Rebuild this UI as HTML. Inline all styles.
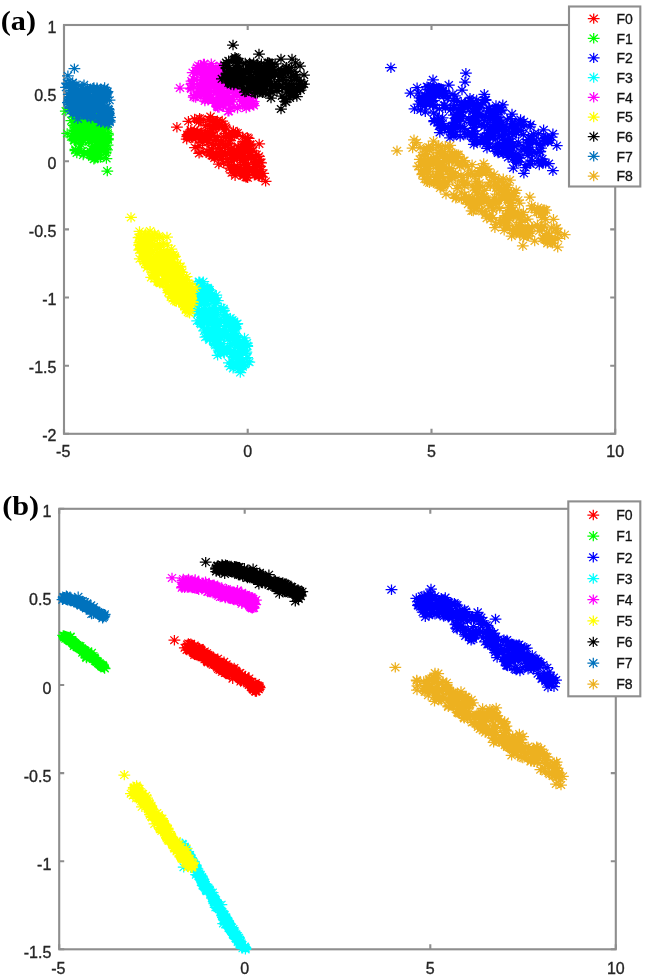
<!DOCTYPE html><html><head><meta charset="utf-8"><title>Scatter plots</title><style>html,body{margin:0;padding:0;background:#fff;width:645px;height:977px;overflow:hidden}svg{display:block;filter:blur(0.35px)}</style></head><body><svg width="645" height="977" viewBox="0 0 645 977"><rect width="645" height="977" fill="#fff"/><rect x="64.0" y="25.0" width="551.2" height="408.8" fill="none" stroke="#8e8e8e" stroke-width="2.1"/><path d="M64.0 433.8v-5M64.0 25.0v5M247.7 433.8v-5M247.7 25.0v5M431.5 433.8v-5M431.5 25.0v5M615.2 433.8v-5M615.2 25.0v5M64.0 25.0h5M615.2 25.0h-5M64.0 93.1h5M615.2 93.1h-5M64.0 161.3h5M615.2 161.3h-5M64.0 229.4h5M615.2 229.4h-5M64.0 297.5h5M615.2 297.5h-5M64.0 365.7h5M615.2 365.7h-5M64.0 433.8h5M615.2 433.8h-5" stroke="#8e8e8e" stroke-width="2.1" fill="none"/><path d="M197.3 134.4h11.8m-5.9-5.2v10.4m-4.1-9l8.2 7.6m-8.2 0l8.2-7.6M210.6 121.2h11.8m-5.9-5.2v10.4m-4.1-9l8.2 7.6m-8.2 0l8.2-7.6M214.1 154.3h11.8m-5.9-5.2v10.4m-4.1-9l8.2 7.6m-8.2 0l8.2-7.6M185.5 137.5h11.8m-5.9-5.2v10.4m-4.1-9l8.2 7.6m-8.2 0l8.2-7.6M226.9 134.9h11.8m-5.9-5.2v10.4m-4.1-9l8.2 7.6m-8.2 0l8.2-7.6M200.8 140.1h11.8m-5.9-5.2v10.4m-4.1-9l8.2 7.6m-8.2 0l8.2-7.6M215.1 159.6h11.8m-5.9-5.2v10.4m-4.1-9l8.2 7.6m-8.2 0l8.2-7.6M189.6 135.0h11.8m-5.9-5.2v10.4m-4.1-9l8.2 7.6m-8.2 0l8.2-7.6M212.7 126.5h11.8m-5.9-5.2v10.4m-4.1-9l8.2 7.6m-8.2 0l8.2-7.6M203.2 152.4h11.8m-5.9-5.2v10.4m-4.1-9l8.2 7.6m-8.2 0l8.2-7.6M243.5 169.3h11.8m-5.9-5.2v10.4m-4.1-9l8.2 7.6m-8.2 0l8.2-7.6M217.6 136.8h11.8m-5.9-5.2v10.4m-4.1-9l8.2 7.6m-8.2 0l8.2-7.6M253.8 162.3h11.8m-5.9-5.2v10.4m-4.1-9l8.2 7.6m-8.2 0l8.2-7.6M250.1 159.2h11.8m-5.9-5.2v10.4m-4.1-9l8.2 7.6m-8.2 0l8.2-7.6M205.9 155.5h11.8m-5.9-5.2v10.4m-4.1-9l8.2 7.6m-8.2 0l8.2-7.6M223.6 168.1h11.8m-5.9-5.2v10.4m-4.1-9l8.2 7.6m-8.2 0l8.2-7.6M244.5 145.0h11.8m-5.9-5.2v10.4m-4.1-9l8.2 7.6m-8.2 0l8.2-7.6M218.0 129.8h11.8m-5.9-5.2v10.4m-4.1-9l8.2 7.6m-8.2 0l8.2-7.6M256.0 177.2h11.8m-5.9-5.2v10.4m-4.1-9l8.2 7.6m-8.2 0l8.2-7.6M217.9 155.7h11.8m-5.9-5.2v10.4m-4.1-9l8.2 7.6m-8.2 0l8.2-7.6M195.7 138.0h11.8m-5.9-5.2v10.4m-4.1-9l8.2 7.6m-8.2 0l8.2-7.6M185.0 131.6h11.8m-5.9-5.2v10.4m-4.1-9l8.2 7.6m-8.2 0l8.2-7.6M236.1 168.9h11.8m-5.9-5.2v10.4m-4.1-9l8.2 7.6m-8.2 0l8.2-7.6M223.1 143.5h11.8m-5.9-5.2v10.4m-4.1-9l8.2 7.6m-8.2 0l8.2-7.6M242.5 164.5h11.8m-5.9-5.2v10.4m-4.1-9l8.2 7.6m-8.2 0l8.2-7.6M232.8 148.0h11.8m-5.9-5.2v10.4m-4.1-9l8.2 7.6m-8.2 0l8.2-7.6M240.0 177.2h11.8m-5.9-5.2v10.4m-4.1-9l8.2 7.6m-8.2 0l8.2-7.6M219.5 152.4h11.8m-5.9-5.2v10.4m-4.1-9l8.2 7.6m-8.2 0l8.2-7.6M229.7 132.4h11.8m-5.9-5.2v10.4m-4.1-9l8.2 7.6m-8.2 0l8.2-7.6M250.6 154.6h11.8m-5.9-5.2v10.4m-4.1-9l8.2 7.6m-8.2 0l8.2-7.6M189.1 147.6h11.8m-5.9-5.2v10.4m-4.1-9l8.2 7.6m-8.2 0l8.2-7.6M255.8 169.8h11.8m-5.9-5.2v10.4m-4.1-9l8.2 7.6m-8.2 0l8.2-7.6M243.3 149.7h11.8m-5.9-5.2v10.4m-4.1-9l8.2 7.6m-8.2 0l8.2-7.6M223.3 151.8h11.8m-5.9-5.2v10.4m-4.1-9l8.2 7.6m-8.2 0l8.2-7.6M192.7 122.3h11.8m-5.9-5.2v10.4m-4.1-9l8.2 7.6m-8.2 0l8.2-7.6M240.2 174.2h11.8m-5.9-5.2v10.4m-4.1-9l8.2 7.6m-8.2 0l8.2-7.6M233.3 171.1h11.8m-5.9-5.2v10.4m-4.1-9l8.2 7.6m-8.2 0l8.2-7.6M217.8 163.1h11.8m-5.9-5.2v10.4m-4.1-9l8.2 7.6m-8.2 0l8.2-7.6M218.5 147.5h11.8m-5.9-5.2v10.4m-4.1-9l8.2 7.6m-8.2 0l8.2-7.6M255.2 162.8h11.8m-5.9-5.2v10.4m-4.1-9l8.2 7.6m-8.2 0l8.2-7.6M201.1 151.0h11.8m-5.9-5.2v10.4m-4.1-9l8.2 7.6m-8.2 0l8.2-7.6M220.0 127.8h11.8m-5.9-5.2v10.4m-4.1-9l8.2 7.6m-8.2 0l8.2-7.6M209.9 124.0h11.8m-5.9-5.2v10.4m-4.1-9l8.2 7.6m-8.2 0l8.2-7.6M227.9 168.3h11.8m-5.9-5.2v10.4m-4.1-9l8.2 7.6m-8.2 0l8.2-7.6M181.4 136.5h11.8m-5.9-5.2v10.4m-4.1-9l8.2 7.6m-8.2 0l8.2-7.6M207.6 124.1h11.8m-5.9-5.2v10.4m-4.1-9l8.2 7.6m-8.2 0l8.2-7.6M182.4 135.9h11.8m-5.9-5.2v10.4m-4.1-9l8.2 7.6m-8.2 0l8.2-7.6M248.5 175.3h11.8m-5.9-5.2v10.4m-4.1-9l8.2 7.6m-8.2 0l8.2-7.6M186.9 137.9h11.8m-5.9-5.2v10.4m-4.1-9l8.2 7.6m-8.2 0l8.2-7.6M182.5 121.3h11.8m-5.9-5.2v10.4m-4.1-9l8.2 7.6m-8.2 0l8.2-7.6M185.2 134.0h11.8m-5.9-5.2v10.4m-4.1-9l8.2 7.6m-8.2 0l8.2-7.6M205.5 149.0h11.8m-5.9-5.2v10.4m-4.1-9l8.2 7.6m-8.2 0l8.2-7.6M226.8 152.2h11.8m-5.9-5.2v10.4m-4.1-9l8.2 7.6m-8.2 0l8.2-7.6M233.6 157.7h11.8m-5.9-5.2v10.4m-4.1-9l8.2 7.6m-8.2 0l8.2-7.6M201.5 133.8h11.8m-5.9-5.2v10.4m-4.1-9l8.2 7.6m-8.2 0l8.2-7.6M237.8 176.0h11.8m-5.9-5.2v10.4m-4.1-9l8.2 7.6m-8.2 0l8.2-7.6M225.9 170.2h11.8m-5.9-5.2v10.4m-4.1-9l8.2 7.6m-8.2 0l8.2-7.6M222.6 135.9h11.8m-5.9-5.2v10.4m-4.1-9l8.2 7.6m-8.2 0l8.2-7.6M242.0 158.6h11.8m-5.9-5.2v10.4m-4.1-9l8.2 7.6m-8.2 0l8.2-7.6M242.9 150.2h11.8m-5.9-5.2v10.4m-4.1-9l8.2 7.6m-8.2 0l8.2-7.6M232.0 146.2h11.8m-5.9-5.2v10.4m-4.1-9l8.2 7.6m-8.2 0l8.2-7.6M225.9 172.8h11.8m-5.9-5.2v10.4m-4.1-9l8.2 7.6m-8.2 0l8.2-7.6M257.3 173.4h11.8m-5.9-5.2v10.4m-4.1-9l8.2 7.6m-8.2 0l8.2-7.6M236.0 170.5h11.8m-5.9-5.2v10.4m-4.1-9l8.2 7.6m-8.2 0l8.2-7.6M223.8 152.5h11.8m-5.9-5.2v10.4m-4.1-9l8.2 7.6m-8.2 0l8.2-7.6M204.0 154.1h11.8m-5.9-5.2v10.4m-4.1-9l8.2 7.6m-8.2 0l8.2-7.6M199.6 125.8h11.8m-5.9-5.2v10.4m-4.1-9l8.2 7.6m-8.2 0l8.2-7.6M242.4 155.0h11.8m-5.9-5.2v10.4m-4.1-9l8.2 7.6m-8.2 0l8.2-7.6M207.9 135.0h11.8m-5.9-5.2v10.4m-4.1-9l8.2 7.6m-8.2 0l8.2-7.6M230.0 170.8h11.8m-5.9-5.2v10.4m-4.1-9l8.2 7.6m-8.2 0l8.2-7.6M216.4 156.3h11.8m-5.9-5.2v10.4m-4.1-9l8.2 7.6m-8.2 0l8.2-7.6M237.2 160.7h11.8m-5.9-5.2v10.4m-4.1-9l8.2 7.6m-8.2 0l8.2-7.6M193.7 118.3h11.8m-5.9-5.2v10.4m-4.1-9l8.2 7.6m-8.2 0l8.2-7.6M252.2 175.9h11.8m-5.9-5.2v10.4m-4.1-9l8.2 7.6m-8.2 0l8.2-7.6M253.4 176.2h11.8m-5.9-5.2v10.4m-4.1-9l8.2 7.6m-8.2 0l8.2-7.6M186.4 133.3h11.8m-5.9-5.2v10.4m-4.1-9l8.2 7.6m-8.2 0l8.2-7.6M188.7 118.9h11.8m-5.9-5.2v10.4m-4.1-9l8.2 7.6m-8.2 0l8.2-7.6M184.7 132.5h11.8m-5.9-5.2v10.4m-4.1-9l8.2 7.6m-8.2 0l8.2-7.6M238.0 150.6h11.8m-5.9-5.2v10.4m-4.1-9l8.2 7.6m-8.2 0l8.2-7.6M191.5 131.5h11.8m-5.9-5.2v10.4m-4.1-9l8.2 7.6m-8.2 0l8.2-7.6M224.3 140.6h11.8m-5.9-5.2v10.4m-4.1-9l8.2 7.6m-8.2 0l8.2-7.6M228.5 167.7h11.8m-5.9-5.2v10.4m-4.1-9l8.2 7.6m-8.2 0l8.2-7.6M219.5 144.3h11.8m-5.9-5.2v10.4m-4.1-9l8.2 7.6m-8.2 0l8.2-7.6M237.7 146.0h11.8m-5.9-5.2v10.4m-4.1-9l8.2 7.6m-8.2 0l8.2-7.6M239.4 147.0h11.8m-5.9-5.2v10.4m-4.1-9l8.2 7.6m-8.2 0l8.2-7.6M193.2 153.4h11.8m-5.9-5.2v10.4m-4.1-9l8.2 7.6m-8.2 0l8.2-7.6M249.1 159.2h11.8m-5.9-5.2v10.4m-4.1-9l8.2 7.6m-8.2 0l8.2-7.6M227.9 158.3h11.8m-5.9-5.2v10.4m-4.1-9l8.2 7.6m-8.2 0l8.2-7.6M212.4 140.9h11.8m-5.9-5.2v10.4m-4.1-9l8.2 7.6m-8.2 0l8.2-7.6M181.6 134.6h11.8m-5.9-5.2v10.4m-4.1-9l8.2 7.6m-8.2 0l8.2-7.6M219.3 126.2h11.8m-5.9-5.2v10.4m-4.1-9l8.2 7.6m-8.2 0l8.2-7.6M251.5 163.9h11.8m-5.9-5.2v10.4m-4.1-9l8.2 7.6m-8.2 0l8.2-7.6M225.5 149.0h11.8m-5.9-5.2v10.4m-4.1-9l8.2 7.6m-8.2 0l8.2-7.6M253.8 159.0h11.8m-5.9-5.2v10.4m-4.1-9l8.2 7.6m-8.2 0l8.2-7.6M226.0 132.8h11.8m-5.9-5.2v10.4m-4.1-9l8.2 7.6m-8.2 0l8.2-7.6M237.5 164.4h11.8m-5.9-5.2v10.4m-4.1-9l8.2 7.6m-8.2 0l8.2-7.6M235.8 156.3h11.8m-5.9-5.2v10.4m-4.1-9l8.2 7.6m-8.2 0l8.2-7.6M233.6 172.0h11.8m-5.9-5.2v10.4m-4.1-9l8.2 7.6m-8.2 0l8.2-7.6M211.4 122.7h11.8m-5.9-5.2v10.4m-4.1-9l8.2 7.6m-8.2 0l8.2-7.6M206.0 121.3h11.8m-5.9-5.2v10.4m-4.1-9l8.2 7.6m-8.2 0l8.2-7.6M250.0 167.9h11.8m-5.9-5.2v10.4m-4.1-9l8.2 7.6m-8.2 0l8.2-7.6M241.0 168.2h11.8m-5.9-5.2v10.4m-4.1-9l8.2 7.6m-8.2 0l8.2-7.6M206.1 143.5h11.8m-5.9-5.2v10.4m-4.1-9l8.2 7.6m-8.2 0l8.2-7.6M236.6 172.4h11.8m-5.9-5.2v10.4m-4.1-9l8.2 7.6m-8.2 0l8.2-7.6M247.2 150.8h11.8m-5.9-5.2v10.4m-4.1-9l8.2 7.6m-8.2 0l8.2-7.6M236.7 136.6h11.8m-5.9-5.2v10.4m-4.1-9l8.2 7.6m-8.2 0l8.2-7.6M204.7 128.4h11.8m-5.9-5.2v10.4m-4.1-9l8.2 7.6m-8.2 0l8.2-7.6M196.5 142.5h11.8m-5.9-5.2v10.4m-4.1-9l8.2 7.6m-8.2 0l8.2-7.6M239.9 177.3h11.8m-5.9-5.2v10.4m-4.1-9l8.2 7.6m-8.2 0l8.2-7.6M247.1 156.2h11.8m-5.9-5.2v10.4m-4.1-9l8.2 7.6m-8.2 0l8.2-7.6M208.6 157.9h11.8m-5.9-5.2v10.4m-4.1-9l8.2 7.6m-8.2 0l8.2-7.6M193.1 133.8h11.8m-5.9-5.2v10.4m-4.1-9l8.2 7.6m-8.2 0l8.2-7.6M223.2 158.4h11.8m-5.9-5.2v10.4m-4.1-9l8.2 7.6m-8.2 0l8.2-7.6M252.9 171.5h11.8m-5.9-5.2v10.4m-4.1-9l8.2 7.6m-8.2 0l8.2-7.6M222.6 140.8h11.8m-5.9-5.2v10.4m-4.1-9l8.2 7.6m-8.2 0l8.2-7.6M195.1 152.1h11.8m-5.9-5.2v10.4m-4.1-9l8.2 7.6m-8.2 0l8.2-7.6M221.2 161.5h11.8m-5.9-5.2v10.4m-4.1-9l8.2 7.6m-8.2 0l8.2-7.6M229.2 175.7h11.8m-5.9-5.2v10.4m-4.1-9l8.2 7.6m-8.2 0l8.2-7.6M203.7 153.8h11.8m-5.9-5.2v10.4m-4.1-9l8.2 7.6m-8.2 0l8.2-7.6M198.7 137.1h11.8m-5.9-5.2v10.4m-4.1-9l8.2 7.6m-8.2 0l8.2-7.6M204.3 139.4h11.8m-5.9-5.2v10.4m-4.1-9l8.2 7.6m-8.2 0l8.2-7.6M237.8 162.7h11.8m-5.9-5.2v10.4m-4.1-9l8.2 7.6m-8.2 0l8.2-7.6M203.0 119.0h11.8m-5.9-5.2v10.4m-4.1-9l8.2 7.6m-8.2 0l8.2-7.6M191.9 135.6h11.8m-5.9-5.2v10.4m-4.1-9l8.2 7.6m-8.2 0l8.2-7.6M215.6 124.2h11.8m-5.9-5.2v10.4m-4.1-9l8.2 7.6m-8.2 0l8.2-7.6M190.8 132.5h11.8m-5.9-5.2v10.4m-4.1-9l8.2 7.6m-8.2 0l8.2-7.6M234.0 173.5h11.8m-5.9-5.2v10.4m-4.1-9l8.2 7.6m-8.2 0l8.2-7.6M213.2 126.2h11.8m-5.9-5.2v10.4m-4.1-9l8.2 7.6m-8.2 0l8.2-7.6M227.8 152.9h11.8m-5.9-5.2v10.4m-4.1-9l8.2 7.6m-8.2 0l8.2-7.6M228.2 149.6h11.8m-5.9-5.2v10.4m-4.1-9l8.2 7.6m-8.2 0l8.2-7.6M231.7 132.9h11.8m-5.9-5.2v10.4m-4.1-9l8.2 7.6m-8.2 0l8.2-7.6M193.1 145.4h11.8m-5.9-5.2v10.4m-4.1-9l8.2 7.6m-8.2 0l8.2-7.6M250.8 173.9h11.8m-5.9-5.2v10.4m-4.1-9l8.2 7.6m-8.2 0l8.2-7.6M243.1 171.1h11.8m-5.9-5.2v10.4m-4.1-9l8.2 7.6m-8.2 0l8.2-7.6M228.5 166.4h11.8m-5.9-5.2v10.4m-4.1-9l8.2 7.6m-8.2 0l8.2-7.6M238.1 144.3h11.8m-5.9-5.2v10.4m-4.1-9l8.2 7.6m-8.2 0l8.2-7.6M225.8 160.9h11.8m-5.9-5.2v10.4m-4.1-9l8.2 7.6m-8.2 0l8.2-7.6M206.2 131.9h11.8m-5.9-5.2v10.4m-4.1-9l8.2 7.6m-8.2 0l8.2-7.6M247.8 164.4h11.8m-5.9-5.2v10.4m-4.1-9l8.2 7.6m-8.2 0l8.2-7.6M201.2 124.8h11.8m-5.9-5.2v10.4m-4.1-9l8.2 7.6m-8.2 0l8.2-7.6M220.6 133.7h11.8m-5.9-5.2v10.4m-4.1-9l8.2 7.6m-8.2 0l8.2-7.6M203.0 119.5h11.8m-5.9-5.2v10.4m-4.1-9l8.2 7.6m-8.2 0l8.2-7.6M198.1 141.0h11.8m-5.9-5.2v10.4m-4.1-9l8.2 7.6m-8.2 0l8.2-7.6M224.2 136.2h11.8m-5.9-5.2v10.4m-4.1-9l8.2 7.6m-8.2 0l8.2-7.6M218.9 145.5h11.8m-5.9-5.2v10.4m-4.1-9l8.2 7.6m-8.2 0l8.2-7.6M202.5 137.0h11.8m-5.9-5.2v10.4m-4.1-9l8.2 7.6m-8.2 0l8.2-7.6M242.8 138.4h11.8m-5.9-5.2v10.4m-4.1-9l8.2 7.6m-8.2 0l8.2-7.6M212.9 145.7h11.8m-5.9-5.2v10.4m-4.1-9l8.2 7.6m-8.2 0l8.2-7.6M241.5 137.4h11.8m-5.9-5.2v10.4m-4.1-9l8.2 7.6m-8.2 0l8.2-7.6M207.3 156.0h11.8m-5.9-5.2v10.4m-4.1-9l8.2 7.6m-8.2 0l8.2-7.6M207.7 145.0h11.8m-5.9-5.2v10.4m-4.1-9l8.2 7.6m-8.2 0l8.2-7.6M206.3 151.0h11.8m-5.9-5.2v10.4m-4.1-9l8.2 7.6m-8.2 0l8.2-7.6M228.4 150.5h11.8m-5.9-5.2v10.4m-4.1-9l8.2 7.6m-8.2 0l8.2-7.6M210.2 153.4h11.8m-5.9-5.2v10.4m-4.1-9l8.2 7.6m-8.2 0l8.2-7.6M190.3 134.4h11.8m-5.9-5.2v10.4m-4.1-9l8.2 7.6m-8.2 0l8.2-7.6M195.8 134.8h11.8m-5.9-5.2v10.4m-4.1-9l8.2 7.6m-8.2 0l8.2-7.6M253.0 156.3h11.8m-5.9-5.2v10.4m-4.1-9l8.2 7.6m-8.2 0l8.2-7.6M200.5 139.6h11.8m-5.9-5.2v10.4m-4.1-9l8.2 7.6m-8.2 0l8.2-7.6M210.3 139.9h11.8m-5.9-5.2v10.4m-4.1-9l8.2 7.6m-8.2 0l8.2-7.6M194.7 135.8h11.8m-5.9-5.2v10.4m-4.1-9l8.2 7.6m-8.2 0l8.2-7.6M206.8 155.4h11.8m-5.9-5.2v10.4m-4.1-9l8.2 7.6m-8.2 0l8.2-7.6M227.5 130.7h11.8m-5.9-5.2v10.4m-4.1-9l8.2 7.6m-8.2 0l8.2-7.6M190.2 138.3h11.8m-5.9-5.2v10.4m-4.1-9l8.2 7.6m-8.2 0l8.2-7.6M185.1 134.0h11.8m-5.9-5.2v10.4m-4.1-9l8.2 7.6m-8.2 0l8.2-7.6M229.7 168.9h11.8m-5.9-5.2v10.4m-4.1-9l8.2 7.6m-8.2 0l8.2-7.6M231.2 153.8h11.8m-5.9-5.2v10.4m-4.1-9l8.2 7.6m-8.2 0l8.2-7.6M237.3 175.5h11.8m-5.9-5.2v10.4m-4.1-9l8.2 7.6m-8.2 0l8.2-7.6M243.4 146.2h11.8m-5.9-5.2v10.4m-4.1-9l8.2 7.6m-8.2 0l8.2-7.6M211.5 120.8h11.8m-5.9-5.2v10.4m-4.1-9l8.2 7.6m-8.2 0l8.2-7.6M242.1 156.7h11.8m-5.9-5.2v10.4m-4.1-9l8.2 7.6m-8.2 0l8.2-7.6M208.1 129.1h11.8m-5.9-5.2v10.4m-4.1-9l8.2 7.6m-8.2 0l8.2-7.6M241.8 177.8h11.8m-5.9-5.2v10.4m-4.1-9l8.2 7.6m-8.2 0l8.2-7.6M194.0 120.5h11.8m-5.9-5.2v10.4m-4.1-9l8.2 7.6m-8.2 0l8.2-7.6M249.3 174.4h11.8m-5.9-5.2v10.4m-4.1-9l8.2 7.6m-8.2 0l8.2-7.6M243.2 170.2h11.8m-5.9-5.2v10.4m-4.1-9l8.2 7.6m-8.2 0l8.2-7.6M248.7 159.7h11.8m-5.9-5.2v10.4m-4.1-9l8.2 7.6m-8.2 0l8.2-7.6M236.6 152.8h11.8m-5.9-5.2v10.4m-4.1-9l8.2 7.6m-8.2 0l8.2-7.6M190.6 133.1h11.8m-5.9-5.2v10.4m-4.1-9l8.2 7.6m-8.2 0l8.2-7.6M184.7 135.1h11.8m-5.9-5.2v10.4m-4.1-9l8.2 7.6m-8.2 0l8.2-7.6M209.9 155.1h11.8m-5.9-5.2v10.4m-4.1-9l8.2 7.6m-8.2 0l8.2-7.6M211.4 137.6h11.8m-5.9-5.2v10.4m-4.1-9l8.2 7.6m-8.2 0l8.2-7.6M180.8 139.2h11.8m-5.9-5.2v10.4m-4.1-9l8.2 7.6m-8.2 0l8.2-7.6M183.3 137.2h11.8m-5.9-5.2v10.4m-4.1-9l8.2 7.6m-8.2 0l8.2-7.6M253.6 166.6h11.8m-5.9-5.2v10.4m-4.1-9l8.2 7.6m-8.2 0l8.2-7.6M202.2 142.2h11.8m-5.9-5.2v10.4m-4.1-9l8.2 7.6m-8.2 0l8.2-7.6M236.4 171.9h11.8m-5.9-5.2v10.4m-4.1-9l8.2 7.6m-8.2 0l8.2-7.6M230.4 171.9h11.8m-5.9-5.2v10.4m-4.1-9l8.2 7.6m-8.2 0l8.2-7.6M204.9 132.8h11.8m-5.9-5.2v10.4m-4.1-9l8.2 7.6m-8.2 0l8.2-7.6M228.4 167.1h11.8m-5.9-5.2v10.4m-4.1-9l8.2 7.6m-8.2 0l8.2-7.6M204.6 116.6h11.8m-5.9-5.2v10.4m-4.1-9l8.2 7.6m-8.2 0l8.2-7.6M238.3 141.7h11.8m-5.9-5.2v10.4m-4.1-9l8.2 7.6m-8.2 0l8.2-7.6M245.1 151.8h11.8m-5.9-5.2v10.4m-4.1-9l8.2 7.6m-8.2 0l8.2-7.6M186.1 132.0h11.8m-5.9-5.2v10.4m-4.1-9l8.2 7.6m-8.2 0l8.2-7.6M198.9 133.9h11.8m-5.9-5.2v10.4m-4.1-9l8.2 7.6m-8.2 0l8.2-7.6M238.7 148.7h11.8m-5.9-5.2v10.4m-4.1-9l8.2 7.6m-8.2 0l8.2-7.6M215.3 155.4h11.8m-5.9-5.2v10.4m-4.1-9l8.2 7.6m-8.2 0l8.2-7.6M239.7 143.6h11.8m-5.9-5.2v10.4m-4.1-9l8.2 7.6m-8.2 0l8.2-7.6M259.7 181.4h11.8m-5.9-5.2v10.4m-4.1-9l8.2 7.6m-8.2 0l8.2-7.6M245.6 157.2h11.8m-5.9-5.2v10.4m-4.1-9l8.2 7.6m-8.2 0l8.2-7.6M184.9 130.1h11.8m-5.9-5.2v10.4m-4.1-9l8.2 7.6m-8.2 0l8.2-7.6M228.8 135.5h11.8m-5.9-5.2v10.4m-4.1-9l8.2 7.6m-8.2 0l8.2-7.6M216.3 121.0h11.8m-5.9-5.2v10.4m-4.1-9l8.2 7.6m-8.2 0l8.2-7.6M239.4 169.9h11.8m-5.9-5.2v10.4m-4.1-9l8.2 7.6m-8.2 0l8.2-7.6M208.7 124.8h11.8m-5.9-5.2v10.4m-4.1-9l8.2 7.6m-8.2 0l8.2-7.6M241.0 177.2h11.8m-5.9-5.2v10.4m-4.1-9l8.2 7.6m-8.2 0l8.2-7.6M195.3 119.3h11.8m-5.9-5.2v10.4m-4.1-9l8.2 7.6m-8.2 0l8.2-7.6M213.6 147.9h11.8m-5.9-5.2v10.4m-4.1-9l8.2 7.6m-8.2 0l8.2-7.6M245.4 152.4h11.8m-5.9-5.2v10.4m-4.1-9l8.2 7.6m-8.2 0l8.2-7.6M250.7 172.3h11.8m-5.9-5.2v10.4m-4.1-9l8.2 7.6m-8.2 0l8.2-7.6M240.6 174.4h11.8m-5.9-5.2v10.4m-4.1-9l8.2 7.6m-8.2 0l8.2-7.6M212.9 164.1h11.8m-5.9-5.2v10.4m-4.1-9l8.2 7.6m-8.2 0l8.2-7.6M223.6 165.7h11.8m-5.9-5.2v10.4m-4.1-9l8.2 7.6m-8.2 0l8.2-7.6M227.4 159.0h11.8m-5.9-5.2v10.4m-4.1-9l8.2 7.6m-8.2 0l8.2-7.6M236.0 150.4h11.8m-5.9-5.2v10.4m-4.1-9l8.2 7.6m-8.2 0l8.2-7.6M195.4 132.5h11.8m-5.9-5.2v10.4m-4.1-9l8.2 7.6m-8.2 0l8.2-7.6M181.6 134.9h11.8m-5.9-5.2v10.4m-4.1-9l8.2 7.6m-8.2 0l8.2-7.6M253.3 143.9h11.8m-5.9-5.2v10.4m-4.1-9l8.2 7.6m-8.2 0l8.2-7.6M215.1 141.0h11.8m-5.9-5.2v10.4m-4.1-9l8.2 7.6m-8.2 0l8.2-7.6M244.0 144.2h11.8m-5.9-5.2v10.4m-4.1-9l8.2 7.6m-8.2 0l8.2-7.6M206.1 130.0h11.8m-5.9-5.2v10.4m-4.1-9l8.2 7.6m-8.2 0l8.2-7.6M171.0 127.2h11.8m-5.9-5.2v10.4m-4.1-9l8.2 7.6m-8.2 0l8.2-7.6M256.1 177.0h11.8m-5.9-5.2v10.4m-4.1-9l8.2 7.6m-8.2 0l8.2-7.6" stroke="#ff0000" stroke-width="1.25" fill="none"/><path d="M76.7 140.1h11.8m-5.9-5.2v10.4m-4.1-9l8.2 7.6m-8.2 0l8.2-7.6M94.6 134.7h11.8m-5.9-5.2v10.4m-4.1-9l8.2 7.6m-8.2 0l8.2-7.6M89.9 135.0h11.8m-5.9-5.2v10.4m-4.1-9l8.2 7.6m-8.2 0l8.2-7.6M102.2 134.9h11.8m-5.9-5.2v10.4m-4.1-9l8.2 7.6m-8.2 0l8.2-7.6M99.9 135.5h11.8m-5.9-5.2v10.4m-4.1-9l8.2 7.6m-8.2 0l8.2-7.6M76.8 139.1h11.8m-5.9-5.2v10.4m-4.1-9l8.2 7.6m-8.2 0l8.2-7.6M81.4 153.3h11.8m-5.9-5.2v10.4m-4.1-9l8.2 7.6m-8.2 0l8.2-7.6M89.4 127.7h11.8m-5.9-5.2v10.4m-4.1-9l8.2 7.6m-8.2 0l8.2-7.6M85.9 132.8h11.8m-5.9-5.2v10.4m-4.1-9l8.2 7.6m-8.2 0l8.2-7.6M69.5 122.3h11.8m-5.9-5.2v10.4m-4.1-9l8.2 7.6m-8.2 0l8.2-7.6M68.1 139.9h11.8m-5.9-5.2v10.4m-4.1-9l8.2 7.6m-8.2 0l8.2-7.6M97.5 143.0h11.8m-5.9-5.2v10.4m-4.1-9l8.2 7.6m-8.2 0l8.2-7.6M69.4 116.7h11.8m-5.9-5.2v10.4m-4.1-9l8.2 7.6m-8.2 0l8.2-7.6M89.3 120.3h11.8m-5.9-5.2v10.4m-4.1-9l8.2 7.6m-8.2 0l8.2-7.6M95.7 149.0h11.8m-5.9-5.2v10.4m-4.1-9l8.2 7.6m-8.2 0l8.2-7.6M92.1 154.5h11.8m-5.9-5.2v10.4m-4.1-9l8.2 7.6m-8.2 0l8.2-7.6M77.4 119.6h11.8m-5.9-5.2v10.4m-4.1-9l8.2 7.6m-8.2 0l8.2-7.6M91.7 125.8h11.8m-5.9-5.2v10.4m-4.1-9l8.2 7.6m-8.2 0l8.2-7.6M81.1 128.5h11.8m-5.9-5.2v10.4m-4.1-9l8.2 7.6m-8.2 0l8.2-7.6M77.9 125.8h11.8m-5.9-5.2v10.4m-4.1-9l8.2 7.6m-8.2 0l8.2-7.6M77.3 155.1h11.8m-5.9-5.2v10.4m-4.1-9l8.2 7.6m-8.2 0l8.2-7.6M78.1 134.9h11.8m-5.9-5.2v10.4m-4.1-9l8.2 7.6m-8.2 0l8.2-7.6M101.7 145.1h11.8m-5.9-5.2v10.4m-4.1-9l8.2 7.6m-8.2 0l8.2-7.6M99.6 123.9h11.8m-5.9-5.2v10.4m-4.1-9l8.2 7.6m-8.2 0l8.2-7.6M80.9 122.3h11.8m-5.9-5.2v10.4m-4.1-9l8.2 7.6m-8.2 0l8.2-7.6M72.8 141.2h11.8m-5.9-5.2v10.4m-4.1-9l8.2 7.6m-8.2 0l8.2-7.6M76.4 140.2h11.8m-5.9-5.2v10.4m-4.1-9l8.2 7.6m-8.2 0l8.2-7.6M89.5 134.8h11.8m-5.9-5.2v10.4m-4.1-9l8.2 7.6m-8.2 0l8.2-7.6M95.3 115.5h11.8m-5.9-5.2v10.4m-4.1-9l8.2 7.6m-8.2 0l8.2-7.6M97.3 141.7h11.8m-5.9-5.2v10.4m-4.1-9l8.2 7.6m-8.2 0l8.2-7.6M88.6 148.7h11.8m-5.9-5.2v10.4m-4.1-9l8.2 7.6m-8.2 0l8.2-7.6M77.5 117.0h11.8m-5.9-5.2v10.4m-4.1-9l8.2 7.6m-8.2 0l8.2-7.6M99.0 150.1h11.8m-5.9-5.2v10.4m-4.1-9l8.2 7.6m-8.2 0l8.2-7.6M88.8 152.5h11.8m-5.9-5.2v10.4m-4.1-9l8.2 7.6m-8.2 0l8.2-7.6M95.6 129.2h11.8m-5.9-5.2v10.4m-4.1-9l8.2 7.6m-8.2 0l8.2-7.6M95.8 149.8h11.8m-5.9-5.2v10.4m-4.1-9l8.2 7.6m-8.2 0l8.2-7.6M97.8 148.7h11.8m-5.9-5.2v10.4m-4.1-9l8.2 7.6m-8.2 0l8.2-7.6M88.3 135.2h11.8m-5.9-5.2v10.4m-4.1-9l8.2 7.6m-8.2 0l8.2-7.6M82.9 142.0h11.8m-5.9-5.2v10.4m-4.1-9l8.2 7.6m-8.2 0l8.2-7.6M70.9 153.0h11.8m-5.9-5.2v10.4m-4.1-9l8.2 7.6m-8.2 0l8.2-7.6M87.9 115.8h11.8m-5.9-5.2v10.4m-4.1-9l8.2 7.6m-8.2 0l8.2-7.6M96.8 126.9h11.8m-5.9-5.2v10.4m-4.1-9l8.2 7.6m-8.2 0l8.2-7.6M68.6 135.0h11.8m-5.9-5.2v10.4m-4.1-9l8.2 7.6m-8.2 0l8.2-7.6M75.9 128.5h11.8m-5.9-5.2v10.4m-4.1-9l8.2 7.6m-8.2 0l8.2-7.6M91.8 158.1h11.8m-5.9-5.2v10.4m-4.1-9l8.2 7.6m-8.2 0l8.2-7.6M99.3 152.9h11.8m-5.9-5.2v10.4m-4.1-9l8.2 7.6m-8.2 0l8.2-7.6M95.6 129.4h11.8m-5.9-5.2v10.4m-4.1-9l8.2 7.6m-8.2 0l8.2-7.6M91.3 144.7h11.8m-5.9-5.2v10.4m-4.1-9l8.2 7.6m-8.2 0l8.2-7.6M80.2 124.6h11.8m-5.9-5.2v10.4m-4.1-9l8.2 7.6m-8.2 0l8.2-7.6M100.0 126.4h11.8m-5.9-5.2v10.4m-4.1-9l8.2 7.6m-8.2 0l8.2-7.6M95.0 132.5h11.8m-5.9-5.2v10.4m-4.1-9l8.2 7.6m-8.2 0l8.2-7.6M99.4 128.2h11.8m-5.9-5.2v10.4m-4.1-9l8.2 7.6m-8.2 0l8.2-7.6M72.7 130.1h11.8m-5.9-5.2v10.4m-4.1-9l8.2 7.6m-8.2 0l8.2-7.6M69.3 124.9h11.8m-5.9-5.2v10.4m-4.1-9l8.2 7.6m-8.2 0l8.2-7.6M78.4 115.0h11.8m-5.9-5.2v10.4m-4.1-9l8.2 7.6m-8.2 0l8.2-7.6M88.8 137.0h11.8m-5.9-5.2v10.4m-4.1-9l8.2 7.6m-8.2 0l8.2-7.6M98.9 127.0h11.8m-5.9-5.2v10.4m-4.1-9l8.2 7.6m-8.2 0l8.2-7.6M79.6 116.3h11.8m-5.9-5.2v10.4m-4.1-9l8.2 7.6m-8.2 0l8.2-7.6M86.4 121.7h11.8m-5.9-5.2v10.4m-4.1-9l8.2 7.6m-8.2 0l8.2-7.6M71.0 121.6h11.8m-5.9-5.2v10.4m-4.1-9l8.2 7.6m-8.2 0l8.2-7.6M96.3 114.4h11.8m-5.9-5.2v10.4m-4.1-9l8.2 7.6m-8.2 0l8.2-7.6M100.2 140.0h11.8m-5.9-5.2v10.4m-4.1-9l8.2 7.6m-8.2 0l8.2-7.6M92.1 146.4h11.8m-5.9-5.2v10.4m-4.1-9l8.2 7.6m-8.2 0l8.2-7.6M86.9 133.0h11.8m-5.9-5.2v10.4m-4.1-9l8.2 7.6m-8.2 0l8.2-7.6M70.8 136.6h11.8m-5.9-5.2v10.4m-4.1-9l8.2 7.6m-8.2 0l8.2-7.6M81.2 118.5h11.8m-5.9-5.2v10.4m-4.1-9l8.2 7.6m-8.2 0l8.2-7.6M86.4 156.9h11.8m-5.9-5.2v10.4m-4.1-9l8.2 7.6m-8.2 0l8.2-7.6M75.9 151.6h11.8m-5.9-5.2v10.4m-4.1-9l8.2 7.6m-8.2 0l8.2-7.6M86.1 138.7h11.8m-5.9-5.2v10.4m-4.1-9l8.2 7.6m-8.2 0l8.2-7.6M68.6 140.8h11.8m-5.9-5.2v10.4m-4.1-9l8.2 7.6m-8.2 0l8.2-7.6M92.2 156.0h11.8m-5.9-5.2v10.4m-4.1-9l8.2 7.6m-8.2 0l8.2-7.6M85.2 136.6h11.8m-5.9-5.2v10.4m-4.1-9l8.2 7.6m-8.2 0l8.2-7.6M92.8 128.0h11.8m-5.9-5.2v10.4m-4.1-9l8.2 7.6m-8.2 0l8.2-7.6M101.8 139.9h11.8m-5.9-5.2v10.4m-4.1-9l8.2 7.6m-8.2 0l8.2-7.6M94.7 157.5h11.8m-5.9-5.2v10.4m-4.1-9l8.2 7.6m-8.2 0l8.2-7.6M88.0 156.5h11.8m-5.9-5.2v10.4m-4.1-9l8.2 7.6m-8.2 0l8.2-7.6M82.8 140.3h11.8m-5.9-5.2v10.4m-4.1-9l8.2 7.6m-8.2 0l8.2-7.6M86.2 153.6h11.8m-5.9-5.2v10.4m-4.1-9l8.2 7.6m-8.2 0l8.2-7.6M98.9 121.5h11.8m-5.9-5.2v10.4m-4.1-9l8.2 7.6m-8.2 0l8.2-7.6M69.7 139.5h11.8m-5.9-5.2v10.4m-4.1-9l8.2 7.6m-8.2 0l8.2-7.6M70.1 131.1h11.8m-5.9-5.2v10.4m-4.1-9l8.2 7.6m-8.2 0l8.2-7.6M75.1 119.8h11.8m-5.9-5.2v10.4m-4.1-9l8.2 7.6m-8.2 0l8.2-7.6M89.6 152.7h11.8m-5.9-5.2v10.4m-4.1-9l8.2 7.6m-8.2 0l8.2-7.6M87.4 129.5h11.8m-5.9-5.2v10.4m-4.1-9l8.2 7.6m-8.2 0l8.2-7.6M87.6 150.2h11.8m-5.9-5.2v10.4m-4.1-9l8.2 7.6m-8.2 0l8.2-7.6M93.8 130.5h11.8m-5.9-5.2v10.4m-4.1-9l8.2 7.6m-8.2 0l8.2-7.6M91.7 140.7h11.8m-5.9-5.2v10.4m-4.1-9l8.2 7.6m-8.2 0l8.2-7.6M87.7 153.2h11.8m-5.9-5.2v10.4m-4.1-9l8.2 7.6m-8.2 0l8.2-7.6M75.6 144.9h11.8m-5.9-5.2v10.4m-4.1-9l8.2 7.6m-8.2 0l8.2-7.6M75.9 136.0h11.8m-5.9-5.2v10.4m-4.1-9l8.2 7.6m-8.2 0l8.2-7.6M74.5 131.5h11.8m-5.9-5.2v10.4m-4.1-9l8.2 7.6m-8.2 0l8.2-7.6M71.4 123.1h11.8m-5.9-5.2v10.4m-4.1-9l8.2 7.6m-8.2 0l8.2-7.6M97.3 136.8h11.8m-5.9-5.2v10.4m-4.1-9l8.2 7.6m-8.2 0l8.2-7.6M89.9 139.3h11.8m-5.9-5.2v10.4m-4.1-9l8.2 7.6m-8.2 0l8.2-7.6M87.2 153.7h11.8m-5.9-5.2v10.4m-4.1-9l8.2 7.6m-8.2 0l8.2-7.6M94.6 132.4h11.8m-5.9-5.2v10.4m-4.1-9l8.2 7.6m-8.2 0l8.2-7.6M96.0 124.6h11.8m-5.9-5.2v10.4m-4.1-9l8.2 7.6m-8.2 0l8.2-7.6M91.6 122.1h11.8m-5.9-5.2v10.4m-4.1-9l8.2 7.6m-8.2 0l8.2-7.6M91.8 125.6h11.8m-5.9-5.2v10.4m-4.1-9l8.2 7.6m-8.2 0l8.2-7.6M97.0 125.3h11.8m-5.9-5.2v10.4m-4.1-9l8.2 7.6m-8.2 0l8.2-7.6M78.5 124.5h11.8m-5.9-5.2v10.4m-4.1-9l8.2 7.6m-8.2 0l8.2-7.6M93.1 122.9h11.8m-5.9-5.2v10.4m-4.1-9l8.2 7.6m-8.2 0l8.2-7.6M101.1 149.9h11.8m-5.9-5.2v10.4m-4.1-9l8.2 7.6m-8.2 0l8.2-7.6M77.9 129.1h11.8m-5.9-5.2v10.4m-4.1-9l8.2 7.6m-8.2 0l8.2-7.6M101.8 133.3h11.8m-5.9-5.2v10.4m-4.1-9l8.2 7.6m-8.2 0l8.2-7.6M71.4 117.7h11.8m-5.9-5.2v10.4m-4.1-9l8.2 7.6m-8.2 0l8.2-7.6M81.3 123.5h11.8m-5.9-5.2v10.4m-4.1-9l8.2 7.6m-8.2 0l8.2-7.6M97.8 142.4h11.8m-5.9-5.2v10.4m-4.1-9l8.2 7.6m-8.2 0l8.2-7.6M77.5 140.3h11.8m-5.9-5.2v10.4m-4.1-9l8.2 7.6m-8.2 0l8.2-7.6M99.8 152.1h11.8m-5.9-5.2v10.4m-4.1-9l8.2 7.6m-8.2 0l8.2-7.6M67.8 125.3h11.8m-5.9-5.2v10.4m-4.1-9l8.2 7.6m-8.2 0l8.2-7.6M97.4 135.3h11.8m-5.9-5.2v10.4m-4.1-9l8.2 7.6m-8.2 0l8.2-7.6M85.5 142.5h11.8m-5.9-5.2v10.4m-4.1-9l8.2 7.6m-8.2 0l8.2-7.6M74.0 120.0h11.8m-5.9-5.2v10.4m-4.1-9l8.2 7.6m-8.2 0l8.2-7.6M70.9 129.7h11.8m-5.9-5.2v10.4m-4.1-9l8.2 7.6m-8.2 0l8.2-7.6M91.8 118.6h11.8m-5.9-5.2v10.4m-4.1-9l8.2 7.6m-8.2 0l8.2-7.6M69.5 139.3h11.8m-5.9-5.2v10.4m-4.1-9l8.2 7.6m-8.2 0l8.2-7.6M78.3 132.2h11.8m-5.9-5.2v10.4m-4.1-9l8.2 7.6m-8.2 0l8.2-7.6M69.8 128.1h11.8m-5.9-5.2v10.4m-4.1-9l8.2 7.6m-8.2 0l8.2-7.6M84.0 127.1h11.8m-5.9-5.2v10.4m-4.1-9l8.2 7.6m-8.2 0l8.2-7.6M95.1 144.9h11.8m-5.9-5.2v10.4m-4.1-9l8.2 7.6m-8.2 0l8.2-7.6M99.7 116.8h11.8m-5.9-5.2v10.4m-4.1-9l8.2 7.6m-8.2 0l8.2-7.6M89.8 131.0h11.8m-5.9-5.2v10.4m-4.1-9l8.2 7.6m-8.2 0l8.2-7.6M71.9 114.9h11.8m-5.9-5.2v10.4m-4.1-9l8.2 7.6m-8.2 0l8.2-7.6M96.2 124.8h11.8m-5.9-5.2v10.4m-4.1-9l8.2 7.6m-8.2 0l8.2-7.6M80.9 116.5h11.8m-5.9-5.2v10.4m-4.1-9l8.2 7.6m-8.2 0l8.2-7.6M100.5 158.5h11.8m-5.9-5.2v10.4m-4.1-9l8.2 7.6m-8.2 0l8.2-7.6M67.2 136.2h11.8m-5.9-5.2v10.4m-4.1-9l8.2 7.6m-8.2 0l8.2-7.6M99.8 149.0h11.8m-5.9-5.2v10.4m-4.1-9l8.2 7.6m-8.2 0l8.2-7.6M88.4 149.9h11.8m-5.9-5.2v10.4m-4.1-9l8.2 7.6m-8.2 0l8.2-7.6M76.3 132.3h11.8m-5.9-5.2v10.4m-4.1-9l8.2 7.6m-8.2 0l8.2-7.6M90.7 147.9h11.8m-5.9-5.2v10.4m-4.1-9l8.2 7.6m-8.2 0l8.2-7.6M80.7 124.0h11.8m-5.9-5.2v10.4m-4.1-9l8.2 7.6m-8.2 0l8.2-7.6M85.0 118.5h11.8m-5.9-5.2v10.4m-4.1-9l8.2 7.6m-8.2 0l8.2-7.6M68.0 130.1h11.8m-5.9-5.2v10.4m-4.1-9l8.2 7.6m-8.2 0l8.2-7.6M94.8 136.4h11.8m-5.9-5.2v10.4m-4.1-9l8.2 7.6m-8.2 0l8.2-7.6M85.9 155.7h11.8m-5.9-5.2v10.4m-4.1-9l8.2 7.6m-8.2 0l8.2-7.6M93.6 136.0h11.8m-5.9-5.2v10.4m-4.1-9l8.2 7.6m-8.2 0l8.2-7.6M79.1 137.5h11.8m-5.9-5.2v10.4m-4.1-9l8.2 7.6m-8.2 0l8.2-7.6M102.1 138.8h11.8m-5.9-5.2v10.4m-4.1-9l8.2 7.6m-8.2 0l8.2-7.6M83.9 150.7h11.8m-5.9-5.2v10.4m-4.1-9l8.2 7.6m-8.2 0l8.2-7.6M87.8 114.0h11.8m-5.9-5.2v10.4m-4.1-9l8.2 7.6m-8.2 0l8.2-7.6M73.3 126.9h11.8m-5.9-5.2v10.4m-4.1-9l8.2 7.6m-8.2 0l8.2-7.6M89.3 158.4h11.8m-5.9-5.2v10.4m-4.1-9l8.2 7.6m-8.2 0l8.2-7.6M73.0 129.5h11.8m-5.9-5.2v10.4m-4.1-9l8.2 7.6m-8.2 0l8.2-7.6M94.4 149.7h11.8m-5.9-5.2v10.4m-4.1-9l8.2 7.6m-8.2 0l8.2-7.6M93.7 131.9h11.8m-5.9-5.2v10.4m-4.1-9l8.2 7.6m-8.2 0l8.2-7.6M90.3 135.9h11.8m-5.9-5.2v10.4m-4.1-9l8.2 7.6m-8.2 0l8.2-7.6M95.0 151.3h11.8m-5.9-5.2v10.4m-4.1-9l8.2 7.6m-8.2 0l8.2-7.6M73.2 148.8h11.8m-5.9-5.2v10.4m-4.1-9l8.2 7.6m-8.2 0l8.2-7.6M65.4 120.7h11.8m-5.9-5.2v10.4m-4.1-9l8.2 7.6m-8.2 0l8.2-7.6M65.2 136.8h11.8m-5.9-5.2v10.4m-4.1-9l8.2 7.6m-8.2 0l8.2-7.6M61.3 133.4h11.8m-5.9-5.2v10.4m-4.1-9l8.2 7.6m-8.2 0l8.2-7.6M69.7 134.7h11.8m-5.9-5.2v10.4m-4.1-9l8.2 7.6m-8.2 0l8.2-7.6M92.6 152.2h11.8m-5.9-5.2v10.4m-4.1-9l8.2 7.6m-8.2 0l8.2-7.6M90.3 142.0h11.8m-5.9-5.2v10.4m-4.1-9l8.2 7.6m-8.2 0l8.2-7.6M84.1 133.7h11.8m-5.9-5.2v10.4m-4.1-9l8.2 7.6m-8.2 0l8.2-7.6M78.1 153.4h11.8m-5.9-5.2v10.4m-4.1-9l8.2 7.6m-8.2 0l8.2-7.6M98.0 146.4h11.8m-5.9-5.2v10.4m-4.1-9l8.2 7.6m-8.2 0l8.2-7.6M88.0 159.2h11.8m-5.9-5.2v10.4m-4.1-9l8.2 7.6m-8.2 0l8.2-7.6M86.7 120.3h11.8m-5.9-5.2v10.4m-4.1-9l8.2 7.6m-8.2 0l8.2-7.6M96.8 133.4h11.8m-5.9-5.2v10.4m-4.1-9l8.2 7.6m-8.2 0l8.2-7.6M69.5 149.3h11.8m-5.9-5.2v10.4m-4.1-9l8.2 7.6m-8.2 0l8.2-7.6M87.0 124.0h11.8m-5.9-5.2v10.4m-4.1-9l8.2 7.6m-8.2 0l8.2-7.6M69.4 117.0h11.8m-5.9-5.2v10.4m-4.1-9l8.2 7.6m-8.2 0l8.2-7.6M78.5 116.2h11.8m-5.9-5.2v10.4m-4.1-9l8.2 7.6m-8.2 0l8.2-7.6M93.4 140.0h11.8m-5.9-5.2v10.4m-4.1-9l8.2 7.6m-8.2 0l8.2-7.6M83.1 134.2h11.8m-5.9-5.2v10.4m-4.1-9l8.2 7.6m-8.2 0l8.2-7.6M98.1 141.8h11.8m-5.9-5.2v10.4m-4.1-9l8.2 7.6m-8.2 0l8.2-7.6M94.6 129.6h11.8m-5.9-5.2v10.4m-4.1-9l8.2 7.6m-8.2 0l8.2-7.6M74.5 115.9h11.8m-5.9-5.2v10.4m-4.1-9l8.2 7.6m-8.2 0l8.2-7.6M86.4 110.1h11.8m-5.9-5.2v10.4m-4.1-9l8.2 7.6m-8.2 0l8.2-7.6M75.7 133.2h11.8m-5.9-5.2v10.4m-4.1-9l8.2 7.6m-8.2 0l8.2-7.6M71.6 117.4h11.8m-5.9-5.2v10.4m-4.1-9l8.2 7.6m-8.2 0l8.2-7.6M86.9 122.7h11.8m-5.9-5.2v10.4m-4.1-9l8.2 7.6m-8.2 0l8.2-7.6M80.1 114.8h11.8m-5.9-5.2v10.4m-4.1-9l8.2 7.6m-8.2 0l8.2-7.6M67.2 117.2h11.8m-5.9-5.2v10.4m-4.1-9l8.2 7.6m-8.2 0l8.2-7.6M77.9 127.1h11.8m-5.9-5.2v10.4m-4.1-9l8.2 7.6m-8.2 0l8.2-7.6M92.7 145.9h11.8m-5.9-5.2v10.4m-4.1-9l8.2 7.6m-8.2 0l8.2-7.6M97.7 125.9h11.8m-5.9-5.2v10.4m-4.1-9l8.2 7.6m-8.2 0l8.2-7.6M75.3 119.0h11.8m-5.9-5.2v10.4m-4.1-9l8.2 7.6m-8.2 0l8.2-7.6M86.4 135.0h11.8m-5.9-5.2v10.4m-4.1-9l8.2 7.6m-8.2 0l8.2-7.6M68.8 126.8h11.8m-5.9-5.2v10.4m-4.1-9l8.2 7.6m-8.2 0l8.2-7.6M86.4 154.7h11.8m-5.9-5.2v10.4m-4.1-9l8.2 7.6m-8.2 0l8.2-7.6M79.4 126.3h11.8m-5.9-5.2v10.4m-4.1-9l8.2 7.6m-8.2 0l8.2-7.6M95.2 119.4h11.8m-5.9-5.2v10.4m-4.1-9l8.2 7.6m-8.2 0l8.2-7.6M95.1 111.1h11.8m-5.9-5.2v10.4m-4.1-9l8.2 7.6m-8.2 0l8.2-7.6M95.1 129.5h11.8m-5.9-5.2v10.4m-4.1-9l8.2 7.6m-8.2 0l8.2-7.6M96.5 144.5h11.8m-5.9-5.2v10.4m-4.1-9l8.2 7.6m-8.2 0l8.2-7.6M79.7 132.8h11.8m-5.9-5.2v10.4m-4.1-9l8.2 7.6m-8.2 0l8.2-7.6M88.7 133.6h11.8m-5.9-5.2v10.4m-4.1-9l8.2 7.6m-8.2 0l8.2-7.6M96.8 131.8h11.8m-5.9-5.2v10.4m-4.1-9l8.2 7.6m-8.2 0l8.2-7.6M69.9 117.0h11.8m-5.9-5.2v10.4m-4.1-9l8.2 7.6m-8.2 0l8.2-7.6M95.1 133.4h11.8m-5.9-5.2v10.4m-4.1-9l8.2 7.6m-8.2 0l8.2-7.6M76.6 119.9h11.8m-5.9-5.2v10.4m-4.1-9l8.2 7.6m-8.2 0l8.2-7.6M98.0 148.4h11.8m-5.9-5.2v10.4m-4.1-9l8.2 7.6m-8.2 0l8.2-7.6M76.1 127.6h11.8m-5.9-5.2v10.4m-4.1-9l8.2 7.6m-8.2 0l8.2-7.6M92.9 141.6h11.8m-5.9-5.2v10.4m-4.1-9l8.2 7.6m-8.2 0l8.2-7.6M91.8 147.4h11.8m-5.9-5.2v10.4m-4.1-9l8.2 7.6m-8.2 0l8.2-7.6M69.5 150.5h11.8m-5.9-5.2v10.4m-4.1-9l8.2 7.6m-8.2 0l8.2-7.6M101.4 171.1h11.8m-5.9-5.2v10.4m-4.1-9l8.2 7.6m-8.2 0l8.2-7.6M59.9 111.0h11.8m-5.9-5.2v10.4m-4.1-9l8.2 7.6m-8.2 0l8.2-7.6" stroke="#00ff00" stroke-width="1.25" fill="none"/><path d="M459.6 103.4h11.8m-5.9-5.2v10.4m-4.1-9l8.2 7.6m-8.2 0l8.2-7.6M493.6 147.0h11.8m-5.9-5.2v10.4m-4.1-9l8.2 7.6m-8.2 0l8.2-7.6M503.6 144.1h11.8m-5.9-5.2v10.4m-4.1-9l8.2 7.6m-8.2 0l8.2-7.6M483.5 146.5h11.8m-5.9-5.2v10.4m-4.1-9l8.2 7.6m-8.2 0l8.2-7.6M495.0 110.6h11.8m-5.9-5.2v10.4m-4.1-9l8.2 7.6m-8.2 0l8.2-7.6M481.0 135.9h11.8m-5.9-5.2v10.4m-4.1-9l8.2 7.6m-8.2 0l8.2-7.6M454.1 112.1h11.8m-5.9-5.2v10.4m-4.1-9l8.2 7.6m-8.2 0l8.2-7.6M485.3 129.3h11.8m-5.9-5.2v10.4m-4.1-9l8.2 7.6m-8.2 0l8.2-7.6M488.9 147.6h11.8m-5.9-5.2v10.4m-4.1-9l8.2 7.6m-8.2 0l8.2-7.6M426.4 90.2h11.8m-5.9-5.2v10.4m-4.1-9l8.2 7.6m-8.2 0l8.2-7.6M431.4 119.0h11.8m-5.9-5.2v10.4m-4.1-9l8.2 7.6m-8.2 0l8.2-7.6M453.9 116.7h11.8m-5.9-5.2v10.4m-4.1-9l8.2 7.6m-8.2 0l8.2-7.6M434.8 88.8h11.8m-5.9-5.2v10.4m-4.1-9l8.2 7.6m-8.2 0l8.2-7.6M461.1 108.3h11.8m-5.9-5.2v10.4m-4.1-9l8.2 7.6m-8.2 0l8.2-7.6M541.0 137.3h11.8m-5.9-5.2v10.4m-4.1-9l8.2 7.6m-8.2 0l8.2-7.6M482.9 108.3h11.8m-5.9-5.2v10.4m-4.1-9l8.2 7.6m-8.2 0l8.2-7.6M484.2 118.7h11.8m-5.9-5.2v10.4m-4.1-9l8.2 7.6m-8.2 0l8.2-7.6M488.8 116.9h11.8m-5.9-5.2v10.4m-4.1-9l8.2 7.6m-8.2 0l8.2-7.6M524.7 163.8h11.8m-5.9-5.2v10.4m-4.1-9l8.2 7.6m-8.2 0l8.2-7.6M461.9 134.5h11.8m-5.9-5.2v10.4m-4.1-9l8.2 7.6m-8.2 0l8.2-7.6M484.3 138.0h11.8m-5.9-5.2v10.4m-4.1-9l8.2 7.6m-8.2 0l8.2-7.6M432.6 118.2h11.8m-5.9-5.2v10.4m-4.1-9l8.2 7.6m-8.2 0l8.2-7.6M476.1 102.4h11.8m-5.9-5.2v10.4m-4.1-9l8.2 7.6m-8.2 0l8.2-7.6M468.5 136.4h11.8m-5.9-5.2v10.4m-4.1-9l8.2 7.6m-8.2 0l8.2-7.6M512.9 161.5h11.8m-5.9-5.2v10.4m-4.1-9l8.2 7.6m-8.2 0l8.2-7.6M501.4 119.8h11.8m-5.9-5.2v10.4m-4.1-9l8.2 7.6m-8.2 0l8.2-7.6M437.7 95.7h11.8m-5.9-5.2v10.4m-4.1-9l8.2 7.6m-8.2 0l8.2-7.6M508.2 123.6h11.8m-5.9-5.2v10.4m-4.1-9l8.2 7.6m-8.2 0l8.2-7.6M442.7 127.0h11.8m-5.9-5.2v10.4m-4.1-9l8.2 7.6m-8.2 0l8.2-7.6M507.8 153.4h11.8m-5.9-5.2v10.4m-4.1-9l8.2 7.6m-8.2 0l8.2-7.6M512.7 123.6h11.8m-5.9-5.2v10.4m-4.1-9l8.2 7.6m-8.2 0l8.2-7.6M503.8 149.8h11.8m-5.9-5.2v10.4m-4.1-9l8.2 7.6m-8.2 0l8.2-7.6M468.6 112.9h11.8m-5.9-5.2v10.4m-4.1-9l8.2 7.6m-8.2 0l8.2-7.6M436.1 90.6h11.8m-5.9-5.2v10.4m-4.1-9l8.2 7.6m-8.2 0l8.2-7.6M431.2 93.4h11.8m-5.9-5.2v10.4m-4.1-9l8.2 7.6m-8.2 0l8.2-7.6M526.5 160.6h11.8m-5.9-5.2v10.4m-4.1-9l8.2 7.6m-8.2 0l8.2-7.6M468.2 130.8h11.8m-5.9-5.2v10.4m-4.1-9l8.2 7.6m-8.2 0l8.2-7.6M480.0 138.6h11.8m-5.9-5.2v10.4m-4.1-9l8.2 7.6m-8.2 0l8.2-7.6M522.0 155.3h11.8m-5.9-5.2v10.4m-4.1-9l8.2 7.6m-8.2 0l8.2-7.6M433.2 90.4h11.8m-5.9-5.2v10.4m-4.1-9l8.2 7.6m-8.2 0l8.2-7.6M489.8 108.6h11.8m-5.9-5.2v10.4m-4.1-9l8.2 7.6m-8.2 0l8.2-7.6M485.4 133.6h11.8m-5.9-5.2v10.4m-4.1-9l8.2 7.6m-8.2 0l8.2-7.6M473.9 117.0h11.8m-5.9-5.2v10.4m-4.1-9l8.2 7.6m-8.2 0l8.2-7.6M500.6 142.7h11.8m-5.9-5.2v10.4m-4.1-9l8.2 7.6m-8.2 0l8.2-7.6M469.9 108.7h11.8m-5.9-5.2v10.4m-4.1-9l8.2 7.6m-8.2 0l8.2-7.6M499.3 131.6h11.8m-5.9-5.2v10.4m-4.1-9l8.2 7.6m-8.2 0l8.2-7.6M473.6 107.4h11.8m-5.9-5.2v10.4m-4.1-9l8.2 7.6m-8.2 0l8.2-7.6M422.1 89.0h11.8m-5.9-5.2v10.4m-4.1-9l8.2 7.6m-8.2 0l8.2-7.6M428.3 87.4h11.8m-5.9-5.2v10.4m-4.1-9l8.2 7.6m-8.2 0l8.2-7.6M422.5 87.1h11.8m-5.9-5.2v10.4m-4.1-9l8.2 7.6m-8.2 0l8.2-7.6M459.2 107.2h11.8m-5.9-5.2v10.4m-4.1-9l8.2 7.6m-8.2 0l8.2-7.6M447.9 115.1h11.8m-5.9-5.2v10.4m-4.1-9l8.2 7.6m-8.2 0l8.2-7.6M479.6 139.0h11.8m-5.9-5.2v10.4m-4.1-9l8.2 7.6m-8.2 0l8.2-7.6M504.5 118.5h11.8m-5.9-5.2v10.4m-4.1-9l8.2 7.6m-8.2 0l8.2-7.6M491.5 151.4h11.8m-5.9-5.2v10.4m-4.1-9l8.2 7.6m-8.2 0l8.2-7.6M465.6 100.4h11.8m-5.9-5.2v10.4m-4.1-9l8.2 7.6m-8.2 0l8.2-7.6M490.1 105.4h11.8m-5.9-5.2v10.4m-4.1-9l8.2 7.6m-8.2 0l8.2-7.6M510.8 162.3h11.8m-5.9-5.2v10.4m-4.1-9l8.2 7.6m-8.2 0l8.2-7.6M420.6 104.2h11.8m-5.9-5.2v10.4m-4.1-9l8.2 7.6m-8.2 0l8.2-7.6M512.0 145.4h11.8m-5.9-5.2v10.4m-4.1-9l8.2 7.6m-8.2 0l8.2-7.6M419.8 99.8h11.8m-5.9-5.2v10.4m-4.1-9l8.2 7.6m-8.2 0l8.2-7.6M432.6 93.5h11.8m-5.9-5.2v10.4m-4.1-9l8.2 7.6m-8.2 0l8.2-7.6M447.0 94.2h11.8m-5.9-5.2v10.4m-4.1-9l8.2 7.6m-8.2 0l8.2-7.6M489.9 139.0h11.8m-5.9-5.2v10.4m-4.1-9l8.2 7.6m-8.2 0l8.2-7.6M426.3 101.3h11.8m-5.9-5.2v10.4m-4.1-9l8.2 7.6m-8.2 0l8.2-7.6M420.8 96.2h11.8m-5.9-5.2v10.4m-4.1-9l8.2 7.6m-8.2 0l8.2-7.6M492.5 107.5h11.8m-5.9-5.2v10.4m-4.1-9l8.2 7.6m-8.2 0l8.2-7.6M499.9 143.7h11.8m-5.9-5.2v10.4m-4.1-9l8.2 7.6m-8.2 0l8.2-7.6M444.9 132.8h11.8m-5.9-5.2v10.4m-4.1-9l8.2 7.6m-8.2 0l8.2-7.6M428.1 100.6h11.8m-5.9-5.2v10.4m-4.1-9l8.2 7.6m-8.2 0l8.2-7.6M478.3 127.0h11.8m-5.9-5.2v10.4m-4.1-9l8.2 7.6m-8.2 0l8.2-7.6M517.4 134.6h11.8m-5.9-5.2v10.4m-4.1-9l8.2 7.6m-8.2 0l8.2-7.6M505.4 126.6h11.8m-5.9-5.2v10.4m-4.1-9l8.2 7.6m-8.2 0l8.2-7.6M497.8 145.4h11.8m-5.9-5.2v10.4m-4.1-9l8.2 7.6m-8.2 0l8.2-7.6M525.4 153.3h11.8m-5.9-5.2v10.4m-4.1-9l8.2 7.6m-8.2 0l8.2-7.6M514.3 121.8h11.8m-5.9-5.2v10.4m-4.1-9l8.2 7.6m-8.2 0l8.2-7.6M515.5 130.5h11.8m-5.9-5.2v10.4m-4.1-9l8.2 7.6m-8.2 0l8.2-7.6M436.8 123.3h11.8m-5.9-5.2v10.4m-4.1-9l8.2 7.6m-8.2 0l8.2-7.6M416.9 103.5h11.8m-5.9-5.2v10.4m-4.1-9l8.2 7.6m-8.2 0l8.2-7.6M512.5 131.2h11.8m-5.9-5.2v10.4m-4.1-9l8.2 7.6m-8.2 0l8.2-7.6M419.0 100.8h11.8m-5.9-5.2v10.4m-4.1-9l8.2 7.6m-8.2 0l8.2-7.6M525.2 139.6h11.8m-5.9-5.2v10.4m-4.1-9l8.2 7.6m-8.2 0l8.2-7.6M428.3 121.5h11.8m-5.9-5.2v10.4m-4.1-9l8.2 7.6m-8.2 0l8.2-7.6M522.8 140.5h11.8m-5.9-5.2v10.4m-4.1-9l8.2 7.6m-8.2 0l8.2-7.6M513.5 158.1h11.8m-5.9-5.2v10.4m-4.1-9l8.2 7.6m-8.2 0l8.2-7.6M419.4 102.0h11.8m-5.9-5.2v10.4m-4.1-9l8.2 7.6m-8.2 0l8.2-7.6M507.8 126.1h11.8m-5.9-5.2v10.4m-4.1-9l8.2 7.6m-8.2 0l8.2-7.6M461.8 134.9h11.8m-5.9-5.2v10.4m-4.1-9l8.2 7.6m-8.2 0l8.2-7.6M539.7 163.4h11.8m-5.9-5.2v10.4m-4.1-9l8.2 7.6m-8.2 0l8.2-7.6M518.1 121.7h11.8m-5.9-5.2v10.4m-4.1-9l8.2 7.6m-8.2 0l8.2-7.6M487.2 122.7h11.8m-5.9-5.2v10.4m-4.1-9l8.2 7.6m-8.2 0l8.2-7.6M480.9 142.8h11.8m-5.9-5.2v10.4m-4.1-9l8.2 7.6m-8.2 0l8.2-7.6M498.9 140.7h11.8m-5.9-5.2v10.4m-4.1-9l8.2 7.6m-8.2 0l8.2-7.6M520.0 164.5h11.8m-5.9-5.2v10.4m-4.1-9l8.2 7.6m-8.2 0l8.2-7.6M543.1 139.8h11.8m-5.9-5.2v10.4m-4.1-9l8.2 7.6m-8.2 0l8.2-7.6M458.6 132.0h11.8m-5.9-5.2v10.4m-4.1-9l8.2 7.6m-8.2 0l8.2-7.6M427.0 97.1h11.8m-5.9-5.2v10.4m-4.1-9l8.2 7.6m-8.2 0l8.2-7.6M530.4 142.0h11.8m-5.9-5.2v10.4m-4.1-9l8.2 7.6m-8.2 0l8.2-7.6M507.2 154.6h11.8m-5.9-5.2v10.4m-4.1-9l8.2 7.6m-8.2 0l8.2-7.6M510.2 132.6h11.8m-5.9-5.2v10.4m-4.1-9l8.2 7.6m-8.2 0l8.2-7.6M484.9 134.8h11.8m-5.9-5.2v10.4m-4.1-9l8.2 7.6m-8.2 0l8.2-7.6M466.9 102.6h11.8m-5.9-5.2v10.4m-4.1-9l8.2 7.6m-8.2 0l8.2-7.6M535.5 161.6h11.8m-5.9-5.2v10.4m-4.1-9l8.2 7.6m-8.2 0l8.2-7.6M493.2 111.7h11.8m-5.9-5.2v10.4m-4.1-9l8.2 7.6m-8.2 0l8.2-7.6M456.7 116.5h11.8m-5.9-5.2v10.4m-4.1-9l8.2 7.6m-8.2 0l8.2-7.6M491.7 143.1h11.8m-5.9-5.2v10.4m-4.1-9l8.2 7.6m-8.2 0l8.2-7.6M450.7 100.9h11.8m-5.9-5.2v10.4m-4.1-9l8.2 7.6m-8.2 0l8.2-7.6M455.9 112.4h11.8m-5.9-5.2v10.4m-4.1-9l8.2 7.6m-8.2 0l8.2-7.6M474.0 114.0h11.8m-5.9-5.2v10.4m-4.1-9l8.2 7.6m-8.2 0l8.2-7.6M470.8 100.0h11.8m-5.9-5.2v10.4m-4.1-9l8.2 7.6m-8.2 0l8.2-7.6M490.3 131.9h11.8m-5.9-5.2v10.4m-4.1-9l8.2 7.6m-8.2 0l8.2-7.6M475.7 105.2h11.8m-5.9-5.2v10.4m-4.1-9l8.2 7.6m-8.2 0l8.2-7.6M511.2 160.5h11.8m-5.9-5.2v10.4m-4.1-9l8.2 7.6m-8.2 0l8.2-7.6M424.0 99.6h11.8m-5.9-5.2v10.4m-4.1-9l8.2 7.6m-8.2 0l8.2-7.6M470.7 106.2h11.8m-5.9-5.2v10.4m-4.1-9l8.2 7.6m-8.2 0l8.2-7.6M516.0 149.2h11.8m-5.9-5.2v10.4m-4.1-9l8.2 7.6m-8.2 0l8.2-7.6M498.1 127.5h11.8m-5.9-5.2v10.4m-4.1-9l8.2 7.6m-8.2 0l8.2-7.6M466.3 133.0h11.8m-5.9-5.2v10.4m-4.1-9l8.2 7.6m-8.2 0l8.2-7.6M427.8 88.8h11.8m-5.9-5.2v10.4m-4.1-9l8.2 7.6m-8.2 0l8.2-7.6M426.3 96.0h11.8m-5.9-5.2v10.4m-4.1-9l8.2 7.6m-8.2 0l8.2-7.6M523.9 163.7h11.8m-5.9-5.2v10.4m-4.1-9l8.2 7.6m-8.2 0l8.2-7.6M416.3 96.7h11.8m-5.9-5.2v10.4m-4.1-9l8.2 7.6m-8.2 0l8.2-7.6M460.0 134.3h11.8m-5.9-5.2v10.4m-4.1-9l8.2 7.6m-8.2 0l8.2-7.6M495.7 135.7h11.8m-5.9-5.2v10.4m-4.1-9l8.2 7.6m-8.2 0l8.2-7.6M475.6 139.7h11.8m-5.9-5.2v10.4m-4.1-9l8.2 7.6m-8.2 0l8.2-7.6M515.8 125.9h11.8m-5.9-5.2v10.4m-4.1-9l8.2 7.6m-8.2 0l8.2-7.6M481.7 124.0h11.8m-5.9-5.2v10.4m-4.1-9l8.2 7.6m-8.2 0l8.2-7.6M468.6 127.3h11.8m-5.9-5.2v10.4m-4.1-9l8.2 7.6m-8.2 0l8.2-7.6M447.0 128.6h11.8m-5.9-5.2v10.4m-4.1-9l8.2 7.6m-8.2 0l8.2-7.6M433.6 91.7h11.8m-5.9-5.2v10.4m-4.1-9l8.2 7.6m-8.2 0l8.2-7.6M424.3 93.5h11.8m-5.9-5.2v10.4m-4.1-9l8.2 7.6m-8.2 0l8.2-7.6M522.1 139.5h11.8m-5.9-5.2v10.4m-4.1-9l8.2 7.6m-8.2 0l8.2-7.6M448.0 100.6h11.8m-5.9-5.2v10.4m-4.1-9l8.2 7.6m-8.2 0l8.2-7.6M470.3 123.4h11.8m-5.9-5.2v10.4m-4.1-9l8.2 7.6m-8.2 0l8.2-7.6M486.2 115.5h11.8m-5.9-5.2v10.4m-4.1-9l8.2 7.6m-8.2 0l8.2-7.6M415.9 98.9h11.8m-5.9-5.2v10.4m-4.1-9l8.2 7.6m-8.2 0l8.2-7.6M523.2 150.2h11.8m-5.9-5.2v10.4m-4.1-9l8.2 7.6m-8.2 0l8.2-7.6M412.4 93.1h11.8m-5.9-5.2v10.4m-4.1-9l8.2 7.6m-8.2 0l8.2-7.6M532.4 133.7h11.8m-5.9-5.2v10.4m-4.1-9l8.2 7.6m-8.2 0l8.2-7.6M467.8 131.4h11.8m-5.9-5.2v10.4m-4.1-9l8.2 7.6m-8.2 0l8.2-7.6M436.2 128.8h11.8m-5.9-5.2v10.4m-4.1-9l8.2 7.6m-8.2 0l8.2-7.6M500.1 146.0h11.8m-5.9-5.2v10.4m-4.1-9l8.2 7.6m-8.2 0l8.2-7.6M492.2 153.0h11.8m-5.9-5.2v10.4m-4.1-9l8.2 7.6m-8.2 0l8.2-7.6M539.1 141.7h11.8m-5.9-5.2v10.4m-4.1-9l8.2 7.6m-8.2 0l8.2-7.6M492.8 152.1h11.8m-5.9-5.2v10.4m-4.1-9l8.2 7.6m-8.2 0l8.2-7.6M433.5 108.9h11.8m-5.9-5.2v10.4m-4.1-9l8.2 7.6m-8.2 0l8.2-7.6M534.6 144.9h11.8m-5.9-5.2v10.4m-4.1-9l8.2 7.6m-8.2 0l8.2-7.6M449.0 95.9h11.8m-5.9-5.2v10.4m-4.1-9l8.2 7.6m-8.2 0l8.2-7.6M487.2 128.3h11.8m-5.9-5.2v10.4m-4.1-9l8.2 7.6m-8.2 0l8.2-7.6M508.8 146.3h11.8m-5.9-5.2v10.4m-4.1-9l8.2 7.6m-8.2 0l8.2-7.6M525.7 135.6h11.8m-5.9-5.2v10.4m-4.1-9l8.2 7.6m-8.2 0l8.2-7.6M444.7 132.2h11.8m-5.9-5.2v10.4m-4.1-9l8.2 7.6m-8.2 0l8.2-7.6M436.0 91.1h11.8m-5.9-5.2v10.4m-4.1-9l8.2 7.6m-8.2 0l8.2-7.6M501.0 153.6h11.8m-5.9-5.2v10.4m-4.1-9l8.2 7.6m-8.2 0l8.2-7.6M418.8 106.6h11.8m-5.9-5.2v10.4m-4.1-9l8.2 7.6m-8.2 0l8.2-7.6M491.2 125.8h11.8m-5.9-5.2v10.4m-4.1-9l8.2 7.6m-8.2 0l8.2-7.6M440.1 93.7h11.8m-5.9-5.2v10.4m-4.1-9l8.2 7.6m-8.2 0l8.2-7.6M498.5 133.8h11.8m-5.9-5.2v10.4m-4.1-9l8.2 7.6m-8.2 0l8.2-7.6M449.0 122.7h11.8m-5.9-5.2v10.4m-4.1-9l8.2 7.6m-8.2 0l8.2-7.6M461.5 105.1h11.8m-5.9-5.2v10.4m-4.1-9l8.2 7.6m-8.2 0l8.2-7.6M413.7 97.8h11.8m-5.9-5.2v10.4m-4.1-9l8.2 7.6m-8.2 0l8.2-7.6M494.2 124.4h11.8m-5.9-5.2v10.4m-4.1-9l8.2 7.6m-8.2 0l8.2-7.6M426.6 105.3h11.8m-5.9-5.2v10.4m-4.1-9l8.2 7.6m-8.2 0l8.2-7.6M432.5 91.3h11.8m-5.9-5.2v10.4m-4.1-9l8.2 7.6m-8.2 0l8.2-7.6M543.0 163.6h11.8m-5.9-5.2v10.4m-4.1-9l8.2 7.6m-8.2 0l8.2-7.6M479.9 100.0h11.8m-5.9-5.2v10.4m-4.1-9l8.2 7.6m-8.2 0l8.2-7.6M451.2 128.0h11.8m-5.9-5.2v10.4m-4.1-9l8.2 7.6m-8.2 0l8.2-7.6M450.0 122.2h11.8m-5.9-5.2v10.4m-4.1-9l8.2 7.6m-8.2 0l8.2-7.6M436.7 117.8h11.8m-5.9-5.2v10.4m-4.1-9l8.2 7.6m-8.2 0l8.2-7.6M449.5 118.3h11.8m-5.9-5.2v10.4m-4.1-9l8.2 7.6m-8.2 0l8.2-7.6M483.0 118.1h11.8m-5.9-5.2v10.4m-4.1-9l8.2 7.6m-8.2 0l8.2-7.6M502.3 136.2h11.8m-5.9-5.2v10.4m-4.1-9l8.2 7.6m-8.2 0l8.2-7.6M441.9 127.6h11.8m-5.9-5.2v10.4m-4.1-9l8.2 7.6m-8.2 0l8.2-7.6M479.4 116.0h11.8m-5.9-5.2v10.4m-4.1-9l8.2 7.6m-8.2 0l8.2-7.6M519.6 167.6h11.8m-5.9-5.2v10.4m-4.1-9l8.2 7.6m-8.2 0l8.2-7.6M469.4 112.3h11.8m-5.9-5.2v10.4m-4.1-9l8.2 7.6m-8.2 0l8.2-7.6M441.4 98.6h11.8m-5.9-5.2v10.4m-4.1-9l8.2 7.6m-8.2 0l8.2-7.6M490.8 124.6h11.8m-5.9-5.2v10.4m-4.1-9l8.2 7.6m-8.2 0l8.2-7.6M512.5 142.2h11.8m-5.9-5.2v10.4m-4.1-9l8.2 7.6m-8.2 0l8.2-7.6M495.5 107.8h11.8m-5.9-5.2v10.4m-4.1-9l8.2 7.6m-8.2 0l8.2-7.6M447.7 127.0h11.8m-5.9-5.2v10.4m-4.1-9l8.2 7.6m-8.2 0l8.2-7.6M432.4 120.3h11.8m-5.9-5.2v10.4m-4.1-9l8.2 7.6m-8.2 0l8.2-7.6M498.0 125.8h11.8m-5.9-5.2v10.4m-4.1-9l8.2 7.6m-8.2 0l8.2-7.6M434.6 125.7h11.8m-5.9-5.2v10.4m-4.1-9l8.2 7.6m-8.2 0l8.2-7.6M468.7 141.6h11.8m-5.9-5.2v10.4m-4.1-9l8.2 7.6m-8.2 0l8.2-7.6M502.2 157.4h11.8m-5.9-5.2v10.4m-4.1-9l8.2 7.6m-8.2 0l8.2-7.6M505.3 141.6h11.8m-5.9-5.2v10.4m-4.1-9l8.2 7.6m-8.2 0l8.2-7.6M499.4 139.7h11.8m-5.9-5.2v10.4m-4.1-9l8.2 7.6m-8.2 0l8.2-7.6M455.3 102.1h11.8m-5.9-5.2v10.4m-4.1-9l8.2 7.6m-8.2 0l8.2-7.6M541.7 141.6h11.8m-5.9-5.2v10.4m-4.1-9l8.2 7.6m-8.2 0l8.2-7.6M469.7 110.1h11.8m-5.9-5.2v10.4m-4.1-9l8.2 7.6m-8.2 0l8.2-7.6M462.4 104.1h11.8m-5.9-5.2v10.4m-4.1-9l8.2 7.6m-8.2 0l8.2-7.6M487.4 109.6h11.8m-5.9-5.2v10.4m-4.1-9l8.2 7.6m-8.2 0l8.2-7.6M492.1 121.5h11.8m-5.9-5.2v10.4m-4.1-9l8.2 7.6m-8.2 0l8.2-7.6M444.7 109.8h11.8m-5.9-5.2v10.4m-4.1-9l8.2 7.6m-8.2 0l8.2-7.6M527.8 133.9h11.8m-5.9-5.2v10.4m-4.1-9l8.2 7.6m-8.2 0l8.2-7.6M540.8 140.1h11.8m-5.9-5.2v10.4m-4.1-9l8.2 7.6m-8.2 0l8.2-7.6M439.5 107.8h11.8m-5.9-5.2v10.4m-4.1-9l8.2 7.6m-8.2 0l8.2-7.6M534.4 151.3h11.8m-5.9-5.2v10.4m-4.1-9l8.2 7.6m-8.2 0l8.2-7.6M427.8 113.0h11.8m-5.9-5.2v10.4m-4.1-9l8.2 7.6m-8.2 0l8.2-7.6M513.1 154.0h11.8m-5.9-5.2v10.4m-4.1-9l8.2 7.6m-8.2 0l8.2-7.6M453.1 118.2h11.8m-5.9-5.2v10.4m-4.1-9l8.2 7.6m-8.2 0l8.2-7.6M414.7 110.0h11.8m-5.9-5.2v10.4m-4.1-9l8.2 7.6m-8.2 0l8.2-7.6M439.0 104.9h11.8m-5.9-5.2v10.4m-4.1-9l8.2 7.6m-8.2 0l8.2-7.6M462.8 118.5h11.8m-5.9-5.2v10.4m-4.1-9l8.2 7.6m-8.2 0l8.2-7.6M472.4 123.1h11.8m-5.9-5.2v10.4m-4.1-9l8.2 7.6m-8.2 0l8.2-7.6M438.3 129.3h11.8m-5.9-5.2v10.4m-4.1-9l8.2 7.6m-8.2 0l8.2-7.6M448.0 125.5h11.8m-5.9-5.2v10.4m-4.1-9l8.2 7.6m-8.2 0l8.2-7.6M480.7 111.9h11.8m-5.9-5.2v10.4m-4.1-9l8.2 7.6m-8.2 0l8.2-7.6M478.5 120.4h11.8m-5.9-5.2v10.4m-4.1-9l8.2 7.6m-8.2 0l8.2-7.6M468.5 121.2h11.8m-5.9-5.2v10.4m-4.1-9l8.2 7.6m-8.2 0l8.2-7.6M419.3 99.8h11.8m-5.9-5.2v10.4m-4.1-9l8.2 7.6m-8.2 0l8.2-7.6M452.1 125.2h11.8m-5.9-5.2v10.4m-4.1-9l8.2 7.6m-8.2 0l8.2-7.6M448.6 105.7h11.8m-5.9-5.2v10.4m-4.1-9l8.2 7.6m-8.2 0l8.2-7.6M524.1 126.8h11.8m-5.9-5.2v10.4m-4.1-9l8.2 7.6m-8.2 0l8.2-7.6M507.2 134.2h11.8m-5.9-5.2v10.4m-4.1-9l8.2 7.6m-8.2 0l8.2-7.6M469.7 116.8h11.8m-5.9-5.2v10.4m-4.1-9l8.2 7.6m-8.2 0l8.2-7.6M454.3 136.5h11.8m-5.9-5.2v10.4m-4.1-9l8.2 7.6m-8.2 0l8.2-7.6M468.1 123.6h11.8m-5.9-5.2v10.4m-4.1-9l8.2 7.6m-8.2 0l8.2-7.6M506.6 134.4h11.8m-5.9-5.2v10.4m-4.1-9l8.2 7.6m-8.2 0l8.2-7.6M483.5 108.2h11.8m-5.9-5.2v10.4m-4.1-9l8.2 7.6m-8.2 0l8.2-7.6M493.7 130.5h11.8m-5.9-5.2v10.4m-4.1-9l8.2 7.6m-8.2 0l8.2-7.6M488.7 108.7h11.8m-5.9-5.2v10.4m-4.1-9l8.2 7.6m-8.2 0l8.2-7.6M433.4 93.4h11.8m-5.9-5.2v10.4m-4.1-9l8.2 7.6m-8.2 0l8.2-7.6M496.4 146.4h11.8m-5.9-5.2v10.4m-4.1-9l8.2 7.6m-8.2 0l8.2-7.6M531.3 152.6h11.8m-5.9-5.2v10.4m-4.1-9l8.2 7.6m-8.2 0l8.2-7.6M447.8 107.0h11.8m-5.9-5.2v10.4m-4.1-9l8.2 7.6m-8.2 0l8.2-7.6M468.7 141.0h11.8m-5.9-5.2v10.4m-4.1-9l8.2 7.6m-8.2 0l8.2-7.6M471.0 105.5h11.8m-5.9-5.2v10.4m-4.1-9l8.2 7.6m-8.2 0l8.2-7.6M467.9 117.9h11.8m-5.9-5.2v10.4m-4.1-9l8.2 7.6m-8.2 0l8.2-7.6M450.0 108.8h11.8m-5.9-5.2v10.4m-4.1-9l8.2 7.6m-8.2 0l8.2-7.6M429.8 94.4h11.8m-5.9-5.2v10.4m-4.1-9l8.2 7.6m-8.2 0l8.2-7.6M503.1 143.8h11.8m-5.9-5.2v10.4m-4.1-9l8.2 7.6m-8.2 0l8.2-7.6M505.2 145.8h11.8m-5.9-5.2v10.4m-4.1-9l8.2 7.6m-8.2 0l8.2-7.6M532.8 161.3h11.8m-5.9-5.2v10.4m-4.1-9l8.2 7.6m-8.2 0l8.2-7.6M523.4 147.0h11.8m-5.9-5.2v10.4m-4.1-9l8.2 7.6m-8.2 0l8.2-7.6M464.8 122.6h11.8m-5.9-5.2v10.4m-4.1-9l8.2 7.6m-8.2 0l8.2-7.6M419.4 111.9h11.8m-5.9-5.2v10.4m-4.1-9l8.2 7.6m-8.2 0l8.2-7.6M455.9 105.2h11.8m-5.9-5.2v10.4m-4.1-9l8.2 7.6m-8.2 0l8.2-7.6M497.2 153.8h11.8m-5.9-5.2v10.4m-4.1-9l8.2 7.6m-8.2 0l8.2-7.6M450.7 114.0h11.8m-5.9-5.2v10.4m-4.1-9l8.2 7.6m-8.2 0l8.2-7.6M464.1 98.1h11.8m-5.9-5.2v10.4m-4.1-9l8.2 7.6m-8.2 0l8.2-7.6M438.1 105.4h11.8m-5.9-5.2v10.4m-4.1-9l8.2 7.6m-8.2 0l8.2-7.6M537.6 162.6h11.8m-5.9-5.2v10.4m-4.1-9l8.2 7.6m-8.2 0l8.2-7.6M491.3 116.9h11.8m-5.9-5.2v10.4m-4.1-9l8.2 7.6m-8.2 0l8.2-7.6M447.8 129.6h11.8m-5.9-5.2v10.4m-4.1-9l8.2 7.6m-8.2 0l8.2-7.6M433.1 125.9h11.8m-5.9-5.2v10.4m-4.1-9l8.2 7.6m-8.2 0l8.2-7.6M506.4 154.9h11.8m-5.9-5.2v10.4m-4.1-9l8.2 7.6m-8.2 0l8.2-7.6M433.6 88.1h11.8m-5.9-5.2v10.4m-4.1-9l8.2 7.6m-8.2 0l8.2-7.6M521.2 148.4h11.8m-5.9-5.2v10.4m-4.1-9l8.2 7.6m-8.2 0l8.2-7.6M427.6 105.0h11.8m-5.9-5.2v10.4m-4.1-9l8.2 7.6m-8.2 0l8.2-7.6M438.4 93.8h11.8m-5.9-5.2v10.4m-4.1-9l8.2 7.6m-8.2 0l8.2-7.6M430.3 87.8h11.8m-5.9-5.2v10.4m-4.1-9l8.2 7.6m-8.2 0l8.2-7.6M440.1 95.5h11.8m-5.9-5.2v10.4m-4.1-9l8.2 7.6m-8.2 0l8.2-7.6M480.0 143.8h11.8m-5.9-5.2v10.4m-4.1-9l8.2 7.6m-8.2 0l8.2-7.6M429.2 93.8h11.8m-5.9-5.2v10.4m-4.1-9l8.2 7.6m-8.2 0l8.2-7.6M422.4 92.8h11.8m-5.9-5.2v10.4m-4.1-9l8.2 7.6m-8.2 0l8.2-7.6M479.4 99.5h11.8m-5.9-5.2v10.4m-4.1-9l8.2 7.6m-8.2 0l8.2-7.6M449.0 122.1h11.8m-5.9-5.2v10.4m-4.1-9l8.2 7.6m-8.2 0l8.2-7.6M484.5 113.3h11.8m-5.9-5.2v10.4m-4.1-9l8.2 7.6m-8.2 0l8.2-7.6M417.5 99.9h11.8m-5.9-5.2v10.4m-4.1-9l8.2 7.6m-8.2 0l8.2-7.6M508.9 125.7h11.8m-5.9-5.2v10.4m-4.1-9l8.2 7.6m-8.2 0l8.2-7.6M466.4 136.9h11.8m-5.9-5.2v10.4m-4.1-9l8.2 7.6m-8.2 0l8.2-7.6M454.5 126.1h11.8m-5.9-5.2v10.4m-4.1-9l8.2 7.6m-8.2 0l8.2-7.6M525.2 153.6h11.8m-5.9-5.2v10.4m-4.1-9l8.2 7.6m-8.2 0l8.2-7.6M429.1 89.3h11.8m-5.9-5.2v10.4m-4.1-9l8.2 7.6m-8.2 0l8.2-7.6M533.4 165.0h11.8m-5.9-5.2v10.4m-4.1-9l8.2 7.6m-8.2 0l8.2-7.6M475.3 124.7h11.8m-5.9-5.2v10.4m-4.1-9l8.2 7.6m-8.2 0l8.2-7.6M534.0 151.9h11.8m-5.9-5.2v10.4m-4.1-9l8.2 7.6m-8.2 0l8.2-7.6M493.0 126.2h11.8m-5.9-5.2v10.4m-4.1-9l8.2 7.6m-8.2 0l8.2-7.6M491.8 120.7h11.8m-5.9-5.2v10.4m-4.1-9l8.2 7.6m-8.2 0l8.2-7.6M451.8 116.6h11.8m-5.9-5.2v10.4m-4.1-9l8.2 7.6m-8.2 0l8.2-7.6M538.5 138.5h11.8m-5.9-5.2v10.4m-4.1-9l8.2 7.6m-8.2 0l8.2-7.6M450.7 120.6h11.8m-5.9-5.2v10.4m-4.1-9l8.2 7.6m-8.2 0l8.2-7.6M431.2 119.3h11.8m-5.9-5.2v10.4m-4.1-9l8.2 7.6m-8.2 0l8.2-7.6M506.5 126.9h11.8m-5.9-5.2v10.4m-4.1-9l8.2 7.6m-8.2 0l8.2-7.6M510.5 132.0h11.8m-5.9-5.2v10.4m-4.1-9l8.2 7.6m-8.2 0l8.2-7.6M445.3 127.1h11.8m-5.9-5.2v10.4m-4.1-9l8.2 7.6m-8.2 0l8.2-7.6M480.5 136.5h11.8m-5.9-5.2v10.4m-4.1-9l8.2 7.6m-8.2 0l8.2-7.6M455.2 118.8h11.8m-5.9-5.2v10.4m-4.1-9l8.2 7.6m-8.2 0l8.2-7.6M434.1 124.5h11.8m-5.9-5.2v10.4m-4.1-9l8.2 7.6m-8.2 0l8.2-7.6M455.4 111.5h11.8m-5.9-5.2v10.4m-4.1-9l8.2 7.6m-8.2 0l8.2-7.6M479.0 100.3h11.8m-5.9-5.2v10.4m-4.1-9l8.2 7.6m-8.2 0l8.2-7.6M491.8 131.5h11.8m-5.9-5.2v10.4m-4.1-9l8.2 7.6m-8.2 0l8.2-7.6M495.8 122.9h11.8m-5.9-5.2v10.4m-4.1-9l8.2 7.6m-8.2 0l8.2-7.6M536.4 161.9h11.8m-5.9-5.2v10.4m-4.1-9l8.2 7.6m-8.2 0l8.2-7.6M462.5 103.2h11.8m-5.9-5.2v10.4m-4.1-9l8.2 7.6m-8.2 0l8.2-7.6M501.3 139.5h11.8m-5.9-5.2v10.4m-4.1-9l8.2 7.6m-8.2 0l8.2-7.6M491.9 122.3h11.8m-5.9-5.2v10.4m-4.1-9l8.2 7.6m-8.2 0l8.2-7.6M495.7 146.9h11.8m-5.9-5.2v10.4m-4.1-9l8.2 7.6m-8.2 0l8.2-7.6M436.9 91.5h11.8m-5.9-5.2v10.4m-4.1-9l8.2 7.6m-8.2 0l8.2-7.6M421.1 86.6h11.8m-5.9-5.2v10.4m-4.1-9l8.2 7.6m-8.2 0l8.2-7.6M423.1 92.9h11.8m-5.9-5.2v10.4m-4.1-9l8.2 7.6m-8.2 0l8.2-7.6M478.6 137.1h11.8m-5.9-5.2v10.4m-4.1-9l8.2 7.6m-8.2 0l8.2-7.6M448.1 135.1h11.8m-5.9-5.2v10.4m-4.1-9l8.2 7.6m-8.2 0l8.2-7.6M412.7 104.2h11.8m-5.9-5.2v10.4m-4.1-9l8.2 7.6m-8.2 0l8.2-7.6M490.4 147.2h11.8m-5.9-5.2v10.4m-4.1-9l8.2 7.6m-8.2 0l8.2-7.6M474.2 142.2h11.8m-5.9-5.2v10.4m-4.1-9l8.2 7.6m-8.2 0l8.2-7.6M451.2 117.2h11.8m-5.9-5.2v10.4m-4.1-9l8.2 7.6m-8.2 0l8.2-7.6M476.4 137.2h11.8m-5.9-5.2v10.4m-4.1-9l8.2 7.6m-8.2 0l8.2-7.6M421.3 97.8h11.8m-5.9-5.2v10.4m-4.1-9l8.2 7.6m-8.2 0l8.2-7.6M507.9 128.4h11.8m-5.9-5.2v10.4m-4.1-9l8.2 7.6m-8.2 0l8.2-7.6M484.2 129.2h11.8m-5.9-5.2v10.4m-4.1-9l8.2 7.6m-8.2 0l8.2-7.6M499.0 140.5h11.8m-5.9-5.2v10.4m-4.1-9l8.2 7.6m-8.2 0l8.2-7.6M497.1 127.3h11.8m-5.9-5.2v10.4m-4.1-9l8.2 7.6m-8.2 0l8.2-7.6M487.4 132.4h11.8m-5.9-5.2v10.4m-4.1-9l8.2 7.6m-8.2 0l8.2-7.6M511.8 130.0h11.8m-5.9-5.2v10.4m-4.1-9l8.2 7.6m-8.2 0l8.2-7.6M539.5 137.7h11.8m-5.9-5.2v10.4m-4.1-9l8.2 7.6m-8.2 0l8.2-7.6M432.4 87.9h11.8m-5.9-5.2v10.4m-4.1-9l8.2 7.6m-8.2 0l8.2-7.6M512.6 156.9h11.8m-5.9-5.2v10.4m-4.1-9l8.2 7.6m-8.2 0l8.2-7.6M484.3 130.6h11.8m-5.9-5.2v10.4m-4.1-9l8.2 7.6m-8.2 0l8.2-7.6M418.9 95.5h11.8m-5.9-5.2v10.4m-4.1-9l8.2 7.6m-8.2 0l8.2-7.6M492.6 117.9h11.8m-5.9-5.2v10.4m-4.1-9l8.2 7.6m-8.2 0l8.2-7.6M484.9 113.9h11.8m-5.9-5.2v10.4m-4.1-9l8.2 7.6m-8.2 0l8.2-7.6M496.3 129.6h11.8m-5.9-5.2v10.4m-4.1-9l8.2 7.6m-8.2 0l8.2-7.6M427.8 104.7h11.8m-5.9-5.2v10.4m-4.1-9l8.2 7.6m-8.2 0l8.2-7.6M466.7 111.6h11.8m-5.9-5.2v10.4m-4.1-9l8.2 7.6m-8.2 0l8.2-7.6M492.7 129.6h11.8m-5.9-5.2v10.4m-4.1-9l8.2 7.6m-8.2 0l8.2-7.6M514.7 119.5h11.8m-5.9-5.2v10.4m-4.1-9l8.2 7.6m-8.2 0l8.2-7.6M416.6 101.0h11.8m-5.9-5.2v10.4m-4.1-9l8.2 7.6m-8.2 0l8.2-7.6M431.9 90.4h11.8m-5.9-5.2v10.4m-4.1-9l8.2 7.6m-8.2 0l8.2-7.6M483.9 132.5h11.8m-5.9-5.2v10.4m-4.1-9l8.2 7.6m-8.2 0l8.2-7.6M527.1 152.4h11.8m-5.9-5.2v10.4m-4.1-9l8.2 7.6m-8.2 0l8.2-7.6M469.8 109.3h11.8m-5.9-5.2v10.4m-4.1-9l8.2 7.6m-8.2 0l8.2-7.6M458.5 128.3h11.8m-5.9-5.2v10.4m-4.1-9l8.2 7.6m-8.2 0l8.2-7.6M469.7 134.2h11.8m-5.9-5.2v10.4m-4.1-9l8.2 7.6m-8.2 0l8.2-7.6M501.5 140.9h11.8m-5.9-5.2v10.4m-4.1-9l8.2 7.6m-8.2 0l8.2-7.6M484.9 133.5h11.8m-5.9-5.2v10.4m-4.1-9l8.2 7.6m-8.2 0l8.2-7.6M542.4 140.6h11.8m-5.9-5.2v10.4m-4.1-9l8.2 7.6m-8.2 0l8.2-7.6M469.2 106.1h11.8m-5.9-5.2v10.4m-4.1-9l8.2 7.6m-8.2 0l8.2-7.6M433.1 94.0h11.8m-5.9-5.2v10.4m-4.1-9l8.2 7.6m-8.2 0l8.2-7.6M533.8 143.6h11.8m-5.9-5.2v10.4m-4.1-9l8.2 7.6m-8.2 0l8.2-7.6M491.5 123.5h11.8m-5.9-5.2v10.4m-4.1-9l8.2 7.6m-8.2 0l8.2-7.6M520.2 151.7h11.8m-5.9-5.2v10.4m-4.1-9l8.2 7.6m-8.2 0l8.2-7.6M506.7 159.0h11.8m-5.9-5.2v10.4m-4.1-9l8.2 7.6m-8.2 0l8.2-7.6M419.5 103.3h11.8m-5.9-5.2v10.4m-4.1-9l8.2 7.6m-8.2 0l8.2-7.6M423.0 98.2h11.8m-5.9-5.2v10.4m-4.1-9l8.2 7.6m-8.2 0l8.2-7.6M481.3 137.0h11.8m-5.9-5.2v10.4m-4.1-9l8.2 7.6m-8.2 0l8.2-7.6M449.8 134.3h11.8m-5.9-5.2v10.4m-4.1-9l8.2 7.6m-8.2 0l8.2-7.6M433.9 132.5h11.8m-5.9-5.2v10.4m-4.1-9l8.2 7.6m-8.2 0l8.2-7.6M535.2 148.1h11.8m-5.9-5.2v10.4m-4.1-9l8.2 7.6m-8.2 0l8.2-7.6M471.7 111.9h11.8m-5.9-5.2v10.4m-4.1-9l8.2 7.6m-8.2 0l8.2-7.6M421.7 98.9h11.8m-5.9-5.2v10.4m-4.1-9l8.2 7.6m-8.2 0l8.2-7.6M490.7 125.6h11.8m-5.9-5.2v10.4m-4.1-9l8.2 7.6m-8.2 0l8.2-7.6M435.4 88.8h11.8m-5.9-5.2v10.4m-4.1-9l8.2 7.6m-8.2 0l8.2-7.6M501.0 130.8h11.8m-5.9-5.2v10.4m-4.1-9l8.2 7.6m-8.2 0l8.2-7.6M471.6 141.3h11.8m-5.9-5.2v10.4m-4.1-9l8.2 7.6m-8.2 0l8.2-7.6M487.0 113.0h11.8m-5.9-5.2v10.4m-4.1-9l8.2 7.6m-8.2 0l8.2-7.6M463.8 100.6h11.8m-5.9-5.2v10.4m-4.1-9l8.2 7.6m-8.2 0l8.2-7.6M428.2 93.4h11.8m-5.9-5.2v10.4m-4.1-9l8.2 7.6m-8.2 0l8.2-7.6M461.9 106.0h11.8m-5.9-5.2v10.4m-4.1-9l8.2 7.6m-8.2 0l8.2-7.6M526.4 138.8h11.8m-5.9-5.2v10.4m-4.1-9l8.2 7.6m-8.2 0l8.2-7.6M505.2 146.8h11.8m-5.9-5.2v10.4m-4.1-9l8.2 7.6m-8.2 0l8.2-7.6M517.3 146.0h11.8m-5.9-5.2v10.4m-4.1-9l8.2 7.6m-8.2 0l8.2-7.6M545.8 137.0h11.8m-5.9-5.2v10.4m-4.1-9l8.2 7.6m-8.2 0l8.2-7.6M502.6 150.5h11.8m-5.9-5.2v10.4m-4.1-9l8.2 7.6m-8.2 0l8.2-7.6M463.7 120.9h11.8m-5.9-5.2v10.4m-4.1-9l8.2 7.6m-8.2 0l8.2-7.6M523.1 143.2h11.8m-5.9-5.2v10.4m-4.1-9l8.2 7.6m-8.2 0l8.2-7.6M496.1 109.8h11.8m-5.9-5.2v10.4m-4.1-9l8.2 7.6m-8.2 0l8.2-7.6M494.0 136.2h11.8m-5.9-5.2v10.4m-4.1-9l8.2 7.6m-8.2 0l8.2-7.6M385.0 67.7h11.8m-5.9-5.2v10.4m-4.1-9l8.2 7.6m-8.2 0l8.2-7.6M460.0 73.2h11.8m-5.9-5.2v10.4m-4.1-9l8.2 7.6m-8.2 0l8.2-7.6M427.1 79.8h11.8m-5.9-5.2v10.4m-4.1-9l8.2 7.6m-8.2 0l8.2-7.6M442.9 85.0h11.8m-5.9-5.2v10.4m-4.1-9l8.2 7.6m-8.2 0l8.2-7.6M411.2 87.7h11.8m-5.9-5.2v10.4m-4.1-9l8.2 7.6m-8.2 0l8.2-7.6M404.6 93.0h11.8m-5.9-5.2v10.4m-4.1-9l8.2 7.6m-8.2 0l8.2-7.6M408.6 108.8h11.8m-5.9-5.2v10.4m-4.1-9l8.2 7.6m-8.2 0l8.2-7.6M428.4 120.6h11.8m-5.9-5.2v10.4m-4.1-9l8.2 7.6m-8.2 0l8.2-7.6M444.1 137.8h11.8m-5.9-5.2v10.4m-4.1-9l8.2 7.6m-8.2 0l8.2-7.6M478.4 94.3h11.8m-5.9-5.2v10.4m-4.1-9l8.2 7.6m-8.2 0l8.2-7.6M496.9 104.8h11.8m-5.9-5.2v10.4m-4.1-9l8.2 7.6m-8.2 0l8.2-7.6M506.1 114.0h11.8m-5.9-5.2v10.4m-4.1-9l8.2 7.6m-8.2 0l8.2-7.6M467.9 144.3h11.8m-5.9-5.2v10.4m-4.1-9l8.2 7.6m-8.2 0l8.2-7.6M481.1 148.3h11.8m-5.9-5.2v10.4m-4.1-9l8.2 7.6m-8.2 0l8.2-7.6M507.4 168.0h11.8m-5.9-5.2v10.4m-4.1-9l8.2 7.6m-8.2 0l8.2-7.6M518.0 173.3h11.8m-5.9-5.2v10.4m-4.1-9l8.2 7.6m-8.2 0l8.2-7.6M524.6 124.6h11.8m-5.9-5.2v10.4m-4.1-9l8.2 7.6m-8.2 0l8.2-7.6M537.7 129.8h11.8m-5.9-5.2v10.4m-4.1-9l8.2 7.6m-8.2 0l8.2-7.6M547.0 133.8h11.8m-5.9-5.2v10.4m-4.1-9l8.2 7.6m-8.2 0l8.2-7.6M550.9 145.7h11.8m-5.9-5.2v10.4m-4.1-9l8.2 7.6m-8.2 0l8.2-7.6M547.0 170.7h11.8m-5.9-5.2v10.4m-4.1-9l8.2 7.6m-8.2 0l8.2-7.6M536.4 158.8h11.8m-5.9-5.2v10.4m-4.1-9l8.2 7.6m-8.2 0l8.2-7.6M459.1 82.0h11.8m-5.9-5.2v10.4m-4.1-9l8.2 7.6m-8.2 0l8.2-7.6M456.1 90.0h11.8m-5.9-5.2v10.4m-4.1-9l8.2 7.6m-8.2 0l8.2-7.6" stroke="#0000ff" stroke-width="1.25" fill="none"/><path d="M204.9 314.9h11.8m-5.9-5.2v10.4m-4.1-9l8.2 7.6m-8.2 0l8.2-7.6M208.3 300.7h11.8m-5.9-5.2v10.4m-4.1-9l8.2 7.6m-8.2 0l8.2-7.6M197.3 292.5h11.8m-5.9-5.2v10.4m-4.1-9l8.2 7.6m-8.2 0l8.2-7.6M213.5 340.0h11.8m-5.9-5.2v10.4m-4.1-9l8.2 7.6m-8.2 0l8.2-7.6M201.7 301.4h11.8m-5.9-5.2v10.4m-4.1-9l8.2 7.6m-8.2 0l8.2-7.6M227.0 330.7h11.8m-5.9-5.2v10.4m-4.1-9l8.2 7.6m-8.2 0l8.2-7.6M196.0 297.2h11.8m-5.9-5.2v10.4m-4.1-9l8.2 7.6m-8.2 0l8.2-7.6M215.4 307.7h11.8m-5.9-5.2v10.4m-4.1-9l8.2 7.6m-8.2 0l8.2-7.6M237.3 350.0h11.8m-5.9-5.2v10.4m-4.1-9l8.2 7.6m-8.2 0l8.2-7.6M206.8 333.0h11.8m-5.9-5.2v10.4m-4.1-9l8.2 7.6m-8.2 0l8.2-7.6M236.2 349.2h11.8m-5.9-5.2v10.4m-4.1-9l8.2 7.6m-8.2 0l8.2-7.6M201.5 287.7h11.8m-5.9-5.2v10.4m-4.1-9l8.2 7.6m-8.2 0l8.2-7.6M238.5 364.4h11.8m-5.9-5.2v10.4m-4.1-9l8.2 7.6m-8.2 0l8.2-7.6M196.3 313.1h11.8m-5.9-5.2v10.4m-4.1-9l8.2 7.6m-8.2 0l8.2-7.6M194.6 295.9h11.8m-5.9-5.2v10.4m-4.1-9l8.2 7.6m-8.2 0l8.2-7.6M213.8 351.7h11.8m-5.9-5.2v10.4m-4.1-9l8.2 7.6m-8.2 0l8.2-7.6M198.2 297.4h11.8m-5.9-5.2v10.4m-4.1-9l8.2 7.6m-8.2 0l8.2-7.6M202.4 297.5h11.8m-5.9-5.2v10.4m-4.1-9l8.2 7.6m-8.2 0l8.2-7.6M198.7 318.4h11.8m-5.9-5.2v10.4m-4.1-9l8.2 7.6m-8.2 0l8.2-7.6M233.3 354.5h11.8m-5.9-5.2v10.4m-4.1-9l8.2 7.6m-8.2 0l8.2-7.6M229.2 354.5h11.8m-5.9-5.2v10.4m-4.1-9l8.2 7.6m-8.2 0l8.2-7.6M211.9 322.4h11.8m-5.9-5.2v10.4m-4.1-9l8.2 7.6m-8.2 0l8.2-7.6M230.2 340.1h11.8m-5.9-5.2v10.4m-4.1-9l8.2 7.6m-8.2 0l8.2-7.6M232.2 340.4h11.8m-5.9-5.2v10.4m-4.1-9l8.2 7.6m-8.2 0l8.2-7.6M203.0 317.7h11.8m-5.9-5.2v10.4m-4.1-9l8.2 7.6m-8.2 0l8.2-7.6M224.5 318.1h11.8m-5.9-5.2v10.4m-4.1-9l8.2 7.6m-8.2 0l8.2-7.6M239.0 363.9h11.8m-5.9-5.2v10.4m-4.1-9l8.2 7.6m-8.2 0l8.2-7.6M202.5 290.1h11.8m-5.9-5.2v10.4m-4.1-9l8.2 7.6m-8.2 0l8.2-7.6M191.4 295.4h11.8m-5.9-5.2v10.4m-4.1-9l8.2 7.6m-8.2 0l8.2-7.6M204.9 331.4h11.8m-5.9-5.2v10.4m-4.1-9l8.2 7.6m-8.2 0l8.2-7.6M240.0 343.8h11.8m-5.9-5.2v10.4m-4.1-9l8.2 7.6m-8.2 0l8.2-7.6M234.3 363.0h11.8m-5.9-5.2v10.4m-4.1-9l8.2 7.6m-8.2 0l8.2-7.6M200.5 320.9h11.8m-5.9-5.2v10.4m-4.1-9l8.2 7.6m-8.2 0l8.2-7.6M218.1 328.2h11.8m-5.9-5.2v10.4m-4.1-9l8.2 7.6m-8.2 0l8.2-7.6M224.3 335.6h11.8m-5.9-5.2v10.4m-4.1-9l8.2 7.6m-8.2 0l8.2-7.6M193.5 295.0h11.8m-5.9-5.2v10.4m-4.1-9l8.2 7.6m-8.2 0l8.2-7.6M227.8 340.5h11.8m-5.9-5.2v10.4m-4.1-9l8.2 7.6m-8.2 0l8.2-7.6M225.3 324.1h11.8m-5.9-5.2v10.4m-4.1-9l8.2 7.6m-8.2 0l8.2-7.6M227.8 330.0h11.8m-5.9-5.2v10.4m-4.1-9l8.2 7.6m-8.2 0l8.2-7.6M216.2 351.1h11.8m-5.9-5.2v10.4m-4.1-9l8.2 7.6m-8.2 0l8.2-7.6M228.2 321.6h11.8m-5.9-5.2v10.4m-4.1-9l8.2 7.6m-8.2 0l8.2-7.6M206.7 319.4h11.8m-5.9-5.2v10.4m-4.1-9l8.2 7.6m-8.2 0l8.2-7.6M222.8 334.7h11.8m-5.9-5.2v10.4m-4.1-9l8.2 7.6m-8.2 0l8.2-7.6M228.1 356.7h11.8m-5.9-5.2v10.4m-4.1-9l8.2 7.6m-8.2 0l8.2-7.6M204.3 296.6h11.8m-5.9-5.2v10.4m-4.1-9l8.2 7.6m-8.2 0l8.2-7.6M201.6 336.1h11.8m-5.9-5.2v10.4m-4.1-9l8.2 7.6m-8.2 0l8.2-7.6M213.1 335.4h11.8m-5.9-5.2v10.4m-4.1-9l8.2 7.6m-8.2 0l8.2-7.6M228.8 355.2h11.8m-5.9-5.2v10.4m-4.1-9l8.2 7.6m-8.2 0l8.2-7.6M227.5 328.2h11.8m-5.9-5.2v10.4m-4.1-9l8.2 7.6m-8.2 0l8.2-7.6M200.1 288.0h11.8m-5.9-5.2v10.4m-4.1-9l8.2 7.6m-8.2 0l8.2-7.6M208.0 325.3h11.8m-5.9-5.2v10.4m-4.1-9l8.2 7.6m-8.2 0l8.2-7.6M203.6 339.9h11.8m-5.9-5.2v10.4m-4.1-9l8.2 7.6m-8.2 0l8.2-7.6M236.7 366.8h11.8m-5.9-5.2v10.4m-4.1-9l8.2 7.6m-8.2 0l8.2-7.6M229.8 324.2h11.8m-5.9-5.2v10.4m-4.1-9l8.2 7.6m-8.2 0l8.2-7.6M229.1 324.4h11.8m-5.9-5.2v10.4m-4.1-9l8.2 7.6m-8.2 0l8.2-7.6M228.2 325.4h11.8m-5.9-5.2v10.4m-4.1-9l8.2 7.6m-8.2 0l8.2-7.6M227.8 323.8h11.8m-5.9-5.2v10.4m-4.1-9l8.2 7.6m-8.2 0l8.2-7.6M208.8 343.7h11.8m-5.9-5.2v10.4m-4.1-9l8.2 7.6m-8.2 0l8.2-7.6M211.9 300.5h11.8m-5.9-5.2v10.4m-4.1-9l8.2 7.6m-8.2 0l8.2-7.6M204.4 318.3h11.8m-5.9-5.2v10.4m-4.1-9l8.2 7.6m-8.2 0l8.2-7.6M212.3 315.2h11.8m-5.9-5.2v10.4m-4.1-9l8.2 7.6m-8.2 0l8.2-7.6M224.1 323.9h11.8m-5.9-5.2v10.4m-4.1-9l8.2 7.6m-8.2 0l8.2-7.6M202.2 309.9h11.8m-5.9-5.2v10.4m-4.1-9l8.2 7.6m-8.2 0l8.2-7.6M238.6 337.9h11.8m-5.9-5.2v10.4m-4.1-9l8.2 7.6m-8.2 0l8.2-7.6M195.4 310.2h11.8m-5.9-5.2v10.4m-4.1-9l8.2 7.6m-8.2 0l8.2-7.6M234.1 365.0h11.8m-5.9-5.2v10.4m-4.1-9l8.2 7.6m-8.2 0l8.2-7.6M231.9 365.3h11.8m-5.9-5.2v10.4m-4.1-9l8.2 7.6m-8.2 0l8.2-7.6M201.1 292.8h11.8m-5.9-5.2v10.4m-4.1-9l8.2 7.6m-8.2 0l8.2-7.6M220.5 350.4h11.8m-5.9-5.2v10.4m-4.1-9l8.2 7.6m-8.2 0l8.2-7.6M210.2 336.7h11.8m-5.9-5.2v10.4m-4.1-9l8.2 7.6m-8.2 0l8.2-7.6M234.7 366.4h11.8m-5.9-5.2v10.4m-4.1-9l8.2 7.6m-8.2 0l8.2-7.6M240.5 352.1h11.8m-5.9-5.2v10.4m-4.1-9l8.2 7.6m-8.2 0l8.2-7.6M209.4 345.3h11.8m-5.9-5.2v10.4m-4.1-9l8.2 7.6m-8.2 0l8.2-7.6M220.5 316.9h11.8m-5.9-5.2v10.4m-4.1-9l8.2 7.6m-8.2 0l8.2-7.6M229.9 328.7h11.8m-5.9-5.2v10.4m-4.1-9l8.2 7.6m-8.2 0l8.2-7.6M197.8 299.0h11.8m-5.9-5.2v10.4m-4.1-9l8.2 7.6m-8.2 0l8.2-7.6M204.7 293.2h11.8m-5.9-5.2v10.4m-4.1-9l8.2 7.6m-8.2 0l8.2-7.6M203.3 330.3h11.8m-5.9-5.2v10.4m-4.1-9l8.2 7.6m-8.2 0l8.2-7.6M200.6 294.9h11.8m-5.9-5.2v10.4m-4.1-9l8.2 7.6m-8.2 0l8.2-7.6M214.7 353.8h11.8m-5.9-5.2v10.4m-4.1-9l8.2 7.6m-8.2 0l8.2-7.6M215.2 343.9h11.8m-5.9-5.2v10.4m-4.1-9l8.2 7.6m-8.2 0l8.2-7.6M218.4 347.6h11.8m-5.9-5.2v10.4m-4.1-9l8.2 7.6m-8.2 0l8.2-7.6M209.2 324.7h11.8m-5.9-5.2v10.4m-4.1-9l8.2 7.6m-8.2 0l8.2-7.6M199.5 305.1h11.8m-5.9-5.2v10.4m-4.1-9l8.2 7.6m-8.2 0l8.2-7.6M236.9 365.1h11.8m-5.9-5.2v10.4m-4.1-9l8.2 7.6m-8.2 0l8.2-7.6M225.2 350.6h11.8m-5.9-5.2v10.4m-4.1-9l8.2 7.6m-8.2 0l8.2-7.6M197.7 303.6h11.8m-5.9-5.2v10.4m-4.1-9l8.2 7.6m-8.2 0l8.2-7.6M213.1 342.3h11.8m-5.9-5.2v10.4m-4.1-9l8.2 7.6m-8.2 0l8.2-7.6M210.4 303.5h11.8m-5.9-5.2v10.4m-4.1-9l8.2 7.6m-8.2 0l8.2-7.6M230.1 342.5h11.8m-5.9-5.2v10.4m-4.1-9l8.2 7.6m-8.2 0l8.2-7.6M237.3 346.7h11.8m-5.9-5.2v10.4m-4.1-9l8.2 7.6m-8.2 0l8.2-7.6M206.2 296.5h11.8m-5.9-5.2v10.4m-4.1-9l8.2 7.6m-8.2 0l8.2-7.6M241.4 346.0h11.8m-5.9-5.2v10.4m-4.1-9l8.2 7.6m-8.2 0l8.2-7.6M231.5 360.0h11.8m-5.9-5.2v10.4m-4.1-9l8.2 7.6m-8.2 0l8.2-7.6M235.7 352.5h11.8m-5.9-5.2v10.4m-4.1-9l8.2 7.6m-8.2 0l8.2-7.6M196.4 321.5h11.8m-5.9-5.2v10.4m-4.1-9l8.2 7.6m-8.2 0l8.2-7.6M208.8 299.0h11.8m-5.9-5.2v10.4m-4.1-9l8.2 7.6m-8.2 0l8.2-7.6M221.9 339.1h11.8m-5.9-5.2v10.4m-4.1-9l8.2 7.6m-8.2 0l8.2-7.6M192.0 311.9h11.8m-5.9-5.2v10.4m-4.1-9l8.2 7.6m-8.2 0l8.2-7.6M241.7 361.4h11.8m-5.9-5.2v10.4m-4.1-9l8.2 7.6m-8.2 0l8.2-7.6M198.5 322.3h11.8m-5.9-5.2v10.4m-4.1-9l8.2 7.6m-8.2 0l8.2-7.6M197.6 301.7h11.8m-5.9-5.2v10.4m-4.1-9l8.2 7.6m-8.2 0l8.2-7.6M210.7 331.7h11.8m-5.9-5.2v10.4m-4.1-9l8.2 7.6m-8.2 0l8.2-7.6M211.6 328.7h11.8m-5.9-5.2v10.4m-4.1-9l8.2 7.6m-8.2 0l8.2-7.6M210.4 333.1h11.8m-5.9-5.2v10.4m-4.1-9l8.2 7.6m-8.2 0l8.2-7.6M218.0 335.0h11.8m-5.9-5.2v10.4m-4.1-9l8.2 7.6m-8.2 0l8.2-7.6M239.5 344.0h11.8m-5.9-5.2v10.4m-4.1-9l8.2 7.6m-8.2 0l8.2-7.6M218.9 314.4h11.8m-5.9-5.2v10.4m-4.1-9l8.2 7.6m-8.2 0l8.2-7.6M210.0 318.5h11.8m-5.9-5.2v10.4m-4.1-9l8.2 7.6m-8.2 0l8.2-7.6M219.9 326.0h11.8m-5.9-5.2v10.4m-4.1-9l8.2 7.6m-8.2 0l8.2-7.6M232.1 346.0h11.8m-5.9-5.2v10.4m-4.1-9l8.2 7.6m-8.2 0l8.2-7.6M199.7 315.4h11.8m-5.9-5.2v10.4m-4.1-9l8.2 7.6m-8.2 0l8.2-7.6M219.9 350.3h11.8m-5.9-5.2v10.4m-4.1-9l8.2 7.6m-8.2 0l8.2-7.6M202.2 288.5h11.8m-5.9-5.2v10.4m-4.1-9l8.2 7.6m-8.2 0l8.2-7.6M195.2 324.3h11.8m-5.9-5.2v10.4m-4.1-9l8.2 7.6m-8.2 0l8.2-7.6M225.6 326.5h11.8m-5.9-5.2v10.4m-4.1-9l8.2 7.6m-8.2 0l8.2-7.6M212.6 323.0h11.8m-5.9-5.2v10.4m-4.1-9l8.2 7.6m-8.2 0l8.2-7.6M229.0 333.7h11.8m-5.9-5.2v10.4m-4.1-9l8.2 7.6m-8.2 0l8.2-7.6M235.0 344.1h11.8m-5.9-5.2v10.4m-4.1-9l8.2 7.6m-8.2 0l8.2-7.6M229.7 335.5h11.8m-5.9-5.2v10.4m-4.1-9l8.2 7.6m-8.2 0l8.2-7.6M197.4 281.7h11.8m-5.9-5.2v10.4m-4.1-9l8.2 7.6m-8.2 0l8.2-7.6M221.0 325.3h11.8m-5.9-5.2v10.4m-4.1-9l8.2 7.6m-8.2 0l8.2-7.6M241.0 343.1h11.8m-5.9-5.2v10.4m-4.1-9l8.2 7.6m-8.2 0l8.2-7.6M219.4 320.3h11.8m-5.9-5.2v10.4m-4.1-9l8.2 7.6m-8.2 0l8.2-7.6M231.5 367.9h11.8m-5.9-5.2v10.4m-4.1-9l8.2 7.6m-8.2 0l8.2-7.6M209.8 340.8h11.8m-5.9-5.2v10.4m-4.1-9l8.2 7.6m-8.2 0l8.2-7.6M202.3 293.5h11.8m-5.9-5.2v10.4m-4.1-9l8.2 7.6m-8.2 0l8.2-7.6M222.2 336.4h11.8m-5.9-5.2v10.4m-4.1-9l8.2 7.6m-8.2 0l8.2-7.6M201.7 290.8h11.8m-5.9-5.2v10.4m-4.1-9l8.2 7.6m-8.2 0l8.2-7.6M197.2 326.8h11.8m-5.9-5.2v10.4m-4.1-9l8.2 7.6m-8.2 0l8.2-7.6M199.7 301.3h11.8m-5.9-5.2v10.4m-4.1-9l8.2 7.6m-8.2 0l8.2-7.6M223.0 362.9h11.8m-5.9-5.2v10.4m-4.1-9l8.2 7.6m-8.2 0l8.2-7.6M207.6 311.5h11.8m-5.9-5.2v10.4m-4.1-9l8.2 7.6m-8.2 0l8.2-7.6M212.4 339.1h11.8m-5.9-5.2v10.4m-4.1-9l8.2 7.6m-8.2 0l8.2-7.6M225.2 346.0h11.8m-5.9-5.2v10.4m-4.1-9l8.2 7.6m-8.2 0l8.2-7.6M193.0 301.9h11.8m-5.9-5.2v10.4m-4.1-9l8.2 7.6m-8.2 0l8.2-7.6M191.5 297.1h11.8m-5.9-5.2v10.4m-4.1-9l8.2 7.6m-8.2 0l8.2-7.6M207.1 335.4h11.8m-5.9-5.2v10.4m-4.1-9l8.2 7.6m-8.2 0l8.2-7.6M193.1 283.5h11.8m-5.9-5.2v10.4m-4.1-9l8.2 7.6m-8.2 0l8.2-7.6M197.7 292.4h11.8m-5.9-5.2v10.4m-4.1-9l8.2 7.6m-8.2 0l8.2-7.6M199.4 308.5h11.8m-5.9-5.2v10.4m-4.1-9l8.2 7.6m-8.2 0l8.2-7.6M235.2 358.1h11.8m-5.9-5.2v10.4m-4.1-9l8.2 7.6m-8.2 0l8.2-7.6M241.2 345.6h11.8m-5.9-5.2v10.4m-4.1-9l8.2 7.6m-8.2 0l8.2-7.6M201.1 336.6h11.8m-5.9-5.2v10.4m-4.1-9l8.2 7.6m-8.2 0l8.2-7.6M208.5 323.1h11.8m-5.9-5.2v10.4m-4.1-9l8.2 7.6m-8.2 0l8.2-7.6M202.5 312.3h11.8m-5.9-5.2v10.4m-4.1-9l8.2 7.6m-8.2 0l8.2-7.6M218.1 310.6h11.8m-5.9-5.2v10.4m-4.1-9l8.2 7.6m-8.2 0l8.2-7.6M217.6 308.8h11.8m-5.9-5.2v10.4m-4.1-9l8.2 7.6m-8.2 0l8.2-7.6M225.4 321.5h11.8m-5.9-5.2v10.4m-4.1-9l8.2 7.6m-8.2 0l8.2-7.6M208.2 298.8h11.8m-5.9-5.2v10.4m-4.1-9l8.2 7.6m-8.2 0l8.2-7.6M236.3 343.5h11.8m-5.9-5.2v10.4m-4.1-9l8.2 7.6m-8.2 0l8.2-7.6M212.8 348.0h11.8m-5.9-5.2v10.4m-4.1-9l8.2 7.6m-8.2 0l8.2-7.6M206.9 309.1h11.8m-5.9-5.2v10.4m-4.1-9l8.2 7.6m-8.2 0l8.2-7.6M206.7 314.1h11.8m-5.9-5.2v10.4m-4.1-9l8.2 7.6m-8.2 0l8.2-7.6M207.7 307.1h11.8m-5.9-5.2v10.4m-4.1-9l8.2 7.6m-8.2 0l8.2-7.6M193.4 296.6h11.8m-5.9-5.2v10.4m-4.1-9l8.2 7.6m-8.2 0l8.2-7.6M224.9 343.6h11.8m-5.9-5.2v10.4m-4.1-9l8.2 7.6m-8.2 0l8.2-7.6M234.6 345.7h11.8m-5.9-5.2v10.4m-4.1-9l8.2 7.6m-8.2 0l8.2-7.6M198.1 289.0h11.8m-5.9-5.2v10.4m-4.1-9l8.2 7.6m-8.2 0l8.2-7.6M194.1 289.2h11.8m-5.9-5.2v10.4m-4.1-9l8.2 7.6m-8.2 0l8.2-7.6M229.4 342.4h11.8m-5.9-5.2v10.4m-4.1-9l8.2 7.6m-8.2 0l8.2-7.6M196.1 290.1h11.8m-5.9-5.2v10.4m-4.1-9l8.2 7.6m-8.2 0l8.2-7.6M206.2 335.6h11.8m-5.9-5.2v10.4m-4.1-9l8.2 7.6m-8.2 0l8.2-7.6M193.5 311.0h11.8m-5.9-5.2v10.4m-4.1-9l8.2 7.6m-8.2 0l8.2-7.6M191.9 313.7h11.8m-5.9-5.2v10.4m-4.1-9l8.2 7.6m-8.2 0l8.2-7.6M205.2 328.7h11.8m-5.9-5.2v10.4m-4.1-9l8.2 7.6m-8.2 0l8.2-7.6M212.0 321.1h11.8m-5.9-5.2v10.4m-4.1-9l8.2 7.6m-8.2 0l8.2-7.6M203.8 338.0h11.8m-5.9-5.2v10.4m-4.1-9l8.2 7.6m-8.2 0l8.2-7.6M231.3 352.9h11.8m-5.9-5.2v10.4m-4.1-9l8.2 7.6m-8.2 0l8.2-7.6M200.9 332.4h11.8m-5.9-5.2v10.4m-4.1-9l8.2 7.6m-8.2 0l8.2-7.6M193.3 304.8h11.8m-5.9-5.2v10.4m-4.1-9l8.2 7.6m-8.2 0l8.2-7.6M228.5 333.9h11.8m-5.9-5.2v10.4m-4.1-9l8.2 7.6m-8.2 0l8.2-7.6M226.8 354.6h11.8m-5.9-5.2v10.4m-4.1-9l8.2 7.6m-8.2 0l8.2-7.6M228.5 329.8h11.8m-5.9-5.2v10.4m-4.1-9l8.2 7.6m-8.2 0l8.2-7.6M229.7 356.0h11.8m-5.9-5.2v10.4m-4.1-9l8.2 7.6m-8.2 0l8.2-7.6M192.0 287.0h11.8m-5.9-5.2v10.4m-4.1-9l8.2 7.6m-8.2 0l8.2-7.6M210.2 344.3h11.8m-5.9-5.2v10.4m-4.1-9l8.2 7.6m-8.2 0l8.2-7.6M193.9 281.9h11.8m-5.9-5.2v10.4m-4.1-9l8.2 7.6m-8.2 0l8.2-7.6M226.7 361.8h11.8m-5.9-5.2v10.4m-4.1-9l8.2 7.6m-8.2 0l8.2-7.6M241.2 357.5h11.8m-5.9-5.2v10.4m-4.1-9l8.2 7.6m-8.2 0l8.2-7.6M234.9 346.1h11.8m-5.9-5.2v10.4m-4.1-9l8.2 7.6m-8.2 0l8.2-7.6M219.4 318.2h11.8m-5.9-5.2v10.4m-4.1-9l8.2 7.6m-8.2 0l8.2-7.6M214.3 330.0h11.8m-5.9-5.2v10.4m-4.1-9l8.2 7.6m-8.2 0l8.2-7.6M201.5 321.9h11.8m-5.9-5.2v10.4m-4.1-9l8.2 7.6m-8.2 0l8.2-7.6M235.2 368.8h11.8m-5.9-5.2v10.4m-4.1-9l8.2 7.6m-8.2 0l8.2-7.6M200.6 329.2h11.8m-5.9-5.2v10.4m-4.1-9l8.2 7.6m-8.2 0l8.2-7.6M213.4 334.3h11.8m-5.9-5.2v10.4m-4.1-9l8.2 7.6m-8.2 0l8.2-7.6M225.6 326.7h11.8m-5.9-5.2v10.4m-4.1-9l8.2 7.6m-8.2 0l8.2-7.6M243.4 362.2h11.8m-5.9-5.2v10.4m-4.1-9l8.2 7.6m-8.2 0l8.2-7.6M212.8 350.0h11.8m-5.9-5.2v10.4m-4.1-9l8.2 7.6m-8.2 0l8.2-7.6M241.3 346.4h11.8m-5.9-5.2v10.4m-4.1-9l8.2 7.6m-8.2 0l8.2-7.6M238.2 344.5h11.8m-5.9-5.2v10.4m-4.1-9l8.2 7.6m-8.2 0l8.2-7.6M193.5 311.7h11.8m-5.9-5.2v10.4m-4.1-9l8.2 7.6m-8.2 0l8.2-7.6M222.3 350.1h11.8m-5.9-5.2v10.4m-4.1-9l8.2 7.6m-8.2 0l8.2-7.6M230.6 363.3h11.8m-5.9-5.2v10.4m-4.1-9l8.2 7.6m-8.2 0l8.2-7.6M210.4 329.0h11.8m-5.9-5.2v10.4m-4.1-9l8.2 7.6m-8.2 0l8.2-7.6M206.5 298.0h11.8m-5.9-5.2v10.4m-4.1-9l8.2 7.6m-8.2 0l8.2-7.6M211.4 312.3h11.8m-5.9-5.2v10.4m-4.1-9l8.2 7.6m-8.2 0l8.2-7.6M218.8 317.9h11.8m-5.9-5.2v10.4m-4.1-9l8.2 7.6m-8.2 0l8.2-7.6M194.1 298.7h11.8m-5.9-5.2v10.4m-4.1-9l8.2 7.6m-8.2 0l8.2-7.6M209.8 325.2h11.8m-5.9-5.2v10.4m-4.1-9l8.2 7.6m-8.2 0l8.2-7.6M212.1 335.7h11.8m-5.9-5.2v10.4m-4.1-9l8.2 7.6m-8.2 0l8.2-7.6M206.1 310.5h11.8m-5.9-5.2v10.4m-4.1-9l8.2 7.6m-8.2 0l8.2-7.6M198.6 288.4h11.8m-5.9-5.2v10.4m-4.1-9l8.2 7.6m-8.2 0l8.2-7.6M213.2 346.4h11.8m-5.9-5.2v10.4m-4.1-9l8.2 7.6m-8.2 0l8.2-7.6M193.4 311.8h11.8m-5.9-5.2v10.4m-4.1-9l8.2 7.6m-8.2 0l8.2-7.6M229.1 353.9h11.8m-5.9-5.2v10.4m-4.1-9l8.2 7.6m-8.2 0l8.2-7.6M192.9 298.5h11.8m-5.9-5.2v10.4m-4.1-9l8.2 7.6m-8.2 0l8.2-7.6M227.1 364.4h11.8m-5.9-5.2v10.4m-4.1-9l8.2 7.6m-8.2 0l8.2-7.6M208.9 299.1h11.8m-5.9-5.2v10.4m-4.1-9l8.2 7.6m-8.2 0l8.2-7.6M226.4 319.9h11.8m-5.9-5.2v10.4m-4.1-9l8.2 7.6m-8.2 0l8.2-7.6M224.3 366.5h11.8m-5.9-5.2v10.4m-4.1-9l8.2 7.6m-8.2 0l8.2-7.6M198.3 330.9h11.8m-5.9-5.2v10.4m-4.1-9l8.2 7.6m-8.2 0l8.2-7.6M201.1 290.8h11.8m-5.9-5.2v10.4m-4.1-9l8.2 7.6m-8.2 0l8.2-7.6M206.4 294.1h11.8m-5.9-5.2v10.4m-4.1-9l8.2 7.6m-8.2 0l8.2-7.6M203.7 289.9h11.8m-5.9-5.2v10.4m-4.1-9l8.2 7.6m-8.2 0l8.2-7.6M196.0 317.5h11.8m-5.9-5.2v10.4m-4.1-9l8.2 7.6m-8.2 0l8.2-7.6M210.2 326.3h11.8m-5.9-5.2v10.4m-4.1-9l8.2 7.6m-8.2 0l8.2-7.6M217.7 348.4h11.8m-5.9-5.2v10.4m-4.1-9l8.2 7.6m-8.2 0l8.2-7.6M210.4 295.2h11.8m-5.9-5.2v10.4m-4.1-9l8.2 7.6m-8.2 0l8.2-7.6M230.9 324.2h11.8m-5.9-5.2v10.4m-4.1-9l8.2 7.6m-8.2 0l8.2-7.6M223.9 320.4h11.8m-5.9-5.2v10.4m-4.1-9l8.2 7.6m-8.2 0l8.2-7.6M240.0 353.6h11.8m-5.9-5.2v10.4m-4.1-9l8.2 7.6m-8.2 0l8.2-7.6M192.8 298.1h11.8m-5.9-5.2v10.4m-4.1-9l8.2 7.6m-8.2 0l8.2-7.6M234.7 361.7h11.8m-5.9-5.2v10.4m-4.1-9l8.2 7.6m-8.2 0l8.2-7.6M220.9 333.9h11.8m-5.9-5.2v10.4m-4.1-9l8.2 7.6m-8.2 0l8.2-7.6M191.6 308.5h11.8m-5.9-5.2v10.4m-4.1-9l8.2 7.6m-8.2 0l8.2-7.6M194.3 323.1h11.8m-5.9-5.2v10.4m-4.1-9l8.2 7.6m-8.2 0l8.2-7.6M191.3 320.9h11.8m-5.9-5.2v10.4m-4.1-9l8.2 7.6m-8.2 0l8.2-7.6M193.0 281.6h11.8m-5.9-5.2v10.4m-4.1-9l8.2 7.6m-8.2 0l8.2-7.6M227.5 357.6h11.8m-5.9-5.2v10.4m-4.1-9l8.2 7.6m-8.2 0l8.2-7.6M223.5 338.2h11.8m-5.9-5.2v10.4m-4.1-9l8.2 7.6m-8.2 0l8.2-7.6M199.8 293.6h11.8m-5.9-5.2v10.4m-4.1-9l8.2 7.6m-8.2 0l8.2-7.6M215.5 347.3h11.8m-5.9-5.2v10.4m-4.1-9l8.2 7.6m-8.2 0l8.2-7.6M204.7 338.7h11.8m-5.9-5.2v10.4m-4.1-9l8.2 7.6m-8.2 0l8.2-7.6M227.3 353.8h11.8m-5.9-5.2v10.4m-4.1-9l8.2 7.6m-8.2 0l8.2-7.6M190.6 305.8h11.8m-5.9-5.2v10.4m-4.1-9l8.2 7.6m-8.2 0l8.2-7.6M235.4 357.8h11.8m-5.9-5.2v10.4m-4.1-9l8.2 7.6m-8.2 0l8.2-7.6M213.5 337.3h11.8m-5.9-5.2v10.4m-4.1-9l8.2 7.6m-8.2 0l8.2-7.6M199.5 337.2h11.8m-5.9-5.2v10.4m-4.1-9l8.2 7.6m-8.2 0l8.2-7.6M203.6 314.7h11.8m-5.9-5.2v10.4m-4.1-9l8.2 7.6m-8.2 0l8.2-7.6M211.7 355.3h11.8m-5.9-5.2v10.4m-4.1-9l8.2 7.6m-8.2 0l8.2-7.6M231.4 323.6h11.8m-5.9-5.2v10.4m-4.1-9l8.2 7.6m-8.2 0l8.2-7.6M202.7 321.9h11.8m-5.9-5.2v10.4m-4.1-9l8.2 7.6m-8.2 0l8.2-7.6M217.6 352.5h11.8m-5.9-5.2v10.4m-4.1-9l8.2 7.6m-8.2 0l8.2-7.6M218.4 353.6h11.8m-5.9-5.2v10.4m-4.1-9l8.2 7.6m-8.2 0l8.2-7.6M234.4 372.6h11.8m-5.9-5.2v10.4m-4.1-9l8.2 7.6m-8.2 0l8.2-7.6M198.2 320.5h11.8m-5.9-5.2v10.4m-4.1-9l8.2 7.6m-8.2 0l8.2-7.6M233.8 348.3h11.8m-5.9-5.2v10.4m-4.1-9l8.2 7.6m-8.2 0l8.2-7.6M231.7 357.0h11.8m-5.9-5.2v10.4m-4.1-9l8.2 7.6m-8.2 0l8.2-7.6M233.1 344.8h11.8m-5.9-5.2v10.4m-4.1-9l8.2 7.6m-8.2 0l8.2-7.6M215.3 337.7h11.8m-5.9-5.2v10.4m-4.1-9l8.2 7.6m-8.2 0l8.2-7.6M228.0 350.9h11.8m-5.9-5.2v10.4m-4.1-9l8.2 7.6m-8.2 0l8.2-7.6M227.2 368.4h11.8m-5.9-5.2v10.4m-4.1-9l8.2 7.6m-8.2 0l8.2-7.6M224.1 352.7h11.8m-5.9-5.2v10.4m-4.1-9l8.2 7.6m-8.2 0l8.2-7.6M230.1 336.8h11.8m-5.9-5.2v10.4m-4.1-9l8.2 7.6m-8.2 0l8.2-7.6M225.4 330.1h11.8m-5.9-5.2v10.4m-4.1-9l8.2 7.6m-8.2 0l8.2-7.6M195.5 298.5h11.8m-5.9-5.2v10.4m-4.1-9l8.2 7.6m-8.2 0l8.2-7.6M234.5 348.3h11.8m-5.9-5.2v10.4m-4.1-9l8.2 7.6m-8.2 0l8.2-7.6M191.0 303.1h11.8m-5.9-5.2v10.4m-4.1-9l8.2 7.6m-8.2 0l8.2-7.6" stroke="#00ffff" stroke-width="1.25" fill="none"/><path d="M244.1 93.0h11.8m-5.9-5.2v10.4m-4.1-9l8.2 7.6m-8.2 0l8.2-7.6M240.7 104.5h11.8m-5.9-5.2v10.4m-4.1-9l8.2 7.6m-8.2 0l8.2-7.6M240.0 100.1h11.8m-5.9-5.2v10.4m-4.1-9l8.2 7.6m-8.2 0l8.2-7.6M185.3 89.0h11.8m-5.9-5.2v10.4m-4.1-9l8.2 7.6m-8.2 0l8.2-7.6M215.9 67.3h11.8m-5.9-5.2v10.4m-4.1-9l8.2 7.6m-8.2 0l8.2-7.6M210.5 83.2h11.8m-5.9-5.2v10.4m-4.1-9l8.2 7.6m-8.2 0l8.2-7.6M222.1 111.4h11.8m-5.9-5.2v10.4m-4.1-9l8.2 7.6m-8.2 0l8.2-7.6M202.9 93.9h11.8m-5.9-5.2v10.4m-4.1-9l8.2 7.6m-8.2 0l8.2-7.6M219.1 75.0h11.8m-5.9-5.2v10.4m-4.1-9l8.2 7.6m-8.2 0l8.2-7.6M229.7 83.2h11.8m-5.9-5.2v10.4m-4.1-9l8.2 7.6m-8.2 0l8.2-7.6M240.1 102.0h11.8m-5.9-5.2v10.4m-4.1-9l8.2 7.6m-8.2 0l8.2-7.6M193.0 91.6h11.8m-5.9-5.2v10.4m-4.1-9l8.2 7.6m-8.2 0l8.2-7.6M197.6 68.5h11.8m-5.9-5.2v10.4m-4.1-9l8.2 7.6m-8.2 0l8.2-7.6M200.4 87.3h11.8m-5.9-5.2v10.4m-4.1-9l8.2 7.6m-8.2 0l8.2-7.6M205.2 98.3h11.8m-5.9-5.2v10.4m-4.1-9l8.2 7.6m-8.2 0l8.2-7.6M191.2 67.4h11.8m-5.9-5.2v10.4m-4.1-9l8.2 7.6m-8.2 0l8.2-7.6M220.3 102.8h11.8m-5.9-5.2v10.4m-4.1-9l8.2 7.6m-8.2 0l8.2-7.6M204.0 83.2h11.8m-5.9-5.2v10.4m-4.1-9l8.2 7.6m-8.2 0l8.2-7.6M221.0 82.2h11.8m-5.9-5.2v10.4m-4.1-9l8.2 7.6m-8.2 0l8.2-7.6M188.0 79.2h11.8m-5.9-5.2v10.4m-4.1-9l8.2 7.6m-8.2 0l8.2-7.6M238.5 105.7h11.8m-5.9-5.2v10.4m-4.1-9l8.2 7.6m-8.2 0l8.2-7.6M239.1 97.6h11.8m-5.9-5.2v10.4m-4.1-9l8.2 7.6m-8.2 0l8.2-7.6M215.2 69.2h11.8m-5.9-5.2v10.4m-4.1-9l8.2 7.6m-8.2 0l8.2-7.6M201.7 90.4h11.8m-5.9-5.2v10.4m-4.1-9l8.2 7.6m-8.2 0l8.2-7.6M186.8 72.5h11.8m-5.9-5.2v10.4m-4.1-9l8.2 7.6m-8.2 0l8.2-7.6M199.0 101.0h11.8m-5.9-5.2v10.4m-4.1-9l8.2 7.6m-8.2 0l8.2-7.6M210.0 67.1h11.8m-5.9-5.2v10.4m-4.1-9l8.2 7.6m-8.2 0l8.2-7.6M218.3 95.1h11.8m-5.9-5.2v10.4m-4.1-9l8.2 7.6m-8.2 0l8.2-7.6M243.3 91.9h11.8m-5.9-5.2v10.4m-4.1-9l8.2 7.6m-8.2 0l8.2-7.6M242.6 97.0h11.8m-5.9-5.2v10.4m-4.1-9l8.2 7.6m-8.2 0l8.2-7.6M203.9 70.0h11.8m-5.9-5.2v10.4m-4.1-9l8.2 7.6m-8.2 0l8.2-7.6M231.7 85.7h11.8m-5.9-5.2v10.4m-4.1-9l8.2 7.6m-8.2 0l8.2-7.6M226.7 83.5h11.8m-5.9-5.2v10.4m-4.1-9l8.2 7.6m-8.2 0l8.2-7.6M241.9 98.1h11.8m-5.9-5.2v10.4m-4.1-9l8.2 7.6m-8.2 0l8.2-7.6M214.6 103.3h11.8m-5.9-5.2v10.4m-4.1-9l8.2 7.6m-8.2 0l8.2-7.6M226.4 88.5h11.8m-5.9-5.2v10.4m-4.1-9l8.2 7.6m-8.2 0l8.2-7.6M198.5 63.9h11.8m-5.9-5.2v10.4m-4.1-9l8.2 7.6m-8.2 0l8.2-7.6M202.3 91.6h11.8m-5.9-5.2v10.4m-4.1-9l8.2 7.6m-8.2 0l8.2-7.6M208.9 78.7h11.8m-5.9-5.2v10.4m-4.1-9l8.2 7.6m-8.2 0l8.2-7.6M198.2 64.0h11.8m-5.9-5.2v10.4m-4.1-9l8.2 7.6m-8.2 0l8.2-7.6M194.9 66.9h11.8m-5.9-5.2v10.4m-4.1-9l8.2 7.6m-8.2 0l8.2-7.6M202.6 82.4h11.8m-5.9-5.2v10.4m-4.1-9l8.2 7.6m-8.2 0l8.2-7.6M228.1 96.0h11.8m-5.9-5.2v10.4m-4.1-9l8.2 7.6m-8.2 0l8.2-7.6M199.4 73.0h11.8m-5.9-5.2v10.4m-4.1-9l8.2 7.6m-8.2 0l8.2-7.6M191.4 73.2h11.8m-5.9-5.2v10.4m-4.1-9l8.2 7.6m-8.2 0l8.2-7.6M225.1 82.1h11.8m-5.9-5.2v10.4m-4.1-9l8.2 7.6m-8.2 0l8.2-7.6M225.2 108.6h11.8m-5.9-5.2v10.4m-4.1-9l8.2 7.6m-8.2 0l8.2-7.6M199.6 77.1h11.8m-5.9-5.2v10.4m-4.1-9l8.2 7.6m-8.2 0l8.2-7.6M211.2 90.3h11.8m-5.9-5.2v10.4m-4.1-9l8.2 7.6m-8.2 0l8.2-7.6M206.4 100.7h11.8m-5.9-5.2v10.4m-4.1-9l8.2 7.6m-8.2 0l8.2-7.6M228.2 106.4h11.8m-5.9-5.2v10.4m-4.1-9l8.2 7.6m-8.2 0l8.2-7.6M240.3 108.1h11.8m-5.9-5.2v10.4m-4.1-9l8.2 7.6m-8.2 0l8.2-7.6M208.8 78.9h11.8m-5.9-5.2v10.4m-4.1-9l8.2 7.6m-8.2 0l8.2-7.6M231.6 108.3h11.8m-5.9-5.2v10.4m-4.1-9l8.2 7.6m-8.2 0l8.2-7.6M200.3 91.6h11.8m-5.9-5.2v10.4m-4.1-9l8.2 7.6m-8.2 0l8.2-7.6M219.6 103.3h11.8m-5.9-5.2v10.4m-4.1-9l8.2 7.6m-8.2 0l8.2-7.6M192.5 65.4h11.8m-5.9-5.2v10.4m-4.1-9l8.2 7.6m-8.2 0l8.2-7.6M240.5 101.6h11.8m-5.9-5.2v10.4m-4.1-9l8.2 7.6m-8.2 0l8.2-7.6M197.9 82.8h11.8m-5.9-5.2v10.4m-4.1-9l8.2 7.6m-8.2 0l8.2-7.6M184.9 88.0h11.8m-5.9-5.2v10.4m-4.1-9l8.2 7.6m-8.2 0l8.2-7.6M223.1 101.7h11.8m-5.9-5.2v10.4m-4.1-9l8.2 7.6m-8.2 0l8.2-7.6M193.5 90.8h11.8m-5.9-5.2v10.4m-4.1-9l8.2 7.6m-8.2 0l8.2-7.6M227.1 87.3h11.8m-5.9-5.2v10.4m-4.1-9l8.2 7.6m-8.2 0l8.2-7.6M203.2 82.5h11.8m-5.9-5.2v10.4m-4.1-9l8.2 7.6m-8.2 0l8.2-7.6M198.2 83.2h11.8m-5.9-5.2v10.4m-4.1-9l8.2 7.6m-8.2 0l8.2-7.6M197.6 64.0h11.8m-5.9-5.2v10.4m-4.1-9l8.2 7.6m-8.2 0l8.2-7.6M202.8 95.4h11.8m-5.9-5.2v10.4m-4.1-9l8.2 7.6m-8.2 0l8.2-7.6M247.8 101.5h11.8m-5.9-5.2v10.4m-4.1-9l8.2 7.6m-8.2 0l8.2-7.6M216.6 85.4h11.8m-5.9-5.2v10.4m-4.1-9l8.2 7.6m-8.2 0l8.2-7.6M207.2 75.1h11.8m-5.9-5.2v10.4m-4.1-9l8.2 7.6m-8.2 0l8.2-7.6M201.4 95.9h11.8m-5.9-5.2v10.4m-4.1-9l8.2 7.6m-8.2 0l8.2-7.6M205.5 83.6h11.8m-5.9-5.2v10.4m-4.1-9l8.2 7.6m-8.2 0l8.2-7.6M198.8 69.9h11.8m-5.9-5.2v10.4m-4.1-9l8.2 7.6m-8.2 0l8.2-7.6M218.9 77.0h11.8m-5.9-5.2v10.4m-4.1-9l8.2 7.6m-8.2 0l8.2-7.6M199.5 92.0h11.8m-5.9-5.2v10.4m-4.1-9l8.2 7.6m-8.2 0l8.2-7.6M209.3 85.2h11.8m-5.9-5.2v10.4m-4.1-9l8.2 7.6m-8.2 0l8.2-7.6M237.4 96.9h11.8m-5.9-5.2v10.4m-4.1-9l8.2 7.6m-8.2 0l8.2-7.6M213.1 107.5h11.8m-5.9-5.2v10.4m-4.1-9l8.2 7.6m-8.2 0l8.2-7.6M185.6 81.1h11.8m-5.9-5.2v10.4m-4.1-9l8.2 7.6m-8.2 0l8.2-7.6M213.8 101.2h11.8m-5.9-5.2v10.4m-4.1-9l8.2 7.6m-8.2 0l8.2-7.6M236.5 101.3h11.8m-5.9-5.2v10.4m-4.1-9l8.2 7.6m-8.2 0l8.2-7.6M197.8 79.0h11.8m-5.9-5.2v10.4m-4.1-9l8.2 7.6m-8.2 0l8.2-7.6M199.6 98.9h11.8m-5.9-5.2v10.4m-4.1-9l8.2 7.6m-8.2 0l8.2-7.6M219.1 93.3h11.8m-5.9-5.2v10.4m-4.1-9l8.2 7.6m-8.2 0l8.2-7.6M224.3 81.4h11.8m-5.9-5.2v10.4m-4.1-9l8.2 7.6m-8.2 0l8.2-7.6M247.9 105.5h11.8m-5.9-5.2v10.4m-4.1-9l8.2 7.6m-8.2 0l8.2-7.6M236.8 105.0h11.8m-5.9-5.2v10.4m-4.1-9l8.2 7.6m-8.2 0l8.2-7.6M225.0 87.5h11.8m-5.9-5.2v10.4m-4.1-9l8.2 7.6m-8.2 0l8.2-7.6M219.4 101.8h11.8m-5.9-5.2v10.4m-4.1-9l8.2 7.6m-8.2 0l8.2-7.6M214.5 72.4h11.8m-5.9-5.2v10.4m-4.1-9l8.2 7.6m-8.2 0l8.2-7.6M227.3 99.7h11.8m-5.9-5.2v10.4m-4.1-9l8.2 7.6m-8.2 0l8.2-7.6M212.5 103.8h11.8m-5.9-5.2v10.4m-4.1-9l8.2 7.6m-8.2 0l8.2-7.6M234.7 93.7h11.8m-5.9-5.2v10.4m-4.1-9l8.2 7.6m-8.2 0l8.2-7.6M200.9 76.5h11.8m-5.9-5.2v10.4m-4.1-9l8.2 7.6m-8.2 0l8.2-7.6M213.2 97.1h11.8m-5.9-5.2v10.4m-4.1-9l8.2 7.6m-8.2 0l8.2-7.6M217.7 105.6h11.8m-5.9-5.2v10.4m-4.1-9l8.2 7.6m-8.2 0l8.2-7.6M209.5 102.9h11.8m-5.9-5.2v10.4m-4.1-9l8.2 7.6m-8.2 0l8.2-7.6M209.1 71.3h11.8m-5.9-5.2v10.4m-4.1-9l8.2 7.6m-8.2 0l8.2-7.6M240.7 98.9h11.8m-5.9-5.2v10.4m-4.1-9l8.2 7.6m-8.2 0l8.2-7.6M198.1 67.9h11.8m-5.9-5.2v10.4m-4.1-9l8.2 7.6m-8.2 0l8.2-7.6M240.5 96.1h11.8m-5.9-5.2v10.4m-4.1-9l8.2 7.6m-8.2 0l8.2-7.6M222.2 79.0h11.8m-5.9-5.2v10.4m-4.1-9l8.2 7.6m-8.2 0l8.2-7.6M218.2 75.5h11.8m-5.9-5.2v10.4m-4.1-9l8.2 7.6m-8.2 0l8.2-7.6M213.3 88.2h11.8m-5.9-5.2v10.4m-4.1-9l8.2 7.6m-8.2 0l8.2-7.6M205.4 63.7h11.8m-5.9-5.2v10.4m-4.1-9l8.2 7.6m-8.2 0l8.2-7.6M199.0 86.5h11.8m-5.9-5.2v10.4m-4.1-9l8.2 7.6m-8.2 0l8.2-7.6M205.6 91.2h11.8m-5.9-5.2v10.4m-4.1-9l8.2 7.6m-8.2 0l8.2-7.6M233.3 94.1h11.8m-5.9-5.2v10.4m-4.1-9l8.2 7.6m-8.2 0l8.2-7.6M241.3 91.9h11.8m-5.9-5.2v10.4m-4.1-9l8.2 7.6m-8.2 0l8.2-7.6M201.0 72.5h11.8m-5.9-5.2v10.4m-4.1-9l8.2 7.6m-8.2 0l8.2-7.6M204.8 87.2h11.8m-5.9-5.2v10.4m-4.1-9l8.2 7.6m-8.2 0l8.2-7.6M244.7 96.9h11.8m-5.9-5.2v10.4m-4.1-9l8.2 7.6m-8.2 0l8.2-7.6M223.0 111.3h11.8m-5.9-5.2v10.4m-4.1-9l8.2 7.6m-8.2 0l8.2-7.6M222.8 99.4h11.8m-5.9-5.2v10.4m-4.1-9l8.2 7.6m-8.2 0l8.2-7.6M189.8 97.6h11.8m-5.9-5.2v10.4m-4.1-9l8.2 7.6m-8.2 0l8.2-7.6M230.8 85.8h11.8m-5.9-5.2v10.4m-4.1-9l8.2 7.6m-8.2 0l8.2-7.6M213.9 76.0h11.8m-5.9-5.2v10.4m-4.1-9l8.2 7.6m-8.2 0l8.2-7.6M195.0 97.1h11.8m-5.9-5.2v10.4m-4.1-9l8.2 7.6m-8.2 0l8.2-7.6M236.7 92.9h11.8m-5.9-5.2v10.4m-4.1-9l8.2 7.6m-8.2 0l8.2-7.6M193.7 83.7h11.8m-5.9-5.2v10.4m-4.1-9l8.2 7.6m-8.2 0l8.2-7.6M225.8 80.4h11.8m-5.9-5.2v10.4m-4.1-9l8.2 7.6m-8.2 0l8.2-7.6M206.6 82.5h11.8m-5.9-5.2v10.4m-4.1-9l8.2 7.6m-8.2 0l8.2-7.6M191.7 86.0h11.8m-5.9-5.2v10.4m-4.1-9l8.2 7.6m-8.2 0l8.2-7.6M190.2 70.5h11.8m-5.9-5.2v10.4m-4.1-9l8.2 7.6m-8.2 0l8.2-7.6M228.0 81.2h11.8m-5.9-5.2v10.4m-4.1-9l8.2 7.6m-8.2 0l8.2-7.6M185.5 84.0h11.8m-5.9-5.2v10.4m-4.1-9l8.2 7.6m-8.2 0l8.2-7.6M198.3 66.4h11.8m-5.9-5.2v10.4m-4.1-9l8.2 7.6m-8.2 0l8.2-7.6M213.3 79.6h11.8m-5.9-5.2v10.4m-4.1-9l8.2 7.6m-8.2 0l8.2-7.6M216.2 91.7h11.8m-5.9-5.2v10.4m-4.1-9l8.2 7.6m-8.2 0l8.2-7.6M224.5 76.7h11.8m-5.9-5.2v10.4m-4.1-9l8.2 7.6m-8.2 0l8.2-7.6M243.1 106.0h11.8m-5.9-5.2v10.4m-4.1-9l8.2 7.6m-8.2 0l8.2-7.6M208.8 74.4h11.8m-5.9-5.2v10.4m-4.1-9l8.2 7.6m-8.2 0l8.2-7.6M195.2 71.3h11.8m-5.9-5.2v10.4m-4.1-9l8.2 7.6m-8.2 0l8.2-7.6M190.4 95.3h11.8m-5.9-5.2v10.4m-4.1-9l8.2 7.6m-8.2 0l8.2-7.6M215.3 71.4h11.8m-5.9-5.2v10.4m-4.1-9l8.2 7.6m-8.2 0l8.2-7.6M209.9 103.4h11.8m-5.9-5.2v10.4m-4.1-9l8.2 7.6m-8.2 0l8.2-7.6M215.2 70.0h11.8m-5.9-5.2v10.4m-4.1-9l8.2 7.6m-8.2 0l8.2-7.6M202.7 68.4h11.8m-5.9-5.2v10.4m-4.1-9l8.2 7.6m-8.2 0l8.2-7.6M221.7 96.4h11.8m-5.9-5.2v10.4m-4.1-9l8.2 7.6m-8.2 0l8.2-7.6M224.0 100.8h11.8m-5.9-5.2v10.4m-4.1-9l8.2 7.6m-8.2 0l8.2-7.6M247.2 103.5h11.8m-5.9-5.2v10.4m-4.1-9l8.2 7.6m-8.2 0l8.2-7.6M242.5 99.2h11.8m-5.9-5.2v10.4m-4.1-9l8.2 7.6m-8.2 0l8.2-7.6M216.6 102.6h11.8m-5.9-5.2v10.4m-4.1-9l8.2 7.6m-8.2 0l8.2-7.6M210.2 91.4h11.8m-5.9-5.2v10.4m-4.1-9l8.2 7.6m-8.2 0l8.2-7.6M244.3 98.4h11.8m-5.9-5.2v10.4m-4.1-9l8.2 7.6m-8.2 0l8.2-7.6M223.4 88.3h11.8m-5.9-5.2v10.4m-4.1-9l8.2 7.6m-8.2 0l8.2-7.6M217.9 84.9h11.8m-5.9-5.2v10.4m-4.1-9l8.2 7.6m-8.2 0l8.2-7.6M222.2 104.6h11.8m-5.9-5.2v10.4m-4.1-9l8.2 7.6m-8.2 0l8.2-7.6M199.4 79.5h11.8m-5.9-5.2v10.4m-4.1-9l8.2 7.6m-8.2 0l8.2-7.6M238.9 99.4h11.8m-5.9-5.2v10.4m-4.1-9l8.2 7.6m-8.2 0l8.2-7.6M214.5 94.3h11.8m-5.9-5.2v10.4m-4.1-9l8.2 7.6m-8.2 0l8.2-7.6M239.0 103.2h11.8m-5.9-5.2v10.4m-4.1-9l8.2 7.6m-8.2 0l8.2-7.6M213.0 72.6h11.8m-5.9-5.2v10.4m-4.1-9l8.2 7.6m-8.2 0l8.2-7.6M199.7 77.1h11.8m-5.9-5.2v10.4m-4.1-9l8.2 7.6m-8.2 0l8.2-7.6M219.1 70.1h11.8m-5.9-5.2v10.4m-4.1-9l8.2 7.6m-8.2 0l8.2-7.6M188.7 80.2h11.8m-5.9-5.2v10.4m-4.1-9l8.2 7.6m-8.2 0l8.2-7.6M209.9 98.6h11.8m-5.9-5.2v10.4m-4.1-9l8.2 7.6m-8.2 0l8.2-7.6M202.1 100.3h11.8m-5.9-5.2v10.4m-4.1-9l8.2 7.6m-8.2 0l8.2-7.6M223.8 101.6h11.8m-5.9-5.2v10.4m-4.1-9l8.2 7.6m-8.2 0l8.2-7.6M202.8 91.8h11.8m-5.9-5.2v10.4m-4.1-9l8.2 7.6m-8.2 0l8.2-7.6M186.0 83.4h11.8m-5.9-5.2v10.4m-4.1-9l8.2 7.6m-8.2 0l8.2-7.6M214.6 65.6h11.8m-5.9-5.2v10.4m-4.1-9l8.2 7.6m-8.2 0l8.2-7.6M188.1 95.7h11.8m-5.9-5.2v10.4m-4.1-9l8.2 7.6m-8.2 0l8.2-7.6M213.5 78.8h11.8m-5.9-5.2v10.4m-4.1-9l8.2 7.6m-8.2 0l8.2-7.6M199.5 94.3h11.8m-5.9-5.2v10.4m-4.1-9l8.2 7.6m-8.2 0l8.2-7.6M195.0 73.6h11.8m-5.9-5.2v10.4m-4.1-9l8.2 7.6m-8.2 0l8.2-7.6M227.9 84.1h11.8m-5.9-5.2v10.4m-4.1-9l8.2 7.6m-8.2 0l8.2-7.6M243.8 105.6h11.8m-5.9-5.2v10.4m-4.1-9l8.2 7.6m-8.2 0l8.2-7.6M187.8 97.1h11.8m-5.9-5.2v10.4m-4.1-9l8.2 7.6m-8.2 0l8.2-7.6M194.4 66.9h11.8m-5.9-5.2v10.4m-4.1-9l8.2 7.6m-8.2 0l8.2-7.6M238.1 95.1h11.8m-5.9-5.2v10.4m-4.1-9l8.2 7.6m-8.2 0l8.2-7.6M218.3 93.9h11.8m-5.9-5.2v10.4m-4.1-9l8.2 7.6m-8.2 0l8.2-7.6M200.0 85.7h11.8m-5.9-5.2v10.4m-4.1-9l8.2 7.6m-8.2 0l8.2-7.6M220.3 81.4h11.8m-5.9-5.2v10.4m-4.1-9l8.2 7.6m-8.2 0l8.2-7.6M217.0 93.8h11.8m-5.9-5.2v10.4m-4.1-9l8.2 7.6m-8.2 0l8.2-7.6M202.8 69.8h11.8m-5.9-5.2v10.4m-4.1-9l8.2 7.6m-8.2 0l8.2-7.6M225.0 108.4h11.8m-5.9-5.2v10.4m-4.1-9l8.2 7.6m-8.2 0l8.2-7.6M195.1 91.9h11.8m-5.9-5.2v10.4m-4.1-9l8.2 7.6m-8.2 0l8.2-7.6M220.2 81.3h11.8m-5.9-5.2v10.4m-4.1-9l8.2 7.6m-8.2 0l8.2-7.6M204.9 69.8h11.8m-5.9-5.2v10.4m-4.1-9l8.2 7.6m-8.2 0l8.2-7.6M218.6 92.1h11.8m-5.9-5.2v10.4m-4.1-9l8.2 7.6m-8.2 0l8.2-7.6M197.0 80.6h11.8m-5.9-5.2v10.4m-4.1-9l8.2 7.6m-8.2 0l8.2-7.6M219.2 84.7h11.8m-5.9-5.2v10.4m-4.1-9l8.2 7.6m-8.2 0l8.2-7.6M212.2 71.8h11.8m-5.9-5.2v10.4m-4.1-9l8.2 7.6m-8.2 0l8.2-7.6M230.8 80.9h11.8m-5.9-5.2v10.4m-4.1-9l8.2 7.6m-8.2 0l8.2-7.6M216.3 96.4h11.8m-5.9-5.2v10.4m-4.1-9l8.2 7.6m-8.2 0l8.2-7.6M211.2 105.8h11.8m-5.9-5.2v10.4m-4.1-9l8.2 7.6m-8.2 0l8.2-7.6M221.8 100.8h11.8m-5.9-5.2v10.4m-4.1-9l8.2 7.6m-8.2 0l8.2-7.6M201.6 88.3h11.8m-5.9-5.2v10.4m-4.1-9l8.2 7.6m-8.2 0l8.2-7.6M235.6 97.7h11.8m-5.9-5.2v10.4m-4.1-9l8.2 7.6m-8.2 0l8.2-7.6M222.5 103.4h11.8m-5.9-5.2v10.4m-4.1-9l8.2 7.6m-8.2 0l8.2-7.6M211.7 107.2h11.8m-5.9-5.2v10.4m-4.1-9l8.2 7.6m-8.2 0l8.2-7.6M222.2 99.8h11.8m-5.9-5.2v10.4m-4.1-9l8.2 7.6m-8.2 0l8.2-7.6M216.9 105.1h11.8m-5.9-5.2v10.4m-4.1-9l8.2 7.6m-8.2 0l8.2-7.6M198.3 77.6h11.8m-5.9-5.2v10.4m-4.1-9l8.2 7.6m-8.2 0l8.2-7.6M229.4 88.9h11.8m-5.9-5.2v10.4m-4.1-9l8.2 7.6m-8.2 0l8.2-7.6M211.0 100.8h11.8m-5.9-5.2v10.4m-4.1-9l8.2 7.6m-8.2 0l8.2-7.6M198.9 66.9h11.8m-5.9-5.2v10.4m-4.1-9l8.2 7.6m-8.2 0l8.2-7.6M210.0 71.0h11.8m-5.9-5.2v10.4m-4.1-9l8.2 7.6m-8.2 0l8.2-7.6M207.8 81.1h11.8m-5.9-5.2v10.4m-4.1-9l8.2 7.6m-8.2 0l8.2-7.6M238.8 95.6h11.8m-5.9-5.2v10.4m-4.1-9l8.2 7.6m-8.2 0l8.2-7.6M221.9 75.6h11.8m-5.9-5.2v10.4m-4.1-9l8.2 7.6m-8.2 0l8.2-7.6M224.3 80.3h11.8m-5.9-5.2v10.4m-4.1-9l8.2 7.6m-8.2 0l8.2-7.6M214.3 101.7h11.8m-5.9-5.2v10.4m-4.1-9l8.2 7.6m-8.2 0l8.2-7.6M198.0 80.9h11.8m-5.9-5.2v10.4m-4.1-9l8.2 7.6m-8.2 0l8.2-7.6M246.4 104.4h11.8m-5.9-5.2v10.4m-4.1-9l8.2 7.6m-8.2 0l8.2-7.6M219.9 74.7h11.8m-5.9-5.2v10.4m-4.1-9l8.2 7.6m-8.2 0l8.2-7.6M213.2 71.9h11.8m-5.9-5.2v10.4m-4.1-9l8.2 7.6m-8.2 0l8.2-7.6M203.1 94.7h11.8m-5.9-5.2v10.4m-4.1-9l8.2 7.6m-8.2 0l8.2-7.6M224.9 75.3h11.8m-5.9-5.2v10.4m-4.1-9l8.2 7.6m-8.2 0l8.2-7.6M227.5 95.4h11.8m-5.9-5.2v10.4m-4.1-9l8.2 7.6m-8.2 0l8.2-7.6M197.4 93.5h11.8m-5.9-5.2v10.4m-4.1-9l8.2 7.6m-8.2 0l8.2-7.6M211.6 105.6h11.8m-5.9-5.2v10.4m-4.1-9l8.2 7.6m-8.2 0l8.2-7.6M194.2 86.5h11.8m-5.9-5.2v10.4m-4.1-9l8.2 7.6m-8.2 0l8.2-7.6M214.7 86.5h11.8m-5.9-5.2v10.4m-4.1-9l8.2 7.6m-8.2 0l8.2-7.6M174.1 88.0h11.8m-5.9-5.2v10.4m-4.1-9l8.2 7.6m-8.2 0l8.2-7.6" stroke="#ff00ff" stroke-width="1.25" fill="none"/><path d="M170.4 280.1h11.8m-5.9-5.2v10.4m-4.1-9l8.2 7.6m-8.2 0l8.2-7.6M161.6 286.7h11.8m-5.9-5.2v10.4m-4.1-9l8.2 7.6m-8.2 0l8.2-7.6M133.5 242.6h11.8m-5.9-5.2v10.4m-4.1-9l8.2 7.6m-8.2 0l8.2-7.6M140.0 241.0h11.8m-5.9-5.2v10.4m-4.1-9l8.2 7.6m-8.2 0l8.2-7.6M155.6 258.1h11.8m-5.9-5.2v10.4m-4.1-9l8.2 7.6m-8.2 0l8.2-7.6M150.9 254.0h11.8m-5.9-5.2v10.4m-4.1-9l8.2 7.6m-8.2 0l8.2-7.6M183.9 310.3h11.8m-5.9-5.2v10.4m-4.1-9l8.2 7.6m-8.2 0l8.2-7.6M171.5 283.5h11.8m-5.9-5.2v10.4m-4.1-9l8.2 7.6m-8.2 0l8.2-7.6M185.6 286.7h11.8m-5.9-5.2v10.4m-4.1-9l8.2 7.6m-8.2 0l8.2-7.6M167.1 269.5h11.8m-5.9-5.2v10.4m-4.1-9l8.2 7.6m-8.2 0l8.2-7.6M171.5 285.3h11.8m-5.9-5.2v10.4m-4.1-9l8.2 7.6m-8.2 0l8.2-7.6M152.8 247.0h11.8m-5.9-5.2v10.4m-4.1-9l8.2 7.6m-8.2 0l8.2-7.6M146.3 266.1h11.8m-5.9-5.2v10.4m-4.1-9l8.2 7.6m-8.2 0l8.2-7.6M160.4 269.8h11.8m-5.9-5.2v10.4m-4.1-9l8.2 7.6m-8.2 0l8.2-7.6M172.3 270.5h11.8m-5.9-5.2v10.4m-4.1-9l8.2 7.6m-8.2 0l8.2-7.6M180.7 276.7h11.8m-5.9-5.2v10.4m-4.1-9l8.2 7.6m-8.2 0l8.2-7.6M153.3 281.8h11.8m-5.9-5.2v10.4m-4.1-9l8.2 7.6m-8.2 0l8.2-7.6M155.6 252.8h11.8m-5.9-5.2v10.4m-4.1-9l8.2 7.6m-8.2 0l8.2-7.6M184.8 295.6h11.8m-5.9-5.2v10.4m-4.1-9l8.2 7.6m-8.2 0l8.2-7.6M174.5 266.3h11.8m-5.9-5.2v10.4m-4.1-9l8.2 7.6m-8.2 0l8.2-7.6M157.5 242.9h11.8m-5.9-5.2v10.4m-4.1-9l8.2 7.6m-8.2 0l8.2-7.6M164.6 259.0h11.8m-5.9-5.2v10.4m-4.1-9l8.2 7.6m-8.2 0l8.2-7.6M180.0 309.9h11.8m-5.9-5.2v10.4m-4.1-9l8.2 7.6m-8.2 0l8.2-7.6M141.0 234.6h11.8m-5.9-5.2v10.4m-4.1-9l8.2 7.6m-8.2 0l8.2-7.6M162.6 265.3h11.8m-5.9-5.2v10.4m-4.1-9l8.2 7.6m-8.2 0l8.2-7.6M139.3 251.7h11.8m-5.9-5.2v10.4m-4.1-9l8.2 7.6m-8.2 0l8.2-7.6M180.7 306.2h11.8m-5.9-5.2v10.4m-4.1-9l8.2 7.6m-8.2 0l8.2-7.6M162.3 259.6h11.8m-5.9-5.2v10.4m-4.1-9l8.2 7.6m-8.2 0l8.2-7.6M164.8 258.3h11.8m-5.9-5.2v10.4m-4.1-9l8.2 7.6m-8.2 0l8.2-7.6M184.3 287.7h11.8m-5.9-5.2v10.4m-4.1-9l8.2 7.6m-8.2 0l8.2-7.6M186.1 301.7h11.8m-5.9-5.2v10.4m-4.1-9l8.2 7.6m-8.2 0l8.2-7.6M185.0 298.9h11.8m-5.9-5.2v10.4m-4.1-9l8.2 7.6m-8.2 0l8.2-7.6M180.2 292.3h11.8m-5.9-5.2v10.4m-4.1-9l8.2 7.6m-8.2 0l8.2-7.6M143.4 240.5h11.8m-5.9-5.2v10.4m-4.1-9l8.2 7.6m-8.2 0l8.2-7.6M138.4 255.2h11.8m-5.9-5.2v10.4m-4.1-9l8.2 7.6m-8.2 0l8.2-7.6M139.3 258.1h11.8m-5.9-5.2v10.4m-4.1-9l8.2 7.6m-8.2 0l8.2-7.6M172.7 300.3h11.8m-5.9-5.2v10.4m-4.1-9l8.2 7.6m-8.2 0l8.2-7.6M165.6 294.6h11.8m-5.9-5.2v10.4m-4.1-9l8.2 7.6m-8.2 0l8.2-7.6M142.1 238.3h11.8m-5.9-5.2v10.4m-4.1-9l8.2 7.6m-8.2 0l8.2-7.6M167.3 255.6h11.8m-5.9-5.2v10.4m-4.1-9l8.2 7.6m-8.2 0l8.2-7.6M150.9 265.2h11.8m-5.9-5.2v10.4m-4.1-9l8.2 7.6m-8.2 0l8.2-7.6M167.6 254.5h11.8m-5.9-5.2v10.4m-4.1-9l8.2 7.6m-8.2 0l8.2-7.6M170.5 301.5h11.8m-5.9-5.2v10.4m-4.1-9l8.2 7.6m-8.2 0l8.2-7.6M149.3 267.1h11.8m-5.9-5.2v10.4m-4.1-9l8.2 7.6m-8.2 0l8.2-7.6M160.9 287.0h11.8m-5.9-5.2v10.4m-4.1-9l8.2 7.6m-8.2 0l8.2-7.6M151.0 259.2h11.8m-5.9-5.2v10.4m-4.1-9l8.2 7.6m-8.2 0l8.2-7.6M136.5 253.1h11.8m-5.9-5.2v10.4m-4.1-9l8.2 7.6m-8.2 0l8.2-7.6M139.3 263.2h11.8m-5.9-5.2v10.4m-4.1-9l8.2 7.6m-8.2 0l8.2-7.6M166.0 274.3h11.8m-5.9-5.2v10.4m-4.1-9l8.2 7.6m-8.2 0l8.2-7.6M165.3 266.2h11.8m-5.9-5.2v10.4m-4.1-9l8.2 7.6m-8.2 0l8.2-7.6M142.1 265.3h11.8m-5.9-5.2v10.4m-4.1-9l8.2 7.6m-8.2 0l8.2-7.6M170.2 299.1h11.8m-5.9-5.2v10.4m-4.1-9l8.2 7.6m-8.2 0l8.2-7.6M165.4 282.7h11.8m-5.9-5.2v10.4m-4.1-9l8.2 7.6m-8.2 0l8.2-7.6M143.7 249.4h11.8m-5.9-5.2v10.4m-4.1-9l8.2 7.6m-8.2 0l8.2-7.6M149.2 274.7h11.8m-5.9-5.2v10.4m-4.1-9l8.2 7.6m-8.2 0l8.2-7.6M180.8 295.1h11.8m-5.9-5.2v10.4m-4.1-9l8.2 7.6m-8.2 0l8.2-7.6M154.5 258.0h11.8m-5.9-5.2v10.4m-4.1-9l8.2 7.6m-8.2 0l8.2-7.6M179.5 286.8h11.8m-5.9-5.2v10.4m-4.1-9l8.2 7.6m-8.2 0l8.2-7.6M176.7 279.6h11.8m-5.9-5.2v10.4m-4.1-9l8.2 7.6m-8.2 0l8.2-7.6M158.2 266.2h11.8m-5.9-5.2v10.4m-4.1-9l8.2 7.6m-8.2 0l8.2-7.6M172.6 270.6h11.8m-5.9-5.2v10.4m-4.1-9l8.2 7.6m-8.2 0l8.2-7.6M133.1 245.2h11.8m-5.9-5.2v10.4m-4.1-9l8.2 7.6m-8.2 0l8.2-7.6M139.5 233.7h11.8m-5.9-5.2v10.4m-4.1-9l8.2 7.6m-8.2 0l8.2-7.6M160.4 255.5h11.8m-5.9-5.2v10.4m-4.1-9l8.2 7.6m-8.2 0l8.2-7.6M153.8 237.4h11.8m-5.9-5.2v10.4m-4.1-9l8.2 7.6m-8.2 0l8.2-7.6M175.3 283.4h11.8m-5.9-5.2v10.4m-4.1-9l8.2 7.6m-8.2 0l8.2-7.6M160.4 279.3h11.8m-5.9-5.2v10.4m-4.1-9l8.2 7.6m-8.2 0l8.2-7.6M153.7 253.8h11.8m-5.9-5.2v10.4m-4.1-9l8.2 7.6m-8.2 0l8.2-7.6M180.9 306.6h11.8m-5.9-5.2v10.4m-4.1-9l8.2 7.6m-8.2 0l8.2-7.6M176.4 272.3h11.8m-5.9-5.2v10.4m-4.1-9l8.2 7.6m-8.2 0l8.2-7.6M152.7 262.6h11.8m-5.9-5.2v10.4m-4.1-9l8.2 7.6m-8.2 0l8.2-7.6M163.6 254.5h11.8m-5.9-5.2v10.4m-4.1-9l8.2 7.6m-8.2 0l8.2-7.6M151.5 247.3h11.8m-5.9-5.2v10.4m-4.1-9l8.2 7.6m-8.2 0l8.2-7.6M168.4 257.2h11.8m-5.9-5.2v10.4m-4.1-9l8.2 7.6m-8.2 0l8.2-7.6M138.8 234.9h11.8m-5.9-5.2v10.4m-4.1-9l8.2 7.6m-8.2 0l8.2-7.6M154.4 265.2h11.8m-5.9-5.2v10.4m-4.1-9l8.2 7.6m-8.2 0l8.2-7.6M142.0 259.3h11.8m-5.9-5.2v10.4m-4.1-9l8.2 7.6m-8.2 0l8.2-7.6M177.5 283.5h11.8m-5.9-5.2v10.4m-4.1-9l8.2 7.6m-8.2 0l8.2-7.6M187.2 302.0h11.8m-5.9-5.2v10.4m-4.1-9l8.2 7.6m-8.2 0l8.2-7.6M164.8 293.9h11.8m-5.9-5.2v10.4m-4.1-9l8.2 7.6m-8.2 0l8.2-7.6M161.0 280.6h11.8m-5.9-5.2v10.4m-4.1-9l8.2 7.6m-8.2 0l8.2-7.6M140.5 252.8h11.8m-5.9-5.2v10.4m-4.1-9l8.2 7.6m-8.2 0l8.2-7.6M173.4 281.8h11.8m-5.9-5.2v10.4m-4.1-9l8.2 7.6m-8.2 0l8.2-7.6M148.0 275.5h11.8m-5.9-5.2v10.4m-4.1-9l8.2 7.6m-8.2 0l8.2-7.6M180.0 308.6h11.8m-5.9-5.2v10.4m-4.1-9l8.2 7.6m-8.2 0l8.2-7.6M174.5 267.2h11.8m-5.9-5.2v10.4m-4.1-9l8.2 7.6m-8.2 0l8.2-7.6M147.5 273.2h11.8m-5.9-5.2v10.4m-4.1-9l8.2 7.6m-8.2 0l8.2-7.6M162.4 277.0h11.8m-5.9-5.2v10.4m-4.1-9l8.2 7.6m-8.2 0l8.2-7.6M178.8 304.0h11.8m-5.9-5.2v10.4m-4.1-9l8.2 7.6m-8.2 0l8.2-7.6M168.0 271.3h11.8m-5.9-5.2v10.4m-4.1-9l8.2 7.6m-8.2 0l8.2-7.6M161.2 245.1h11.8m-5.9-5.2v10.4m-4.1-9l8.2 7.6m-8.2 0l8.2-7.6M184.0 287.1h11.8m-5.9-5.2v10.4m-4.1-9l8.2 7.6m-8.2 0l8.2-7.6M145.5 241.2h11.8m-5.9-5.2v10.4m-4.1-9l8.2 7.6m-8.2 0l8.2-7.6M163.9 275.2h11.8m-5.9-5.2v10.4m-4.1-9l8.2 7.6m-8.2 0l8.2-7.6M183.7 284.5h11.8m-5.9-5.2v10.4m-4.1-9l8.2 7.6m-8.2 0l8.2-7.6M163.0 262.4h11.8m-5.9-5.2v10.4m-4.1-9l8.2 7.6m-8.2 0l8.2-7.6M144.6 261.3h11.8m-5.9-5.2v10.4m-4.1-9l8.2 7.6m-8.2 0l8.2-7.6M166.4 265.3h11.8m-5.9-5.2v10.4m-4.1-9l8.2 7.6m-8.2 0l8.2-7.6M167.5 282.0h11.8m-5.9-5.2v10.4m-4.1-9l8.2 7.6m-8.2 0l8.2-7.6M181.7 297.8h11.8m-5.9-5.2v10.4m-4.1-9l8.2 7.6m-8.2 0l8.2-7.6M171.5 263.3h11.8m-5.9-5.2v10.4m-4.1-9l8.2 7.6m-8.2 0l8.2-7.6M158.4 279.2h11.8m-5.9-5.2v10.4m-4.1-9l8.2 7.6m-8.2 0l8.2-7.6M153.6 282.4h11.8m-5.9-5.2v10.4m-4.1-9l8.2 7.6m-8.2 0l8.2-7.6M175.5 286.4h11.8m-5.9-5.2v10.4m-4.1-9l8.2 7.6m-8.2 0l8.2-7.6M179.3 304.0h11.8m-5.9-5.2v10.4m-4.1-9l8.2 7.6m-8.2 0l8.2-7.6M166.8 298.6h11.8m-5.9-5.2v10.4m-4.1-9l8.2 7.6m-8.2 0l8.2-7.6M143.5 266.1h11.8m-5.9-5.2v10.4m-4.1-9l8.2 7.6m-8.2 0l8.2-7.6M181.5 300.1h11.8m-5.9-5.2v10.4m-4.1-9l8.2 7.6m-8.2 0l8.2-7.6M157.2 271.5h11.8m-5.9-5.2v10.4m-4.1-9l8.2 7.6m-8.2 0l8.2-7.6M172.3 279.5h11.8m-5.9-5.2v10.4m-4.1-9l8.2 7.6m-8.2 0l8.2-7.6M174.6 294.7h11.8m-5.9-5.2v10.4m-4.1-9l8.2 7.6m-8.2 0l8.2-7.6M180.9 280.3h11.8m-5.9-5.2v10.4m-4.1-9l8.2 7.6m-8.2 0l8.2-7.6M173.9 271.9h11.8m-5.9-5.2v10.4m-4.1-9l8.2 7.6m-8.2 0l8.2-7.6M183.7 293.6h11.8m-5.9-5.2v10.4m-4.1-9l8.2 7.6m-8.2 0l8.2-7.6M149.4 264.9h11.8m-5.9-5.2v10.4m-4.1-9l8.2 7.6m-8.2 0l8.2-7.6M162.2 270.8h11.8m-5.9-5.2v10.4m-4.1-9l8.2 7.6m-8.2 0l8.2-7.6M176.4 275.2h11.8m-5.9-5.2v10.4m-4.1-9l8.2 7.6m-8.2 0l8.2-7.6M170.1 265.6h11.8m-5.9-5.2v10.4m-4.1-9l8.2 7.6m-8.2 0l8.2-7.6M174.6 286.3h11.8m-5.9-5.2v10.4m-4.1-9l8.2 7.6m-8.2 0l8.2-7.6M170.8 296.4h11.8m-5.9-5.2v10.4m-4.1-9l8.2 7.6m-8.2 0l8.2-7.6M184.6 291.6h11.8m-5.9-5.2v10.4m-4.1-9l8.2 7.6m-8.2 0l8.2-7.6M165.7 265.0h11.8m-5.9-5.2v10.4m-4.1-9l8.2 7.6m-8.2 0l8.2-7.6M155.6 268.5h11.8m-5.9-5.2v10.4m-4.1-9l8.2 7.6m-8.2 0l8.2-7.6M139.0 243.5h11.8m-5.9-5.2v10.4m-4.1-9l8.2 7.6m-8.2 0l8.2-7.6M161.8 287.6h11.8m-5.9-5.2v10.4m-4.1-9l8.2 7.6m-8.2 0l8.2-7.6M140.1 259.9h11.8m-5.9-5.2v10.4m-4.1-9l8.2 7.6m-8.2 0l8.2-7.6M140.4 252.2h11.8m-5.9-5.2v10.4m-4.1-9l8.2 7.6m-8.2 0l8.2-7.6M179.3 282.5h11.8m-5.9-5.2v10.4m-4.1-9l8.2 7.6m-8.2 0l8.2-7.6M169.1 275.8h11.8m-5.9-5.2v10.4m-4.1-9l8.2 7.6m-8.2 0l8.2-7.6M169.6 286.3h11.8m-5.9-5.2v10.4m-4.1-9l8.2 7.6m-8.2 0l8.2-7.6M167.4 290.7h11.8m-5.9-5.2v10.4m-4.1-9l8.2 7.6m-8.2 0l8.2-7.6M133.8 237.2h11.8m-5.9-5.2v10.4m-4.1-9l8.2 7.6m-8.2 0l8.2-7.6M182.3 283.2h11.8m-5.9-5.2v10.4m-4.1-9l8.2 7.6m-8.2 0l8.2-7.6M177.7 301.8h11.8m-5.9-5.2v10.4m-4.1-9l8.2 7.6m-8.2 0l8.2-7.6M156.7 271.5h11.8m-5.9-5.2v10.4m-4.1-9l8.2 7.6m-8.2 0l8.2-7.6M153.7 266.3h11.8m-5.9-5.2v10.4m-4.1-9l8.2 7.6m-8.2 0l8.2-7.6M182.3 304.9h11.8m-5.9-5.2v10.4m-4.1-9l8.2 7.6m-8.2 0l8.2-7.6M137.6 237.8h11.8m-5.9-5.2v10.4m-4.1-9l8.2 7.6m-8.2 0l8.2-7.6M132.7 237.6h11.8m-5.9-5.2v10.4m-4.1-9l8.2 7.6m-8.2 0l8.2-7.6M165.2 286.2h11.8m-5.9-5.2v10.4m-4.1-9l8.2 7.6m-8.2 0l8.2-7.6M138.3 242.2h11.8m-5.9-5.2v10.4m-4.1-9l8.2 7.6m-8.2 0l8.2-7.6M162.5 292.5h11.8m-5.9-5.2v10.4m-4.1-9l8.2 7.6m-8.2 0l8.2-7.6M170.1 272.3h11.8m-5.9-5.2v10.4m-4.1-9l8.2 7.6m-8.2 0l8.2-7.6M149.5 260.9h11.8m-5.9-5.2v10.4m-4.1-9l8.2 7.6m-8.2 0l8.2-7.6M154.2 283.1h11.8m-5.9-5.2v10.4m-4.1-9l8.2 7.6m-8.2 0l8.2-7.6M143.0 264.7h11.8m-5.9-5.2v10.4m-4.1-9l8.2 7.6m-8.2 0l8.2-7.6M154.8 271.4h11.8m-5.9-5.2v10.4m-4.1-9l8.2 7.6m-8.2 0l8.2-7.6M183.7 313.2h11.8m-5.9-5.2v10.4m-4.1-9l8.2 7.6m-8.2 0l8.2-7.6M160.6 265.2h11.8m-5.9-5.2v10.4m-4.1-9l8.2 7.6m-8.2 0l8.2-7.6M158.0 257.3h11.8m-5.9-5.2v10.4m-4.1-9l8.2 7.6m-8.2 0l8.2-7.6M162.0 252.7h11.8m-5.9-5.2v10.4m-4.1-9l8.2 7.6m-8.2 0l8.2-7.6M150.9 254.3h11.8m-5.9-5.2v10.4m-4.1-9l8.2 7.6m-8.2 0l8.2-7.6M148.6 275.9h11.8m-5.9-5.2v10.4m-4.1-9l8.2 7.6m-8.2 0l8.2-7.6M160.9 273.9h11.8m-5.9-5.2v10.4m-4.1-9l8.2 7.6m-8.2 0l8.2-7.6M170.5 285.2h11.8m-5.9-5.2v10.4m-4.1-9l8.2 7.6m-8.2 0l8.2-7.6M146.8 238.0h11.8m-5.9-5.2v10.4m-4.1-9l8.2 7.6m-8.2 0l8.2-7.6M158.9 258.2h11.8m-5.9-5.2v10.4m-4.1-9l8.2 7.6m-8.2 0l8.2-7.6M173.7 300.4h11.8m-5.9-5.2v10.4m-4.1-9l8.2 7.6m-8.2 0l8.2-7.6M134.1 244.4h11.8m-5.9-5.2v10.4m-4.1-9l8.2 7.6m-8.2 0l8.2-7.6M148.3 272.7h11.8m-5.9-5.2v10.4m-4.1-9l8.2 7.6m-8.2 0l8.2-7.6M142.6 253.0h11.8m-5.9-5.2v10.4m-4.1-9l8.2 7.6m-8.2 0l8.2-7.6M135.6 249.7h11.8m-5.9-5.2v10.4m-4.1-9l8.2 7.6m-8.2 0l8.2-7.6M185.1 297.3h11.8m-5.9-5.2v10.4m-4.1-9l8.2 7.6m-8.2 0l8.2-7.6M141.6 253.2h11.8m-5.9-5.2v10.4m-4.1-9l8.2 7.6m-8.2 0l8.2-7.6M146.5 244.5h11.8m-5.9-5.2v10.4m-4.1-9l8.2 7.6m-8.2 0l8.2-7.6M139.9 241.6h11.8m-5.9-5.2v10.4m-4.1-9l8.2 7.6m-8.2 0l8.2-7.6M152.2 269.9h11.8m-5.9-5.2v10.4m-4.1-9l8.2 7.6m-8.2 0l8.2-7.6M151.7 281.7h11.8m-5.9-5.2v10.4m-4.1-9l8.2 7.6m-8.2 0l8.2-7.6M186.2 289.2h11.8m-5.9-5.2v10.4m-4.1-9l8.2 7.6m-8.2 0l8.2-7.6M156.9 256.7h11.8m-5.9-5.2v10.4m-4.1-9l8.2 7.6m-8.2 0l8.2-7.6M165.4 249.1h11.8m-5.9-5.2v10.4m-4.1-9l8.2 7.6m-8.2 0l8.2-7.6M138.4 255.8h11.8m-5.9-5.2v10.4m-4.1-9l8.2 7.6m-8.2 0l8.2-7.6M151.1 246.1h11.8m-5.9-5.2v10.4m-4.1-9l8.2 7.6m-8.2 0l8.2-7.6M182.4 298.9h11.8m-5.9-5.2v10.4m-4.1-9l8.2 7.6m-8.2 0l8.2-7.6M176.5 292.6h11.8m-5.9-5.2v10.4m-4.1-9l8.2 7.6m-8.2 0l8.2-7.6M161.2 265.4h11.8m-5.9-5.2v10.4m-4.1-9l8.2 7.6m-8.2 0l8.2-7.6M177.0 303.3h11.8m-5.9-5.2v10.4m-4.1-9l8.2 7.6m-8.2 0l8.2-7.6M144.9 243.4h11.8m-5.9-5.2v10.4m-4.1-9l8.2 7.6m-8.2 0l8.2-7.6M149.1 258.7h11.8m-5.9-5.2v10.4m-4.1-9l8.2 7.6m-8.2 0l8.2-7.6M179.6 287.8h11.8m-5.9-5.2v10.4m-4.1-9l8.2 7.6m-8.2 0l8.2-7.6M137.8 252.0h11.8m-5.9-5.2v10.4m-4.1-9l8.2 7.6m-8.2 0l8.2-7.6M148.2 278.4h11.8m-5.9-5.2v10.4m-4.1-9l8.2 7.6m-8.2 0l8.2-7.6M159.9 261.1h11.8m-5.9-5.2v10.4m-4.1-9l8.2 7.6m-8.2 0l8.2-7.6M142.0 253.9h11.8m-5.9-5.2v10.4m-4.1-9l8.2 7.6m-8.2 0l8.2-7.6M167.4 275.8h11.8m-5.9-5.2v10.4m-4.1-9l8.2 7.6m-8.2 0l8.2-7.6M144.2 231.1h11.8m-5.9-5.2v10.4m-4.1-9l8.2 7.6m-8.2 0l8.2-7.6M133.6 231.4h11.8m-5.9-5.2v10.4m-4.1-9l8.2 7.6m-8.2 0l8.2-7.6M143.9 250.9h11.8m-5.9-5.2v10.4m-4.1-9l8.2 7.6m-8.2 0l8.2-7.6M172.6 281.6h11.8m-5.9-5.2v10.4m-4.1-9l8.2 7.6m-8.2 0l8.2-7.6M165.0 274.3h11.8m-5.9-5.2v10.4m-4.1-9l8.2 7.6m-8.2 0l8.2-7.6M147.2 263.1h11.8m-5.9-5.2v10.4m-4.1-9l8.2 7.6m-8.2 0l8.2-7.6M164.7 274.1h11.8m-5.9-5.2v10.4m-4.1-9l8.2 7.6m-8.2 0l8.2-7.6M161.9 272.1h11.8m-5.9-5.2v10.4m-4.1-9l8.2 7.6m-8.2 0l8.2-7.6M133.3 250.0h11.8m-5.9-5.2v10.4m-4.1-9l8.2 7.6m-8.2 0l8.2-7.6M166.0 276.1h11.8m-5.9-5.2v10.4m-4.1-9l8.2 7.6m-8.2 0l8.2-7.6M153.1 235.9h11.8m-5.9-5.2v10.4m-4.1-9l8.2 7.6m-8.2 0l8.2-7.6M134.3 249.1h11.8m-5.9-5.2v10.4m-4.1-9l8.2 7.6m-8.2 0l8.2-7.6M168.4 293.4h11.8m-5.9-5.2v10.4m-4.1-9l8.2 7.6m-8.2 0l8.2-7.6M180.4 290.4h11.8m-5.9-5.2v10.4m-4.1-9l8.2 7.6m-8.2 0l8.2-7.6M174.3 280.3h11.8m-5.9-5.2v10.4m-4.1-9l8.2 7.6m-8.2 0l8.2-7.6M154.9 269.7h11.8m-5.9-5.2v10.4m-4.1-9l8.2 7.6m-8.2 0l8.2-7.6M160.1 253.1h11.8m-5.9-5.2v10.4m-4.1-9l8.2 7.6m-8.2 0l8.2-7.6M170.9 276.3h11.8m-5.9-5.2v10.4m-4.1-9l8.2 7.6m-8.2 0l8.2-7.6M165.0 296.9h11.8m-5.9-5.2v10.4m-4.1-9l8.2 7.6m-8.2 0l8.2-7.6M168.7 279.4h11.8m-5.9-5.2v10.4m-4.1-9l8.2 7.6m-8.2 0l8.2-7.6M169.0 295.6h11.8m-5.9-5.2v10.4m-4.1-9l8.2 7.6m-8.2 0l8.2-7.6M137.6 249.0h11.8m-5.9-5.2v10.4m-4.1-9l8.2 7.6m-8.2 0l8.2-7.6M149.3 257.2h11.8m-5.9-5.2v10.4m-4.1-9l8.2 7.6m-8.2 0l8.2-7.6M182.7 299.1h11.8m-5.9-5.2v10.4m-4.1-9l8.2 7.6m-8.2 0l8.2-7.6M155.9 281.9h11.8m-5.9-5.2v10.4m-4.1-9l8.2 7.6m-8.2 0l8.2-7.6M168.4 300.6h11.8m-5.9-5.2v10.4m-4.1-9l8.2 7.6m-8.2 0l8.2-7.6M150.2 267.9h11.8m-5.9-5.2v10.4m-4.1-9l8.2 7.6m-8.2 0l8.2-7.6M172.0 281.3h11.8m-5.9-5.2v10.4m-4.1-9l8.2 7.6m-8.2 0l8.2-7.6M162.0 270.4h11.8m-5.9-5.2v10.4m-4.1-9l8.2 7.6m-8.2 0l8.2-7.6M157.7 254.3h11.8m-5.9-5.2v10.4m-4.1-9l8.2 7.6m-8.2 0l8.2-7.6M135.8 238.0h11.8m-5.9-5.2v10.4m-4.1-9l8.2 7.6m-8.2 0l8.2-7.6M186.5 304.8h11.8m-5.9-5.2v10.4m-4.1-9l8.2 7.6m-8.2 0l8.2-7.6M148.7 233.8h11.8m-5.9-5.2v10.4m-4.1-9l8.2 7.6m-8.2 0l8.2-7.6M185.8 292.3h11.8m-5.9-5.2v10.4m-4.1-9l8.2 7.6m-8.2 0l8.2-7.6M138.5 249.8h11.8m-5.9-5.2v10.4m-4.1-9l8.2 7.6m-8.2 0l8.2-7.6M167.8 271.4h11.8m-5.9-5.2v10.4m-4.1-9l8.2 7.6m-8.2 0l8.2-7.6M155.6 271.7h11.8m-5.9-5.2v10.4m-4.1-9l8.2 7.6m-8.2 0l8.2-7.6M140.8 244.5h11.8m-5.9-5.2v10.4m-4.1-9l8.2 7.6m-8.2 0l8.2-7.6M166.3 276.4h11.8m-5.9-5.2v10.4m-4.1-9l8.2 7.6m-8.2 0l8.2-7.6M184.3 296.3h11.8m-5.9-5.2v10.4m-4.1-9l8.2 7.6m-8.2 0l8.2-7.6M169.0 256.3h11.8m-5.9-5.2v10.4m-4.1-9l8.2 7.6m-8.2 0l8.2-7.6M150.8 269.8h11.8m-5.9-5.2v10.4m-4.1-9l8.2 7.6m-8.2 0l8.2-7.6M142.9 251.3h11.8m-5.9-5.2v10.4m-4.1-9l8.2 7.6m-8.2 0l8.2-7.6M175.3 274.7h11.8m-5.9-5.2v10.4m-4.1-9l8.2 7.6m-8.2 0l8.2-7.6M142.3 264.8h11.8m-5.9-5.2v10.4m-4.1-9l8.2 7.6m-8.2 0l8.2-7.6M143.1 247.7h11.8m-5.9-5.2v10.4m-4.1-9l8.2 7.6m-8.2 0l8.2-7.6M138.3 248.0h11.8m-5.9-5.2v10.4m-4.1-9l8.2 7.6m-8.2 0l8.2-7.6M168.2 291.2h11.8m-5.9-5.2v10.4m-4.1-9l8.2 7.6m-8.2 0l8.2-7.6M178.8 305.0h11.8m-5.9-5.2v10.4m-4.1-9l8.2 7.6m-8.2 0l8.2-7.6M172.7 295.7h11.8m-5.9-5.2v10.4m-4.1-9l8.2 7.6m-8.2 0l8.2-7.6M152.0 258.2h11.8m-5.9-5.2v10.4m-4.1-9l8.2 7.6m-8.2 0l8.2-7.6M154.5 257.2h11.8m-5.9-5.2v10.4m-4.1-9l8.2 7.6m-8.2 0l8.2-7.6M173.3 297.8h11.8m-5.9-5.2v10.4m-4.1-9l8.2 7.6m-8.2 0l8.2-7.6M164.9 264.6h11.8m-5.9-5.2v10.4m-4.1-9l8.2 7.6m-8.2 0l8.2-7.6M189.4 288.1h11.8m-5.9-5.2v10.4m-4.1-9l8.2 7.6m-8.2 0l8.2-7.6M156.4 280.4h11.8m-5.9-5.2v10.4m-4.1-9l8.2 7.6m-8.2 0l8.2-7.6M151.5 237.5h11.8m-5.9-5.2v10.4m-4.1-9l8.2 7.6m-8.2 0l8.2-7.6M136.8 243.7h11.8m-5.9-5.2v10.4m-4.1-9l8.2 7.6m-8.2 0l8.2-7.6M142.3 264.0h11.8m-5.9-5.2v10.4m-4.1-9l8.2 7.6m-8.2 0l8.2-7.6M160.5 263.7h11.8m-5.9-5.2v10.4m-4.1-9l8.2 7.6m-8.2 0l8.2-7.6M154.0 283.2h11.8m-5.9-5.2v10.4m-4.1-9l8.2 7.6m-8.2 0l8.2-7.6M167.0 275.4h11.8m-5.9-5.2v10.4m-4.1-9l8.2 7.6m-8.2 0l8.2-7.6M143.8 261.7h11.8m-5.9-5.2v10.4m-4.1-9l8.2 7.6m-8.2 0l8.2-7.6M182.1 312.2h11.8m-5.9-5.2v10.4m-4.1-9l8.2 7.6m-8.2 0l8.2-7.6M179.6 282.5h11.8m-5.9-5.2v10.4m-4.1-9l8.2 7.6m-8.2 0l8.2-7.6M145.4 238.8h11.8m-5.9-5.2v10.4m-4.1-9l8.2 7.6m-8.2 0l8.2-7.6M156.4 260.4h11.8m-5.9-5.2v10.4m-4.1-9l8.2 7.6m-8.2 0l8.2-7.6M141.1 267.7h11.8m-5.9-5.2v10.4m-4.1-9l8.2 7.6m-8.2 0l8.2-7.6M157.0 266.0h11.8m-5.9-5.2v10.4m-4.1-9l8.2 7.6m-8.2 0l8.2-7.6M180.7 304.6h11.8m-5.9-5.2v10.4m-4.1-9l8.2 7.6m-8.2 0l8.2-7.6M172.8 302.4h11.8m-5.9-5.2v10.4m-4.1-9l8.2 7.6m-8.2 0l8.2-7.6M140.0 256.6h11.8m-5.9-5.2v10.4m-4.1-9l8.2 7.6m-8.2 0l8.2-7.6M133.9 258.8h11.8m-5.9-5.2v10.4m-4.1-9l8.2 7.6m-8.2 0l8.2-7.6M158.2 251.0h11.8m-5.9-5.2v10.4m-4.1-9l8.2 7.6m-8.2 0l8.2-7.6M173.7 279.1h11.8m-5.9-5.2v10.4m-4.1-9l8.2 7.6m-8.2 0l8.2-7.6M183.7 293.5h11.8m-5.9-5.2v10.4m-4.1-9l8.2 7.6m-8.2 0l8.2-7.6M135.1 244.5h11.8m-5.9-5.2v10.4m-4.1-9l8.2 7.6m-8.2 0l8.2-7.6M137.8 261.5h11.8m-5.9-5.2v10.4m-4.1-9l8.2 7.6m-8.2 0l8.2-7.6M154.8 263.5h11.8m-5.9-5.2v10.4m-4.1-9l8.2 7.6m-8.2 0l8.2-7.6M170.4 268.9h11.8m-5.9-5.2v10.4m-4.1-9l8.2 7.6m-8.2 0l8.2-7.6M185.0 294.9h11.8m-5.9-5.2v10.4m-4.1-9l8.2 7.6m-8.2 0l8.2-7.6M163.7 291.3h11.8m-5.9-5.2v10.4m-4.1-9l8.2 7.6m-8.2 0l8.2-7.6M142.1 250.2h11.8m-5.9-5.2v10.4m-4.1-9l8.2 7.6m-8.2 0l8.2-7.6M146.0 252.0h11.8m-5.9-5.2v10.4m-4.1-9l8.2 7.6m-8.2 0l8.2-7.6M179.1 305.4h11.8m-5.9-5.2v10.4m-4.1-9l8.2 7.6m-8.2 0l8.2-7.6M181.6 283.7h11.8m-5.9-5.2v10.4m-4.1-9l8.2 7.6m-8.2 0l8.2-7.6M177.0 304.0h11.8m-5.9-5.2v10.4m-4.1-9l8.2 7.6m-8.2 0l8.2-7.6M157.2 284.0h11.8m-5.9-5.2v10.4m-4.1-9l8.2 7.6m-8.2 0l8.2-7.6M145.3 277.4h11.8m-5.9-5.2v10.4m-4.1-9l8.2 7.6m-8.2 0l8.2-7.6M140.7 255.1h11.8m-5.9-5.2v10.4m-4.1-9l8.2 7.6m-8.2 0l8.2-7.6M159.3 279.4h11.8m-5.9-5.2v10.4m-4.1-9l8.2 7.6m-8.2 0l8.2-7.6M165.7 272.0h11.8m-5.9-5.2v10.4m-4.1-9l8.2 7.6m-8.2 0l8.2-7.6M135.3 247.8h11.8m-5.9-5.2v10.4m-4.1-9l8.2 7.6m-8.2 0l8.2-7.6M146.1 268.5h11.8m-5.9-5.2v10.4m-4.1-9l8.2 7.6m-8.2 0l8.2-7.6M177.8 291.4h11.8m-5.9-5.2v10.4m-4.1-9l8.2 7.6m-8.2 0l8.2-7.6M125.1 217.4h11.8m-5.9-5.2v10.4m-4.1-9l8.2 7.6m-8.2 0l8.2-7.6M161.1 237.0h11.8m-5.9-5.2v10.4m-4.1-9l8.2 7.6m-8.2 0l8.2-7.6" stroke="#ffff00" stroke-width="1.25" fill="none"/><path d="M254.2 91.3h11.8m-5.9-5.2v10.4m-4.1-9l8.2 7.6m-8.2 0l8.2-7.6M263.4 90.4h11.8m-5.9-5.2v10.4m-4.1-9l8.2 7.6m-8.2 0l8.2-7.6M265.0 71.5h11.8m-5.9-5.2v10.4m-4.1-9l8.2 7.6m-8.2 0l8.2-7.6M221.3 65.8h11.8m-5.9-5.2v10.4m-4.1-9l8.2 7.6m-8.2 0l8.2-7.6M218.9 65.3h11.8m-5.9-5.2v10.4m-4.1-9l8.2 7.6m-8.2 0l8.2-7.6M258.4 89.6h11.8m-5.9-5.2v10.4m-4.1-9l8.2 7.6m-8.2 0l8.2-7.6M230.8 58.2h11.8m-5.9-5.2v10.4m-4.1-9l8.2 7.6m-8.2 0l8.2-7.6M220.9 74.1h11.8m-5.9-5.2v10.4m-4.1-9l8.2 7.6m-8.2 0l8.2-7.6M260.9 74.0h11.8m-5.9-5.2v10.4m-4.1-9l8.2 7.6m-8.2 0l8.2-7.6M272.3 69.6h11.8m-5.9-5.2v10.4m-4.1-9l8.2 7.6m-8.2 0l8.2-7.6M250.5 72.2h11.8m-5.9-5.2v10.4m-4.1-9l8.2 7.6m-8.2 0l8.2-7.6M219.1 78.1h11.8m-5.9-5.2v10.4m-4.1-9l8.2 7.6m-8.2 0l8.2-7.6M229.6 58.8h11.8m-5.9-5.2v10.4m-4.1-9l8.2 7.6m-8.2 0l8.2-7.6M242.0 72.4h11.8m-5.9-5.2v10.4m-4.1-9l8.2 7.6m-8.2 0l8.2-7.6M255.8 67.8h11.8m-5.9-5.2v10.4m-4.1-9l8.2 7.6m-8.2 0l8.2-7.6M260.5 78.0h11.8m-5.9-5.2v10.4m-4.1-9l8.2 7.6m-8.2 0l8.2-7.6M247.8 62.6h11.8m-5.9-5.2v10.4m-4.1-9l8.2 7.6m-8.2 0l8.2-7.6M260.4 65.4h11.8m-5.9-5.2v10.4m-4.1-9l8.2 7.6m-8.2 0l8.2-7.6M263.3 84.1h11.8m-5.9-5.2v10.4m-4.1-9l8.2 7.6m-8.2 0l8.2-7.6M266.7 66.7h11.8m-5.9-5.2v10.4m-4.1-9l8.2 7.6m-8.2 0l8.2-7.6M235.0 83.5h11.8m-5.9-5.2v10.4m-4.1-9l8.2 7.6m-8.2 0l8.2-7.6M234.1 71.0h11.8m-5.9-5.2v10.4m-4.1-9l8.2 7.6m-8.2 0l8.2-7.6M252.5 80.1h11.8m-5.9-5.2v10.4m-4.1-9l8.2 7.6m-8.2 0l8.2-7.6M250.9 64.7h11.8m-5.9-5.2v10.4m-4.1-9l8.2 7.6m-8.2 0l8.2-7.6M248.2 83.8h11.8m-5.9-5.2v10.4m-4.1-9l8.2 7.6m-8.2 0l8.2-7.6M277.4 78.9h11.8m-5.9-5.2v10.4m-4.1-9l8.2 7.6m-8.2 0l8.2-7.6M235.1 76.6h11.8m-5.9-5.2v10.4m-4.1-9l8.2 7.6m-8.2 0l8.2-7.6M255.7 88.3h11.8m-5.9-5.2v10.4m-4.1-9l8.2 7.6m-8.2 0l8.2-7.6M258.4 86.5h11.8m-5.9-5.2v10.4m-4.1-9l8.2 7.6m-8.2 0l8.2-7.6M260.4 79.5h11.8m-5.9-5.2v10.4m-4.1-9l8.2 7.6m-8.2 0l8.2-7.6M222.7 60.8h11.8m-5.9-5.2v10.4m-4.1-9l8.2 7.6m-8.2 0l8.2-7.6M246.0 64.7h11.8m-5.9-5.2v10.4m-4.1-9l8.2 7.6m-8.2 0l8.2-7.6M247.2 87.0h11.8m-5.9-5.2v10.4m-4.1-9l8.2 7.6m-8.2 0l8.2-7.6M257.4 92.3h11.8m-5.9-5.2v10.4m-4.1-9l8.2 7.6m-8.2 0l8.2-7.6M267.0 92.8h11.8m-5.9-5.2v10.4m-4.1-9l8.2 7.6m-8.2 0l8.2-7.6M244.8 81.3h11.8m-5.9-5.2v10.4m-4.1-9l8.2 7.6m-8.2 0l8.2-7.6M263.9 84.5h11.8m-5.9-5.2v10.4m-4.1-9l8.2 7.6m-8.2 0l8.2-7.6M265.7 70.5h11.8m-5.9-5.2v10.4m-4.1-9l8.2 7.6m-8.2 0l8.2-7.6M265.6 75.8h11.8m-5.9-5.2v10.4m-4.1-9l8.2 7.6m-8.2 0l8.2-7.6M265.0 66.8h11.8m-5.9-5.2v10.4m-4.1-9l8.2 7.6m-8.2 0l8.2-7.6M262.7 81.0h11.8m-5.9-5.2v10.4m-4.1-9l8.2 7.6m-8.2 0l8.2-7.6M271.1 90.6h11.8m-5.9-5.2v10.4m-4.1-9l8.2 7.6m-8.2 0l8.2-7.6M226.9 77.4h11.8m-5.9-5.2v10.4m-4.1-9l8.2 7.6m-8.2 0l8.2-7.6M224.9 76.2h11.8m-5.9-5.2v10.4m-4.1-9l8.2 7.6m-8.2 0l8.2-7.6M243.7 68.7h11.8m-5.9-5.2v10.4m-4.1-9l8.2 7.6m-8.2 0l8.2-7.6M266.0 64.4h11.8m-5.9-5.2v10.4m-4.1-9l8.2 7.6m-8.2 0l8.2-7.6M267.5 73.4h11.8m-5.9-5.2v10.4m-4.1-9l8.2 7.6m-8.2 0l8.2-7.6M233.3 83.6h11.8m-5.9-5.2v10.4m-4.1-9l8.2 7.6m-8.2 0l8.2-7.6M248.6 85.1h11.8m-5.9-5.2v10.4m-4.1-9l8.2 7.6m-8.2 0l8.2-7.6M253.7 69.2h11.8m-5.9-5.2v10.4m-4.1-9l8.2 7.6m-8.2 0l8.2-7.6M260.4 82.6h11.8m-5.9-5.2v10.4m-4.1-9l8.2 7.6m-8.2 0l8.2-7.6M233.0 63.4h11.8m-5.9-5.2v10.4m-4.1-9l8.2 7.6m-8.2 0l8.2-7.6M220.5 67.5h11.8m-5.9-5.2v10.4m-4.1-9l8.2 7.6m-8.2 0l8.2-7.6M227.4 80.5h11.8m-5.9-5.2v10.4m-4.1-9l8.2 7.6m-8.2 0l8.2-7.6M266.9 85.6h11.8m-5.9-5.2v10.4m-4.1-9l8.2 7.6m-8.2 0l8.2-7.6M231.7 65.8h11.8m-5.9-5.2v10.4m-4.1-9l8.2 7.6m-8.2 0l8.2-7.6M220.7 73.0h11.8m-5.9-5.2v10.4m-4.1-9l8.2 7.6m-8.2 0l8.2-7.6M220.5 74.3h11.8m-5.9-5.2v10.4m-4.1-9l8.2 7.6m-8.2 0l8.2-7.6M221.9 68.9h11.8m-5.9-5.2v10.4m-4.1-9l8.2 7.6m-8.2 0l8.2-7.6M258.4 68.0h11.8m-5.9-5.2v10.4m-4.1-9l8.2 7.6m-8.2 0l8.2-7.6M237.6 69.7h11.8m-5.9-5.2v10.4m-4.1-9l8.2 7.6m-8.2 0l8.2-7.6M276.8 77.3h11.8m-5.9-5.2v10.4m-4.1-9l8.2 7.6m-8.2 0l8.2-7.6M243.7 62.9h11.8m-5.9-5.2v10.4m-4.1-9l8.2 7.6m-8.2 0l8.2-7.6M252.9 81.4h11.8m-5.9-5.2v10.4m-4.1-9l8.2 7.6m-8.2 0l8.2-7.6M253.2 80.3h11.8m-5.9-5.2v10.4m-4.1-9l8.2 7.6m-8.2 0l8.2-7.6M258.1 67.4h11.8m-5.9-5.2v10.4m-4.1-9l8.2 7.6m-8.2 0l8.2-7.6M233.2 73.4h11.8m-5.9-5.2v10.4m-4.1-9l8.2 7.6m-8.2 0l8.2-7.6M234.5 76.1h11.8m-5.9-5.2v10.4m-4.1-9l8.2 7.6m-8.2 0l8.2-7.6M251.4 93.1h11.8m-5.9-5.2v10.4m-4.1-9l8.2 7.6m-8.2 0l8.2-7.6M262.3 93.8h11.8m-5.9-5.2v10.4m-4.1-9l8.2 7.6m-8.2 0l8.2-7.6M229.4 62.5h11.8m-5.9-5.2v10.4m-4.1-9l8.2 7.6m-8.2 0l8.2-7.6M227.4 71.7h11.8m-5.9-5.2v10.4m-4.1-9l8.2 7.6m-8.2 0l8.2-7.6M268.5 72.6h11.8m-5.9-5.2v10.4m-4.1-9l8.2 7.6m-8.2 0l8.2-7.6M270.2 86.6h11.8m-5.9-5.2v10.4m-4.1-9l8.2 7.6m-8.2 0l8.2-7.6M233.6 62.0h11.8m-5.9-5.2v10.4m-4.1-9l8.2 7.6m-8.2 0l8.2-7.6M235.9 81.8h11.8m-5.9-5.2v10.4m-4.1-9l8.2 7.6m-8.2 0l8.2-7.6M263.0 62.5h11.8m-5.9-5.2v10.4m-4.1-9l8.2 7.6m-8.2 0l8.2-7.6M261.0 83.3h11.8m-5.9-5.2v10.4m-4.1-9l8.2 7.6m-8.2 0l8.2-7.6M255.9 79.5h11.8m-5.9-5.2v10.4m-4.1-9l8.2 7.6m-8.2 0l8.2-7.6M249.5 93.4h11.8m-5.9-5.2v10.4m-4.1-9l8.2 7.6m-8.2 0l8.2-7.6M252.0 76.2h11.8m-5.9-5.2v10.4m-4.1-9l8.2 7.6m-8.2 0l8.2-7.6M255.6 75.1h11.8m-5.9-5.2v10.4m-4.1-9l8.2 7.6m-8.2 0l8.2-7.6M257.2 74.2h11.8m-5.9-5.2v10.4m-4.1-9l8.2 7.6m-8.2 0l8.2-7.6M240.3 73.5h11.8m-5.9-5.2v10.4m-4.1-9l8.2 7.6m-8.2 0l8.2-7.6M225.0 84.5h11.8m-5.9-5.2v10.4m-4.1-9l8.2 7.6m-8.2 0l8.2-7.6M235.7 85.1h11.8m-5.9-5.2v10.4m-4.1-9l8.2 7.6m-8.2 0l8.2-7.6M261.6 84.9h11.8m-5.9-5.2v10.4m-4.1-9l8.2 7.6m-8.2 0l8.2-7.6M253.1 74.0h11.8m-5.9-5.2v10.4m-4.1-9l8.2 7.6m-8.2 0l8.2-7.6M245.0 88.4h11.8m-5.9-5.2v10.4m-4.1-9l8.2 7.6m-8.2 0l8.2-7.6M247.9 65.0h11.8m-5.9-5.2v10.4m-4.1-9l8.2 7.6m-8.2 0l8.2-7.6M246.0 84.2h11.8m-5.9-5.2v10.4m-4.1-9l8.2 7.6m-8.2 0l8.2-7.6M255.5 63.7h11.8m-5.9-5.2v10.4m-4.1-9l8.2 7.6m-8.2 0l8.2-7.6M231.6 84.4h11.8m-5.9-5.2v10.4m-4.1-9l8.2 7.6m-8.2 0l8.2-7.6M251.6 84.0h11.8m-5.9-5.2v10.4m-4.1-9l8.2 7.6m-8.2 0l8.2-7.6M258.1 71.1h11.8m-5.9-5.2v10.4m-4.1-9l8.2 7.6m-8.2 0l8.2-7.6M245.0 79.4h11.8m-5.9-5.2v10.4m-4.1-9l8.2 7.6m-8.2 0l8.2-7.6M234.4 81.1h11.8m-5.9-5.2v10.4m-4.1-9l8.2 7.6m-8.2 0l8.2-7.6M254.5 88.7h11.8m-5.9-5.2v10.4m-4.1-9l8.2 7.6m-8.2 0l8.2-7.6M273.6 73.7h11.8m-5.9-5.2v10.4m-4.1-9l8.2 7.6m-8.2 0l8.2-7.6M256.8 75.9h11.8m-5.9-5.2v10.4m-4.1-9l8.2 7.6m-8.2 0l8.2-7.6M278.0 70.6h11.8m-5.9-5.2v10.4m-4.1-9l8.2 7.6m-8.2 0l8.2-7.6M244.0 64.9h11.8m-5.9-5.2v10.4m-4.1-9l8.2 7.6m-8.2 0l8.2-7.6M246.9 66.4h11.8m-5.9-5.2v10.4m-4.1-9l8.2 7.6m-8.2 0l8.2-7.6M221.1 76.8h11.8m-5.9-5.2v10.4m-4.1-9l8.2 7.6m-8.2 0l8.2-7.6M237.6 88.9h11.8m-5.9-5.2v10.4m-4.1-9l8.2 7.6m-8.2 0l8.2-7.6M257.8 67.4h11.8m-5.9-5.2v10.4m-4.1-9l8.2 7.6m-8.2 0l8.2-7.6M263.8 63.1h11.8m-5.9-5.2v10.4m-4.1-9l8.2 7.6m-8.2 0l8.2-7.6M230.9 72.5h11.8m-5.9-5.2v10.4m-4.1-9l8.2 7.6m-8.2 0l8.2-7.6M234.6 76.9h11.8m-5.9-5.2v10.4m-4.1-9l8.2 7.6m-8.2 0l8.2-7.6M251.5 71.2h11.8m-5.9-5.2v10.4m-4.1-9l8.2 7.6m-8.2 0l8.2-7.6M254.7 75.8h11.8m-5.9-5.2v10.4m-4.1-9l8.2 7.6m-8.2 0l8.2-7.6M223.7 75.9h11.8m-5.9-5.2v10.4m-4.1-9l8.2 7.6m-8.2 0l8.2-7.6M228.8 72.2h11.8m-5.9-5.2v10.4m-4.1-9l8.2 7.6m-8.2 0l8.2-7.6M276.2 86.0h11.8m-5.9-5.2v10.4m-4.1-9l8.2 7.6m-8.2 0l8.2-7.6M220.3 62.5h11.8m-5.9-5.2v10.4m-4.1-9l8.2 7.6m-8.2 0l8.2-7.6M241.1 89.3h11.8m-5.9-5.2v10.4m-4.1-9l8.2 7.6m-8.2 0l8.2-7.6M228.5 59.5h11.8m-5.9-5.2v10.4m-4.1-9l8.2 7.6m-8.2 0l8.2-7.6M229.3 59.5h11.8m-5.9-5.2v10.4m-4.1-9l8.2 7.6m-8.2 0l8.2-7.6M218.9 77.0h11.8m-5.9-5.2v10.4m-4.1-9l8.2 7.6m-8.2 0l8.2-7.6M245.0 86.9h11.8m-5.9-5.2v10.4m-4.1-9l8.2 7.6m-8.2 0l8.2-7.6M240.3 91.9h11.8m-5.9-5.2v10.4m-4.1-9l8.2 7.6m-8.2 0l8.2-7.6M272.0 81.2h11.8m-5.9-5.2v10.4m-4.1-9l8.2 7.6m-8.2 0l8.2-7.6M253.4 83.6h11.8m-5.9-5.2v10.4m-4.1-9l8.2 7.6m-8.2 0l8.2-7.6M263.8 67.3h11.8m-5.9-5.2v10.4m-4.1-9l8.2 7.6m-8.2 0l8.2-7.6M246.3 78.6h11.8m-5.9-5.2v10.4m-4.1-9l8.2 7.6m-8.2 0l8.2-7.6M226.9 82.6h11.8m-5.9-5.2v10.4m-4.1-9l8.2 7.6m-8.2 0l8.2-7.6M247.9 87.1h11.8m-5.9-5.2v10.4m-4.1-9l8.2 7.6m-8.2 0l8.2-7.6M271.0 88.2h11.8m-5.9-5.2v10.4m-4.1-9l8.2 7.6m-8.2 0l8.2-7.6M254.4 81.0h11.8m-5.9-5.2v10.4m-4.1-9l8.2 7.6m-8.2 0l8.2-7.6M239.3 62.9h11.8m-5.9-5.2v10.4m-4.1-9l8.2 7.6m-8.2 0l8.2-7.6M236.7 80.1h11.8m-5.9-5.2v10.4m-4.1-9l8.2 7.6m-8.2 0l8.2-7.6M261.6 62.4h11.8m-5.9-5.2v10.4m-4.1-9l8.2 7.6m-8.2 0l8.2-7.6M237.7 73.3h11.8m-5.9-5.2v10.4m-4.1-9l8.2 7.6m-8.2 0l8.2-7.6M256.5 92.8h11.8m-5.9-5.2v10.4m-4.1-9l8.2 7.6m-8.2 0l8.2-7.6M250.4 74.6h11.8m-5.9-5.2v10.4m-4.1-9l8.2 7.6m-8.2 0l8.2-7.6M244.4 76.1h11.8m-5.9-5.2v10.4m-4.1-9l8.2 7.6m-8.2 0l8.2-7.6M244.7 64.3h11.8m-5.9-5.2v10.4m-4.1-9l8.2 7.6m-8.2 0l8.2-7.6M220.2 78.8h11.8m-5.9-5.2v10.4m-4.1-9l8.2 7.6m-8.2 0l8.2-7.6M224.4 83.1h11.8m-5.9-5.2v10.4m-4.1-9l8.2 7.6m-8.2 0l8.2-7.6M263.1 84.9h11.8m-5.9-5.2v10.4m-4.1-9l8.2 7.6m-8.2 0l8.2-7.6M268.7 84.0h11.8m-5.9-5.2v10.4m-4.1-9l8.2 7.6m-8.2 0l8.2-7.6M222.7 82.9h11.8m-5.9-5.2v10.4m-4.1-9l8.2 7.6m-8.2 0l8.2-7.6M243.9 79.8h11.8m-5.9-5.2v10.4m-4.1-9l8.2 7.6m-8.2 0l8.2-7.6M226.6 74.4h11.8m-5.9-5.2v10.4m-4.1-9l8.2 7.6m-8.2 0l8.2-7.6M261.3 74.9h11.8m-5.9-5.2v10.4m-4.1-9l8.2 7.6m-8.2 0l8.2-7.6M253.0 81.9h11.8m-5.9-5.2v10.4m-4.1-9l8.2 7.6m-8.2 0l8.2-7.6M258.1 67.7h11.8m-5.9-5.2v10.4m-4.1-9l8.2 7.6m-8.2 0l8.2-7.6M269.1 63.8h11.8m-5.9-5.2v10.4m-4.1-9l8.2 7.6m-8.2 0l8.2-7.6M256.9 92.4h11.8m-5.9-5.2v10.4m-4.1-9l8.2 7.6m-8.2 0l8.2-7.6M227.2 76.1h11.8m-5.9-5.2v10.4m-4.1-9l8.2 7.6m-8.2 0l8.2-7.6M273.4 86.8h11.8m-5.9-5.2v10.4m-4.1-9l8.2 7.6m-8.2 0l8.2-7.6M268.9 86.9h11.8m-5.9-5.2v10.4m-4.1-9l8.2 7.6m-8.2 0l8.2-7.6M223.5 70.8h11.8m-5.9-5.2v10.4m-4.1-9l8.2 7.6m-8.2 0l8.2-7.6M273.0 74.4h11.8m-5.9-5.2v10.4m-4.1-9l8.2 7.6m-8.2 0l8.2-7.6M216.0 78.8h11.8m-5.9-5.2v10.4m-4.1-9l8.2 7.6m-8.2 0l8.2-7.6M248.4 92.5h11.8m-5.9-5.2v10.4m-4.1-9l8.2 7.6m-8.2 0l8.2-7.6M225.0 83.4h11.8m-5.9-5.2v10.4m-4.1-9l8.2 7.6m-8.2 0l8.2-7.6M245.1 66.3h11.8m-5.9-5.2v10.4m-4.1-9l8.2 7.6m-8.2 0l8.2-7.6M227.6 82.3h11.8m-5.9-5.2v10.4m-4.1-9l8.2 7.6m-8.2 0l8.2-7.6M251.4 81.7h11.8m-5.9-5.2v10.4m-4.1-9l8.2 7.6m-8.2 0l8.2-7.6M223.1 71.5h11.8m-5.9-5.2v10.4m-4.1-9l8.2 7.6m-8.2 0l8.2-7.6M261.5 85.4h11.8m-5.9-5.2v10.4m-4.1-9l8.2 7.6m-8.2 0l8.2-7.6M257.9 70.5h11.8m-5.9-5.2v10.4m-4.1-9l8.2 7.6m-8.2 0l8.2-7.6M249.5 85.7h11.8m-5.9-5.2v10.4m-4.1-9l8.2 7.6m-8.2 0l8.2-7.6M249.5 83.5h11.8m-5.9-5.2v10.4m-4.1-9l8.2 7.6m-8.2 0l8.2-7.6M264.0 76.2h11.8m-5.9-5.2v10.4m-4.1-9l8.2 7.6m-8.2 0l8.2-7.6M253.2 76.3h11.8m-5.9-5.2v10.4m-4.1-9l8.2 7.6m-8.2 0l8.2-7.6M228.4 79.0h11.8m-5.9-5.2v10.4m-4.1-9l8.2 7.6m-8.2 0l8.2-7.6M232.4 63.2h11.8m-5.9-5.2v10.4m-4.1-9l8.2 7.6m-8.2 0l8.2-7.6M229.1 57.2h11.8m-5.9-5.2v10.4m-4.1-9l8.2 7.6m-8.2 0l8.2-7.6M242.4 90.0h11.8m-5.9-5.2v10.4m-4.1-9l8.2 7.6m-8.2 0l8.2-7.6M230.0 83.0h11.8m-5.9-5.2v10.4m-4.1-9l8.2 7.6m-8.2 0l8.2-7.6M228.3 70.2h11.8m-5.9-5.2v10.4m-4.1-9l8.2 7.6m-8.2 0l8.2-7.6M231.4 80.0h11.8m-5.9-5.2v10.4m-4.1-9l8.2 7.6m-8.2 0l8.2-7.6M227.8 75.9h11.8m-5.9-5.2v10.4m-4.1-9l8.2 7.6m-8.2 0l8.2-7.6M258.7 70.3h11.8m-5.9-5.2v10.4m-4.1-9l8.2 7.6m-8.2 0l8.2-7.6M255.3 89.3h11.8m-5.9-5.2v10.4m-4.1-9l8.2 7.6m-8.2 0l8.2-7.6M234.6 74.1h11.8m-5.9-5.2v10.4m-4.1-9l8.2 7.6m-8.2 0l8.2-7.6M257.2 86.2h11.8m-5.9-5.2v10.4m-4.1-9l8.2 7.6m-8.2 0l8.2-7.6M245.4 79.1h11.8m-5.9-5.2v10.4m-4.1-9l8.2 7.6m-8.2 0l8.2-7.6M227.9 85.0h11.8m-5.9-5.2v10.4m-4.1-9l8.2 7.6m-8.2 0l8.2-7.6M252.5 67.7h11.8m-5.9-5.2v10.4m-4.1-9l8.2 7.6m-8.2 0l8.2-7.6M260.9 74.4h11.8m-5.9-5.2v10.4m-4.1-9l8.2 7.6m-8.2 0l8.2-7.6M255.4 68.6h11.8m-5.9-5.2v10.4m-4.1-9l8.2 7.6m-8.2 0l8.2-7.6M248.4 66.1h11.8m-5.9-5.2v10.4m-4.1-9l8.2 7.6m-8.2 0l8.2-7.6M231.6 75.8h11.8m-5.9-5.2v10.4m-4.1-9l8.2 7.6m-8.2 0l8.2-7.6M235.4 72.0h11.8m-5.9-5.2v10.4m-4.1-9l8.2 7.6m-8.2 0l8.2-7.6M258.0 70.2h11.8m-5.9-5.2v10.4m-4.1-9l8.2 7.6m-8.2 0l8.2-7.6M253.6 80.7h11.8m-5.9-5.2v10.4m-4.1-9l8.2 7.6m-8.2 0l8.2-7.6M256.6 84.1h11.8m-5.9-5.2v10.4m-4.1-9l8.2 7.6m-8.2 0l8.2-7.6M260.6 75.3h11.8m-5.9-5.2v10.4m-4.1-9l8.2 7.6m-8.2 0l8.2-7.6M258.0 73.0h11.8m-5.9-5.2v10.4m-4.1-9l8.2 7.6m-8.2 0l8.2-7.6M242.0 72.0h11.8m-5.9-5.2v10.4m-4.1-9l8.2 7.6m-8.2 0l8.2-7.6M259.5 91.9h11.8m-5.9-5.2v10.4m-4.1-9l8.2 7.6m-8.2 0l8.2-7.6M230.2 61.1h11.8m-5.9-5.2v10.4m-4.1-9l8.2 7.6m-8.2 0l8.2-7.6M244.2 84.9h11.8m-5.9-5.2v10.4m-4.1-9l8.2 7.6m-8.2 0l8.2-7.6M238.9 92.1h11.8m-5.9-5.2v10.4m-4.1-9l8.2 7.6m-8.2 0l8.2-7.6M265.2 70.7h11.8m-5.9-5.2v10.4m-4.1-9l8.2 7.6m-8.2 0l8.2-7.6M265.5 74.7h11.8m-5.9-5.2v10.4m-4.1-9l8.2 7.6m-8.2 0l8.2-7.6M262.6 78.0h11.8m-5.9-5.2v10.4m-4.1-9l8.2 7.6m-8.2 0l8.2-7.6M227.1 45.0h11.8m-5.9-5.2v10.4m-4.1-9l8.2 7.6m-8.2 0l8.2-7.6M253.1 54.0h11.8m-5.9-5.2v10.4m-4.1-9l8.2 7.6m-8.2 0l8.2-7.6M275.1 59.0h11.8m-5.9-5.2v10.4m-4.1-9l8.2 7.6m-8.2 0l8.2-7.6M286.1 59.0h11.8m-5.9-5.2v10.4m-4.1-9l8.2 7.6m-8.2 0l8.2-7.6M294.1 66.0h11.8m-5.9-5.2v10.4m-4.1-9l8.2 7.6m-8.2 0l8.2-7.6M298.1 75.0h11.8m-5.9-5.2v10.4m-4.1-9l8.2 7.6m-8.2 0l8.2-7.6M298.1 84.0h11.8m-5.9-5.2v10.4m-4.1-9l8.2 7.6m-8.2 0l8.2-7.6M290.1 80.0h11.8m-5.9-5.2v10.4m-4.1-9l8.2 7.6m-8.2 0l8.2-7.6M284.1 90.0h11.8m-5.9-5.2v10.4m-4.1-9l8.2 7.6m-8.2 0l8.2-7.6M276.1 96.0h11.8m-5.9-5.2v10.4m-4.1-9l8.2 7.6m-8.2 0l8.2-7.6M275.1 109.0h11.8m-5.9-5.2v10.4m-4.1-9l8.2 7.6m-8.2 0l8.2-7.6M282.1 72.0h11.8m-5.9-5.2v10.4m-4.1-9l8.2 7.6m-8.2 0l8.2-7.6M291.1 90.0h11.8m-5.9-5.2v10.4m-4.1-9l8.2 7.6m-8.2 0l8.2-7.6M265.1 98.0h11.8m-5.9-5.2v10.4m-4.1-9l8.2 7.6m-8.2 0l8.2-7.6M294.1 88.0h11.8m-5.9-5.2v10.4m-4.1-9l8.2 7.6m-8.2 0l8.2-7.6M280.1 102.0h11.8m-5.9-5.2v10.4m-4.1-9l8.2 7.6m-8.2 0l8.2-7.6M287.1 96.0h11.8m-5.9-5.2v10.4m-4.1-9l8.2 7.6m-8.2 0l8.2-7.6M287.9 94.1h11.8m-5.9-5.2v10.4m-4.1-9l8.2 7.6m-8.2 0l8.2-7.6M290.0 74.5h11.8m-5.9-5.2v10.4m-4.1-9l8.2 7.6m-8.2 0l8.2-7.6M290.4 77.2h11.8m-5.9-5.2v10.4m-4.1-9l8.2 7.6m-8.2 0l8.2-7.6M295.8 84.4h11.8m-5.9-5.2v10.4m-4.1-9l8.2 7.6m-8.2 0l8.2-7.6M280.5 67.1h11.8m-5.9-5.2v10.4m-4.1-9l8.2 7.6m-8.2 0l8.2-7.6M289.5 74.5h11.8m-5.9-5.2v10.4m-4.1-9l8.2 7.6m-8.2 0l8.2-7.6M289.7 62.8h11.8m-5.9-5.2v10.4m-4.1-9l8.2 7.6m-8.2 0l8.2-7.6M279.1 101.3h11.8m-5.9-5.2v10.4m-4.1-9l8.2 7.6m-8.2 0l8.2-7.6M285.2 95.0h11.8m-5.9-5.2v10.4m-4.1-9l8.2 7.6m-8.2 0l8.2-7.6M280.7 84.6h11.8m-5.9-5.2v10.4m-4.1-9l8.2 7.6m-8.2 0l8.2-7.6M286.1 83.6h11.8m-5.9-5.2v10.4m-4.1-9l8.2 7.6m-8.2 0l8.2-7.6M295.0 87.2h11.8m-5.9-5.2v10.4m-4.1-9l8.2 7.6m-8.2 0l8.2-7.6M285.4 90.0h11.8m-5.9-5.2v10.4m-4.1-9l8.2 7.6m-8.2 0l8.2-7.6M280.1 81.8h11.8m-5.9-5.2v10.4m-4.1-9l8.2 7.6m-8.2 0l8.2-7.6M293.9 82.9h11.8m-5.9-5.2v10.4m-4.1-9l8.2 7.6m-8.2 0l8.2-7.6M285.9 80.3h11.8m-5.9-5.2v10.4m-4.1-9l8.2 7.6m-8.2 0l8.2-7.6M283.2 88.7h11.8m-5.9-5.2v10.4m-4.1-9l8.2 7.6m-8.2 0l8.2-7.6M295.3 82.9h11.8m-5.9-5.2v10.4m-4.1-9l8.2 7.6m-8.2 0l8.2-7.6M278.0 71.5h11.8m-5.9-5.2v10.4m-4.1-9l8.2 7.6m-8.2 0l8.2-7.6M275.0 75.9h11.8m-5.9-5.2v10.4m-4.1-9l8.2 7.6m-8.2 0l8.2-7.6M284.0 98.0h11.8m-5.9-5.2v10.4m-4.1-9l8.2 7.6m-8.2 0l8.2-7.6M285.8 71.4h11.8m-5.9-5.2v10.4m-4.1-9l8.2 7.6m-8.2 0l8.2-7.6M279.9 68.5h11.8m-5.9-5.2v10.4m-4.1-9l8.2 7.6m-8.2 0l8.2-7.6M277.0 88.4h11.8m-5.9-5.2v10.4m-4.1-9l8.2 7.6m-8.2 0l8.2-7.6M294.7 90.1h11.8m-5.9-5.2v10.4m-4.1-9l8.2 7.6m-8.2 0l8.2-7.6M278.2 98.4h11.8m-5.9-5.2v10.4m-4.1-9l8.2 7.6m-8.2 0l8.2-7.6M281.0 92.2h11.8m-5.9-5.2v10.4m-4.1-9l8.2 7.6m-8.2 0l8.2-7.6M285.2 88.0h11.8m-5.9-5.2v10.4m-4.1-9l8.2 7.6m-8.2 0l8.2-7.6M287.4 92.4h11.8m-5.9-5.2v10.4m-4.1-9l8.2 7.6m-8.2 0l8.2-7.6M284.7 77.2h11.8m-5.9-5.2v10.4m-4.1-9l8.2 7.6m-8.2 0l8.2-7.6M279.2 87.8h11.8m-5.9-5.2v10.4m-4.1-9l8.2 7.6m-8.2 0l8.2-7.6M283.5 86.0h11.8m-5.9-5.2v10.4m-4.1-9l8.2 7.6m-8.2 0l8.2-7.6M290.1 89.6h11.8m-5.9-5.2v10.4m-4.1-9l8.2 7.6m-8.2 0l8.2-7.6M285.5 67.4h11.8m-5.9-5.2v10.4m-4.1-9l8.2 7.6m-8.2 0l8.2-7.6M291.0 96.6h11.8m-5.9-5.2v10.4m-4.1-9l8.2 7.6m-8.2 0l8.2-7.6" stroke="#000000" stroke-width="1.25" fill="none"/><path d="M79.2 105.7h11.8m-5.9-5.2v10.4m-4.1-9l8.2 7.6m-8.2 0l8.2-7.6M85.7 104.2h11.8m-5.9-5.2v10.4m-4.1-9l8.2 7.6m-8.2 0l8.2-7.6M92.3 95.3h11.8m-5.9-5.2v10.4m-4.1-9l8.2 7.6m-8.2 0l8.2-7.6M93.0 110.0h11.8m-5.9-5.2v10.4m-4.1-9l8.2 7.6m-8.2 0l8.2-7.6M96.2 97.3h11.8m-5.9-5.2v10.4m-4.1-9l8.2 7.6m-8.2 0l8.2-7.6M102.9 109.9h11.8m-5.9-5.2v10.4m-4.1-9l8.2 7.6m-8.2 0l8.2-7.6M81.5 115.9h11.8m-5.9-5.2v10.4m-4.1-9l8.2 7.6m-8.2 0l8.2-7.6M101.9 121.3h11.8m-5.9-5.2v10.4m-4.1-9l8.2 7.6m-8.2 0l8.2-7.6M67.3 91.9h11.8m-5.9-5.2v10.4m-4.1-9l8.2 7.6m-8.2 0l8.2-7.6M91.1 94.9h11.8m-5.9-5.2v10.4m-4.1-9l8.2 7.6m-8.2 0l8.2-7.6M99.2 91.6h11.8m-5.9-5.2v10.4m-4.1-9l8.2 7.6m-8.2 0l8.2-7.6M79.4 110.4h11.8m-5.9-5.2v10.4m-4.1-9l8.2 7.6m-8.2 0l8.2-7.6M94.5 91.9h11.8m-5.9-5.2v10.4m-4.1-9l8.2 7.6m-8.2 0l8.2-7.6M83.4 90.2h11.8m-5.9-5.2v10.4m-4.1-9l8.2 7.6m-8.2 0l8.2-7.6M92.6 97.4h11.8m-5.9-5.2v10.4m-4.1-9l8.2 7.6m-8.2 0l8.2-7.6M95.0 95.7h11.8m-5.9-5.2v10.4m-4.1-9l8.2 7.6m-8.2 0l8.2-7.6M79.1 100.7h11.8m-5.9-5.2v10.4m-4.1-9l8.2 7.6m-8.2 0l8.2-7.6M79.3 94.2h11.8m-5.9-5.2v10.4m-4.1-9l8.2 7.6m-8.2 0l8.2-7.6M76.1 109.5h11.8m-5.9-5.2v10.4m-4.1-9l8.2 7.6m-8.2 0l8.2-7.6M88.0 87.5h11.8m-5.9-5.2v10.4m-4.1-9l8.2 7.6m-8.2 0l8.2-7.6M79.3 109.4h11.8m-5.9-5.2v10.4m-4.1-9l8.2 7.6m-8.2 0l8.2-7.6M67.1 99.6h11.8m-5.9-5.2v10.4m-4.1-9l8.2 7.6m-8.2 0l8.2-7.6M93.3 104.3h11.8m-5.9-5.2v10.4m-4.1-9l8.2 7.6m-8.2 0l8.2-7.6M69.5 106.4h11.8m-5.9-5.2v10.4m-4.1-9l8.2 7.6m-8.2 0l8.2-7.6M88.7 100.6h11.8m-5.9-5.2v10.4m-4.1-9l8.2 7.6m-8.2 0l8.2-7.6M66.9 113.5h11.8m-5.9-5.2v10.4m-4.1-9l8.2 7.6m-8.2 0l8.2-7.6M100.2 116.6h11.8m-5.9-5.2v10.4m-4.1-9l8.2 7.6m-8.2 0l8.2-7.6M93.7 108.9h11.8m-5.9-5.2v10.4m-4.1-9l8.2 7.6m-8.2 0l8.2-7.6M62.9 101.1h11.8m-5.9-5.2v10.4m-4.1-9l8.2 7.6m-8.2 0l8.2-7.6M70.8 95.2h11.8m-5.9-5.2v10.4m-4.1-9l8.2 7.6m-8.2 0l8.2-7.6M66.7 88.0h11.8m-5.9-5.2v10.4m-4.1-9l8.2 7.6m-8.2 0l8.2-7.6M99.8 117.2h11.8m-5.9-5.2v10.4m-4.1-9l8.2 7.6m-8.2 0l8.2-7.6M87.1 96.9h11.8m-5.9-5.2v10.4m-4.1-9l8.2 7.6m-8.2 0l8.2-7.6M70.3 102.6h11.8m-5.9-5.2v10.4m-4.1-9l8.2 7.6m-8.2 0l8.2-7.6M84.1 95.2h11.8m-5.9-5.2v10.4m-4.1-9l8.2 7.6m-8.2 0l8.2-7.6M85.1 105.8h11.8m-5.9-5.2v10.4m-4.1-9l8.2 7.6m-8.2 0l8.2-7.6M66.0 101.4h11.8m-5.9-5.2v10.4m-4.1-9l8.2 7.6m-8.2 0l8.2-7.6M97.0 108.4h11.8m-5.9-5.2v10.4m-4.1-9l8.2 7.6m-8.2 0l8.2-7.6M85.6 115.5h11.8m-5.9-5.2v10.4m-4.1-9l8.2 7.6m-8.2 0l8.2-7.6M66.7 82.5h11.8m-5.9-5.2v10.4m-4.1-9l8.2 7.6m-8.2 0l8.2-7.6M85.1 101.9h11.8m-5.9-5.2v10.4m-4.1-9l8.2 7.6m-8.2 0l8.2-7.6M64.7 110.8h11.8m-5.9-5.2v10.4m-4.1-9l8.2 7.6m-8.2 0l8.2-7.6M79.6 107.4h11.8m-5.9-5.2v10.4m-4.1-9l8.2 7.6m-8.2 0l8.2-7.6M76.7 102.0h11.8m-5.9-5.2v10.4m-4.1-9l8.2 7.6m-8.2 0l8.2-7.6M98.1 108.4h11.8m-5.9-5.2v10.4m-4.1-9l8.2 7.6m-8.2 0l8.2-7.6M93.6 102.0h11.8m-5.9-5.2v10.4m-4.1-9l8.2 7.6m-8.2 0l8.2-7.6M69.8 112.7h11.8m-5.9-5.2v10.4m-4.1-9l8.2 7.6m-8.2 0l8.2-7.6M97.9 108.6h11.8m-5.9-5.2v10.4m-4.1-9l8.2 7.6m-8.2 0l8.2-7.6M102.3 108.7h11.8m-5.9-5.2v10.4m-4.1-9l8.2 7.6m-8.2 0l8.2-7.6M80.6 98.5h11.8m-5.9-5.2v10.4m-4.1-9l8.2 7.6m-8.2 0l8.2-7.6M70.3 111.3h11.8m-5.9-5.2v10.4m-4.1-9l8.2 7.6m-8.2 0l8.2-7.6M86.7 112.5h11.8m-5.9-5.2v10.4m-4.1-9l8.2 7.6m-8.2 0l8.2-7.6M86.4 107.4h11.8m-5.9-5.2v10.4m-4.1-9l8.2 7.6m-8.2 0l8.2-7.6M92.0 118.7h11.8m-5.9-5.2v10.4m-4.1-9l8.2 7.6m-8.2 0l8.2-7.6M70.6 104.0h11.8m-5.9-5.2v10.4m-4.1-9l8.2 7.6m-8.2 0l8.2-7.6M94.5 105.8h11.8m-5.9-5.2v10.4m-4.1-9l8.2 7.6m-8.2 0l8.2-7.6M101.5 120.5h11.8m-5.9-5.2v10.4m-4.1-9l8.2 7.6m-8.2 0l8.2-7.6M78.1 84.7h11.8m-5.9-5.2v10.4m-4.1-9l8.2 7.6m-8.2 0l8.2-7.6M102.2 112.0h11.8m-5.9-5.2v10.4m-4.1-9l8.2 7.6m-8.2 0l8.2-7.6M81.3 87.8h11.8m-5.9-5.2v10.4m-4.1-9l8.2 7.6m-8.2 0l8.2-7.6M99.7 96.4h11.8m-5.9-5.2v10.4m-4.1-9l8.2 7.6m-8.2 0l8.2-7.6M95.1 89.2h11.8m-5.9-5.2v10.4m-4.1-9l8.2 7.6m-8.2 0l8.2-7.6M85.9 98.6h11.8m-5.9-5.2v10.4m-4.1-9l8.2 7.6m-8.2 0l8.2-7.6M81.6 102.6h11.8m-5.9-5.2v10.4m-4.1-9l8.2 7.6m-8.2 0l8.2-7.6M75.5 104.0h11.8m-5.9-5.2v10.4m-4.1-9l8.2 7.6m-8.2 0l8.2-7.6M101.6 91.6h11.8m-5.9-5.2v10.4m-4.1-9l8.2 7.6m-8.2 0l8.2-7.6M99.6 120.6h11.8m-5.9-5.2v10.4m-4.1-9l8.2 7.6m-8.2 0l8.2-7.6M100.8 113.2h11.8m-5.9-5.2v10.4m-4.1-9l8.2 7.6m-8.2 0l8.2-7.6M67.4 85.1h11.8m-5.9-5.2v10.4m-4.1-9l8.2 7.6m-8.2 0l8.2-7.6M85.8 107.2h11.8m-5.9-5.2v10.4m-4.1-9l8.2 7.6m-8.2 0l8.2-7.6M64.8 98.1h11.8m-5.9-5.2v10.4m-4.1-9l8.2 7.6m-8.2 0l8.2-7.6M86.5 99.6h11.8m-5.9-5.2v10.4m-4.1-9l8.2 7.6m-8.2 0l8.2-7.6M101.0 92.8h11.8m-5.9-5.2v10.4m-4.1-9l8.2 7.6m-8.2 0l8.2-7.6M82.0 108.4h11.8m-5.9-5.2v10.4m-4.1-9l8.2 7.6m-8.2 0l8.2-7.6M103.6 100.2h11.8m-5.9-5.2v10.4m-4.1-9l8.2 7.6m-8.2 0l8.2-7.6M92.0 110.6h11.8m-5.9-5.2v10.4m-4.1-9l8.2 7.6m-8.2 0l8.2-7.6M74.1 95.1h11.8m-5.9-5.2v10.4m-4.1-9l8.2 7.6m-8.2 0l8.2-7.6M102.9 113.0h11.8m-5.9-5.2v10.4m-4.1-9l8.2 7.6m-8.2 0l8.2-7.6M95.5 114.7h11.8m-5.9-5.2v10.4m-4.1-9l8.2 7.6m-8.2 0l8.2-7.6M98.3 89.6h11.8m-5.9-5.2v10.4m-4.1-9l8.2 7.6m-8.2 0l8.2-7.6M102.7 115.3h11.8m-5.9-5.2v10.4m-4.1-9l8.2 7.6m-8.2 0l8.2-7.6M89.8 100.8h11.8m-5.9-5.2v10.4m-4.1-9l8.2 7.6m-8.2 0l8.2-7.6M81.5 93.8h11.8m-5.9-5.2v10.4m-4.1-9l8.2 7.6m-8.2 0l8.2-7.6M83.6 105.1h11.8m-5.9-5.2v10.4m-4.1-9l8.2 7.6m-8.2 0l8.2-7.6M77.2 112.0h11.8m-5.9-5.2v10.4m-4.1-9l8.2 7.6m-8.2 0l8.2-7.6M97.0 95.9h11.8m-5.9-5.2v10.4m-4.1-9l8.2 7.6m-8.2 0l8.2-7.6M71.7 96.7h11.8m-5.9-5.2v10.4m-4.1-9l8.2 7.6m-8.2 0l8.2-7.6M66.0 90.5h11.8m-5.9-5.2v10.4m-4.1-9l8.2 7.6m-8.2 0l8.2-7.6M81.6 114.1h11.8m-5.9-5.2v10.4m-4.1-9l8.2 7.6m-8.2 0l8.2-7.6M64.6 97.5h11.8m-5.9-5.2v10.4m-4.1-9l8.2 7.6m-8.2 0l8.2-7.6M79.7 113.4h11.8m-5.9-5.2v10.4m-4.1-9l8.2 7.6m-8.2 0l8.2-7.6M98.6 101.1h11.8m-5.9-5.2v10.4m-4.1-9l8.2 7.6m-8.2 0l8.2-7.6M101.4 120.9h11.8m-5.9-5.2v10.4m-4.1-9l8.2 7.6m-8.2 0l8.2-7.6M73.1 85.6h11.8m-5.9-5.2v10.4m-4.1-9l8.2 7.6m-8.2 0l8.2-7.6M62.9 94.4h11.8m-5.9-5.2v10.4m-4.1-9l8.2 7.6m-8.2 0l8.2-7.6M103.0 113.7h11.8m-5.9-5.2v10.4m-4.1-9l8.2 7.6m-8.2 0l8.2-7.6M101.6 97.3h11.8m-5.9-5.2v10.4m-4.1-9l8.2 7.6m-8.2 0l8.2-7.6M95.5 91.3h11.8m-5.9-5.2v10.4m-4.1-9l8.2 7.6m-8.2 0l8.2-7.6M64.3 108.3h11.8m-5.9-5.2v10.4m-4.1-9l8.2 7.6m-8.2 0l8.2-7.6M77.8 88.9h11.8m-5.9-5.2v10.4m-4.1-9l8.2 7.6m-8.2 0l8.2-7.6M74.6 103.7h11.8m-5.9-5.2v10.4m-4.1-9l8.2 7.6m-8.2 0l8.2-7.6M84.0 116.2h11.8m-5.9-5.2v10.4m-4.1-9l8.2 7.6m-8.2 0l8.2-7.6M88.8 91.7h11.8m-5.9-5.2v10.4m-4.1-9l8.2 7.6m-8.2 0l8.2-7.6M101.5 113.2h11.8m-5.9-5.2v10.4m-4.1-9l8.2 7.6m-8.2 0l8.2-7.6M97.7 89.8h11.8m-5.9-5.2v10.4m-4.1-9l8.2 7.6m-8.2 0l8.2-7.6M88.8 98.1h11.8m-5.9-5.2v10.4m-4.1-9l8.2 7.6m-8.2 0l8.2-7.6M84.4 105.4h11.8m-5.9-5.2v10.4m-4.1-9l8.2 7.6m-8.2 0l8.2-7.6M71.5 112.7h11.8m-5.9-5.2v10.4m-4.1-9l8.2 7.6m-8.2 0l8.2-7.6M96.6 93.3h11.8m-5.9-5.2v10.4m-4.1-9l8.2 7.6m-8.2 0l8.2-7.6M63.2 83.5h11.8m-5.9-5.2v10.4m-4.1-9l8.2 7.6m-8.2 0l8.2-7.6M81.7 109.1h11.8m-5.9-5.2v10.4m-4.1-9l8.2 7.6m-8.2 0l8.2-7.6M71.5 102.7h11.8m-5.9-5.2v10.4m-4.1-9l8.2 7.6m-8.2 0l8.2-7.6M72.6 90.7h11.8m-5.9-5.2v10.4m-4.1-9l8.2 7.6m-8.2 0l8.2-7.6M96.7 102.3h11.8m-5.9-5.2v10.4m-4.1-9l8.2 7.6m-8.2 0l8.2-7.6M77.6 104.0h11.8m-5.9-5.2v10.4m-4.1-9l8.2 7.6m-8.2 0l8.2-7.6M71.7 103.8h11.8m-5.9-5.2v10.4m-4.1-9l8.2 7.6m-8.2 0l8.2-7.6M92.0 94.6h11.8m-5.9-5.2v10.4m-4.1-9l8.2 7.6m-8.2 0l8.2-7.6M103.7 122.2h11.8m-5.9-5.2v10.4m-4.1-9l8.2 7.6m-8.2 0l8.2-7.6M84.9 116.4h11.8m-5.9-5.2v10.4m-4.1-9l8.2 7.6m-8.2 0l8.2-7.6M72.2 98.6h11.8m-5.9-5.2v10.4m-4.1-9l8.2 7.6m-8.2 0l8.2-7.6M73.2 113.0h11.8m-5.9-5.2v10.4m-4.1-9l8.2 7.6m-8.2 0l8.2-7.6M76.5 90.8h11.8m-5.9-5.2v10.4m-4.1-9l8.2 7.6m-8.2 0l8.2-7.6M64.2 96.7h11.8m-5.9-5.2v10.4m-4.1-9l8.2 7.6m-8.2 0l8.2-7.6M63.4 84.9h11.8m-5.9-5.2v10.4m-4.1-9l8.2 7.6m-8.2 0l8.2-7.6M94.6 105.4h11.8m-5.9-5.2v10.4m-4.1-9l8.2 7.6m-8.2 0l8.2-7.6M95.1 107.4h11.8m-5.9-5.2v10.4m-4.1-9l8.2 7.6m-8.2 0l8.2-7.6M77.7 107.7h11.8m-5.9-5.2v10.4m-4.1-9l8.2 7.6m-8.2 0l8.2-7.6M86.3 91.3h11.8m-5.9-5.2v10.4m-4.1-9l8.2 7.6m-8.2 0l8.2-7.6M94.0 106.0h11.8m-5.9-5.2v10.4m-4.1-9l8.2 7.6m-8.2 0l8.2-7.6M64.2 99.7h11.8m-5.9-5.2v10.4m-4.1-9l8.2 7.6m-8.2 0l8.2-7.6M71.2 92.7h11.8m-5.9-5.2v10.4m-4.1-9l8.2 7.6m-8.2 0l8.2-7.6M68.6 96.2h11.8m-5.9-5.2v10.4m-4.1-9l8.2 7.6m-8.2 0l8.2-7.6M95.7 112.9h11.8m-5.9-5.2v10.4m-4.1-9l8.2 7.6m-8.2 0l8.2-7.6M67.8 90.7h11.8m-5.9-5.2v10.4m-4.1-9l8.2 7.6m-8.2 0l8.2-7.6M77.9 109.6h11.8m-5.9-5.2v10.4m-4.1-9l8.2 7.6m-8.2 0l8.2-7.6M94.3 97.6h11.8m-5.9-5.2v10.4m-4.1-9l8.2 7.6m-8.2 0l8.2-7.6M94.6 99.0h11.8m-5.9-5.2v10.4m-4.1-9l8.2 7.6m-8.2 0l8.2-7.6M71.3 92.3h11.8m-5.9-5.2v10.4m-4.1-9l8.2 7.6m-8.2 0l8.2-7.6M91.5 117.2h11.8m-5.9-5.2v10.4m-4.1-9l8.2 7.6m-8.2 0l8.2-7.6M92.9 118.9h11.8m-5.9-5.2v10.4m-4.1-9l8.2 7.6m-8.2 0l8.2-7.6M69.3 102.7h11.8m-5.9-5.2v10.4m-4.1-9l8.2 7.6m-8.2 0l8.2-7.6M83.5 101.8h11.8m-5.9-5.2v10.4m-4.1-9l8.2 7.6m-8.2 0l8.2-7.6M69.8 105.9h11.8m-5.9-5.2v10.4m-4.1-9l8.2 7.6m-8.2 0l8.2-7.6M103.7 120.7h11.8m-5.9-5.2v10.4m-4.1-9l8.2 7.6m-8.2 0l8.2-7.6M74.0 114.6h11.8m-5.9-5.2v10.4m-4.1-9l8.2 7.6m-8.2 0l8.2-7.6M72.9 93.4h11.8m-5.9-5.2v10.4m-4.1-9l8.2 7.6m-8.2 0l8.2-7.6M84.6 115.6h11.8m-5.9-5.2v10.4m-4.1-9l8.2 7.6m-8.2 0l8.2-7.6M97.7 109.6h11.8m-5.9-5.2v10.4m-4.1-9l8.2 7.6m-8.2 0l8.2-7.6M84.5 106.7h11.8m-5.9-5.2v10.4m-4.1-9l8.2 7.6m-8.2 0l8.2-7.6M62.9 101.2h11.8m-5.9-5.2v10.4m-4.1-9l8.2 7.6m-8.2 0l8.2-7.6M83.2 101.2h11.8m-5.9-5.2v10.4m-4.1-9l8.2 7.6m-8.2 0l8.2-7.6M87.8 112.5h11.8m-5.9-5.2v10.4m-4.1-9l8.2 7.6m-8.2 0l8.2-7.6M69.3 91.3h11.8m-5.9-5.2v10.4m-4.1-9l8.2 7.6m-8.2 0l8.2-7.6M63.0 104.0h11.8m-5.9-5.2v10.4m-4.1-9l8.2 7.6m-8.2 0l8.2-7.6M94.1 105.6h11.8m-5.9-5.2v10.4m-4.1-9l8.2 7.6m-8.2 0l8.2-7.6M79.7 95.5h11.8m-5.9-5.2v10.4m-4.1-9l8.2 7.6m-8.2 0l8.2-7.6M71.1 95.0h11.8m-5.9-5.2v10.4m-4.1-9l8.2 7.6m-8.2 0l8.2-7.6M85.0 118.3h11.8m-5.9-5.2v10.4m-4.1-9l8.2 7.6m-8.2 0l8.2-7.6M93.9 96.0h11.8m-5.9-5.2v10.4m-4.1-9l8.2 7.6m-8.2 0l8.2-7.6M78.8 110.1h11.8m-5.9-5.2v10.4m-4.1-9l8.2 7.6m-8.2 0l8.2-7.6M68.7 91.7h11.8m-5.9-5.2v10.4m-4.1-9l8.2 7.6m-8.2 0l8.2-7.6M101.8 111.5h11.8m-5.9-5.2v10.4m-4.1-9l8.2 7.6m-8.2 0l8.2-7.6M84.9 106.7h11.8m-5.9-5.2v10.4m-4.1-9l8.2 7.6m-8.2 0l8.2-7.6M79.5 108.4h11.8m-5.9-5.2v10.4m-4.1-9l8.2 7.6m-8.2 0l8.2-7.6M63.6 98.0h11.8m-5.9-5.2v10.4m-4.1-9l8.2 7.6m-8.2 0l8.2-7.6M102.2 124.1h11.8m-5.9-5.2v10.4m-4.1-9l8.2 7.6m-8.2 0l8.2-7.6M67.6 95.6h11.8m-5.9-5.2v10.4m-4.1-9l8.2 7.6m-8.2 0l8.2-7.6M87.9 107.6h11.8m-5.9-5.2v10.4m-4.1-9l8.2 7.6m-8.2 0l8.2-7.6M100.9 114.7h11.8m-5.9-5.2v10.4m-4.1-9l8.2 7.6m-8.2 0l8.2-7.6M73.9 107.1h11.8m-5.9-5.2v10.4m-4.1-9l8.2 7.6m-8.2 0l8.2-7.6M71.9 118.9h11.8m-5.9-5.2v10.4m-4.1-9l8.2 7.6m-8.2 0l8.2-7.6M100.9 106.9h11.8m-5.9-5.2v10.4m-4.1-9l8.2 7.6m-8.2 0l8.2-7.6M98.4 121.0h11.8m-5.9-5.2v10.4m-4.1-9l8.2 7.6m-8.2 0l8.2-7.6M98.1 116.4h11.8m-5.9-5.2v10.4m-4.1-9l8.2 7.6m-8.2 0l8.2-7.6M99.6 90.6h11.8m-5.9-5.2v10.4m-4.1-9l8.2 7.6m-8.2 0l8.2-7.6M81.8 106.0h11.8m-5.9-5.2v10.4m-4.1-9l8.2 7.6m-8.2 0l8.2-7.6M99.8 111.2h11.8m-5.9-5.2v10.4m-4.1-9l8.2 7.6m-8.2 0l8.2-7.6M87.7 102.1h11.8m-5.9-5.2v10.4m-4.1-9l8.2 7.6m-8.2 0l8.2-7.6M102.4 111.7h11.8m-5.9-5.2v10.4m-4.1-9l8.2 7.6m-8.2 0l8.2-7.6M91.1 87.6h11.8m-5.9-5.2v10.4m-4.1-9l8.2 7.6m-8.2 0l8.2-7.6M91.1 105.2h11.8m-5.9-5.2v10.4m-4.1-9l8.2 7.6m-8.2 0l8.2-7.6M100.9 111.6h11.8m-5.9-5.2v10.4m-4.1-9l8.2 7.6m-8.2 0l8.2-7.6M78.5 101.8h11.8m-5.9-5.2v10.4m-4.1-9l8.2 7.6m-8.2 0l8.2-7.6M82.2 90.9h11.8m-5.9-5.2v10.4m-4.1-9l8.2 7.6m-8.2 0l8.2-7.6M75.5 114.1h11.8m-5.9-5.2v10.4m-4.1-9l8.2 7.6m-8.2 0l8.2-7.6M64.9 101.4h11.8m-5.9-5.2v10.4m-4.1-9l8.2 7.6m-8.2 0l8.2-7.6M83.9 90.1h11.8m-5.9-5.2v10.4m-4.1-9l8.2 7.6m-8.2 0l8.2-7.6M95.8 108.9h11.8m-5.9-5.2v10.4m-4.1-9l8.2 7.6m-8.2 0l8.2-7.6M66.5 82.9h11.8m-5.9-5.2v10.4m-4.1-9l8.2 7.6m-8.2 0l8.2-7.6M80.3 114.0h11.8m-5.9-5.2v10.4m-4.1-9l8.2 7.6m-8.2 0l8.2-7.6M86.9 88.2h11.8m-5.9-5.2v10.4m-4.1-9l8.2 7.6m-8.2 0l8.2-7.6M91.1 100.0h11.8m-5.9-5.2v10.4m-4.1-9l8.2 7.6m-8.2 0l8.2-7.6M77.1 100.3h11.8m-5.9-5.2v10.4m-4.1-9l8.2 7.6m-8.2 0l8.2-7.6M86.5 100.6h11.8m-5.9-5.2v10.4m-4.1-9l8.2 7.6m-8.2 0l8.2-7.6M66.4 98.3h11.8m-5.9-5.2v10.4m-4.1-9l8.2 7.6m-8.2 0l8.2-7.6M98.5 94.4h11.8m-5.9-5.2v10.4m-4.1-9l8.2 7.6m-8.2 0l8.2-7.6M62.0 102.5h11.8m-5.9-5.2v10.4m-4.1-9l8.2 7.6m-8.2 0l8.2-7.6M64.0 100.1h11.8m-5.9-5.2v10.4m-4.1-9l8.2 7.6m-8.2 0l8.2-7.6M90.1 99.9h11.8m-5.9-5.2v10.4m-4.1-9l8.2 7.6m-8.2 0l8.2-7.6M98.6 108.7h11.8m-5.9-5.2v10.4m-4.1-9l8.2 7.6m-8.2 0l8.2-7.6M95.9 121.9h11.8m-5.9-5.2v10.4m-4.1-9l8.2 7.6m-8.2 0l8.2-7.6M66.8 83.0h11.8m-5.9-5.2v10.4m-4.1-9l8.2 7.6m-8.2 0l8.2-7.6M77.0 104.8h11.8m-5.9-5.2v10.4m-4.1-9l8.2 7.6m-8.2 0l8.2-7.6M82.3 105.3h11.8m-5.9-5.2v10.4m-4.1-9l8.2 7.6m-8.2 0l8.2-7.6M96.9 91.6h11.8m-5.9-5.2v10.4m-4.1-9l8.2 7.6m-8.2 0l8.2-7.6M88.3 112.8h11.8m-5.9-5.2v10.4m-4.1-9l8.2 7.6m-8.2 0l8.2-7.6M94.7 122.4h11.8m-5.9-5.2v10.4m-4.1-9l8.2 7.6m-8.2 0l8.2-7.6M95.9 92.5h11.8m-5.9-5.2v10.4m-4.1-9l8.2 7.6m-8.2 0l8.2-7.6M104.2 117.3h11.8m-5.9-5.2v10.4m-4.1-9l8.2 7.6m-8.2 0l8.2-7.6M91.7 102.0h11.8m-5.9-5.2v10.4m-4.1-9l8.2 7.6m-8.2 0l8.2-7.6M76.6 95.0h11.8m-5.9-5.2v10.4m-4.1-9l8.2 7.6m-8.2 0l8.2-7.6M102.6 119.4h11.8m-5.9-5.2v10.4m-4.1-9l8.2 7.6m-8.2 0l8.2-7.6M61.1 83.1h11.8m-5.9-5.2v10.4m-4.1-9l8.2 7.6m-8.2 0l8.2-7.6M88.2 88.9h11.8m-5.9-5.2v10.4m-4.1-9l8.2 7.6m-8.2 0l8.2-7.6M66.0 87.0h11.8m-5.9-5.2v10.4m-4.1-9l8.2 7.6m-8.2 0l8.2-7.6M66.3 102.3h11.8m-5.9-5.2v10.4m-4.1-9l8.2 7.6m-8.2 0l8.2-7.6M84.6 116.8h11.8m-5.9-5.2v10.4m-4.1-9l8.2 7.6m-8.2 0l8.2-7.6M98.7 87.5h11.8m-5.9-5.2v10.4m-4.1-9l8.2 7.6m-8.2 0l8.2-7.6M60.1 87.3h11.8m-5.9-5.2v10.4m-4.1-9l8.2 7.6m-8.2 0l8.2-7.6M93.3 97.9h11.8m-5.9-5.2v10.4m-4.1-9l8.2 7.6m-8.2 0l8.2-7.6M68.5 68.6h11.8m-5.9-5.2v10.4m-4.1-9l8.2 7.6m-8.2 0l8.2-7.6M62.0 75.8h11.8m-5.9-5.2v10.4m-4.1-9l8.2 7.6m-8.2 0l8.2-7.6" stroke="#0072bd" stroke-width="1.25" fill="none"/><path d="M448.8 154.5h11.8m-5.9-5.2v10.4m-4.1-9l8.2 7.6m-8.2 0l8.2-7.6M493.6 222.4h11.8m-5.9-5.2v10.4m-4.1-9l8.2 7.6m-8.2 0l8.2-7.6M422.8 174.0h11.8m-5.9-5.2v10.4m-4.1-9l8.2 7.6m-8.2 0l8.2-7.6M429.2 162.0h11.8m-5.9-5.2v10.4m-4.1-9l8.2 7.6m-8.2 0l8.2-7.6M466.2 164.7h11.8m-5.9-5.2v10.4m-4.1-9l8.2 7.6m-8.2 0l8.2-7.6M501.2 210.7h11.8m-5.9-5.2v10.4m-4.1-9l8.2 7.6m-8.2 0l8.2-7.6M486.8 217.6h11.8m-5.9-5.2v10.4m-4.1-9l8.2 7.6m-8.2 0l8.2-7.6M422.8 179.7h11.8m-5.9-5.2v10.4m-4.1-9l8.2 7.6m-8.2 0l8.2-7.6M473.2 201.2h11.8m-5.9-5.2v10.4m-4.1-9l8.2 7.6m-8.2 0l8.2-7.6M505.2 194.3h11.8m-5.9-5.2v10.4m-4.1-9l8.2 7.6m-8.2 0l8.2-7.6M523.6 231.9h11.8m-5.9-5.2v10.4m-4.1-9l8.2 7.6m-8.2 0l8.2-7.6M480.3 172.8h11.8m-5.9-5.2v10.4m-4.1-9l8.2 7.6m-8.2 0l8.2-7.6M423.5 182.8h11.8m-5.9-5.2v10.4m-4.1-9l8.2 7.6m-8.2 0l8.2-7.6M475.9 171.2h11.8m-5.9-5.2v10.4m-4.1-9l8.2 7.6m-8.2 0l8.2-7.6M433.3 171.3h11.8m-5.9-5.2v10.4m-4.1-9l8.2 7.6m-8.2 0l8.2-7.6M491.1 207.4h11.8m-5.9-5.2v10.4m-4.1-9l8.2 7.6m-8.2 0l8.2-7.6M551.0 228.2h11.8m-5.9-5.2v10.4m-4.1-9l8.2 7.6m-8.2 0l8.2-7.6M545.4 227.8h11.8m-5.9-5.2v10.4m-4.1-9l8.2 7.6m-8.2 0l8.2-7.6M479.8 213.8h11.8m-5.9-5.2v10.4m-4.1-9l8.2 7.6m-8.2 0l8.2-7.6M423.5 150.1h11.8m-5.9-5.2v10.4m-4.1-9l8.2 7.6m-8.2 0l8.2-7.6M504.8 202.5h11.8m-5.9-5.2v10.4m-4.1-9l8.2 7.6m-8.2 0l8.2-7.6M461.9 166.7h11.8m-5.9-5.2v10.4m-4.1-9l8.2 7.6m-8.2 0l8.2-7.6M452.6 154.6h11.8m-5.9-5.2v10.4m-4.1-9l8.2 7.6m-8.2 0l8.2-7.6M536.3 227.6h11.8m-5.9-5.2v10.4m-4.1-9l8.2 7.6m-8.2 0l8.2-7.6M502.5 207.4h11.8m-5.9-5.2v10.4m-4.1-9l8.2 7.6m-8.2 0l8.2-7.6M455.5 199.1h11.8m-5.9-5.2v10.4m-4.1-9l8.2 7.6m-8.2 0l8.2-7.6M532.5 212.4h11.8m-5.9-5.2v10.4m-4.1-9l8.2 7.6m-8.2 0l8.2-7.6M479.8 171.8h11.8m-5.9-5.2v10.4m-4.1-9l8.2 7.6m-8.2 0l8.2-7.6M473.7 182.9h11.8m-5.9-5.2v10.4m-4.1-9l8.2 7.6m-8.2 0l8.2-7.6M487.4 185.3h11.8m-5.9-5.2v10.4m-4.1-9l8.2 7.6m-8.2 0l8.2-7.6M489.5 200.7h11.8m-5.9-5.2v10.4m-4.1-9l8.2 7.6m-8.2 0l8.2-7.6M497.5 189.0h11.8m-5.9-5.2v10.4m-4.1-9l8.2 7.6m-8.2 0l8.2-7.6M436.6 169.4h11.8m-5.9-5.2v10.4m-4.1-9l8.2 7.6m-8.2 0l8.2-7.6M521.0 229.2h11.8m-5.9-5.2v10.4m-4.1-9l8.2 7.6m-8.2 0l8.2-7.6M449.5 173.7h11.8m-5.9-5.2v10.4m-4.1-9l8.2 7.6m-8.2 0l8.2-7.6M422.3 161.8h11.8m-5.9-5.2v10.4m-4.1-9l8.2 7.6m-8.2 0l8.2-7.6M538.4 209.8h11.8m-5.9-5.2v10.4m-4.1-9l8.2 7.6m-8.2 0l8.2-7.6M458.4 181.2h11.8m-5.9-5.2v10.4m-4.1-9l8.2 7.6m-8.2 0l8.2-7.6M477.8 197.8h11.8m-5.9-5.2v10.4m-4.1-9l8.2 7.6m-8.2 0l8.2-7.6M441.9 184.1h11.8m-5.9-5.2v10.4m-4.1-9l8.2 7.6m-8.2 0l8.2-7.6M458.8 194.8h11.8m-5.9-5.2v10.4m-4.1-9l8.2 7.6m-8.2 0l8.2-7.6M451.2 188.7h11.8m-5.9-5.2v10.4m-4.1-9l8.2 7.6m-8.2 0l8.2-7.6M456.9 184.8h11.8m-5.9-5.2v10.4m-4.1-9l8.2 7.6m-8.2 0l8.2-7.6M458.3 182.7h11.8m-5.9-5.2v10.4m-4.1-9l8.2 7.6m-8.2 0l8.2-7.6M517.4 228.9h11.8m-5.9-5.2v10.4m-4.1-9l8.2 7.6m-8.2 0l8.2-7.6M509.0 212.7h11.8m-5.9-5.2v10.4m-4.1-9l8.2 7.6m-8.2 0l8.2-7.6M541.5 241.1h11.8m-5.9-5.2v10.4m-4.1-9l8.2 7.6m-8.2 0l8.2-7.6M410.8 142.5h11.8m-5.9-5.2v10.4m-4.1-9l8.2 7.6m-8.2 0l8.2-7.6M455.4 192.2h11.8m-5.9-5.2v10.4m-4.1-9l8.2 7.6m-8.2 0l8.2-7.6M451.5 160.0h11.8m-5.9-5.2v10.4m-4.1-9l8.2 7.6m-8.2 0l8.2-7.6M418.9 162.2h11.8m-5.9-5.2v10.4m-4.1-9l8.2 7.6m-8.2 0l8.2-7.6M501.2 226.2h11.8m-5.9-5.2v10.4m-4.1-9l8.2 7.6m-8.2 0l8.2-7.6M514.1 228.6h11.8m-5.9-5.2v10.4m-4.1-9l8.2 7.6m-8.2 0l8.2-7.6M471.4 200.1h11.8m-5.9-5.2v10.4m-4.1-9l8.2 7.6m-8.2 0l8.2-7.6M495.7 190.7h11.8m-5.9-5.2v10.4m-4.1-9l8.2 7.6m-8.2 0l8.2-7.6M492.2 200.3h11.8m-5.9-5.2v10.4m-4.1-9l8.2 7.6m-8.2 0l8.2-7.6M528.8 241.0h11.8m-5.9-5.2v10.4m-4.1-9l8.2 7.6m-8.2 0l8.2-7.6M513.6 233.8h11.8m-5.9-5.2v10.4m-4.1-9l8.2 7.6m-8.2 0l8.2-7.6M445.1 171.4h11.8m-5.9-5.2v10.4m-4.1-9l8.2 7.6m-8.2 0l8.2-7.6M499.6 225.2h11.8m-5.9-5.2v10.4m-4.1-9l8.2 7.6m-8.2 0l8.2-7.6M430.8 176.3h11.8m-5.9-5.2v10.4m-4.1-9l8.2 7.6m-8.2 0l8.2-7.6M417.7 170.0h11.8m-5.9-5.2v10.4m-4.1-9l8.2 7.6m-8.2 0l8.2-7.6M508.6 192.9h11.8m-5.9-5.2v10.4m-4.1-9l8.2 7.6m-8.2 0l8.2-7.6M446.1 177.9h11.8m-5.9-5.2v10.4m-4.1-9l8.2 7.6m-8.2 0l8.2-7.6M489.7 224.3h11.8m-5.9-5.2v10.4m-4.1-9l8.2 7.6m-8.2 0l8.2-7.6M470.1 181.0h11.8m-5.9-5.2v10.4m-4.1-9l8.2 7.6m-8.2 0l8.2-7.6M497.8 221.7h11.8m-5.9-5.2v10.4m-4.1-9l8.2 7.6m-8.2 0l8.2-7.6M502.1 185.2h11.8m-5.9-5.2v10.4m-4.1-9l8.2 7.6m-8.2 0l8.2-7.6M446.8 159.8h11.8m-5.9-5.2v10.4m-4.1-9l8.2 7.6m-8.2 0l8.2-7.6M542.5 236.9h11.8m-5.9-5.2v10.4m-4.1-9l8.2 7.6m-8.2 0l8.2-7.6M507.6 230.6h11.8m-5.9-5.2v10.4m-4.1-9l8.2 7.6m-8.2 0l8.2-7.6M445.4 174.3h11.8m-5.9-5.2v10.4m-4.1-9l8.2 7.6m-8.2 0l8.2-7.6M467.4 207.6h11.8m-5.9-5.2v10.4m-4.1-9l8.2 7.6m-8.2 0l8.2-7.6M421.2 160.2h11.8m-5.9-5.2v10.4m-4.1-9l8.2 7.6m-8.2 0l8.2-7.6M519.1 220.3h11.8m-5.9-5.2v10.4m-4.1-9l8.2 7.6m-8.2 0l8.2-7.6M437.8 185.0h11.8m-5.9-5.2v10.4m-4.1-9l8.2 7.6m-8.2 0l8.2-7.6M546.3 239.6h11.8m-5.9-5.2v10.4m-4.1-9l8.2 7.6m-8.2 0l8.2-7.6M488.3 174.4h11.8m-5.9-5.2v10.4m-4.1-9l8.2 7.6m-8.2 0l8.2-7.6M511.0 216.5h11.8m-5.9-5.2v10.4m-4.1-9l8.2 7.6m-8.2 0l8.2-7.6M443.7 149.0h11.8m-5.9-5.2v10.4m-4.1-9l8.2 7.6m-8.2 0l8.2-7.6M480.9 218.2h11.8m-5.9-5.2v10.4m-4.1-9l8.2 7.6m-8.2 0l8.2-7.6M478.9 198.9h11.8m-5.9-5.2v10.4m-4.1-9l8.2 7.6m-8.2 0l8.2-7.6M448.8 175.8h11.8m-5.9-5.2v10.4m-4.1-9l8.2 7.6m-8.2 0l8.2-7.6M506.0 200.6h11.8m-5.9-5.2v10.4m-4.1-9l8.2 7.6m-8.2 0l8.2-7.6M531.5 224.8h11.8m-5.9-5.2v10.4m-4.1-9l8.2 7.6m-8.2 0l8.2-7.6M546.1 240.5h11.8m-5.9-5.2v10.4m-4.1-9l8.2 7.6m-8.2 0l8.2-7.6M431.1 184.0h11.8m-5.9-5.2v10.4m-4.1-9l8.2 7.6m-8.2 0l8.2-7.6M485.3 218.7h11.8m-5.9-5.2v10.4m-4.1-9l8.2 7.6m-8.2 0l8.2-7.6M497.0 220.5h11.8m-5.9-5.2v10.4m-4.1-9l8.2 7.6m-8.2 0l8.2-7.6M502.9 214.1h11.8m-5.9-5.2v10.4m-4.1-9l8.2 7.6m-8.2 0l8.2-7.6M502.7 220.5h11.8m-5.9-5.2v10.4m-4.1-9l8.2 7.6m-8.2 0l8.2-7.6M470.6 200.7h11.8m-5.9-5.2v10.4m-4.1-9l8.2 7.6m-8.2 0l8.2-7.6M492.6 187.8h11.8m-5.9-5.2v10.4m-4.1-9l8.2 7.6m-8.2 0l8.2-7.6M438.4 184.2h11.8m-5.9-5.2v10.4m-4.1-9l8.2 7.6m-8.2 0l8.2-7.6M484.1 200.5h11.8m-5.9-5.2v10.4m-4.1-9l8.2 7.6m-8.2 0l8.2-7.6M539.8 219.5h11.8m-5.9-5.2v10.4m-4.1-9l8.2 7.6m-8.2 0l8.2-7.6M458.8 185.9h11.8m-5.9-5.2v10.4m-4.1-9l8.2 7.6m-8.2 0l8.2-7.6M432.5 171.9h11.8m-5.9-5.2v10.4m-4.1-9l8.2 7.6m-8.2 0l8.2-7.6M517.5 212.4h11.8m-5.9-5.2v10.4m-4.1-9l8.2 7.6m-8.2 0l8.2-7.6M510.3 190.4h11.8m-5.9-5.2v10.4m-4.1-9l8.2 7.6m-8.2 0l8.2-7.6M517.7 237.2h11.8m-5.9-5.2v10.4m-4.1-9l8.2 7.6m-8.2 0l8.2-7.6M498.7 198.6h11.8m-5.9-5.2v10.4m-4.1-9l8.2 7.6m-8.2 0l8.2-7.6M503.6 194.1h11.8m-5.9-5.2v10.4m-4.1-9l8.2 7.6m-8.2 0l8.2-7.6M541.5 243.4h11.8m-5.9-5.2v10.4m-4.1-9l8.2 7.6m-8.2 0l8.2-7.6M454.1 164.9h11.8m-5.9-5.2v10.4m-4.1-9l8.2 7.6m-8.2 0l8.2-7.6M551.3 233.0h11.8m-5.9-5.2v10.4m-4.1-9l8.2 7.6m-8.2 0l8.2-7.6M450.1 177.6h11.8m-5.9-5.2v10.4m-4.1-9l8.2 7.6m-8.2 0l8.2-7.6M458.4 160.5h11.8m-5.9-5.2v10.4m-4.1-9l8.2 7.6m-8.2 0l8.2-7.6M526.8 227.8h11.8m-5.9-5.2v10.4m-4.1-9l8.2 7.6m-8.2 0l8.2-7.6M470.7 187.8h11.8m-5.9-5.2v10.4m-4.1-9l8.2 7.6m-8.2 0l8.2-7.6M520.2 234.1h11.8m-5.9-5.2v10.4m-4.1-9l8.2 7.6m-8.2 0l8.2-7.6M427.5 165.0h11.8m-5.9-5.2v10.4m-4.1-9l8.2 7.6m-8.2 0l8.2-7.6M499.9 217.2h11.8m-5.9-5.2v10.4m-4.1-9l8.2 7.6m-8.2 0l8.2-7.6M469.3 190.0h11.8m-5.9-5.2v10.4m-4.1-9l8.2 7.6m-8.2 0l8.2-7.6M506.4 229.4h11.8m-5.9-5.2v10.4m-4.1-9l8.2 7.6m-8.2 0l8.2-7.6M507.2 210.6h11.8m-5.9-5.2v10.4m-4.1-9l8.2 7.6m-8.2 0l8.2-7.6M534.8 227.2h11.8m-5.9-5.2v10.4m-4.1-9l8.2 7.6m-8.2 0l8.2-7.6M434.8 185.5h11.8m-5.9-5.2v10.4m-4.1-9l8.2 7.6m-8.2 0l8.2-7.6M475.7 194.8h11.8m-5.9-5.2v10.4m-4.1-9l8.2 7.6m-8.2 0l8.2-7.6M526.0 208.5h11.8m-5.9-5.2v10.4m-4.1-9l8.2 7.6m-8.2 0l8.2-7.6M476.9 186.5h11.8m-5.9-5.2v10.4m-4.1-9l8.2 7.6m-8.2 0l8.2-7.6M500.0 215.7h11.8m-5.9-5.2v10.4m-4.1-9l8.2 7.6m-8.2 0l8.2-7.6M455.0 175.3h11.8m-5.9-5.2v10.4m-4.1-9l8.2 7.6m-8.2 0l8.2-7.6M473.6 203.7h11.8m-5.9-5.2v10.4m-4.1-9l8.2 7.6m-8.2 0l8.2-7.6M536.0 217.6h11.8m-5.9-5.2v10.4m-4.1-9l8.2 7.6m-8.2 0l8.2-7.6M508.1 196.0h11.8m-5.9-5.2v10.4m-4.1-9l8.2 7.6m-8.2 0l8.2-7.6M507.7 193.4h11.8m-5.9-5.2v10.4m-4.1-9l8.2 7.6m-8.2 0l8.2-7.6M537.8 238.0h11.8m-5.9-5.2v10.4m-4.1-9l8.2 7.6m-8.2 0l8.2-7.6M514.1 233.7h11.8m-5.9-5.2v10.4m-4.1-9l8.2 7.6m-8.2 0l8.2-7.6M538.3 226.2h11.8m-5.9-5.2v10.4m-4.1-9l8.2 7.6m-8.2 0l8.2-7.6M465.9 172.2h11.8m-5.9-5.2v10.4m-4.1-9l8.2 7.6m-8.2 0l8.2-7.6M498.3 230.3h11.8m-5.9-5.2v10.4m-4.1-9l8.2 7.6m-8.2 0l8.2-7.6M505.2 205.7h11.8m-5.9-5.2v10.4m-4.1-9l8.2 7.6m-8.2 0l8.2-7.6M439.2 158.1h11.8m-5.9-5.2v10.4m-4.1-9l8.2 7.6m-8.2 0l8.2-7.6M473.8 171.2h11.8m-5.9-5.2v10.4m-4.1-9l8.2 7.6m-8.2 0l8.2-7.6M420.5 148.8h11.8m-5.9-5.2v10.4m-4.1-9l8.2 7.6m-8.2 0l8.2-7.6M490.4 203.1h11.8m-5.9-5.2v10.4m-4.1-9l8.2 7.6m-8.2 0l8.2-7.6M532.0 207.6h11.8m-5.9-5.2v10.4m-4.1-9l8.2 7.6m-8.2 0l8.2-7.6M535.1 228.0h11.8m-5.9-5.2v10.4m-4.1-9l8.2 7.6m-8.2 0l8.2-7.6M500.0 225.9h11.8m-5.9-5.2v10.4m-4.1-9l8.2 7.6m-8.2 0l8.2-7.6M540.6 233.4h11.8m-5.9-5.2v10.4m-4.1-9l8.2 7.6m-8.2 0l8.2-7.6M537.8 211.9h11.8m-5.9-5.2v10.4m-4.1-9l8.2 7.6m-8.2 0l8.2-7.6M475.0 170.7h11.8m-5.9-5.2v10.4m-4.1-9l8.2 7.6m-8.2 0l8.2-7.6M450.5 197.0h11.8m-5.9-5.2v10.4m-4.1-9l8.2 7.6m-8.2 0l8.2-7.6M413.9 159.3h11.8m-5.9-5.2v10.4m-4.1-9l8.2 7.6m-8.2 0l8.2-7.6M439.4 146.3h11.8m-5.9-5.2v10.4m-4.1-9l8.2 7.6m-8.2 0l8.2-7.6M498.0 195.1h11.8m-5.9-5.2v10.4m-4.1-9l8.2 7.6m-8.2 0l8.2-7.6M469.1 176.4h11.8m-5.9-5.2v10.4m-4.1-9l8.2 7.6m-8.2 0l8.2-7.6M483.9 175.4h11.8m-5.9-5.2v10.4m-4.1-9l8.2 7.6m-8.2 0l8.2-7.6M441.9 158.9h11.8m-5.9-5.2v10.4m-4.1-9l8.2 7.6m-8.2 0l8.2-7.6M472.2 174.2h11.8m-5.9-5.2v10.4m-4.1-9l8.2 7.6m-8.2 0l8.2-7.6M484.1 205.9h11.8m-5.9-5.2v10.4m-4.1-9l8.2 7.6m-8.2 0l8.2-7.6M536.4 214.1h11.8m-5.9-5.2v10.4m-4.1-9l8.2 7.6m-8.2 0l8.2-7.6M493.3 181.8h11.8m-5.9-5.2v10.4m-4.1-9l8.2 7.6m-8.2 0l8.2-7.6M501.6 199.3h11.8m-5.9-5.2v10.4m-4.1-9l8.2 7.6m-8.2 0l8.2-7.6M470.5 194.8h11.8m-5.9-5.2v10.4m-4.1-9l8.2 7.6m-8.2 0l8.2-7.6M469.7 185.9h11.8m-5.9-5.2v10.4m-4.1-9l8.2 7.6m-8.2 0l8.2-7.6M442.2 155.1h11.8m-5.9-5.2v10.4m-4.1-9l8.2 7.6m-8.2 0l8.2-7.6M463.1 196.5h11.8m-5.9-5.2v10.4m-4.1-9l8.2 7.6m-8.2 0l8.2-7.6M422.9 168.9h11.8m-5.9-5.2v10.4m-4.1-9l8.2 7.6m-8.2 0l8.2-7.6M488.4 180.1h11.8m-5.9-5.2v10.4m-4.1-9l8.2 7.6m-8.2 0l8.2-7.6M528.5 208.9h11.8m-5.9-5.2v10.4m-4.1-9l8.2 7.6m-8.2 0l8.2-7.6M431.8 180.3h11.8m-5.9-5.2v10.4m-4.1-9l8.2 7.6m-8.2 0l8.2-7.6M460.5 200.2h11.8m-5.9-5.2v10.4m-4.1-9l8.2 7.6m-8.2 0l8.2-7.6M451.6 185.3h11.8m-5.9-5.2v10.4m-4.1-9l8.2 7.6m-8.2 0l8.2-7.6M510.5 228.8h11.8m-5.9-5.2v10.4m-4.1-9l8.2 7.6m-8.2 0l8.2-7.6M471.5 185.2h11.8m-5.9-5.2v10.4m-4.1-9l8.2 7.6m-8.2 0l8.2-7.6M522.7 236.1h11.8m-5.9-5.2v10.4m-4.1-9l8.2 7.6m-8.2 0l8.2-7.6M485.7 205.7h11.8m-5.9-5.2v10.4m-4.1-9l8.2 7.6m-8.2 0l8.2-7.6M474.3 194.2h11.8m-5.9-5.2v10.4m-4.1-9l8.2 7.6m-8.2 0l8.2-7.6M477.2 196.6h11.8m-5.9-5.2v10.4m-4.1-9l8.2 7.6m-8.2 0l8.2-7.6M488.7 197.2h11.8m-5.9-5.2v10.4m-4.1-9l8.2 7.6m-8.2 0l8.2-7.6M421.4 164.9h11.8m-5.9-5.2v10.4m-4.1-9l8.2 7.6m-8.2 0l8.2-7.6M513.7 203.0h11.8m-5.9-5.2v10.4m-4.1-9l8.2 7.6m-8.2 0l8.2-7.6M484.0 182.0h11.8m-5.9-5.2v10.4m-4.1-9l8.2 7.6m-8.2 0l8.2-7.6M482.1 168.9h11.8m-5.9-5.2v10.4m-4.1-9l8.2 7.6m-8.2 0l8.2-7.6M478.7 190.3h11.8m-5.9-5.2v10.4m-4.1-9l8.2 7.6m-8.2 0l8.2-7.6M495.2 181.7h11.8m-5.9-5.2v10.4m-4.1-9l8.2 7.6m-8.2 0l8.2-7.6M478.1 200.9h11.8m-5.9-5.2v10.4m-4.1-9l8.2 7.6m-8.2 0l8.2-7.6M439.0 161.3h11.8m-5.9-5.2v10.4m-4.1-9l8.2 7.6m-8.2 0l8.2-7.6M456.0 177.7h11.8m-5.9-5.2v10.4m-4.1-9l8.2 7.6m-8.2 0l8.2-7.6M546.5 243.3h11.8m-5.9-5.2v10.4m-4.1-9l8.2 7.6m-8.2 0l8.2-7.6M497.5 194.3h11.8m-5.9-5.2v10.4m-4.1-9l8.2 7.6m-8.2 0l8.2-7.6M467.4 211.0h11.8m-5.9-5.2v10.4m-4.1-9l8.2 7.6m-8.2 0l8.2-7.6M530.6 212.3h11.8m-5.9-5.2v10.4m-4.1-9l8.2 7.6m-8.2 0l8.2-7.6M474.0 201.1h11.8m-5.9-5.2v10.4m-4.1-9l8.2 7.6m-8.2 0l8.2-7.6M498.8 199.1h11.8m-5.9-5.2v10.4m-4.1-9l8.2 7.6m-8.2 0l8.2-7.6M462.8 174.3h11.8m-5.9-5.2v10.4m-4.1-9l8.2 7.6m-8.2 0l8.2-7.6M490.6 200.5h11.8m-5.9-5.2v10.4m-4.1-9l8.2 7.6m-8.2 0l8.2-7.6M506.5 210.4h11.8m-5.9-5.2v10.4m-4.1-9l8.2 7.6m-8.2 0l8.2-7.6M462.2 204.2h11.8m-5.9-5.2v10.4m-4.1-9l8.2 7.6m-8.2 0l8.2-7.6M544.7 242.3h11.8m-5.9-5.2v10.4m-4.1-9l8.2 7.6m-8.2 0l8.2-7.6M462.9 199.3h11.8m-5.9-5.2v10.4m-4.1-9l8.2 7.6m-8.2 0l8.2-7.6M466.4 203.7h11.8m-5.9-5.2v10.4m-4.1-9l8.2 7.6m-8.2 0l8.2-7.6M512.9 218.9h11.8m-5.9-5.2v10.4m-4.1-9l8.2 7.6m-8.2 0l8.2-7.6M511.4 215.0h11.8m-5.9-5.2v10.4m-4.1-9l8.2 7.6m-8.2 0l8.2-7.6M455.8 164.3h11.8m-5.9-5.2v10.4m-4.1-9l8.2 7.6m-8.2 0l8.2-7.6M477.4 170.4h11.8m-5.9-5.2v10.4m-4.1-9l8.2 7.6m-8.2 0l8.2-7.6M430.0 156.6h11.8m-5.9-5.2v10.4m-4.1-9l8.2 7.6m-8.2 0l8.2-7.6M487.3 210.2h11.8m-5.9-5.2v10.4m-4.1-9l8.2 7.6m-8.2 0l8.2-7.6M462.0 183.9h11.8m-5.9-5.2v10.4m-4.1-9l8.2 7.6m-8.2 0l8.2-7.6M475.4 210.3h11.8m-5.9-5.2v10.4m-4.1-9l8.2 7.6m-8.2 0l8.2-7.6M497.3 183.1h11.8m-5.9-5.2v10.4m-4.1-9l8.2 7.6m-8.2 0l8.2-7.6M549.1 228.7h11.8m-5.9-5.2v10.4m-4.1-9l8.2 7.6m-8.2 0l8.2-7.6M434.2 188.1h11.8m-5.9-5.2v10.4m-4.1-9l8.2 7.6m-8.2 0l8.2-7.6M419.1 160.9h11.8m-5.9-5.2v10.4m-4.1-9l8.2 7.6m-8.2 0l8.2-7.6M437.1 167.9h11.8m-5.9-5.2v10.4m-4.1-9l8.2 7.6m-8.2 0l8.2-7.6M459.8 200.0h11.8m-5.9-5.2v10.4m-4.1-9l8.2 7.6m-8.2 0l8.2-7.6M552.3 238.4h11.8m-5.9-5.2v10.4m-4.1-9l8.2 7.6m-8.2 0l8.2-7.6M543.7 235.8h11.8m-5.9-5.2v10.4m-4.1-9l8.2 7.6m-8.2 0l8.2-7.6M493.5 191.0h11.8m-5.9-5.2v10.4m-4.1-9l8.2 7.6m-8.2 0l8.2-7.6M446.0 168.7h11.8m-5.9-5.2v10.4m-4.1-9l8.2 7.6m-8.2 0l8.2-7.6M551.9 232.6h11.8m-5.9-5.2v10.4m-4.1-9l8.2 7.6m-8.2 0l8.2-7.6M526.3 227.5h11.8m-5.9-5.2v10.4m-4.1-9l8.2 7.6m-8.2 0l8.2-7.6M437.7 180.8h11.8m-5.9-5.2v10.4m-4.1-9l8.2 7.6m-8.2 0l8.2-7.6M512.3 200.2h11.8m-5.9-5.2v10.4m-4.1-9l8.2 7.6m-8.2 0l8.2-7.6M500.4 189.1h11.8m-5.9-5.2v10.4m-4.1-9l8.2 7.6m-8.2 0l8.2-7.6M464.6 199.2h11.8m-5.9-5.2v10.4m-4.1-9l8.2 7.6m-8.2 0l8.2-7.6M505.1 211.1h11.8m-5.9-5.2v10.4m-4.1-9l8.2 7.6m-8.2 0l8.2-7.6M448.0 195.0h11.8m-5.9-5.2v10.4m-4.1-9l8.2 7.6m-8.2 0l8.2-7.6M492.5 180.2h11.8m-5.9-5.2v10.4m-4.1-9l8.2 7.6m-8.2 0l8.2-7.6M514.3 231.6h11.8m-5.9-5.2v10.4m-4.1-9l8.2 7.6m-8.2 0l8.2-7.6M453.6 165.8h11.8m-5.9-5.2v10.4m-4.1-9l8.2 7.6m-8.2 0l8.2-7.6M503.6 214.1h11.8m-5.9-5.2v10.4m-4.1-9l8.2 7.6m-8.2 0l8.2-7.6M515.1 222.4h11.8m-5.9-5.2v10.4m-4.1-9l8.2 7.6m-8.2 0l8.2-7.6M538.7 239.2h11.8m-5.9-5.2v10.4m-4.1-9l8.2 7.6m-8.2 0l8.2-7.6M550.7 228.1h11.8m-5.9-5.2v10.4m-4.1-9l8.2 7.6m-8.2 0l8.2-7.6M437.5 186.7h11.8m-5.9-5.2v10.4m-4.1-9l8.2 7.6m-8.2 0l8.2-7.6M483.5 215.6h11.8m-5.9-5.2v10.4m-4.1-9l8.2 7.6m-8.2 0l8.2-7.6M433.0 176.3h11.8m-5.9-5.2v10.4m-4.1-9l8.2 7.6m-8.2 0l8.2-7.6M516.1 214.4h11.8m-5.9-5.2v10.4m-4.1-9l8.2 7.6m-8.2 0l8.2-7.6M434.8 174.3h11.8m-5.9-5.2v10.4m-4.1-9l8.2 7.6m-8.2 0l8.2-7.6M427.5 157.7h11.8m-5.9-5.2v10.4m-4.1-9l8.2 7.6m-8.2 0l8.2-7.6M433.8 166.2h11.8m-5.9-5.2v10.4m-4.1-9l8.2 7.6m-8.2 0l8.2-7.6M468.3 187.8h11.8m-5.9-5.2v10.4m-4.1-9l8.2 7.6m-8.2 0l8.2-7.6M501.4 187.6h11.8m-5.9-5.2v10.4m-4.1-9l8.2 7.6m-8.2 0l8.2-7.6M513.7 232.5h11.8m-5.9-5.2v10.4m-4.1-9l8.2 7.6m-8.2 0l8.2-7.6M525.8 226.9h11.8m-5.9-5.2v10.4m-4.1-9l8.2 7.6m-8.2 0l8.2-7.6M511.9 212.7h11.8m-5.9-5.2v10.4m-4.1-9l8.2 7.6m-8.2 0l8.2-7.6M490.2 188.1h11.8m-5.9-5.2v10.4m-4.1-9l8.2 7.6m-8.2 0l8.2-7.6M522.3 228.7h11.8m-5.9-5.2v10.4m-4.1-9l8.2 7.6m-8.2 0l8.2-7.6M540.2 210.0h11.8m-5.9-5.2v10.4m-4.1-9l8.2 7.6m-8.2 0l8.2-7.6M515.0 231.4h11.8m-5.9-5.2v10.4m-4.1-9l8.2 7.6m-8.2 0l8.2-7.6M493.8 208.4h11.8m-5.9-5.2v10.4m-4.1-9l8.2 7.6m-8.2 0l8.2-7.6M508.2 233.4h11.8m-5.9-5.2v10.4m-4.1-9l8.2 7.6m-8.2 0l8.2-7.6M435.7 167.2h11.8m-5.9-5.2v10.4m-4.1-9l8.2 7.6m-8.2 0l8.2-7.6M465.7 210.9h11.8m-5.9-5.2v10.4m-4.1-9l8.2 7.6m-8.2 0l8.2-7.6M503.5 218.6h11.8m-5.9-5.2v10.4m-4.1-9l8.2 7.6m-8.2 0l8.2-7.6M513.9 217.4h11.8m-5.9-5.2v10.4m-4.1-9l8.2 7.6m-8.2 0l8.2-7.6M498.9 190.4h11.8m-5.9-5.2v10.4m-4.1-9l8.2 7.6m-8.2 0l8.2-7.6M497.5 219.1h11.8m-5.9-5.2v10.4m-4.1-9l8.2 7.6m-8.2 0l8.2-7.6M469.0 205.6h11.8m-5.9-5.2v10.4m-4.1-9l8.2 7.6m-8.2 0l8.2-7.6M536.6 238.3h11.8m-5.9-5.2v10.4m-4.1-9l8.2 7.6m-8.2 0l8.2-7.6M504.7 211.8h11.8m-5.9-5.2v10.4m-4.1-9l8.2 7.6m-8.2 0l8.2-7.6M418.1 154.6h11.8m-5.9-5.2v10.4m-4.1-9l8.2 7.6m-8.2 0l8.2-7.6M541.7 242.9h11.8m-5.9-5.2v10.4m-4.1-9l8.2 7.6m-8.2 0l8.2-7.6M449.5 161.1h11.8m-5.9-5.2v10.4m-4.1-9l8.2 7.6m-8.2 0l8.2-7.6M484.5 186.1h11.8m-5.9-5.2v10.4m-4.1-9l8.2 7.6m-8.2 0l8.2-7.6M487.4 204.6h11.8m-5.9-5.2v10.4m-4.1-9l8.2 7.6m-8.2 0l8.2-7.6M437.3 170.4h11.8m-5.9-5.2v10.4m-4.1-9l8.2 7.6m-8.2 0l8.2-7.6M521.6 235.9h11.8m-5.9-5.2v10.4m-4.1-9l8.2 7.6m-8.2 0l8.2-7.6M492.3 194.1h11.8m-5.9-5.2v10.4m-4.1-9l8.2 7.6m-8.2 0l8.2-7.6M475.6 167.7h11.8m-5.9-5.2v10.4m-4.1-9l8.2 7.6m-8.2 0l8.2-7.6M522.9 233.4h11.8m-5.9-5.2v10.4m-4.1-9l8.2 7.6m-8.2 0l8.2-7.6M452.1 162.2h11.8m-5.9-5.2v10.4m-4.1-9l8.2 7.6m-8.2 0l8.2-7.6M510.6 224.9h11.8m-5.9-5.2v10.4m-4.1-9l8.2 7.6m-8.2 0l8.2-7.6M421.6 181.8h11.8m-5.9-5.2v10.4m-4.1-9l8.2 7.6m-8.2 0l8.2-7.6M513.8 234.6h11.8m-5.9-5.2v10.4m-4.1-9l8.2 7.6m-8.2 0l8.2-7.6M487.3 202.0h11.8m-5.9-5.2v10.4m-4.1-9l8.2 7.6m-8.2 0l8.2-7.6M446.6 154.0h11.8m-5.9-5.2v10.4m-4.1-9l8.2 7.6m-8.2 0l8.2-7.6M464.6 173.5h11.8m-5.9-5.2v10.4m-4.1-9l8.2 7.6m-8.2 0l8.2-7.6M504.0 219.0h11.8m-5.9-5.2v10.4m-4.1-9l8.2 7.6m-8.2 0l8.2-7.6M432.1 171.2h11.8m-5.9-5.2v10.4m-4.1-9l8.2 7.6m-8.2 0l8.2-7.6M503.9 199.0h11.8m-5.9-5.2v10.4m-4.1-9l8.2 7.6m-8.2 0l8.2-7.6M513.7 231.6h11.8m-5.9-5.2v10.4m-4.1-9l8.2 7.6m-8.2 0l8.2-7.6M503.6 200.6h11.8m-5.9-5.2v10.4m-4.1-9l8.2 7.6m-8.2 0l8.2-7.6M497.8 191.8h11.8m-5.9-5.2v10.4m-4.1-9l8.2 7.6m-8.2 0l8.2-7.6M471.7 201.5h11.8m-5.9-5.2v10.4m-4.1-9l8.2 7.6m-8.2 0l8.2-7.6M537.1 209.8h11.8m-5.9-5.2v10.4m-4.1-9l8.2 7.6m-8.2 0l8.2-7.6M419.6 166.3h11.8m-5.9-5.2v10.4m-4.1-9l8.2 7.6m-8.2 0l8.2-7.6M495.0 197.2h11.8m-5.9-5.2v10.4m-4.1-9l8.2 7.6m-8.2 0l8.2-7.6M419.1 170.7h11.8m-5.9-5.2v10.4m-4.1-9l8.2 7.6m-8.2 0l8.2-7.6M505.2 193.7h11.8m-5.9-5.2v10.4m-4.1-9l8.2 7.6m-8.2 0l8.2-7.6M476.5 211.5h11.8m-5.9-5.2v10.4m-4.1-9l8.2 7.6m-8.2 0l8.2-7.6M424.1 162.5h11.8m-5.9-5.2v10.4m-4.1-9l8.2 7.6m-8.2 0l8.2-7.6M443.2 179.9h11.8m-5.9-5.2v10.4m-4.1-9l8.2 7.6m-8.2 0l8.2-7.6M504.0 180.1h11.8m-5.9-5.2v10.4m-4.1-9l8.2 7.6m-8.2 0l8.2-7.6M520.2 229.9h11.8m-5.9-5.2v10.4m-4.1-9l8.2 7.6m-8.2 0l8.2-7.6M431.1 161.8h11.8m-5.9-5.2v10.4m-4.1-9l8.2 7.6m-8.2 0l8.2-7.6M533.4 231.0h11.8m-5.9-5.2v10.4m-4.1-9l8.2 7.6m-8.2 0l8.2-7.6M425.2 181.9h11.8m-5.9-5.2v10.4m-4.1-9l8.2 7.6m-8.2 0l8.2-7.6M417.9 161.9h11.8m-5.9-5.2v10.4m-4.1-9l8.2 7.6m-8.2 0l8.2-7.6M443.4 174.6h11.8m-5.9-5.2v10.4m-4.1-9l8.2 7.6m-8.2 0l8.2-7.6M525.7 205.8h11.8m-5.9-5.2v10.4m-4.1-9l8.2 7.6m-8.2 0l8.2-7.6M452.6 156.6h11.8m-5.9-5.2v10.4m-4.1-9l8.2 7.6m-8.2 0l8.2-7.6M457.0 160.8h11.8m-5.9-5.2v10.4m-4.1-9l8.2 7.6m-8.2 0l8.2-7.6M448.5 156.7h11.8m-5.9-5.2v10.4m-4.1-9l8.2 7.6m-8.2 0l8.2-7.6M541.7 238.8h11.8m-5.9-5.2v10.4m-4.1-9l8.2 7.6m-8.2 0l8.2-7.6M422.1 149.2h11.8m-5.9-5.2v10.4m-4.1-9l8.2 7.6m-8.2 0l8.2-7.6M522.8 227.8h11.8m-5.9-5.2v10.4m-4.1-9l8.2 7.6m-8.2 0l8.2-7.6M485.8 177.2h11.8m-5.9-5.2v10.4m-4.1-9l8.2 7.6m-8.2 0l8.2-7.6M471.4 192.8h11.8m-5.9-5.2v10.4m-4.1-9l8.2 7.6m-8.2 0l8.2-7.6M480.5 169.8h11.8m-5.9-5.2v10.4m-4.1-9l8.2 7.6m-8.2 0l8.2-7.6M521.7 219.0h11.8m-5.9-5.2v10.4m-4.1-9l8.2 7.6m-8.2 0l8.2-7.6M503.1 218.2h11.8m-5.9-5.2v10.4m-4.1-9l8.2 7.6m-8.2 0l8.2-7.6M492.3 187.9h11.8m-5.9-5.2v10.4m-4.1-9l8.2 7.6m-8.2 0l8.2-7.6M447.6 156.3h11.8m-5.9-5.2v10.4m-4.1-9l8.2 7.6m-8.2 0l8.2-7.6M516.2 228.9h11.8m-5.9-5.2v10.4m-4.1-9l8.2 7.6m-8.2 0l8.2-7.6M469.5 205.2h11.8m-5.9-5.2v10.4m-4.1-9l8.2 7.6m-8.2 0l8.2-7.6M456.0 162.9h11.8m-5.9-5.2v10.4m-4.1-9l8.2 7.6m-8.2 0l8.2-7.6M481.9 203.3h11.8m-5.9-5.2v10.4m-4.1-9l8.2 7.6m-8.2 0l8.2-7.6M478.1 197.5h11.8m-5.9-5.2v10.4m-4.1-9l8.2 7.6m-8.2 0l8.2-7.6M435.1 187.2h11.8m-5.9-5.2v10.4m-4.1-9l8.2 7.6m-8.2 0l8.2-7.6M498.5 219.6h11.8m-5.9-5.2v10.4m-4.1-9l8.2 7.6m-8.2 0l8.2-7.6M470.9 208.7h11.8m-5.9-5.2v10.4m-4.1-9l8.2 7.6m-8.2 0l8.2-7.6M421.6 172.2h11.8m-5.9-5.2v10.4m-4.1-9l8.2 7.6m-8.2 0l8.2-7.6M546.7 240.3h11.8m-5.9-5.2v10.4m-4.1-9l8.2 7.6m-8.2 0l8.2-7.6M495.7 188.1h11.8m-5.9-5.2v10.4m-4.1-9l8.2 7.6m-8.2 0l8.2-7.6M505.6 205.9h11.8m-5.9-5.2v10.4m-4.1-9l8.2 7.6m-8.2 0l8.2-7.6M450.9 154.4h11.8m-5.9-5.2v10.4m-4.1-9l8.2 7.6m-8.2 0l8.2-7.6M391.1 150.8h11.8m-5.9-5.2v10.4m-4.1-9l8.2 7.6m-8.2 0l8.2-7.6M408.1 139.8h11.8m-5.9-5.2v10.4m-4.1-9l8.2 7.6m-8.2 0l8.2-7.6M406.7 148.0h11.8m-5.9-5.2v10.4m-4.1-9l8.2 7.6m-8.2 0l8.2-7.6M427.6 141.2h11.8m-5.9-5.2v10.4m-4.1-9l8.2 7.6m-8.2 0l8.2-7.6M444.3 145.4h11.8m-5.9-5.2v10.4m-4.1-9l8.2 7.6m-8.2 0l8.2-7.6M416.4 174.7h11.8m-5.9-5.2v10.4m-4.1-9l8.2 7.6m-8.2 0l8.2-7.6M440.1 194.2h11.8m-5.9-5.2v10.4m-4.1-9l8.2 7.6m-8.2 0l8.2-7.6M449.9 198.4h11.8m-5.9-5.2v10.4m-4.1-9l8.2 7.6m-8.2 0l8.2-7.6M477.8 163.5h11.8m-5.9-5.2v10.4m-4.1-9l8.2 7.6m-8.2 0l8.2-7.6M497.4 178.8h11.8m-5.9-5.2v10.4m-4.1-9l8.2 7.6m-8.2 0l8.2-7.6M523.9 197.0h11.8m-5.9-5.2v10.4m-4.1-9l8.2 7.6m-8.2 0l8.2-7.6M547.6 219.3h11.8m-5.9-5.2v10.4m-4.1-9l8.2 7.6m-8.2 0l8.2-7.6M558.8 234.7h11.8m-5.9-5.2v10.4m-4.1-9l8.2 7.6m-8.2 0l8.2-7.6M551.8 247.2h11.8m-5.9-5.2v10.4m-4.1-9l8.2 7.6m-8.2 0l8.2-7.6M516.9 245.8h11.8m-5.9-5.2v10.4m-4.1-9l8.2 7.6m-8.2 0l8.2-7.6M505.7 236.0h11.8m-5.9-5.2v10.4m-4.1-9l8.2 7.6m-8.2 0l8.2-7.6M489.0 227.7h11.8m-5.9-5.2v10.4m-4.1-9l8.2 7.6m-8.2 0l8.2-7.6M483.4 216.5h11.8m-5.9-5.2v10.4m-4.1-9l8.2 7.6m-8.2 0l8.2-7.6M434.6 152.8h11.8m-5.9-5.2v10.4m-4.1-9l8.2 7.6m-8.2 0l8.2-7.6M439.3 155.1h11.8m-5.9-5.2v10.4m-4.1-9l8.2 7.6m-8.2 0l8.2-7.6M433.2 153.0h11.8m-5.9-5.2v10.4m-4.1-9l8.2 7.6m-8.2 0l8.2-7.6M438.3 151.5h11.8m-5.9-5.2v10.4m-4.1-9l8.2 7.6m-8.2 0l8.2-7.6M420.6 179.5h11.8m-5.9-5.2v10.4m-4.1-9l8.2 7.6m-8.2 0l8.2-7.6M435.9 153.7h11.8m-5.9-5.2v10.4m-4.1-9l8.2 7.6m-8.2 0l8.2-7.6M426.6 162.2h11.8m-5.9-5.2v10.4m-4.1-9l8.2 7.6m-8.2 0l8.2-7.6M431.2 147.3h11.8m-5.9-5.2v10.4m-4.1-9l8.2 7.6m-8.2 0l8.2-7.6M443.3 168.2h11.8m-5.9-5.2v10.4m-4.1-9l8.2 7.6m-8.2 0l8.2-7.6M429.8 177.1h11.8m-5.9-5.2v10.4m-4.1-9l8.2 7.6m-8.2 0l8.2-7.6M431.8 171.4h11.8m-5.9-5.2v10.4m-4.1-9l8.2 7.6m-8.2 0l8.2-7.6M424.4 161.9h11.8m-5.9-5.2v10.4m-4.1-9l8.2 7.6m-8.2 0l8.2-7.6M438.0 166.9h11.8m-5.9-5.2v10.4m-4.1-9l8.2 7.6m-8.2 0l8.2-7.6M422.6 146.9h11.8m-5.9-5.2v10.4m-4.1-9l8.2 7.6m-8.2 0l8.2-7.6M429.2 162.9h11.8m-5.9-5.2v10.4m-4.1-9l8.2 7.6m-8.2 0l8.2-7.6M427.4 181.7h11.8m-5.9-5.2v10.4m-4.1-9l8.2 7.6m-8.2 0l8.2-7.6M417.6 162.7h11.8m-5.9-5.2v10.4m-4.1-9l8.2 7.6m-8.2 0l8.2-7.6M433.0 152.1h11.8m-5.9-5.2v10.4m-4.1-9l8.2 7.6m-8.2 0l8.2-7.6M419.7 154.0h11.8m-5.9-5.2v10.4m-4.1-9l8.2 7.6m-8.2 0l8.2-7.6M436.3 161.6h11.8m-5.9-5.2v10.4m-4.1-9l8.2 7.6m-8.2 0l8.2-7.6M432.8 145.2h11.8m-5.9-5.2v10.4m-4.1-9l8.2 7.6m-8.2 0l8.2-7.6M436.6 176.4h11.8m-5.9-5.2v10.4m-4.1-9l8.2 7.6m-8.2 0l8.2-7.6M443.7 161.5h11.8m-5.9-5.2v10.4m-4.1-9l8.2 7.6m-8.2 0l8.2-7.6M416.7 173.5h11.8m-5.9-5.2v10.4m-4.1-9l8.2 7.6m-8.2 0l8.2-7.6M418.7 179.1h11.8m-5.9-5.2v10.4m-4.1-9l8.2 7.6m-8.2 0l8.2-7.6M434.5 165.1h11.8m-5.9-5.2v10.4m-4.1-9l8.2 7.6m-8.2 0l8.2-7.6M416.1 155.8h11.8m-5.9-5.2v10.4m-4.1-9l8.2 7.6m-8.2 0l8.2-7.6M436.6 167.3h11.8m-5.9-5.2v10.4m-4.1-9l8.2 7.6m-8.2 0l8.2-7.6M434.2 177.3h11.8m-5.9-5.2v10.4m-4.1-9l8.2 7.6m-8.2 0l8.2-7.6M412.5 166.2h11.8m-5.9-5.2v10.4m-4.1-9l8.2 7.6m-8.2 0l8.2-7.6M426.3 147.3h11.8m-5.9-5.2v10.4m-4.1-9l8.2 7.6m-8.2 0l8.2-7.6M418.6 163.7h11.8m-5.9-5.2v10.4m-4.1-9l8.2 7.6m-8.2 0l8.2-7.6M435.5 165.7h11.8m-5.9-5.2v10.4m-4.1-9l8.2 7.6m-8.2 0l8.2-7.6M415.9 169.6h11.8m-5.9-5.2v10.4m-4.1-9l8.2 7.6m-8.2 0l8.2-7.6M422.6 158.3h11.8m-5.9-5.2v10.4m-4.1-9l8.2 7.6m-8.2 0l8.2-7.6M435.8 173.8h11.8m-5.9-5.2v10.4m-4.1-9l8.2 7.6m-8.2 0l8.2-7.6M414.2 147.7h11.8m-5.9-5.2v10.4m-4.1-9l8.2 7.6m-8.2 0l8.2-7.6M422.7 171.8h11.8m-5.9-5.2v10.4m-4.1-9l8.2 7.6m-8.2 0l8.2-7.6M412.7 166.7h11.8m-5.9-5.2v10.4m-4.1-9l8.2 7.6m-8.2 0l8.2-7.6M446.3 160.7h11.8m-5.9-5.2v10.4m-4.1-9l8.2 7.6m-8.2 0l8.2-7.6" stroke="#edb120" stroke-width="1.25" fill="none"/><g font-family="Liberation Sans, Arial, sans-serif" font-size="16" fill="#262626" stroke="#262626" stroke-width="0.35"><text x="56.4" y="32.5" text-anchor="end">1</text><text x="56.4" y="100.6" text-anchor="end">0.5</text><text x="56.4" y="168.8" text-anchor="end">0</text><text x="56.4" y="236.9" text-anchor="end">-0.5</text><text x="56.4" y="305.0" text-anchor="end">-1</text><text x="56.4" y="373.2" text-anchor="end">-1.5</text><text x="56.4" y="441.3" text-anchor="end">-2</text><text x="63.2" y="456.6" text-anchor="middle">-5</text><text x="247.7" y="456.6" text-anchor="middle">0</text><text x="431.5" y="456.6" text-anchor="middle">5</text><text x="615.2" y="456.6" text-anchor="middle">10</text></g><rect x="569.0" y="6.5" width="71.3" height="180.0" fill="#fff" stroke="#8e8e8e" stroke-width="2.1"/><path d="M587.8 18.6h11.8m-5.9-5.2v10.4m-4.1-9l8.2 7.6m-8.2 0l8.2-7.6" stroke="#ff0000" stroke-width="1.25" fill="none"/><path d="M587.8 38.3h11.8m-5.9-5.2v10.4m-4.1-9l8.2 7.6m-8.2 0l8.2-7.6" stroke="#00ff00" stroke-width="1.25" fill="none"/><path d="M587.8 57.9h11.8m-5.9-5.2v10.4m-4.1-9l8.2 7.6m-8.2 0l8.2-7.6" stroke="#0000ff" stroke-width="1.25" fill="none"/><path d="M587.8 77.6h11.8m-5.9-5.2v10.4m-4.1-9l8.2 7.6m-8.2 0l8.2-7.6" stroke="#00ffff" stroke-width="1.25" fill="none"/><path d="M587.8 97.3h11.8m-5.9-5.2v10.4m-4.1-9l8.2 7.6m-8.2 0l8.2-7.6" stroke="#ff00ff" stroke-width="1.25" fill="none"/><path d="M587.8 117.0h11.8m-5.9-5.2v10.4m-4.1-9l8.2 7.6m-8.2 0l8.2-7.6" stroke="#ffff00" stroke-width="1.25" fill="none"/><path d="M587.8 136.6h11.8m-5.9-5.2v10.4m-4.1-9l8.2 7.6m-8.2 0l8.2-7.6" stroke="#000000" stroke-width="1.25" fill="none"/><path d="M587.8 156.3h11.8m-5.9-5.2v10.4m-4.1-9l8.2 7.6m-8.2 0l8.2-7.6" stroke="#0072bd" stroke-width="1.25" fill="none"/><path d="M587.8 176.0h11.8m-5.9-5.2v10.4m-4.1-9l8.2 7.6m-8.2 0l8.2-7.6" stroke="#edb120" stroke-width="1.25" fill="none"/><g font-family="Liberation Sans, Arial, sans-serif" font-size="14" fill="#111" stroke="#111" stroke-width="0.3"><text x="616.5" y="23.8">F0</text><text x="616.5" y="43.5">F1</text><text x="616.5" y="63.1">F2</text><text x="616.5" y="82.8">F3</text><text x="616.5" y="102.5">F4</text><text x="616.5" y="122.2">F5</text><text x="616.5" y="141.8">F6</text><text x="616.5" y="161.5">F7</text><text x="616.5" y="181.2">F8</text></g><text transform="translate(0.8 29.6) scale(1.1 1)" font-family="Liberation Serif, Times New Roman, serif" font-weight="bold" font-size="27.5" fill="#000">(a)</text><rect x="59.2" y="508.8" width="556.6" height="440.5" fill="none" stroke="#8e8e8e" stroke-width="2.1"/><path d="M59.2 949.3v-5M59.2 508.8v5M244.7 949.3v-5M244.7 508.8v5M430.3 949.3v-5M430.3 508.8v5M615.8 949.3v-5M615.8 508.8v5M59.2 508.8h5M615.8 508.8h-5M59.2 596.9h5M615.8 596.9h-5M59.2 685.0h5M615.8 685.0h-5M59.2 773.1h5M615.8 773.1h-5M59.2 861.2h5M615.8 861.2h-5M59.2 949.3h5M615.8 949.3h-5" stroke="#8e8e8e" stroke-width="2.1" fill="none"/><path d="M199.9 659.1h11.8m-5.9-5.2v10.4m-4.1-9l8.2 7.6m-8.2 0l8.2-7.6M213.5 665.0h11.8m-5.9-5.2v10.4m-4.1-9l8.2 7.6m-8.2 0l8.2-7.6M250.1 691.7h11.8m-5.9-5.2v10.4m-4.1-9l8.2 7.6m-8.2 0l8.2-7.6M214.4 666.4h11.8m-5.9-5.2v10.4m-4.1-9l8.2 7.6m-8.2 0l8.2-7.6M211.4 661.7h11.8m-5.9-5.2v10.4m-4.1-9l8.2 7.6m-8.2 0l8.2-7.6M181.4 644.6h11.8m-5.9-5.2v10.4m-4.1-9l8.2 7.6m-8.2 0l8.2-7.6M221.0 666.4h11.8m-5.9-5.2v10.4m-4.1-9l8.2 7.6m-8.2 0l8.2-7.6M193.6 656.1h11.8m-5.9-5.2v10.4m-4.1-9l8.2 7.6m-8.2 0l8.2-7.6M227.4 669.7h11.8m-5.9-5.2v10.4m-4.1-9l8.2 7.6m-8.2 0l8.2-7.6M191.5 653.3h11.8m-5.9-5.2v10.4m-4.1-9l8.2 7.6m-8.2 0l8.2-7.6M232.9 674.7h11.8m-5.9-5.2v10.4m-4.1-9l8.2 7.6m-8.2 0l8.2-7.6M192.0 649.5h11.8m-5.9-5.2v10.4m-4.1-9l8.2 7.6m-8.2 0l8.2-7.6M210.5 662.0h11.8m-5.9-5.2v10.4m-4.1-9l8.2 7.6m-8.2 0l8.2-7.6M198.8 659.3h11.8m-5.9-5.2v10.4m-4.1-9l8.2 7.6m-8.2 0l8.2-7.6M201.9 662.3h11.8m-5.9-5.2v10.4m-4.1-9l8.2 7.6m-8.2 0l8.2-7.6M230.1 672.5h11.8m-5.9-5.2v10.4m-4.1-9l8.2 7.6m-8.2 0l8.2-7.6M211.9 658.7h11.8m-5.9-5.2v10.4m-4.1-9l8.2 7.6m-8.2 0l8.2-7.6M199.9 657.9h11.8m-5.9-5.2v10.4m-4.1-9l8.2 7.6m-8.2 0l8.2-7.6M215.2 662.6h11.8m-5.9-5.2v10.4m-4.1-9l8.2 7.6m-8.2 0l8.2-7.6M242.3 683.1h11.8m-5.9-5.2v10.4m-4.1-9l8.2 7.6m-8.2 0l8.2-7.6M236.2 674.7h11.8m-5.9-5.2v10.4m-4.1-9l8.2 7.6m-8.2 0l8.2-7.6M183.3 650.5h11.8m-5.9-5.2v10.4m-4.1-9l8.2 7.6m-8.2 0l8.2-7.6M235.5 680.7h11.8m-5.9-5.2v10.4m-4.1-9l8.2 7.6m-8.2 0l8.2-7.6M238.0 682.2h11.8m-5.9-5.2v10.4m-4.1-9l8.2 7.6m-8.2 0l8.2-7.6M235.2 679.8h11.8m-5.9-5.2v10.4m-4.1-9l8.2 7.6m-8.2 0l8.2-7.6M226.1 668.5h11.8m-5.9-5.2v10.4m-4.1-9l8.2 7.6m-8.2 0l8.2-7.6M235.6 678.8h11.8m-5.9-5.2v10.4m-4.1-9l8.2 7.6m-8.2 0l8.2-7.6M189.4 650.9h11.8m-5.9-5.2v10.4m-4.1-9l8.2 7.6m-8.2 0l8.2-7.6M186.0 646.7h11.8m-5.9-5.2v10.4m-4.1-9l8.2 7.6m-8.2 0l8.2-7.6M185.5 646.2h11.8m-5.9-5.2v10.4m-4.1-9l8.2 7.6m-8.2 0l8.2-7.6M202.4 662.2h11.8m-5.9-5.2v10.4m-4.1-9l8.2 7.6m-8.2 0l8.2-7.6M201.3 661.3h11.8m-5.9-5.2v10.4m-4.1-9l8.2 7.6m-8.2 0l8.2-7.6M241.4 680.2h11.8m-5.9-5.2v10.4m-4.1-9l8.2 7.6m-8.2 0l8.2-7.6M221.9 672.0h11.8m-5.9-5.2v10.4m-4.1-9l8.2 7.6m-8.2 0l8.2-7.6M229.3 672.3h11.8m-5.9-5.2v10.4m-4.1-9l8.2 7.6m-8.2 0l8.2-7.6M246.5 687.6h11.8m-5.9-5.2v10.4m-4.1-9l8.2 7.6m-8.2 0l8.2-7.6M210.7 662.1h11.8m-5.9-5.2v10.4m-4.1-9l8.2 7.6m-8.2 0l8.2-7.6M195.1 649.5h11.8m-5.9-5.2v10.4m-4.1-9l8.2 7.6m-8.2 0l8.2-7.6M200.9 653.2h11.8m-5.9-5.2v10.4m-4.1-9l8.2 7.6m-8.2 0l8.2-7.6M224.0 675.0h11.8m-5.9-5.2v10.4m-4.1-9l8.2 7.6m-8.2 0l8.2-7.6M203.9 655.5h11.8m-5.9-5.2v10.4m-4.1-9l8.2 7.6m-8.2 0l8.2-7.6M221.1 668.5h11.8m-5.9-5.2v10.4m-4.1-9l8.2 7.6m-8.2 0l8.2-7.6M205.7 663.8h11.8m-5.9-5.2v10.4m-4.1-9l8.2 7.6m-8.2 0l8.2-7.6M201.5 661.7h11.8m-5.9-5.2v10.4m-4.1-9l8.2 7.6m-8.2 0l8.2-7.6M220.5 671.4h11.8m-5.9-5.2v10.4m-4.1-9l8.2 7.6m-8.2 0l8.2-7.6M182.4 647.2h11.8m-5.9-5.2v10.4m-4.1-9l8.2 7.6m-8.2 0l8.2-7.6M210.4 664.3h11.8m-5.9-5.2v10.4m-4.1-9l8.2 7.6m-8.2 0l8.2-7.6M188.2 653.0h11.8m-5.9-5.2v10.4m-4.1-9l8.2 7.6m-8.2 0l8.2-7.6M201.1 655.2h11.8m-5.9-5.2v10.4m-4.1-9l8.2 7.6m-8.2 0l8.2-7.6M238.7 680.2h11.8m-5.9-5.2v10.4m-4.1-9l8.2 7.6m-8.2 0l8.2-7.6M185.4 646.3h11.8m-5.9-5.2v10.4m-4.1-9l8.2 7.6m-8.2 0l8.2-7.6M247.0 688.9h11.8m-5.9-5.2v10.4m-4.1-9l8.2 7.6m-8.2 0l8.2-7.6M217.2 669.7h11.8m-5.9-5.2v10.4m-4.1-9l8.2 7.6m-8.2 0l8.2-7.6M203.3 659.4h11.8m-5.9-5.2v10.4m-4.1-9l8.2 7.6m-8.2 0l8.2-7.6M237.2 679.7h11.8m-5.9-5.2v10.4m-4.1-9l8.2 7.6m-8.2 0l8.2-7.6M245.8 684.9h11.8m-5.9-5.2v10.4m-4.1-9l8.2 7.6m-8.2 0l8.2-7.6M218.9 671.3h11.8m-5.9-5.2v10.4m-4.1-9l8.2 7.6m-8.2 0l8.2-7.6M253.8 687.5h11.8m-5.9-5.2v10.4m-4.1-9l8.2 7.6m-8.2 0l8.2-7.6M188.4 646.3h11.8m-5.9-5.2v10.4m-4.1-9l8.2 7.6m-8.2 0l8.2-7.6M209.4 659.8h11.8m-5.9-5.2v10.4m-4.1-9l8.2 7.6m-8.2 0l8.2-7.6M226.8 673.8h11.8m-5.9-5.2v10.4m-4.1-9l8.2 7.6m-8.2 0l8.2-7.6M204.5 662.2h11.8m-5.9-5.2v10.4m-4.1-9l8.2 7.6m-8.2 0l8.2-7.6M234.9 679.2h11.8m-5.9-5.2v10.4m-4.1-9l8.2 7.6m-8.2 0l8.2-7.6M221.2 672.9h11.8m-5.9-5.2v10.4m-4.1-9l8.2 7.6m-8.2 0l8.2-7.6M200.1 654.5h11.8m-5.9-5.2v10.4m-4.1-9l8.2 7.6m-8.2 0l8.2-7.6M215.7 665.8h11.8m-5.9-5.2v10.4m-4.1-9l8.2 7.6m-8.2 0l8.2-7.6M189.5 653.2h11.8m-5.9-5.2v10.4m-4.1-9l8.2 7.6m-8.2 0l8.2-7.6M216.2 667.5h11.8m-5.9-5.2v10.4m-4.1-9l8.2 7.6m-8.2 0l8.2-7.6M221.0 672.4h11.8m-5.9-5.2v10.4m-4.1-9l8.2 7.6m-8.2 0l8.2-7.6M210.9 661.6h11.8m-5.9-5.2v10.4m-4.1-9l8.2 7.6m-8.2 0l8.2-7.6M230.4 677.2h11.8m-5.9-5.2v10.4m-4.1-9l8.2 7.6m-8.2 0l8.2-7.6M242.7 680.9h11.8m-5.9-5.2v10.4m-4.1-9l8.2 7.6m-8.2 0l8.2-7.6M199.7 653.9h11.8m-5.9-5.2v10.4m-4.1-9l8.2 7.6m-8.2 0l8.2-7.6M248.5 689.6h11.8m-5.9-5.2v10.4m-4.1-9l8.2 7.6m-8.2 0l8.2-7.6M253.1 686.4h11.8m-5.9-5.2v10.4m-4.1-9l8.2 7.6m-8.2 0l8.2-7.6M205.4 659.7h11.8m-5.9-5.2v10.4m-4.1-9l8.2 7.6m-8.2 0l8.2-7.6M188.6 654.9h11.8m-5.9-5.2v10.4m-4.1-9l8.2 7.6m-8.2 0l8.2-7.6M207.1 664.8h11.8m-5.9-5.2v10.4m-4.1-9l8.2 7.6m-8.2 0l8.2-7.6M224.7 672.5h11.8m-5.9-5.2v10.4m-4.1-9l8.2 7.6m-8.2 0l8.2-7.6M249.8 682.9h11.8m-5.9-5.2v10.4m-4.1-9l8.2 7.6m-8.2 0l8.2-7.6M199.7 656.2h11.8m-5.9-5.2v10.4m-4.1-9l8.2 7.6m-8.2 0l8.2-7.6M219.8 666.7h11.8m-5.9-5.2v10.4m-4.1-9l8.2 7.6m-8.2 0l8.2-7.6M193.7 648.1h11.8m-5.9-5.2v10.4m-4.1-9l8.2 7.6m-8.2 0l8.2-7.6M190.6 648.6h11.8m-5.9-5.2v10.4m-4.1-9l8.2 7.6m-8.2 0l8.2-7.6M209.3 663.6h11.8m-5.9-5.2v10.4m-4.1-9l8.2 7.6m-8.2 0l8.2-7.6M201.5 659.2h11.8m-5.9-5.2v10.4m-4.1-9l8.2 7.6m-8.2 0l8.2-7.6M246.7 686.2h11.8m-5.9-5.2v10.4m-4.1-9l8.2 7.6m-8.2 0l8.2-7.6M190.7 653.5h11.8m-5.9-5.2v10.4m-4.1-9l8.2 7.6m-8.2 0l8.2-7.6M208.4 664.3h11.8m-5.9-5.2v10.4m-4.1-9l8.2 7.6m-8.2 0l8.2-7.6M243.2 678.4h11.8m-5.9-5.2v10.4m-4.1-9l8.2 7.6m-8.2 0l8.2-7.6M214.7 668.3h11.8m-5.9-5.2v10.4m-4.1-9l8.2 7.6m-8.2 0l8.2-7.6M225.5 670.4h11.8m-5.9-5.2v10.4m-4.1-9l8.2 7.6m-8.2 0l8.2-7.6M208.9 664.6h11.8m-5.9-5.2v10.4m-4.1-9l8.2 7.6m-8.2 0l8.2-7.6M211.0 659.4h11.8m-5.9-5.2v10.4m-4.1-9l8.2 7.6m-8.2 0l8.2-7.6M204.2 656.1h11.8m-5.9-5.2v10.4m-4.1-9l8.2 7.6m-8.2 0l8.2-7.6M182.4 649.0h11.8m-5.9-5.2v10.4m-4.1-9l8.2 7.6m-8.2 0l8.2-7.6M213.9 670.0h11.8m-5.9-5.2v10.4m-4.1-9l8.2 7.6m-8.2 0l8.2-7.6M218.4 670.7h11.8m-5.9-5.2v10.4m-4.1-9l8.2 7.6m-8.2 0l8.2-7.6M215.3 666.6h11.8m-5.9-5.2v10.4m-4.1-9l8.2 7.6m-8.2 0l8.2-7.6M251.9 688.9h11.8m-5.9-5.2v10.4m-4.1-9l8.2 7.6m-8.2 0l8.2-7.6M239.4 676.1h11.8m-5.9-5.2v10.4m-4.1-9l8.2 7.6m-8.2 0l8.2-7.6M221.9 666.7h11.8m-5.9-5.2v10.4m-4.1-9l8.2 7.6m-8.2 0l8.2-7.6M186.5 646.6h11.8m-5.9-5.2v10.4m-4.1-9l8.2 7.6m-8.2 0l8.2-7.6M247.9 689.9h11.8m-5.9-5.2v10.4m-4.1-9l8.2 7.6m-8.2 0l8.2-7.6M216.4 668.3h11.8m-5.9-5.2v10.4m-4.1-9l8.2 7.6m-8.2 0l8.2-7.6M180.9 650.0h11.8m-5.9-5.2v10.4m-4.1-9l8.2 7.6m-8.2 0l8.2-7.6M227.7 669.6h11.8m-5.9-5.2v10.4m-4.1-9l8.2 7.6m-8.2 0l8.2-7.6M193.5 655.9h11.8m-5.9-5.2v10.4m-4.1-9l8.2 7.6m-8.2 0l8.2-7.6M207.1 658.8h11.8m-5.9-5.2v10.4m-4.1-9l8.2 7.6m-8.2 0l8.2-7.6M239.0 676.4h11.8m-5.9-5.2v10.4m-4.1-9l8.2 7.6m-8.2 0l8.2-7.6M233.5 673.1h11.8m-5.9-5.2v10.4m-4.1-9l8.2 7.6m-8.2 0l8.2-7.6M238.9 679.3h11.8m-5.9-5.2v10.4m-4.1-9l8.2 7.6m-8.2 0l8.2-7.6M227.4 669.5h11.8m-5.9-5.2v10.4m-4.1-9l8.2 7.6m-8.2 0l8.2-7.6M233.6 678.5h11.8m-5.9-5.2v10.4m-4.1-9l8.2 7.6m-8.2 0l8.2-7.6M188.5 653.0h11.8m-5.9-5.2v10.4m-4.1-9l8.2 7.6m-8.2 0l8.2-7.6M207.6 657.9h11.8m-5.9-5.2v10.4m-4.1-9l8.2 7.6m-8.2 0l8.2-7.6M183.5 644.1h11.8m-5.9-5.2v10.4m-4.1-9l8.2 7.6m-8.2 0l8.2-7.6M218.1 661.8h11.8m-5.9-5.2v10.4m-4.1-9l8.2 7.6m-8.2 0l8.2-7.6M251.4 687.5h11.8m-5.9-5.2v10.4m-4.1-9l8.2 7.6m-8.2 0l8.2-7.6M212.7 661.7h11.8m-5.9-5.2v10.4m-4.1-9l8.2 7.6m-8.2 0l8.2-7.6M239.0 677.9h11.8m-5.9-5.2v10.4m-4.1-9l8.2 7.6m-8.2 0l8.2-7.6M241.6 680.9h11.8m-5.9-5.2v10.4m-4.1-9l8.2 7.6m-8.2 0l8.2-7.6M218.6 666.5h11.8m-5.9-5.2v10.4m-4.1-9l8.2 7.6m-8.2 0l8.2-7.6M192.3 656.0h11.8m-5.9-5.2v10.4m-4.1-9l8.2 7.6m-8.2 0l8.2-7.6M188.5 645.4h11.8m-5.9-5.2v10.4m-4.1-9l8.2 7.6m-8.2 0l8.2-7.6M243.1 684.9h11.8m-5.9-5.2v10.4m-4.1-9l8.2 7.6m-8.2 0l8.2-7.6M224.8 668.6h11.8m-5.9-5.2v10.4m-4.1-9l8.2 7.6m-8.2 0l8.2-7.6M201.0 660.5h11.8m-5.9-5.2v10.4m-4.1-9l8.2 7.6m-8.2 0l8.2-7.6M234.1 677.2h11.8m-5.9-5.2v10.4m-4.1-9l8.2 7.6m-8.2 0l8.2-7.6M222.1 669.4h11.8m-5.9-5.2v10.4m-4.1-9l8.2 7.6m-8.2 0l8.2-7.6M221.9 673.7h11.8m-5.9-5.2v10.4m-4.1-9l8.2 7.6m-8.2 0l8.2-7.6M198.7 651.4h11.8m-5.9-5.2v10.4m-4.1-9l8.2 7.6m-8.2 0l8.2-7.6M198.1 655.3h11.8m-5.9-5.2v10.4m-4.1-9l8.2 7.6m-8.2 0l8.2-7.6M232.1 676.3h11.8m-5.9-5.2v10.4m-4.1-9l8.2 7.6m-8.2 0l8.2-7.6M220.4 669.3h11.8m-5.9-5.2v10.4m-4.1-9l8.2 7.6m-8.2 0l8.2-7.6M247.3 689.3h11.8m-5.9-5.2v10.4m-4.1-9l8.2 7.6m-8.2 0l8.2-7.6M216.3 667.3h11.8m-5.9-5.2v10.4m-4.1-9l8.2 7.6m-8.2 0l8.2-7.6M184.9 643.7h11.8m-5.9-5.2v10.4m-4.1-9l8.2 7.6m-8.2 0l8.2-7.6M196.9 653.3h11.8m-5.9-5.2v10.4m-4.1-9l8.2 7.6m-8.2 0l8.2-7.6M218.1 668.9h11.8m-5.9-5.2v10.4m-4.1-9l8.2 7.6m-8.2 0l8.2-7.6M245.1 687.2h11.8m-5.9-5.2v10.4m-4.1-9l8.2 7.6m-8.2 0l8.2-7.6M185.6 647.6h11.8m-5.9-5.2v10.4m-4.1-9l8.2 7.6m-8.2 0l8.2-7.6M198.0 654.2h11.8m-5.9-5.2v10.4m-4.1-9l8.2 7.6m-8.2 0l8.2-7.6M226.8 678.7h11.8m-5.9-5.2v10.4m-4.1-9l8.2 7.6m-8.2 0l8.2-7.6M213.7 664.8h11.8m-5.9-5.2v10.4m-4.1-9l8.2 7.6m-8.2 0l8.2-7.6M193.7 652.7h11.8m-5.9-5.2v10.4m-4.1-9l8.2 7.6m-8.2 0l8.2-7.6M217.2 664.5h11.8m-5.9-5.2v10.4m-4.1-9l8.2 7.6m-8.2 0l8.2-7.6M206.5 658.1h11.8m-5.9-5.2v10.4m-4.1-9l8.2 7.6m-8.2 0l8.2-7.6M244.2 682.4h11.8m-5.9-5.2v10.4m-4.1-9l8.2 7.6m-8.2 0l8.2-7.6M238.5 679.9h11.8m-5.9-5.2v10.4m-4.1-9l8.2 7.6m-8.2 0l8.2-7.6M205.4 657.4h11.8m-5.9-5.2v10.4m-4.1-9l8.2 7.6m-8.2 0l8.2-7.6M227.4 672.8h11.8m-5.9-5.2v10.4m-4.1-9l8.2 7.6m-8.2 0l8.2-7.6M200.8 658.3h11.8m-5.9-5.2v10.4m-4.1-9l8.2 7.6m-8.2 0l8.2-7.6M191.3 655.0h11.8m-5.9-5.2v10.4m-4.1-9l8.2 7.6m-8.2 0l8.2-7.6M208.7 659.9h11.8m-5.9-5.2v10.4m-4.1-9l8.2 7.6m-8.2 0l8.2-7.6M210.5 664.8h11.8m-5.9-5.2v10.4m-4.1-9l8.2 7.6m-8.2 0l8.2-7.6M219.2 673.1h11.8m-5.9-5.2v10.4m-4.1-9l8.2 7.6m-8.2 0l8.2-7.6M206.6 660.2h11.8m-5.9-5.2v10.4m-4.1-9l8.2 7.6m-8.2 0l8.2-7.6M190.5 652.1h11.8m-5.9-5.2v10.4m-4.1-9l8.2 7.6m-8.2 0l8.2-7.6M213.1 664.8h11.8m-5.9-5.2v10.4m-4.1-9l8.2 7.6m-8.2 0l8.2-7.6M233.0 676.0h11.8m-5.9-5.2v10.4m-4.1-9l8.2 7.6m-8.2 0l8.2-7.6M190.4 654.5h11.8m-5.9-5.2v10.4m-4.1-9l8.2 7.6m-8.2 0l8.2-7.6M196.7 657.0h11.8m-5.9-5.2v10.4m-4.1-9l8.2 7.6m-8.2 0l8.2-7.6M247.6 687.2h11.8m-5.9-5.2v10.4m-4.1-9l8.2 7.6m-8.2 0l8.2-7.6M240.9 682.1h11.8m-5.9-5.2v10.4m-4.1-9l8.2 7.6m-8.2 0l8.2-7.6M234.2 672.9h11.8m-5.9-5.2v10.4m-4.1-9l8.2 7.6m-8.2 0l8.2-7.6M234.7 681.6h11.8m-5.9-5.2v10.4m-4.1-9l8.2 7.6m-8.2 0l8.2-7.6M250.6 691.2h11.8m-5.9-5.2v10.4m-4.1-9l8.2 7.6m-8.2 0l8.2-7.6M187.6 652.8h11.8m-5.9-5.2v10.4m-4.1-9l8.2 7.6m-8.2 0l8.2-7.6M204.8 657.5h11.8m-5.9-5.2v10.4m-4.1-9l8.2 7.6m-8.2 0l8.2-7.6M220.2 670.6h11.8m-5.9-5.2v10.4m-4.1-9l8.2 7.6m-8.2 0l8.2-7.6M192.9 647.9h11.8m-5.9-5.2v10.4m-4.1-9l8.2 7.6m-8.2 0l8.2-7.6M212.4 668.9h11.8m-5.9-5.2v10.4m-4.1-9l8.2 7.6m-8.2 0l8.2-7.6M226.0 675.2h11.8m-5.9-5.2v10.4m-4.1-9l8.2 7.6m-8.2 0l8.2-7.6M222.9 674.6h11.8m-5.9-5.2v10.4m-4.1-9l8.2 7.6m-8.2 0l8.2-7.6M230.3 674.4h11.8m-5.9-5.2v10.4m-4.1-9l8.2 7.6m-8.2 0l8.2-7.6M242.7 681.4h11.8m-5.9-5.2v10.4m-4.1-9l8.2 7.6m-8.2 0l8.2-7.6M198.5 653.5h11.8m-5.9-5.2v10.4m-4.1-9l8.2 7.6m-8.2 0l8.2-7.6M251.9 686.0h11.8m-5.9-5.2v10.4m-4.1-9l8.2 7.6m-8.2 0l8.2-7.6M252.8 689.3h11.8m-5.9-5.2v10.4m-4.1-9l8.2 7.6m-8.2 0l8.2-7.6M193.2 650.6h11.8m-5.9-5.2v10.4m-4.1-9l8.2 7.6m-8.2 0l8.2-7.6M213.9 667.1h11.8m-5.9-5.2v10.4m-4.1-9l8.2 7.6m-8.2 0l8.2-7.6M197.5 657.3h11.8m-5.9-5.2v10.4m-4.1-9l8.2 7.6m-8.2 0l8.2-7.6M245.3 682.0h11.8m-5.9-5.2v10.4m-4.1-9l8.2 7.6m-8.2 0l8.2-7.6M220.9 670.4h11.8m-5.9-5.2v10.4m-4.1-9l8.2 7.6m-8.2 0l8.2-7.6M202.3 654.8h11.8m-5.9-5.2v10.4m-4.1-9l8.2 7.6m-8.2 0l8.2-7.6M248.2 683.8h11.8m-5.9-5.2v10.4m-4.1-9l8.2 7.6m-8.2 0l8.2-7.6M246.7 688.6h11.8m-5.9-5.2v10.4m-4.1-9l8.2 7.6m-8.2 0l8.2-7.6M237.4 681.0h11.8m-5.9-5.2v10.4m-4.1-9l8.2 7.6m-8.2 0l8.2-7.6M220.1 667.6h11.8m-5.9-5.2v10.4m-4.1-9l8.2 7.6m-8.2 0l8.2-7.6M220.2 671.6h11.8m-5.9-5.2v10.4m-4.1-9l8.2 7.6m-8.2 0l8.2-7.6M223.8 675.3h11.8m-5.9-5.2v10.4m-4.1-9l8.2 7.6m-8.2 0l8.2-7.6M210.9 663.3h11.8m-5.9-5.2v10.4m-4.1-9l8.2 7.6m-8.2 0l8.2-7.6M189.7 653.1h11.8m-5.9-5.2v10.4m-4.1-9l8.2 7.6m-8.2 0l8.2-7.6M249.3 691.4h11.8m-5.9-5.2v10.4m-4.1-9l8.2 7.6m-8.2 0l8.2-7.6M186.6 650.0h11.8m-5.9-5.2v10.4m-4.1-9l8.2 7.6m-8.2 0l8.2-7.6M218.5 667.5h11.8m-5.9-5.2v10.4m-4.1-9l8.2 7.6m-8.2 0l8.2-7.6M218.2 667.1h11.8m-5.9-5.2v10.4m-4.1-9l8.2 7.6m-8.2 0l8.2-7.6M202.0 660.9h11.8m-5.9-5.2v10.4m-4.1-9l8.2 7.6m-8.2 0l8.2-7.6M233.9 677.7h11.8m-5.9-5.2v10.4m-4.1-9l8.2 7.6m-8.2 0l8.2-7.6M184.3 650.9h11.8m-5.9-5.2v10.4m-4.1-9l8.2 7.6m-8.2 0l8.2-7.6M201.7 657.5h11.8m-5.9-5.2v10.4m-4.1-9l8.2 7.6m-8.2 0l8.2-7.6M221.3 669.3h11.8m-5.9-5.2v10.4m-4.1-9l8.2 7.6m-8.2 0l8.2-7.6M208.1 661.8h11.8m-5.9-5.2v10.4m-4.1-9l8.2 7.6m-8.2 0l8.2-7.6M203.0 659.7h11.8m-5.9-5.2v10.4m-4.1-9l8.2 7.6m-8.2 0l8.2-7.6M195.6 650.7h11.8m-5.9-5.2v10.4m-4.1-9l8.2 7.6m-8.2 0l8.2-7.6M193.0 655.6h11.8m-5.9-5.2v10.4m-4.1-9l8.2 7.6m-8.2 0l8.2-7.6M226.1 668.8h11.8m-5.9-5.2v10.4m-4.1-9l8.2 7.6m-8.2 0l8.2-7.6M181.9 647.0h11.8m-5.9-5.2v10.4m-4.1-9l8.2 7.6m-8.2 0l8.2-7.6M253.3 686.0h11.8m-5.9-5.2v10.4m-4.1-9l8.2 7.6m-8.2 0l8.2-7.6M183.0 649.1h11.8m-5.9-5.2v10.4m-4.1-9l8.2 7.6m-8.2 0l8.2-7.6M251.8 685.4h11.8m-5.9-5.2v10.4m-4.1-9l8.2 7.6m-8.2 0l8.2-7.6M192.6 655.5h11.8m-5.9-5.2v10.4m-4.1-9l8.2 7.6m-8.2 0l8.2-7.6M251.9 687.7h11.8m-5.9-5.2v10.4m-4.1-9l8.2 7.6m-8.2 0l8.2-7.6M230.2 673.0h11.8m-5.9-5.2v10.4m-4.1-9l8.2 7.6m-8.2 0l8.2-7.6M228.3 667.9h11.8m-5.9-5.2v10.4m-4.1-9l8.2 7.6m-8.2 0l8.2-7.6M218.7 667.2h11.8m-5.9-5.2v10.4m-4.1-9l8.2 7.6m-8.2 0l8.2-7.6M216.2 671.8h11.8m-5.9-5.2v10.4m-4.1-9l8.2 7.6m-8.2 0l8.2-7.6M193.7 649.1h11.8m-5.9-5.2v10.4m-4.1-9l8.2 7.6m-8.2 0l8.2-7.6M195.9 654.3h11.8m-5.9-5.2v10.4m-4.1-9l8.2 7.6m-8.2 0l8.2-7.6M220.6 670.6h11.8m-5.9-5.2v10.4m-4.1-9l8.2 7.6m-8.2 0l8.2-7.6M194.6 656.4h11.8m-5.9-5.2v10.4m-4.1-9l8.2 7.6m-8.2 0l8.2-7.6M229.4 670.4h11.8m-5.9-5.2v10.4m-4.1-9l8.2 7.6m-8.2 0l8.2-7.6M200.4 657.2h11.8m-5.9-5.2v10.4m-4.1-9l8.2 7.6m-8.2 0l8.2-7.6M250.6 685.3h11.8m-5.9-5.2v10.4m-4.1-9l8.2 7.6m-8.2 0l8.2-7.6M227.5 672.7h11.8m-5.9-5.2v10.4m-4.1-9l8.2 7.6m-8.2 0l8.2-7.6M178.9 647.8h11.8m-5.9-5.2v10.4m-4.1-9l8.2 7.6m-8.2 0l8.2-7.6M224.4 667.9h11.8m-5.9-5.2v10.4m-4.1-9l8.2 7.6m-8.2 0l8.2-7.6M221.0 672.4h11.8m-5.9-5.2v10.4m-4.1-9l8.2 7.6m-8.2 0l8.2-7.6M242.1 683.3h11.8m-5.9-5.2v10.4m-4.1-9l8.2 7.6m-8.2 0l8.2-7.6M212.8 664.1h11.8m-5.9-5.2v10.4m-4.1-9l8.2 7.6m-8.2 0l8.2-7.6M211.3 667.4h11.8m-5.9-5.2v10.4m-4.1-9l8.2 7.6m-8.2 0l8.2-7.6M208.8 659.6h11.8m-5.9-5.2v10.4m-4.1-9l8.2 7.6m-8.2 0l8.2-7.6M211.0 662.0h11.8m-5.9-5.2v10.4m-4.1-9l8.2 7.6m-8.2 0l8.2-7.6M182.5 643.4h11.8m-5.9-5.2v10.4m-4.1-9l8.2 7.6m-8.2 0l8.2-7.6M205.9 662.1h11.8m-5.9-5.2v10.4m-4.1-9l8.2 7.6m-8.2 0l8.2-7.6M197.9 654.5h11.8m-5.9-5.2v10.4m-4.1-9l8.2 7.6m-8.2 0l8.2-7.6M247.6 686.3h11.8m-5.9-5.2v10.4m-4.1-9l8.2 7.6m-8.2 0l8.2-7.6M185.0 644.3h11.8m-5.9-5.2v10.4m-4.1-9l8.2 7.6m-8.2 0l8.2-7.6M220.5 664.3h11.8m-5.9-5.2v10.4m-4.1-9l8.2 7.6m-8.2 0l8.2-7.6M168.5 640.2h11.8m-5.9-5.2v10.4m-4.1-9l8.2 7.6m-8.2 0l8.2-7.6" stroke="#ff0000" stroke-width="1.25" fill="none"/><path d="M72.7 646.8h11.8m-5.9-5.2v10.4m-4.1-9l8.2 7.6m-8.2 0l8.2-7.6M64.7 641.2h11.8m-5.9-5.2v10.4m-4.1-9l8.2 7.6m-8.2 0l8.2-7.6M93.3 663.8h11.8m-5.9-5.2v10.4m-4.1-9l8.2 7.6m-8.2 0l8.2-7.6M87.1 658.8h11.8m-5.9-5.2v10.4m-4.1-9l8.2 7.6m-8.2 0l8.2-7.6M85.8 652.8h11.8m-5.9-5.2v10.4m-4.1-9l8.2 7.6m-8.2 0l8.2-7.6M78.9 652.3h11.8m-5.9-5.2v10.4m-4.1-9l8.2 7.6m-8.2 0l8.2-7.6M58.0 636.4h11.8m-5.9-5.2v10.4m-4.1-9l8.2 7.6m-8.2 0l8.2-7.6M70.9 645.5h11.8m-5.9-5.2v10.4m-4.1-9l8.2 7.6m-8.2 0l8.2-7.6M79.8 652.8h11.8m-5.9-5.2v10.4m-4.1-9l8.2 7.6m-8.2 0l8.2-7.6M82.1 653.2h11.8m-5.9-5.2v10.4m-4.1-9l8.2 7.6m-8.2 0l8.2-7.6M60.5 636.7h11.8m-5.9-5.2v10.4m-4.1-9l8.2 7.6m-8.2 0l8.2-7.6M63.5 640.6h11.8m-5.9-5.2v10.4m-4.1-9l8.2 7.6m-8.2 0l8.2-7.6M68.8 644.5h11.8m-5.9-5.2v10.4m-4.1-9l8.2 7.6m-8.2 0l8.2-7.6M71.2 645.0h11.8m-5.9-5.2v10.4m-4.1-9l8.2 7.6m-8.2 0l8.2-7.6M59.6 636.4h11.8m-5.9-5.2v10.4m-4.1-9l8.2 7.6m-8.2 0l8.2-7.6M72.7 647.7h11.8m-5.9-5.2v10.4m-4.1-9l8.2 7.6m-8.2 0l8.2-7.6M84.3 655.4h11.8m-5.9-5.2v10.4m-4.1-9l8.2 7.6m-8.2 0l8.2-7.6M84.4 654.6h11.8m-5.9-5.2v10.4m-4.1-9l8.2 7.6m-8.2 0l8.2-7.6M77.2 651.1h11.8m-5.9-5.2v10.4m-4.1-9l8.2 7.6m-8.2 0l8.2-7.6M74.4 646.2h11.8m-5.9-5.2v10.4m-4.1-9l8.2 7.6m-8.2 0l8.2-7.6M73.4 648.2h11.8m-5.9-5.2v10.4m-4.1-9l8.2 7.6m-8.2 0l8.2-7.6M63.1 640.2h11.8m-5.9-5.2v10.4m-4.1-9l8.2 7.6m-8.2 0l8.2-7.6M63.8 641.0h11.8m-5.9-5.2v10.4m-4.1-9l8.2 7.6m-8.2 0l8.2-7.6M82.6 654.7h11.8m-5.9-5.2v10.4m-4.1-9l8.2 7.6m-8.2 0l8.2-7.6M63.9 640.9h11.8m-5.9-5.2v10.4m-4.1-9l8.2 7.6m-8.2 0l8.2-7.6M70.2 645.6h11.8m-5.9-5.2v10.4m-4.1-9l8.2 7.6m-8.2 0l8.2-7.6M77.8 650.6h11.8m-5.9-5.2v10.4m-4.1-9l8.2 7.6m-8.2 0l8.2-7.6M90.8 661.1h11.8m-5.9-5.2v10.4m-4.1-9l8.2 7.6m-8.2 0l8.2-7.6M59.2 636.1h11.8m-5.9-5.2v10.4m-4.1-9l8.2 7.6m-8.2 0l8.2-7.6M87.2 658.8h11.8m-5.9-5.2v10.4m-4.1-9l8.2 7.6m-8.2 0l8.2-7.6M94.7 664.4h11.8m-5.9-5.2v10.4m-4.1-9l8.2 7.6m-8.2 0l8.2-7.6M83.3 655.7h11.8m-5.9-5.2v10.4m-4.1-9l8.2 7.6m-8.2 0l8.2-7.6M95.0 665.1h11.8m-5.9-5.2v10.4m-4.1-9l8.2 7.6m-8.2 0l8.2-7.6M87.3 659.0h11.8m-5.9-5.2v10.4m-4.1-9l8.2 7.6m-8.2 0l8.2-7.6M96.5 665.0h11.8m-5.9-5.2v10.4m-4.1-9l8.2 7.6m-8.2 0l8.2-7.6M85.2 657.1h11.8m-5.9-5.2v10.4m-4.1-9l8.2 7.6m-8.2 0l8.2-7.6M68.1 646.0h11.8m-5.9-5.2v10.4m-4.1-9l8.2 7.6m-8.2 0l8.2-7.6M63.0 639.4h11.8m-5.9-5.2v10.4m-4.1-9l8.2 7.6m-8.2 0l8.2-7.6M67.8 642.3h11.8m-5.9-5.2v10.4m-4.1-9l8.2 7.6m-8.2 0l8.2-7.6M83.0 655.4h11.8m-5.9-5.2v10.4m-4.1-9l8.2 7.6m-8.2 0l8.2-7.6M58.5 636.6h11.8m-5.9-5.2v10.4m-4.1-9l8.2 7.6m-8.2 0l8.2-7.6M77.0 650.5h11.8m-5.9-5.2v10.4m-4.1-9l8.2 7.6m-8.2 0l8.2-7.6M75.8 648.4h11.8m-5.9-5.2v10.4m-4.1-9l8.2 7.6m-8.2 0l8.2-7.6M60.2 637.6h11.8m-5.9-5.2v10.4m-4.1-9l8.2 7.6m-8.2 0l8.2-7.6M61.8 639.4h11.8m-5.9-5.2v10.4m-4.1-9l8.2 7.6m-8.2 0l8.2-7.6M75.8 648.2h11.8m-5.9-5.2v10.4m-4.1-9l8.2 7.6m-8.2 0l8.2-7.6M74.0 648.0h11.8m-5.9-5.2v10.4m-4.1-9l8.2 7.6m-8.2 0l8.2-7.6M91.9 661.6h11.8m-5.9-5.2v10.4m-4.1-9l8.2 7.6m-8.2 0l8.2-7.6M60.4 637.1h11.8m-5.9-5.2v10.4m-4.1-9l8.2 7.6m-8.2 0l8.2-7.6M71.4 645.9h11.8m-5.9-5.2v10.4m-4.1-9l8.2 7.6m-8.2 0l8.2-7.6M82.4 654.0h11.8m-5.9-5.2v10.4m-4.1-9l8.2 7.6m-8.2 0l8.2-7.6M72.4 646.1h11.8m-5.9-5.2v10.4m-4.1-9l8.2 7.6m-8.2 0l8.2-7.6M58.3 635.8h11.8m-5.9-5.2v10.4m-4.1-9l8.2 7.6m-8.2 0l8.2-7.6M69.5 644.5h11.8m-5.9-5.2v10.4m-4.1-9l8.2 7.6m-8.2 0l8.2-7.6M89.7 660.8h11.8m-5.9-5.2v10.4m-4.1-9l8.2 7.6m-8.2 0l8.2-7.6M81.5 653.0h11.8m-5.9-5.2v10.4m-4.1-9l8.2 7.6m-8.2 0l8.2-7.6M95.5 666.0h11.8m-5.9-5.2v10.4m-4.1-9l8.2 7.6m-8.2 0l8.2-7.6M89.3 660.8h11.8m-5.9-5.2v10.4m-4.1-9l8.2 7.6m-8.2 0l8.2-7.6M68.3 644.5h11.8m-5.9-5.2v10.4m-4.1-9l8.2 7.6m-8.2 0l8.2-7.6M58.8 636.0h11.8m-5.9-5.2v10.4m-4.1-9l8.2 7.6m-8.2 0l8.2-7.6M61.7 637.3h11.8m-5.9-5.2v10.4m-4.1-9l8.2 7.6m-8.2 0l8.2-7.6M76.0 648.9h11.8m-5.9-5.2v10.4m-4.1-9l8.2 7.6m-8.2 0l8.2-7.6M68.9 643.7h11.8m-5.9-5.2v10.4m-4.1-9l8.2 7.6m-8.2 0l8.2-7.6M76.5 652.7h11.8m-5.9-5.2v10.4m-4.1-9l8.2 7.6m-8.2 0l8.2-7.6M78.7 651.7h11.8m-5.9-5.2v10.4m-4.1-9l8.2 7.6m-8.2 0l8.2-7.6M74.3 648.6h11.8m-5.9-5.2v10.4m-4.1-9l8.2 7.6m-8.2 0l8.2-7.6M74.5 648.2h11.8m-5.9-5.2v10.4m-4.1-9l8.2 7.6m-8.2 0l8.2-7.6M72.0 646.6h11.8m-5.9-5.2v10.4m-4.1-9l8.2 7.6m-8.2 0l8.2-7.6M97.0 666.1h11.8m-5.9-5.2v10.4m-4.1-9l8.2 7.6m-8.2 0l8.2-7.6M88.6 658.8h11.8m-5.9-5.2v10.4m-4.1-9l8.2 7.6m-8.2 0l8.2-7.6M87.2 658.2h11.8m-5.9-5.2v10.4m-4.1-9l8.2 7.6m-8.2 0l8.2-7.6M60.6 637.6h11.8m-5.9-5.2v10.4m-4.1-9l8.2 7.6m-8.2 0l8.2-7.6M98.7 668.5h11.8m-5.9-5.2v10.4m-4.1-9l8.2 7.6m-8.2 0l8.2-7.6M89.0 659.1h11.8m-5.9-5.2v10.4m-4.1-9l8.2 7.6m-8.2 0l8.2-7.6M93.6 663.2h11.8m-5.9-5.2v10.4m-4.1-9l8.2 7.6m-8.2 0l8.2-7.6M70.9 647.1h11.8m-5.9-5.2v10.4m-4.1-9l8.2 7.6m-8.2 0l8.2-7.6M73.2 645.8h11.8m-5.9-5.2v10.4m-4.1-9l8.2 7.6m-8.2 0l8.2-7.6M61.8 639.3h11.8m-5.9-5.2v10.4m-4.1-9l8.2 7.6m-8.2 0l8.2-7.6M73.3 646.8h11.8m-5.9-5.2v10.4m-4.1-9l8.2 7.6m-8.2 0l8.2-7.6M82.4 653.5h11.8m-5.9-5.2v10.4m-4.1-9l8.2 7.6m-8.2 0l8.2-7.6M65.8 641.5h11.8m-5.9-5.2v10.4m-4.1-9l8.2 7.6m-8.2 0l8.2-7.6M59.7 638.8h11.8m-5.9-5.2v10.4m-4.1-9l8.2 7.6m-8.2 0l8.2-7.6M79.4 650.9h11.8m-5.9-5.2v10.4m-4.1-9l8.2 7.6m-8.2 0l8.2-7.6M67.5 643.2h11.8m-5.9-5.2v10.4m-4.1-9l8.2 7.6m-8.2 0l8.2-7.6M87.1 658.4h11.8m-5.9-5.2v10.4m-4.1-9l8.2 7.6m-8.2 0l8.2-7.6M64.7 637.0h11.8m-5.9-5.2v10.4m-4.1-9l8.2 7.6m-8.2 0l8.2-7.6M97.1 665.7h11.8m-5.9-5.2v10.4m-4.1-9l8.2 7.6m-8.2 0l8.2-7.6M90.5 661.6h11.8m-5.9-5.2v10.4m-4.1-9l8.2 7.6m-8.2 0l8.2-7.6M78.5 651.1h11.8m-5.9-5.2v10.4m-4.1-9l8.2 7.6m-8.2 0l8.2-7.6M91.2 661.9h11.8m-5.9-5.2v10.4m-4.1-9l8.2 7.6m-8.2 0l8.2-7.6M86.5 658.0h11.8m-5.9-5.2v10.4m-4.1-9l8.2 7.6m-8.2 0l8.2-7.6M88.3 658.7h11.8m-5.9-5.2v10.4m-4.1-9l8.2 7.6m-8.2 0l8.2-7.6M92.3 663.2h11.8m-5.9-5.2v10.4m-4.1-9l8.2 7.6m-8.2 0l8.2-7.6M76.0 649.7h11.8m-5.9-5.2v10.4m-4.1-9l8.2 7.6m-8.2 0l8.2-7.6M82.0 651.3h11.8m-5.9-5.2v10.4m-4.1-9l8.2 7.6m-8.2 0l8.2-7.6M85.2 656.0h11.8m-5.9-5.2v10.4m-4.1-9l8.2 7.6m-8.2 0l8.2-7.6M81.5 652.6h11.8m-5.9-5.2v10.4m-4.1-9l8.2 7.6m-8.2 0l8.2-7.6M60.3 637.0h11.8m-5.9-5.2v10.4m-4.1-9l8.2 7.6m-8.2 0l8.2-7.6M62.6 639.8h11.8m-5.9-5.2v10.4m-4.1-9l8.2 7.6m-8.2 0l8.2-7.6M85.2 657.4h11.8m-5.9-5.2v10.4m-4.1-9l8.2 7.6m-8.2 0l8.2-7.6M73.5 647.8h11.8m-5.9-5.2v10.4m-4.1-9l8.2 7.6m-8.2 0l8.2-7.6M94.0 664.6h11.8m-5.9-5.2v10.4m-4.1-9l8.2 7.6m-8.2 0l8.2-7.6M67.1 641.7h11.8m-5.9-5.2v10.4m-4.1-9l8.2 7.6m-8.2 0l8.2-7.6M66.1 641.8h11.8m-5.9-5.2v10.4m-4.1-9l8.2 7.6m-8.2 0l8.2-7.6M88.8 659.3h11.8m-5.9-5.2v10.4m-4.1-9l8.2 7.6m-8.2 0l8.2-7.6M97.3 666.8h11.8m-5.9-5.2v10.4m-4.1-9l8.2 7.6m-8.2 0l8.2-7.6M96.6 666.8h11.8m-5.9-5.2v10.4m-4.1-9l8.2 7.6m-8.2 0l8.2-7.6M69.0 643.0h11.8m-5.9-5.2v10.4m-4.1-9l8.2 7.6m-8.2 0l8.2-7.6M90.3 661.1h11.8m-5.9-5.2v10.4m-4.1-9l8.2 7.6m-8.2 0l8.2-7.6M77.0 649.4h11.8m-5.9-5.2v10.4m-4.1-9l8.2 7.6m-8.2 0l8.2-7.6M79.2 651.9h11.8m-5.9-5.2v10.4m-4.1-9l8.2 7.6m-8.2 0l8.2-7.6M86.1 656.5h11.8m-5.9-5.2v10.4m-4.1-9l8.2 7.6m-8.2 0l8.2-7.6M90.8 661.7h11.8m-5.9-5.2v10.4m-4.1-9l8.2 7.6m-8.2 0l8.2-7.6M69.8 643.9h11.8m-5.9-5.2v10.4m-4.1-9l8.2 7.6m-8.2 0l8.2-7.6M97.5 667.2h11.8m-5.9-5.2v10.4m-4.1-9l8.2 7.6m-8.2 0l8.2-7.6M59.0 636.8h11.8m-5.9-5.2v10.4m-4.1-9l8.2 7.6m-8.2 0l8.2-7.6M72.7 646.0h11.8m-5.9-5.2v10.4m-4.1-9l8.2 7.6m-8.2 0l8.2-7.6M63.5 640.2h11.8m-5.9-5.2v10.4m-4.1-9l8.2 7.6m-8.2 0l8.2-7.6M80.3 657.0h11.8m-5.9-5.2v10.4m-4.1-9l8.2 7.6m-8.2 0l8.2-7.6M88.4 658.7h11.8m-5.9-5.2v10.4m-4.1-9l8.2 7.6m-8.2 0l8.2-7.6M57.3 635.4h11.8m-5.9-5.2v10.4m-4.1-9l8.2 7.6m-8.2 0l8.2-7.6M74.6 649.0h11.8m-5.9-5.2v10.4m-4.1-9l8.2 7.6m-8.2 0l8.2-7.6M63.8 640.9h11.8m-5.9-5.2v10.4m-4.1-9l8.2 7.6m-8.2 0l8.2-7.6M83.2 654.6h11.8m-5.9-5.2v10.4m-4.1-9l8.2 7.6m-8.2 0l8.2-7.6M73.4 647.7h11.8m-5.9-5.2v10.4m-4.1-9l8.2 7.6m-8.2 0l8.2-7.6M59.7 636.5h11.8m-5.9-5.2v10.4m-4.1-9l8.2 7.6m-8.2 0l8.2-7.6M65.8 641.2h11.8m-5.9-5.2v10.4m-4.1-9l8.2 7.6m-8.2 0l8.2-7.6M77.2 650.0h11.8m-5.9-5.2v10.4m-4.1-9l8.2 7.6m-8.2 0l8.2-7.6M65.1 641.1h11.8m-5.9-5.2v10.4m-4.1-9l8.2 7.6m-8.2 0l8.2-7.6M66.2 641.8h11.8m-5.9-5.2v10.4m-4.1-9l8.2 7.6m-8.2 0l8.2-7.6M67.4 643.6h11.8m-5.9-5.2v10.4m-4.1-9l8.2 7.6m-8.2 0l8.2-7.6M61.5 638.5h11.8m-5.9-5.2v10.4m-4.1-9l8.2 7.6m-8.2 0l8.2-7.6M88.6 657.6h11.8m-5.9-5.2v10.4m-4.1-9l8.2 7.6m-8.2 0l8.2-7.6M75.9 649.7h11.8m-5.9-5.2v10.4m-4.1-9l8.2 7.6m-8.2 0l8.2-7.6M89.5 661.0h11.8m-5.9-5.2v10.4m-4.1-9l8.2 7.6m-8.2 0l8.2-7.6M72.0 646.5h11.8m-5.9-5.2v10.4m-4.1-9l8.2 7.6m-8.2 0l8.2-7.6M79.2 651.8h11.8m-5.9-5.2v10.4m-4.1-9l8.2 7.6m-8.2 0l8.2-7.6M60.3 636.6h11.8m-5.9-5.2v10.4m-4.1-9l8.2 7.6m-8.2 0l8.2-7.6M59.8 636.2h11.8m-5.9-5.2v10.4m-4.1-9l8.2 7.6m-8.2 0l8.2-7.6M95.6 666.2h11.8m-5.9-5.2v10.4m-4.1-9l8.2 7.6m-8.2 0l8.2-7.6M58.6 637.4h11.8m-5.9-5.2v10.4m-4.1-9l8.2 7.6m-8.2 0l8.2-7.6M72.7 647.0h11.8m-5.9-5.2v10.4m-4.1-9l8.2 7.6m-8.2 0l8.2-7.6M80.6 658.1h11.8m-5.9-5.2v10.4m-4.1-9l8.2 7.6m-8.2 0l8.2-7.6M85.2 656.7h11.8m-5.9-5.2v10.4m-4.1-9l8.2 7.6m-8.2 0l8.2-7.6M79.5 652.0h11.8m-5.9-5.2v10.4m-4.1-9l8.2 7.6m-8.2 0l8.2-7.6M98.5 668.0h11.8m-5.9-5.2v10.4m-4.1-9l8.2 7.6m-8.2 0l8.2-7.6M75.8 648.4h11.8m-5.9-5.2v10.4m-4.1-9l8.2 7.6m-8.2 0l8.2-7.6M95.8 665.5h11.8m-5.9-5.2v10.4m-4.1-9l8.2 7.6m-8.2 0l8.2-7.6M68.8 643.8h11.8m-5.9-5.2v10.4m-4.1-9l8.2 7.6m-8.2 0l8.2-7.6M64.5 636.5h11.8m-5.9-5.2v10.4m-4.1-9l8.2 7.6m-8.2 0l8.2-7.6" stroke="#00ff00" stroke-width="1.25" fill="none"/><path d="M456.1 617.5h11.8m-5.9-5.2v10.4m-4.1-9l8.2 7.6m-8.2 0l8.2-7.6M426.9 609.7h11.8m-5.9-5.2v10.4m-4.1-9l8.2 7.6m-8.2 0l8.2-7.6M505.4 646.4h11.8m-5.9-5.2v10.4m-4.1-9l8.2 7.6m-8.2 0l8.2-7.6M423.3 614.2h11.8m-5.9-5.2v10.4m-4.1-9l8.2 7.6m-8.2 0l8.2-7.6M474.7 624.3h11.8m-5.9-5.2v10.4m-4.1-9l8.2 7.6m-8.2 0l8.2-7.6M532.8 664.9h11.8m-5.9-5.2v10.4m-4.1-9l8.2 7.6m-8.2 0l8.2-7.6M529.8 664.2h11.8m-5.9-5.2v10.4m-4.1-9l8.2 7.6m-8.2 0l8.2-7.6M437.9 605.0h11.8m-5.9-5.2v10.4m-4.1-9l8.2 7.6m-8.2 0l8.2-7.6M535.9 678.9h11.8m-5.9-5.2v10.4m-4.1-9l8.2 7.6m-8.2 0l8.2-7.6M419.6 612.9h11.8m-5.9-5.2v10.4m-4.1-9l8.2 7.6m-8.2 0l8.2-7.6M429.1 614.4h11.8m-5.9-5.2v10.4m-4.1-9l8.2 7.6m-8.2 0l8.2-7.6M440.3 614.5h11.8m-5.9-5.2v10.4m-4.1-9l8.2 7.6m-8.2 0l8.2-7.6M458.6 612.3h11.8m-5.9-5.2v10.4m-4.1-9l8.2 7.6m-8.2 0l8.2-7.6M522.2 669.3h11.8m-5.9-5.2v10.4m-4.1-9l8.2 7.6m-8.2 0l8.2-7.6M511.2 669.3h11.8m-5.9-5.2v10.4m-4.1-9l8.2 7.6m-8.2 0l8.2-7.6M449.7 604.4h11.8m-5.9-5.2v10.4m-4.1-9l8.2 7.6m-8.2 0l8.2-7.6M465.6 638.4h11.8m-5.9-5.2v10.4m-4.1-9l8.2 7.6m-8.2 0l8.2-7.6M513.9 655.4h11.8m-5.9-5.2v10.4m-4.1-9l8.2 7.6m-8.2 0l8.2-7.6M519.1 655.8h11.8m-5.9-5.2v10.4m-4.1-9l8.2 7.6m-8.2 0l8.2-7.6M545.8 683.2h11.8m-5.9-5.2v10.4m-4.1-9l8.2 7.6m-8.2 0l8.2-7.6M537.3 678.3h11.8m-5.9-5.2v10.4m-4.1-9l8.2 7.6m-8.2 0l8.2-7.6M440.6 607.4h11.8m-5.9-5.2v10.4m-4.1-9l8.2 7.6m-8.2 0l8.2-7.6M481.9 644.0h11.8m-5.9-5.2v10.4m-4.1-9l8.2 7.6m-8.2 0l8.2-7.6M498.4 651.1h11.8m-5.9-5.2v10.4m-4.1-9l8.2 7.6m-8.2 0l8.2-7.6M416.8 612.1h11.8m-5.9-5.2v10.4m-4.1-9l8.2 7.6m-8.2 0l8.2-7.6M507.6 655.9h11.8m-5.9-5.2v10.4m-4.1-9l8.2 7.6m-8.2 0l8.2-7.6M501.1 640.0h11.8m-5.9-5.2v10.4m-4.1-9l8.2 7.6m-8.2 0l8.2-7.6M507.5 645.7h11.8m-5.9-5.2v10.4m-4.1-9l8.2 7.6m-8.2 0l8.2-7.6M494.3 650.2h11.8m-5.9-5.2v10.4m-4.1-9l8.2 7.6m-8.2 0l8.2-7.6M445.3 613.6h11.8m-5.9-5.2v10.4m-4.1-9l8.2 7.6m-8.2 0l8.2-7.6M510.2 670.0h11.8m-5.9-5.2v10.4m-4.1-9l8.2 7.6m-8.2 0l8.2-7.6M506.8 644.0h11.8m-5.9-5.2v10.4m-4.1-9l8.2 7.6m-8.2 0l8.2-7.6M434.2 605.3h11.8m-5.9-5.2v10.4m-4.1-9l8.2 7.6m-8.2 0l8.2-7.6M442.8 602.6h11.8m-5.9-5.2v10.4m-4.1-9l8.2 7.6m-8.2 0l8.2-7.6M465.4 617.4h11.8m-5.9-5.2v10.4m-4.1-9l8.2 7.6m-8.2 0l8.2-7.6M466.7 631.5h11.8m-5.9-5.2v10.4m-4.1-9l8.2 7.6m-8.2 0l8.2-7.6M497.9 639.8h11.8m-5.9-5.2v10.4m-4.1-9l8.2 7.6m-8.2 0l8.2-7.6M436.8 609.9h11.8m-5.9-5.2v10.4m-4.1-9l8.2 7.6m-8.2 0l8.2-7.6M488.4 633.1h11.8m-5.9-5.2v10.4m-4.1-9l8.2 7.6m-8.2 0l8.2-7.6M513.2 644.5h11.8m-5.9-5.2v10.4m-4.1-9l8.2 7.6m-8.2 0l8.2-7.6M446.3 610.4h11.8m-5.9-5.2v10.4m-4.1-9l8.2 7.6m-8.2 0l8.2-7.6M435.5 611.9h11.8m-5.9-5.2v10.4m-4.1-9l8.2 7.6m-8.2 0l8.2-7.6M500.6 665.5h11.8m-5.9-5.2v10.4m-4.1-9l8.2 7.6m-8.2 0l8.2-7.6M441.3 604.8h11.8m-5.9-5.2v10.4m-4.1-9l8.2 7.6m-8.2 0l8.2-7.6M461.5 620.2h11.8m-5.9-5.2v10.4m-4.1-9l8.2 7.6m-8.2 0l8.2-7.6M422.0 595.2h11.8m-5.9-5.2v10.4m-4.1-9l8.2 7.6m-8.2 0l8.2-7.6M513.7 657.7h11.8m-5.9-5.2v10.4m-4.1-9l8.2 7.6m-8.2 0l8.2-7.6M532.8 661.8h11.8m-5.9-5.2v10.4m-4.1-9l8.2 7.6m-8.2 0l8.2-7.6M450.4 613.5h11.8m-5.9-5.2v10.4m-4.1-9l8.2 7.6m-8.2 0l8.2-7.6M528.6 667.3h11.8m-5.9-5.2v10.4m-4.1-9l8.2 7.6m-8.2 0l8.2-7.6M457.4 615.9h11.8m-5.9-5.2v10.4m-4.1-9l8.2 7.6m-8.2 0l8.2-7.6M491.9 654.5h11.8m-5.9-5.2v10.4m-4.1-9l8.2 7.6m-8.2 0l8.2-7.6M544.4 676.0h11.8m-5.9-5.2v10.4m-4.1-9l8.2 7.6m-8.2 0l8.2-7.6M484.0 630.7h11.8m-5.9-5.2v10.4m-4.1-9l8.2 7.6m-8.2 0l8.2-7.6M460.5 634.6h11.8m-5.9-5.2v10.4m-4.1-9l8.2 7.6m-8.2 0l8.2-7.6M486.8 641.9h11.8m-5.9-5.2v10.4m-4.1-9l8.2 7.6m-8.2 0l8.2-7.6M518.9 661.1h11.8m-5.9-5.2v10.4m-4.1-9l8.2 7.6m-8.2 0l8.2-7.6M441.1 602.6h11.8m-5.9-5.2v10.4m-4.1-9l8.2 7.6m-8.2 0l8.2-7.6M439.8 605.8h11.8m-5.9-5.2v10.4m-4.1-9l8.2 7.6m-8.2 0l8.2-7.6M501.8 642.4h11.8m-5.9-5.2v10.4m-4.1-9l8.2 7.6m-8.2 0l8.2-7.6M467.3 639.0h11.8m-5.9-5.2v10.4m-4.1-9l8.2 7.6m-8.2 0l8.2-7.6M510.9 649.2h11.8m-5.9-5.2v10.4m-4.1-9l8.2 7.6m-8.2 0l8.2-7.6M412.8 601.0h11.8m-5.9-5.2v10.4m-4.1-9l8.2 7.6m-8.2 0l8.2-7.6M526.6 659.3h11.8m-5.9-5.2v10.4m-4.1-9l8.2 7.6m-8.2 0l8.2-7.6M512.6 651.0h11.8m-5.9-5.2v10.4m-4.1-9l8.2 7.6m-8.2 0l8.2-7.6M427.2 599.3h11.8m-5.9-5.2v10.4m-4.1-9l8.2 7.6m-8.2 0l8.2-7.6M489.7 641.2h11.8m-5.9-5.2v10.4m-4.1-9l8.2 7.6m-8.2 0l8.2-7.6M485.4 636.4h11.8m-5.9-5.2v10.4m-4.1-9l8.2 7.6m-8.2 0l8.2-7.6M440.1 610.7h11.8m-5.9-5.2v10.4m-4.1-9l8.2 7.6m-8.2 0l8.2-7.6M492.7 651.9h11.8m-5.9-5.2v10.4m-4.1-9l8.2 7.6m-8.2 0l8.2-7.6M438.5 608.0h11.8m-5.9-5.2v10.4m-4.1-9l8.2 7.6m-8.2 0l8.2-7.6M454.1 627.9h11.8m-5.9-5.2v10.4m-4.1-9l8.2 7.6m-8.2 0l8.2-7.6M547.8 677.5h11.8m-5.9-5.2v10.4m-4.1-9l8.2 7.6m-8.2 0l8.2-7.6M500.8 661.1h11.8m-5.9-5.2v10.4m-4.1-9l8.2 7.6m-8.2 0l8.2-7.6M415.6 601.0h11.8m-5.9-5.2v10.4m-4.1-9l8.2 7.6m-8.2 0l8.2-7.6M437.1 600.0h11.8m-5.9-5.2v10.4m-4.1-9l8.2 7.6m-8.2 0l8.2-7.6M428.0 609.6h11.8m-5.9-5.2v10.4m-4.1-9l8.2 7.6m-8.2 0l8.2-7.6M438.0 599.5h11.8m-5.9-5.2v10.4m-4.1-9l8.2 7.6m-8.2 0l8.2-7.6M443.0 602.5h11.8m-5.9-5.2v10.4m-4.1-9l8.2 7.6m-8.2 0l8.2-7.6M481.8 627.1h11.8m-5.9-5.2v10.4m-4.1-9l8.2 7.6m-8.2 0l8.2-7.6M480.6 625.3h11.8m-5.9-5.2v10.4m-4.1-9l8.2 7.6m-8.2 0l8.2-7.6M455.6 615.7h11.8m-5.9-5.2v10.4m-4.1-9l8.2 7.6m-8.2 0l8.2-7.6M530.1 658.7h11.8m-5.9-5.2v10.4m-4.1-9l8.2 7.6m-8.2 0l8.2-7.6M471.1 617.4h11.8m-5.9-5.2v10.4m-4.1-9l8.2 7.6m-8.2 0l8.2-7.6M452.2 625.6h11.8m-5.9-5.2v10.4m-4.1-9l8.2 7.6m-8.2 0l8.2-7.6M451.4 605.0h11.8m-5.9-5.2v10.4m-4.1-9l8.2 7.6m-8.2 0l8.2-7.6M454.3 623.8h11.8m-5.9-5.2v10.4m-4.1-9l8.2 7.6m-8.2 0l8.2-7.6M500.0 658.9h11.8m-5.9-5.2v10.4m-4.1-9l8.2 7.6m-8.2 0l8.2-7.6M525.5 660.8h11.8m-5.9-5.2v10.4m-4.1-9l8.2 7.6m-8.2 0l8.2-7.6M428.8 606.3h11.8m-5.9-5.2v10.4m-4.1-9l8.2 7.6m-8.2 0l8.2-7.6M418.2 606.5h11.8m-5.9-5.2v10.4m-4.1-9l8.2 7.6m-8.2 0l8.2-7.6M511.9 657.7h11.8m-5.9-5.2v10.4m-4.1-9l8.2 7.6m-8.2 0l8.2-7.6M423.5 607.3h11.8m-5.9-5.2v10.4m-4.1-9l8.2 7.6m-8.2 0l8.2-7.6M465.7 637.2h11.8m-5.9-5.2v10.4m-4.1-9l8.2 7.6m-8.2 0l8.2-7.6M516.9 667.7h11.8m-5.9-5.2v10.4m-4.1-9l8.2 7.6m-8.2 0l8.2-7.6M509.5 649.5h11.8m-5.9-5.2v10.4m-4.1-9l8.2 7.6m-8.2 0l8.2-7.6M509.4 645.6h11.8m-5.9-5.2v10.4m-4.1-9l8.2 7.6m-8.2 0l8.2-7.6M412.8 604.4h11.8m-5.9-5.2v10.4m-4.1-9l8.2 7.6m-8.2 0l8.2-7.6M417.9 599.5h11.8m-5.9-5.2v10.4m-4.1-9l8.2 7.6m-8.2 0l8.2-7.6M543.2 672.1h11.8m-5.9-5.2v10.4m-4.1-9l8.2 7.6m-8.2 0l8.2-7.6M526.5 661.3h11.8m-5.9-5.2v10.4m-4.1-9l8.2 7.6m-8.2 0l8.2-7.6M485.4 634.4h11.8m-5.9-5.2v10.4m-4.1-9l8.2 7.6m-8.2 0l8.2-7.6M486.6 645.6h11.8m-5.9-5.2v10.4m-4.1-9l8.2 7.6m-8.2 0l8.2-7.6M542.9 681.2h11.8m-5.9-5.2v10.4m-4.1-9l8.2 7.6m-8.2 0l8.2-7.6M457.3 631.1h11.8m-5.9-5.2v10.4m-4.1-9l8.2 7.6m-8.2 0l8.2-7.6M441.9 616.1h11.8m-5.9-5.2v10.4m-4.1-9l8.2 7.6m-8.2 0l8.2-7.6M513.3 658.1h11.8m-5.9-5.2v10.4m-4.1-9l8.2 7.6m-8.2 0l8.2-7.6M519.1 648.5h11.8m-5.9-5.2v10.4m-4.1-9l8.2 7.6m-8.2 0l8.2-7.6M523.1 666.0h11.8m-5.9-5.2v10.4m-4.1-9l8.2 7.6m-8.2 0l8.2-7.6M470.6 632.4h11.8m-5.9-5.2v10.4m-4.1-9l8.2 7.6m-8.2 0l8.2-7.6M433.3 602.7h11.8m-5.9-5.2v10.4m-4.1-9l8.2 7.6m-8.2 0l8.2-7.6M460.6 618.9h11.8m-5.9-5.2v10.4m-4.1-9l8.2 7.6m-8.2 0l8.2-7.6M512.9 650.6h11.8m-5.9-5.2v10.4m-4.1-9l8.2 7.6m-8.2 0l8.2-7.6M429.2 596.2h11.8m-5.9-5.2v10.4m-4.1-9l8.2 7.6m-8.2 0l8.2-7.6M422.0 601.4h11.8m-5.9-5.2v10.4m-4.1-9l8.2 7.6m-8.2 0l8.2-7.6M489.6 637.4h11.8m-5.9-5.2v10.4m-4.1-9l8.2 7.6m-8.2 0l8.2-7.6M531.9 660.7h11.8m-5.9-5.2v10.4m-4.1-9l8.2 7.6m-8.2 0l8.2-7.6M434.2 609.0h11.8m-5.9-5.2v10.4m-4.1-9l8.2 7.6m-8.2 0l8.2-7.6M416.0 596.3h11.8m-5.9-5.2v10.4m-4.1-9l8.2 7.6m-8.2 0l8.2-7.6M477.7 637.8h11.8m-5.9-5.2v10.4m-4.1-9l8.2 7.6m-8.2 0l8.2-7.6M410.4 598.4h11.8m-5.9-5.2v10.4m-4.1-9l8.2 7.6m-8.2 0l8.2-7.6M454.5 614.8h11.8m-5.9-5.2v10.4m-4.1-9l8.2 7.6m-8.2 0l8.2-7.6M522.1 666.5h11.8m-5.9-5.2v10.4m-4.1-9l8.2 7.6m-8.2 0l8.2-7.6M471.6 633.4h11.8m-5.9-5.2v10.4m-4.1-9l8.2 7.6m-8.2 0l8.2-7.6M499.6 660.0h11.8m-5.9-5.2v10.4m-4.1-9l8.2 7.6m-8.2 0l8.2-7.6M524.9 666.3h11.8m-5.9-5.2v10.4m-4.1-9l8.2 7.6m-8.2 0l8.2-7.6M501.7 666.0h11.8m-5.9-5.2v10.4m-4.1-9l8.2 7.6m-8.2 0l8.2-7.6M434.9 602.4h11.8m-5.9-5.2v10.4m-4.1-9l8.2 7.6m-8.2 0l8.2-7.6M472.8 630.1h11.8m-5.9-5.2v10.4m-4.1-9l8.2 7.6m-8.2 0l8.2-7.6M491.2 648.2h11.8m-5.9-5.2v10.4m-4.1-9l8.2 7.6m-8.2 0l8.2-7.6M481.8 644.6h11.8m-5.9-5.2v10.4m-4.1-9l8.2 7.6m-8.2 0l8.2-7.6M491.2 657.5h11.8m-5.9-5.2v10.4m-4.1-9l8.2 7.6m-8.2 0l8.2-7.6M486.0 637.7h11.8m-5.9-5.2v10.4m-4.1-9l8.2 7.6m-8.2 0l8.2-7.6M451.3 629.2h11.8m-5.9-5.2v10.4m-4.1-9l8.2 7.6m-8.2 0l8.2-7.6M452.4 614.5h11.8m-5.9-5.2v10.4m-4.1-9l8.2 7.6m-8.2 0l8.2-7.6M526.4 655.2h11.8m-5.9-5.2v10.4m-4.1-9l8.2 7.6m-8.2 0l8.2-7.6M501.8 656.5h11.8m-5.9-5.2v10.4m-4.1-9l8.2 7.6m-8.2 0l8.2-7.6M518.6 653.6h11.8m-5.9-5.2v10.4m-4.1-9l8.2 7.6m-8.2 0l8.2-7.6M533.2 668.2h11.8m-5.9-5.2v10.4m-4.1-9l8.2 7.6m-8.2 0l8.2-7.6M430.8 613.6h11.8m-5.9-5.2v10.4m-4.1-9l8.2 7.6m-8.2 0l8.2-7.6M477.4 620.8h11.8m-5.9-5.2v10.4m-4.1-9l8.2 7.6m-8.2 0l8.2-7.6M484.1 637.1h11.8m-5.9-5.2v10.4m-4.1-9l8.2 7.6m-8.2 0l8.2-7.6M473.1 633.8h11.8m-5.9-5.2v10.4m-4.1-9l8.2 7.6m-8.2 0l8.2-7.6M531.9 673.7h11.8m-5.9-5.2v10.4m-4.1-9l8.2 7.6m-8.2 0l8.2-7.6M449.8 624.0h11.8m-5.9-5.2v10.4m-4.1-9l8.2 7.6m-8.2 0l8.2-7.6M424.1 594.2h11.8m-5.9-5.2v10.4m-4.1-9l8.2 7.6m-8.2 0l8.2-7.6M483.7 637.5h11.8m-5.9-5.2v10.4m-4.1-9l8.2 7.6m-8.2 0l8.2-7.6M526.0 662.4h11.8m-5.9-5.2v10.4m-4.1-9l8.2 7.6m-8.2 0l8.2-7.6M474.9 620.9h11.8m-5.9-5.2v10.4m-4.1-9l8.2 7.6m-8.2 0l8.2-7.6M448.5 603.1h11.8m-5.9-5.2v10.4m-4.1-9l8.2 7.6m-8.2 0l8.2-7.6M530.6 663.7h11.8m-5.9-5.2v10.4m-4.1-9l8.2 7.6m-8.2 0l8.2-7.6M434.0 604.5h11.8m-5.9-5.2v10.4m-4.1-9l8.2 7.6m-8.2 0l8.2-7.6M543.4 682.5h11.8m-5.9-5.2v10.4m-4.1-9l8.2 7.6m-8.2 0l8.2-7.6M483.2 642.4h11.8m-5.9-5.2v10.4m-4.1-9l8.2 7.6m-8.2 0l8.2-7.6M447.4 616.3h11.8m-5.9-5.2v10.4m-4.1-9l8.2 7.6m-8.2 0l8.2-7.6M471.0 619.1h11.8m-5.9-5.2v10.4m-4.1-9l8.2 7.6m-8.2 0l8.2-7.6M520.9 648.2h11.8m-5.9-5.2v10.4m-4.1-9l8.2 7.6m-8.2 0l8.2-7.6M541.8 682.0h11.8m-5.9-5.2v10.4m-4.1-9l8.2 7.6m-8.2 0l8.2-7.6M502.2 650.3h11.8m-5.9-5.2v10.4m-4.1-9l8.2 7.6m-8.2 0l8.2-7.6M455.8 617.6h11.8m-5.9-5.2v10.4m-4.1-9l8.2 7.6m-8.2 0l8.2-7.6M540.3 680.1h11.8m-5.9-5.2v10.4m-4.1-9l8.2 7.6m-8.2 0l8.2-7.6M451.2 620.5h11.8m-5.9-5.2v10.4m-4.1-9l8.2 7.6m-8.2 0l8.2-7.6M492.2 649.5h11.8m-5.9-5.2v10.4m-4.1-9l8.2 7.6m-8.2 0l8.2-7.6M505.5 657.3h11.8m-5.9-5.2v10.4m-4.1-9l8.2 7.6m-8.2 0l8.2-7.6M544.7 677.7h11.8m-5.9-5.2v10.4m-4.1-9l8.2 7.6m-8.2 0l8.2-7.6M527.5 669.5h11.8m-5.9-5.2v10.4m-4.1-9l8.2 7.6m-8.2 0l8.2-7.6M538.9 675.7h11.8m-5.9-5.2v10.4m-4.1-9l8.2 7.6m-8.2 0l8.2-7.6M523.5 658.7h11.8m-5.9-5.2v10.4m-4.1-9l8.2 7.6m-8.2 0l8.2-7.6M505.3 655.3h11.8m-5.9-5.2v10.4m-4.1-9l8.2 7.6m-8.2 0l8.2-7.6M508.8 659.3h11.8m-5.9-5.2v10.4m-4.1-9l8.2 7.6m-8.2 0l8.2-7.6M416.4 599.9h11.8m-5.9-5.2v10.4m-4.1-9l8.2 7.6m-8.2 0l8.2-7.6M537.3 664.9h11.8m-5.9-5.2v10.4m-4.1-9l8.2 7.6m-8.2 0l8.2-7.6M445.5 602.9h11.8m-5.9-5.2v10.4m-4.1-9l8.2 7.6m-8.2 0l8.2-7.6M547.6 682.5h11.8m-5.9-5.2v10.4m-4.1-9l8.2 7.6m-8.2 0l8.2-7.6M449.6 624.5h11.8m-5.9-5.2v10.4m-4.1-9l8.2 7.6m-8.2 0l8.2-7.6M435.2 601.8h11.8m-5.9-5.2v10.4m-4.1-9l8.2 7.6m-8.2 0l8.2-7.6M450.6 612.8h11.8m-5.9-5.2v10.4m-4.1-9l8.2 7.6m-8.2 0l8.2-7.6M467.6 626.7h11.8m-5.9-5.2v10.4m-4.1-9l8.2 7.6m-8.2 0l8.2-7.6M446.0 618.6h11.8m-5.9-5.2v10.4m-4.1-9l8.2 7.6m-8.2 0l8.2-7.6M444.8 608.6h11.8m-5.9-5.2v10.4m-4.1-9l8.2 7.6m-8.2 0l8.2-7.6M454.5 625.8h11.8m-5.9-5.2v10.4m-4.1-9l8.2 7.6m-8.2 0l8.2-7.6M445.9 616.5h11.8m-5.9-5.2v10.4m-4.1-9l8.2 7.6m-8.2 0l8.2-7.6M515.0 652.0h11.8m-5.9-5.2v10.4m-4.1-9l8.2 7.6m-8.2 0l8.2-7.6M522.0 656.9h11.8m-5.9-5.2v10.4m-4.1-9l8.2 7.6m-8.2 0l8.2-7.6M421.4 608.4h11.8m-5.9-5.2v10.4m-4.1-9l8.2 7.6m-8.2 0l8.2-7.6M436.5 604.1h11.8m-5.9-5.2v10.4m-4.1-9l8.2 7.6m-8.2 0l8.2-7.6M423.6 598.3h11.8m-5.9-5.2v10.4m-4.1-9l8.2 7.6m-8.2 0l8.2-7.6M512.9 653.2h11.8m-5.9-5.2v10.4m-4.1-9l8.2 7.6m-8.2 0l8.2-7.6M535.9 678.7h11.8m-5.9-5.2v10.4m-4.1-9l8.2 7.6m-8.2 0l8.2-7.6M437.1 615.0h11.8m-5.9-5.2v10.4m-4.1-9l8.2 7.6m-8.2 0l8.2-7.6M534.6 662.5h11.8m-5.9-5.2v10.4m-4.1-9l8.2 7.6m-8.2 0l8.2-7.6M468.8 618.8h11.8m-5.9-5.2v10.4m-4.1-9l8.2 7.6m-8.2 0l8.2-7.6M479.2 641.8h11.8m-5.9-5.2v10.4m-4.1-9l8.2 7.6m-8.2 0l8.2-7.6M508.9 668.9h11.8m-5.9-5.2v10.4m-4.1-9l8.2 7.6m-8.2 0l8.2-7.6M544.5 677.3h11.8m-5.9-5.2v10.4m-4.1-9l8.2 7.6m-8.2 0l8.2-7.6M415.8 605.4h11.8m-5.9-5.2v10.4m-4.1-9l8.2 7.6m-8.2 0l8.2-7.6M499.7 641.3h11.8m-5.9-5.2v10.4m-4.1-9l8.2 7.6m-8.2 0l8.2-7.6M466.7 616.3h11.8m-5.9-5.2v10.4m-4.1-9l8.2 7.6m-8.2 0l8.2-7.6M458.7 609.6h11.8m-5.9-5.2v10.4m-4.1-9l8.2 7.6m-8.2 0l8.2-7.6M510.4 644.6h11.8m-5.9-5.2v10.4m-4.1-9l8.2 7.6m-8.2 0l8.2-7.6M501.3 655.6h11.8m-5.9-5.2v10.4m-4.1-9l8.2 7.6m-8.2 0l8.2-7.6M462.4 630.2h11.8m-5.9-5.2v10.4m-4.1-9l8.2 7.6m-8.2 0l8.2-7.6M462.0 630.6h11.8m-5.9-5.2v10.4m-4.1-9l8.2 7.6m-8.2 0l8.2-7.6M544.0 682.3h11.8m-5.9-5.2v10.4m-4.1-9l8.2 7.6m-8.2 0l8.2-7.6M483.5 637.8h11.8m-5.9-5.2v10.4m-4.1-9l8.2 7.6m-8.2 0l8.2-7.6M422.8 597.0h11.8m-5.9-5.2v10.4m-4.1-9l8.2 7.6m-8.2 0l8.2-7.6M453.8 610.4h11.8m-5.9-5.2v10.4m-4.1-9l8.2 7.6m-8.2 0l8.2-7.6M528.3 659.7h11.8m-5.9-5.2v10.4m-4.1-9l8.2 7.6m-8.2 0l8.2-7.6M466.7 633.7h11.8m-5.9-5.2v10.4m-4.1-9l8.2 7.6m-8.2 0l8.2-7.6M413.9 599.3h11.8m-5.9-5.2v10.4m-4.1-9l8.2 7.6m-8.2 0l8.2-7.6M499.5 641.6h11.8m-5.9-5.2v10.4m-4.1-9l8.2 7.6m-8.2 0l8.2-7.6M412.8 605.6h11.8m-5.9-5.2v10.4m-4.1-9l8.2 7.6m-8.2 0l8.2-7.6M437.7 614.4h11.8m-5.9-5.2v10.4m-4.1-9l8.2 7.6m-8.2 0l8.2-7.6M479.0 633.6h11.8m-5.9-5.2v10.4m-4.1-9l8.2 7.6m-8.2 0l8.2-7.6M521.3 658.4h11.8m-5.9-5.2v10.4m-4.1-9l8.2 7.6m-8.2 0l8.2-7.6M498.9 650.1h11.8m-5.9-5.2v10.4m-4.1-9l8.2 7.6m-8.2 0l8.2-7.6M416.8 606.3h11.8m-5.9-5.2v10.4m-4.1-9l8.2 7.6m-8.2 0l8.2-7.6M463.4 616.2h11.8m-5.9-5.2v10.4m-4.1-9l8.2 7.6m-8.2 0l8.2-7.6M450.5 614.9h11.8m-5.9-5.2v10.4m-4.1-9l8.2 7.6m-8.2 0l8.2-7.6M460.1 611.5h11.8m-5.9-5.2v10.4m-4.1-9l8.2 7.6m-8.2 0l8.2-7.6M546.8 680.4h11.8m-5.9-5.2v10.4m-4.1-9l8.2 7.6m-8.2 0l8.2-7.6M433.6 600.1h11.8m-5.9-5.2v10.4m-4.1-9l8.2 7.6m-8.2 0l8.2-7.6M529.1 661.1h11.8m-5.9-5.2v10.4m-4.1-9l8.2 7.6m-8.2 0l8.2-7.6M418.0 604.5h11.8m-5.9-5.2v10.4m-4.1-9l8.2 7.6m-8.2 0l8.2-7.6M504.0 660.1h11.8m-5.9-5.2v10.4m-4.1-9l8.2 7.6m-8.2 0l8.2-7.6M540.9 678.0h11.8m-5.9-5.2v10.4m-4.1-9l8.2 7.6m-8.2 0l8.2-7.6M465.4 619.7h11.8m-5.9-5.2v10.4m-4.1-9l8.2 7.6m-8.2 0l8.2-7.6M500.8 650.4h11.8m-5.9-5.2v10.4m-4.1-9l8.2 7.6m-8.2 0l8.2-7.6M421.1 614.0h11.8m-5.9-5.2v10.4m-4.1-9l8.2 7.6m-8.2 0l8.2-7.6M520.0 663.7h11.8m-5.9-5.2v10.4m-4.1-9l8.2 7.6m-8.2 0l8.2-7.6M435.9 600.2h11.8m-5.9-5.2v10.4m-4.1-9l8.2 7.6m-8.2 0l8.2-7.6M416.3 608.9h11.8m-5.9-5.2v10.4m-4.1-9l8.2 7.6m-8.2 0l8.2-7.6M487.8 641.2h11.8m-5.9-5.2v10.4m-4.1-9l8.2 7.6m-8.2 0l8.2-7.6M458.3 615.3h11.8m-5.9-5.2v10.4m-4.1-9l8.2 7.6m-8.2 0l8.2-7.6M453.2 613.1h11.8m-5.9-5.2v10.4m-4.1-9l8.2 7.6m-8.2 0l8.2-7.6M419.4 616.9h11.8m-5.9-5.2v10.4m-4.1-9l8.2 7.6m-8.2 0l8.2-7.6M422.9 605.4h11.8m-5.9-5.2v10.4m-4.1-9l8.2 7.6m-8.2 0l8.2-7.6M428.9 604.8h11.8m-5.9-5.2v10.4m-4.1-9l8.2 7.6m-8.2 0l8.2-7.6M414.3 606.7h11.8m-5.9-5.2v10.4m-4.1-9l8.2 7.6m-8.2 0l8.2-7.6M515.5 646.2h11.8m-5.9-5.2v10.4m-4.1-9l8.2 7.6m-8.2 0l8.2-7.6M511.6 658.0h11.8m-5.9-5.2v10.4m-4.1-9l8.2 7.6m-8.2 0l8.2-7.6M467.7 633.9h11.8m-5.9-5.2v10.4m-4.1-9l8.2 7.6m-8.2 0l8.2-7.6M443.0 616.9h11.8m-5.9-5.2v10.4m-4.1-9l8.2 7.6m-8.2 0l8.2-7.6M471.8 612.3h11.8m-5.9-5.2v10.4m-4.1-9l8.2 7.6m-8.2 0l8.2-7.6M477.3 624.4h11.8m-5.9-5.2v10.4m-4.1-9l8.2 7.6m-8.2 0l8.2-7.6M425.1 594.5h11.8m-5.9-5.2v10.4m-4.1-9l8.2 7.6m-8.2 0l8.2-7.6M541.7 681.9h11.8m-5.9-5.2v10.4m-4.1-9l8.2 7.6m-8.2 0l8.2-7.6M442.4 614.5h11.8m-5.9-5.2v10.4m-4.1-9l8.2 7.6m-8.2 0l8.2-7.6M431.1 600.6h11.8m-5.9-5.2v10.4m-4.1-9l8.2 7.6m-8.2 0l8.2-7.6M459.5 636.0h11.8m-5.9-5.2v10.4m-4.1-9l8.2 7.6m-8.2 0l8.2-7.6M435.6 604.2h11.8m-5.9-5.2v10.4m-4.1-9l8.2 7.6m-8.2 0l8.2-7.6M496.8 652.2h11.8m-5.9-5.2v10.4m-4.1-9l8.2 7.6m-8.2 0l8.2-7.6M539.7 681.2h11.8m-5.9-5.2v10.4m-4.1-9l8.2 7.6m-8.2 0l8.2-7.6M450.2 628.0h11.8m-5.9-5.2v10.4m-4.1-9l8.2 7.6m-8.2 0l8.2-7.6M507.6 650.9h11.8m-5.9-5.2v10.4m-4.1-9l8.2 7.6m-8.2 0l8.2-7.6M508.1 644.4h11.8m-5.9-5.2v10.4m-4.1-9l8.2 7.6m-8.2 0l8.2-7.6M509.8 660.8h11.8m-5.9-5.2v10.4m-4.1-9l8.2 7.6m-8.2 0l8.2-7.6M489.4 650.3h11.8m-5.9-5.2v10.4m-4.1-9l8.2 7.6m-8.2 0l8.2-7.6M483.3 629.0h11.8m-5.9-5.2v10.4m-4.1-9l8.2 7.6m-8.2 0l8.2-7.6M536.9 677.0h11.8m-5.9-5.2v10.4m-4.1-9l8.2 7.6m-8.2 0l8.2-7.6M503.6 665.8h11.8m-5.9-5.2v10.4m-4.1-9l8.2 7.6m-8.2 0l8.2-7.6M438.3 605.5h11.8m-5.9-5.2v10.4m-4.1-9l8.2 7.6m-8.2 0l8.2-7.6M437.8 616.5h11.8m-5.9-5.2v10.4m-4.1-9l8.2 7.6m-8.2 0l8.2-7.6M509.3 650.6h11.8m-5.9-5.2v10.4m-4.1-9l8.2 7.6m-8.2 0l8.2-7.6M537.8 675.0h11.8m-5.9-5.2v10.4m-4.1-9l8.2 7.6m-8.2 0l8.2-7.6M548.1 686.7h11.8m-5.9-5.2v10.4m-4.1-9l8.2 7.6m-8.2 0l8.2-7.6M465.2 640.4h11.8m-5.9-5.2v10.4m-4.1-9l8.2 7.6m-8.2 0l8.2-7.6M520.0 660.8h11.8m-5.9-5.2v10.4m-4.1-9l8.2 7.6m-8.2 0l8.2-7.6M498.9 661.6h11.8m-5.9-5.2v10.4m-4.1-9l8.2 7.6m-8.2 0l8.2-7.6M504.1 661.0h11.8m-5.9-5.2v10.4m-4.1-9l8.2 7.6m-8.2 0l8.2-7.6M418.0 595.7h11.8m-5.9-5.2v10.4m-4.1-9l8.2 7.6m-8.2 0l8.2-7.6M441.4 606.2h11.8m-5.9-5.2v10.4m-4.1-9l8.2 7.6m-8.2 0l8.2-7.6M541.3 667.7h11.8m-5.9-5.2v10.4m-4.1-9l8.2 7.6m-8.2 0l8.2-7.6M525.4 664.7h11.8m-5.9-5.2v10.4m-4.1-9l8.2 7.6m-8.2 0l8.2-7.6M423.2 615.2h11.8m-5.9-5.2v10.4m-4.1-9l8.2 7.6m-8.2 0l8.2-7.6M487.4 637.4h11.8m-5.9-5.2v10.4m-4.1-9l8.2 7.6m-8.2 0l8.2-7.6M511.8 645.6h11.8m-5.9-5.2v10.4m-4.1-9l8.2 7.6m-8.2 0l8.2-7.6M512.1 659.4h11.8m-5.9-5.2v10.4m-4.1-9l8.2 7.6m-8.2 0l8.2-7.6M526.6 661.6h11.8m-5.9-5.2v10.4m-4.1-9l8.2 7.6m-8.2 0l8.2-7.6M421.3 605.1h11.8m-5.9-5.2v10.4m-4.1-9l8.2 7.6m-8.2 0l8.2-7.6M433.2 612.3h11.8m-5.9-5.2v10.4m-4.1-9l8.2 7.6m-8.2 0l8.2-7.6M524.9 662.7h11.8m-5.9-5.2v10.4m-4.1-9l8.2 7.6m-8.2 0l8.2-7.6M511.9 645.5h11.8m-5.9-5.2v10.4m-4.1-9l8.2 7.6m-8.2 0l8.2-7.6M528.3 660.8h11.8m-5.9-5.2v10.4m-4.1-9l8.2 7.6m-8.2 0l8.2-7.6M485.2 638.7h11.8m-5.9-5.2v10.4m-4.1-9l8.2 7.6m-8.2 0l8.2-7.6M492.7 639.2h11.8m-5.9-5.2v10.4m-4.1-9l8.2 7.6m-8.2 0l8.2-7.6M451.5 615.6h11.8m-5.9-5.2v10.4m-4.1-9l8.2 7.6m-8.2 0l8.2-7.6M439.4 597.5h11.8m-5.9-5.2v10.4m-4.1-9l8.2 7.6m-8.2 0l8.2-7.6M486.3 633.9h11.8m-5.9-5.2v10.4m-4.1-9l8.2 7.6m-8.2 0l8.2-7.6M512.9 652.8h11.8m-5.9-5.2v10.4m-4.1-9l8.2 7.6m-8.2 0l8.2-7.6M457.5 616.9h11.8m-5.9-5.2v10.4m-4.1-9l8.2 7.6m-8.2 0l8.2-7.6M441.9 614.4h11.8m-5.9-5.2v10.4m-4.1-9l8.2 7.6m-8.2 0l8.2-7.6M436.5 602.2h11.8m-5.9-5.2v10.4m-4.1-9l8.2 7.6m-8.2 0l8.2-7.6M498.1 639.9h11.8m-5.9-5.2v10.4m-4.1-9l8.2 7.6m-8.2 0l8.2-7.6M505.6 644.9h11.8m-5.9-5.2v10.4m-4.1-9l8.2 7.6m-8.2 0l8.2-7.6M473.1 616.8h11.8m-5.9-5.2v10.4m-4.1-9l8.2 7.6m-8.2 0l8.2-7.6M490.0 652.0h11.8m-5.9-5.2v10.4m-4.1-9l8.2 7.6m-8.2 0l8.2-7.6M476.6 632.5h11.8m-5.9-5.2v10.4m-4.1-9l8.2 7.6m-8.2 0l8.2-7.6M485.5 643.1h11.8m-5.9-5.2v10.4m-4.1-9l8.2 7.6m-8.2 0l8.2-7.6M455.4 626.5h11.8m-5.9-5.2v10.4m-4.1-9l8.2 7.6m-8.2 0l8.2-7.6M494.6 645.3h11.8m-5.9-5.2v10.4m-4.1-9l8.2 7.6m-8.2 0l8.2-7.6M439.7 600.9h11.8m-5.9-5.2v10.4m-4.1-9l8.2 7.6m-8.2 0l8.2-7.6M525.0 661.0h11.8m-5.9-5.2v10.4m-4.1-9l8.2 7.6m-8.2 0l8.2-7.6M442.0 604.9h11.8m-5.9-5.2v10.4m-4.1-9l8.2 7.6m-8.2 0l8.2-7.6M489.0 649.0h11.8m-5.9-5.2v10.4m-4.1-9l8.2 7.6m-8.2 0l8.2-7.6M483.5 644.3h11.8m-5.9-5.2v10.4m-4.1-9l8.2 7.6m-8.2 0l8.2-7.6M501.1 662.2h11.8m-5.9-5.2v10.4m-4.1-9l8.2 7.6m-8.2 0l8.2-7.6M475.3 617.6h11.8m-5.9-5.2v10.4m-4.1-9l8.2 7.6m-8.2 0l8.2-7.6M528.4 661.0h11.8m-5.9-5.2v10.4m-4.1-9l8.2 7.6m-8.2 0l8.2-7.6M469.8 617.2h11.8m-5.9-5.2v10.4m-4.1-9l8.2 7.6m-8.2 0l8.2-7.6M424.9 597.2h11.8m-5.9-5.2v10.4m-4.1-9l8.2 7.6m-8.2 0l8.2-7.6M539.9 680.7h11.8m-5.9-5.2v10.4m-4.1-9l8.2 7.6m-8.2 0l8.2-7.6M435.3 598.2h11.8m-5.9-5.2v10.4m-4.1-9l8.2 7.6m-8.2 0l8.2-7.6M412.1 605.4h11.8m-5.9-5.2v10.4m-4.1-9l8.2 7.6m-8.2 0l8.2-7.6M483.8 644.3h11.8m-5.9-5.2v10.4m-4.1-9l8.2 7.6m-8.2 0l8.2-7.6M545.2 680.2h11.8m-5.9-5.2v10.4m-4.1-9l8.2 7.6m-8.2 0l8.2-7.6M450.1 616.7h11.8m-5.9-5.2v10.4m-4.1-9l8.2 7.6m-8.2 0l8.2-7.6M484.6 634.7h11.8m-5.9-5.2v10.4m-4.1-9l8.2 7.6m-8.2 0l8.2-7.6M489.2 652.6h11.8m-5.9-5.2v10.4m-4.1-9l8.2 7.6m-8.2 0l8.2-7.6M523.0 657.6h11.8m-5.9-5.2v10.4m-4.1-9l8.2 7.6m-8.2 0l8.2-7.6M385.6 589.7h11.8m-5.9-5.2v10.4m-4.1-9l8.2 7.6m-8.2 0l8.2-7.6M425.1 589.0h11.8m-5.9-5.2v10.4m-4.1-9l8.2 7.6m-8.2 0l8.2-7.6M489.6 619.0h11.8m-5.9-5.2v10.4m-4.1-9l8.2 7.6m-8.2 0l8.2-7.6M550.1 680.0h11.8m-5.9-5.2v10.4m-4.1-9l8.2 7.6m-8.2 0l8.2-7.6M542.1 687.0h11.8m-5.9-5.2v10.4m-4.1-9l8.2 7.6m-8.2 0l8.2-7.6M514.1 671.0h11.8m-5.9-5.2v10.4m-4.1-9l8.2 7.6m-8.2 0l8.2-7.6" stroke="#0000ff" stroke-width="1.25" fill="none"/><path d="M177.8 867.2h11.8m-5.9-5.2v10.4m-4.1-9l8.2 7.6m-8.2 0l8.2-7.6M228.5 930.9h11.8m-5.9-5.2v10.4m-4.1-9l8.2 7.6m-8.2 0l8.2-7.6M218.4 914.7h11.8m-5.9-5.2v10.4m-4.1-9l8.2 7.6m-8.2 0l8.2-7.6M208.8 901.4h11.8m-5.9-5.2v10.4m-4.1-9l8.2 7.6m-8.2 0l8.2-7.6M207.3 896.2h11.8m-5.9-5.2v10.4m-4.1-9l8.2 7.6m-8.2 0l8.2-7.6M239.5 948.5h11.8m-5.9-5.2v10.4m-4.1-9l8.2 7.6m-8.2 0l8.2-7.6M216.7 913.8h11.8m-5.9-5.2v10.4m-4.1-9l8.2 7.6m-8.2 0l8.2-7.6M200.4 890.4h11.8m-5.9-5.2v10.4m-4.1-9l8.2 7.6m-8.2 0l8.2-7.6M190.3 872.4h11.8m-5.9-5.2v10.4m-4.1-9l8.2 7.6m-8.2 0l8.2-7.6M239.5 949.4h11.8m-5.9-5.2v10.4m-4.1-9l8.2 7.6m-8.2 0l8.2-7.6M216.2 915.7h11.8m-5.9-5.2v10.4m-4.1-9l8.2 7.6m-8.2 0l8.2-7.6M225.9 927.7h11.8m-5.9-5.2v10.4m-4.1-9l8.2 7.6m-8.2 0l8.2-7.6M238.4 946.7h11.8m-5.9-5.2v10.4m-4.1-9l8.2 7.6m-8.2 0l8.2-7.6M215.5 904.7h11.8m-5.9-5.2v10.4m-4.1-9l8.2 7.6m-8.2 0l8.2-7.6M177.7 848.1h11.8m-5.9-5.2v10.4m-4.1-9l8.2 7.6m-8.2 0l8.2-7.6M194.7 875.0h11.8m-5.9-5.2v10.4m-4.1-9l8.2 7.6m-8.2 0l8.2-7.6M183.8 855.6h11.8m-5.9-5.2v10.4m-4.1-9l8.2 7.6m-8.2 0l8.2-7.6M208.6 899.8h11.8m-5.9-5.2v10.4m-4.1-9l8.2 7.6m-8.2 0l8.2-7.6M201.9 889.4h11.8m-5.9-5.2v10.4m-4.1-9l8.2 7.6m-8.2 0l8.2-7.6M225.6 927.8h11.8m-5.9-5.2v10.4m-4.1-9l8.2 7.6m-8.2 0l8.2-7.6M239.5 948.0h11.8m-5.9-5.2v10.4m-4.1-9l8.2 7.6m-8.2 0l8.2-7.6M178.7 846.7h11.8m-5.9-5.2v10.4m-4.1-9l8.2 7.6m-8.2 0l8.2-7.6M177.0 844.4h11.8m-5.9-5.2v10.4m-4.1-9l8.2 7.6m-8.2 0l8.2-7.6M224.8 929.8h11.8m-5.9-5.2v10.4m-4.1-9l8.2 7.6m-8.2 0l8.2-7.6M220.5 918.7h11.8m-5.9-5.2v10.4m-4.1-9l8.2 7.6m-8.2 0l8.2-7.6M191.6 869.1h11.8m-5.9-5.2v10.4m-4.1-9l8.2 7.6m-8.2 0l8.2-7.6M189.9 866.3h11.8m-5.9-5.2v10.4m-4.1-9l8.2 7.6m-8.2 0l8.2-7.6M182.5 858.0h11.8m-5.9-5.2v10.4m-4.1-9l8.2 7.6m-8.2 0l8.2-7.6M197.2 883.8h11.8m-5.9-5.2v10.4m-4.1-9l8.2 7.6m-8.2 0l8.2-7.6M176.6 849.0h11.8m-5.9-5.2v10.4m-4.1-9l8.2 7.6m-8.2 0l8.2-7.6M203.8 890.2h11.8m-5.9-5.2v10.4m-4.1-9l8.2 7.6m-8.2 0l8.2-7.6M223.8 928.5h11.8m-5.9-5.2v10.4m-4.1-9l8.2 7.6m-8.2 0l8.2-7.6M211.9 907.7h11.8m-5.9-5.2v10.4m-4.1-9l8.2 7.6m-8.2 0l8.2-7.6M190.2 874.7h11.8m-5.9-5.2v10.4m-4.1-9l8.2 7.6m-8.2 0l8.2-7.6M217.8 919.1h11.8m-5.9-5.2v10.4m-4.1-9l8.2 7.6m-8.2 0l8.2-7.6M206.5 897.2h11.8m-5.9-5.2v10.4m-4.1-9l8.2 7.6m-8.2 0l8.2-7.6M233.7 943.8h11.8m-5.9-5.2v10.4m-4.1-9l8.2 7.6m-8.2 0l8.2-7.6M189.0 869.0h11.8m-5.9-5.2v10.4m-4.1-9l8.2 7.6m-8.2 0l8.2-7.6M202.0 891.0h11.8m-5.9-5.2v10.4m-4.1-9l8.2 7.6m-8.2 0l8.2-7.6M209.4 899.7h11.8m-5.9-5.2v10.4m-4.1-9l8.2 7.6m-8.2 0l8.2-7.6M191.2 870.6h11.8m-5.9-5.2v10.4m-4.1-9l8.2 7.6m-8.2 0l8.2-7.6M197.4 879.4h11.8m-5.9-5.2v10.4m-4.1-9l8.2 7.6m-8.2 0l8.2-7.6M234.0 940.1h11.8m-5.9-5.2v10.4m-4.1-9l8.2 7.6m-8.2 0l8.2-7.6M182.3 855.3h11.8m-5.9-5.2v10.4m-4.1-9l8.2 7.6m-8.2 0l8.2-7.6M232.4 941.3h11.8m-5.9-5.2v10.4m-4.1-9l8.2 7.6m-8.2 0l8.2-7.6M201.0 887.2h11.8m-5.9-5.2v10.4m-4.1-9l8.2 7.6m-8.2 0l8.2-7.6M216.4 912.2h11.8m-5.9-5.2v10.4m-4.1-9l8.2 7.6m-8.2 0l8.2-7.6M189.0 868.4h11.8m-5.9-5.2v10.4m-4.1-9l8.2 7.6m-8.2 0l8.2-7.6M232.4 939.3h11.8m-5.9-5.2v10.4m-4.1-9l8.2 7.6m-8.2 0l8.2-7.6M213.5 907.4h11.8m-5.9-5.2v10.4m-4.1-9l8.2 7.6m-8.2 0l8.2-7.6M194.0 876.8h11.8m-5.9-5.2v10.4m-4.1-9l8.2 7.6m-8.2 0l8.2-7.6M194.2 877.7h11.8m-5.9-5.2v10.4m-4.1-9l8.2 7.6m-8.2 0l8.2-7.6M229.7 937.9h11.8m-5.9-5.2v10.4m-4.1-9l8.2 7.6m-8.2 0l8.2-7.6M196.3 881.7h11.8m-5.9-5.2v10.4m-4.1-9l8.2 7.6m-8.2 0l8.2-7.6M233.0 941.2h11.8m-5.9-5.2v10.4m-4.1-9l8.2 7.6m-8.2 0l8.2-7.6M208.4 898.3h11.8m-5.9-5.2v10.4m-4.1-9l8.2 7.6m-8.2 0l8.2-7.6M179.4 852.6h11.8m-5.9-5.2v10.4m-4.1-9l8.2 7.6m-8.2 0l8.2-7.6M219.7 919.7h11.8m-5.9-5.2v10.4m-4.1-9l8.2 7.6m-8.2 0l8.2-7.6M220.1 917.3h11.8m-5.9-5.2v10.4m-4.1-9l8.2 7.6m-8.2 0l8.2-7.6M211.7 903.8h11.8m-5.9-5.2v10.4m-4.1-9l8.2 7.6m-8.2 0l8.2-7.6M211.1 905.2h11.8m-5.9-5.2v10.4m-4.1-9l8.2 7.6m-8.2 0l8.2-7.6M212.0 907.8h11.8m-5.9-5.2v10.4m-4.1-9l8.2 7.6m-8.2 0l8.2-7.6M187.9 863.6h11.8m-5.9-5.2v10.4m-4.1-9l8.2 7.6m-8.2 0l8.2-7.6M178.0 849.6h11.8m-5.9-5.2v10.4m-4.1-9l8.2 7.6m-8.2 0l8.2-7.6M234.3 944.6h11.8m-5.9-5.2v10.4m-4.1-9l8.2 7.6m-8.2 0l8.2-7.6M209.9 900.2h11.8m-5.9-5.2v10.4m-4.1-9l8.2 7.6m-8.2 0l8.2-7.6M218.8 917.8h11.8m-5.9-5.2v10.4m-4.1-9l8.2 7.6m-8.2 0l8.2-7.6M204.9 893.6h11.8m-5.9-5.2v10.4m-4.1-9l8.2 7.6m-8.2 0l8.2-7.6M190.6 869.1h11.8m-5.9-5.2v10.4m-4.1-9l8.2 7.6m-8.2 0l8.2-7.6M200.9 891.2h11.8m-5.9-5.2v10.4m-4.1-9l8.2 7.6m-8.2 0l8.2-7.6M185.1 866.6h11.8m-5.9-5.2v10.4m-4.1-9l8.2 7.6m-8.2 0l8.2-7.6M188.3 864.6h11.8m-5.9-5.2v10.4m-4.1-9l8.2 7.6m-8.2 0l8.2-7.6M212.7 907.6h11.8m-5.9-5.2v10.4m-4.1-9l8.2 7.6m-8.2 0l8.2-7.6M218.6 917.4h11.8m-5.9-5.2v10.4m-4.1-9l8.2 7.6m-8.2 0l8.2-7.6M223.8 928.1h11.8m-5.9-5.2v10.4m-4.1-9l8.2 7.6m-8.2 0l8.2-7.6M185.2 857.9h11.8m-5.9-5.2v10.4m-4.1-9l8.2 7.6m-8.2 0l8.2-7.6M202.3 887.7h11.8m-5.9-5.2v10.4m-4.1-9l8.2 7.6m-8.2 0l8.2-7.6M197.7 886.0h11.8m-5.9-5.2v10.4m-4.1-9l8.2 7.6m-8.2 0l8.2-7.6M200.9 890.0h11.8m-5.9-5.2v10.4m-4.1-9l8.2 7.6m-8.2 0l8.2-7.6M222.8 927.8h11.8m-5.9-5.2v10.4m-4.1-9l8.2 7.6m-8.2 0l8.2-7.6M220.8 922.0h11.8m-5.9-5.2v10.4m-4.1-9l8.2 7.6m-8.2 0l8.2-7.6M177.9 849.9h11.8m-5.9-5.2v10.4m-4.1-9l8.2 7.6m-8.2 0l8.2-7.6M234.6 944.7h11.8m-5.9-5.2v10.4m-4.1-9l8.2 7.6m-8.2 0l8.2-7.6M227.8 935.2h11.8m-5.9-5.2v10.4m-4.1-9l8.2 7.6m-8.2 0l8.2-7.6M212.5 907.7h11.8m-5.9-5.2v10.4m-4.1-9l8.2 7.6m-8.2 0l8.2-7.6M225.6 927.5h11.8m-5.9-5.2v10.4m-4.1-9l8.2 7.6m-8.2 0l8.2-7.6M233.7 942.6h11.8m-5.9-5.2v10.4m-4.1-9l8.2 7.6m-8.2 0l8.2-7.6M221.3 924.1h11.8m-5.9-5.2v10.4m-4.1-9l8.2 7.6m-8.2 0l8.2-7.6M220.8 923.8h11.8m-5.9-5.2v10.4m-4.1-9l8.2 7.6m-8.2 0l8.2-7.6M207.7 898.4h11.8m-5.9-5.2v10.4m-4.1-9l8.2 7.6m-8.2 0l8.2-7.6M223.2 923.7h11.8m-5.9-5.2v10.4m-4.1-9l8.2 7.6m-8.2 0l8.2-7.6M233.0 937.7h11.8m-5.9-5.2v10.4m-4.1-9l8.2 7.6m-8.2 0l8.2-7.6M201.1 888.7h11.8m-5.9-5.2v10.4m-4.1-9l8.2 7.6m-8.2 0l8.2-7.6M228.9 936.1h11.8m-5.9-5.2v10.4m-4.1-9l8.2 7.6m-8.2 0l8.2-7.6M196.3 882.5h11.8m-5.9-5.2v10.4m-4.1-9l8.2 7.6m-8.2 0l8.2-7.6M222.2 921.3h11.8m-5.9-5.2v10.4m-4.1-9l8.2 7.6m-8.2 0l8.2-7.6M188.1 863.4h11.8m-5.9-5.2v10.4m-4.1-9l8.2 7.6m-8.2 0l8.2-7.6M197.3 882.4h11.8m-5.9-5.2v10.4m-4.1-9l8.2 7.6m-8.2 0l8.2-7.6M197.1 880.4h11.8m-5.9-5.2v10.4m-4.1-9l8.2 7.6m-8.2 0l8.2-7.6M226.2 930.1h11.8m-5.9-5.2v10.4m-4.1-9l8.2 7.6m-8.2 0l8.2-7.6M201.7 888.5h11.8m-5.9-5.2v10.4m-4.1-9l8.2 7.6m-8.2 0l8.2-7.6M178.1 848.7h11.8m-5.9-5.2v10.4m-4.1-9l8.2 7.6m-8.2 0l8.2-7.6M193.3 876.6h11.8m-5.9-5.2v10.4m-4.1-9l8.2 7.6m-8.2 0l8.2-7.6M214.9 912.1h11.8m-5.9-5.2v10.4m-4.1-9l8.2 7.6m-8.2 0l8.2-7.6M190.2 868.3h11.8m-5.9-5.2v10.4m-4.1-9l8.2 7.6m-8.2 0l8.2-7.6M206.1 898.1h11.8m-5.9-5.2v10.4m-4.1-9l8.2 7.6m-8.2 0l8.2-7.6M210.4 904.4h11.8m-5.9-5.2v10.4m-4.1-9l8.2 7.6m-8.2 0l8.2-7.6M219.6 924.4h11.8m-5.9-5.2v10.4m-4.1-9l8.2 7.6m-8.2 0l8.2-7.6M205.4 894.5h11.8m-5.9-5.2v10.4m-4.1-9l8.2 7.6m-8.2 0l8.2-7.6M223.9 924.3h11.8m-5.9-5.2v10.4m-4.1-9l8.2 7.6m-8.2 0l8.2-7.6M218.6 918.4h11.8m-5.9-5.2v10.4m-4.1-9l8.2 7.6m-8.2 0l8.2-7.6M182.5 857.0h11.8m-5.9-5.2v10.4m-4.1-9l8.2 7.6m-8.2 0l8.2-7.6M198.4 883.5h11.8m-5.9-5.2v10.4m-4.1-9l8.2 7.6m-8.2 0l8.2-7.6M208.4 903.7h11.8m-5.9-5.2v10.4m-4.1-9l8.2 7.6m-8.2 0l8.2-7.6M178.7 851.6h11.8m-5.9-5.2v10.4m-4.1-9l8.2 7.6m-8.2 0l8.2-7.6M173.8 844.2h11.8m-5.9-5.2v10.4m-4.1-9l8.2 7.6m-8.2 0l8.2-7.6M181.7 852.3h11.8m-5.9-5.2v10.4m-4.1-9l8.2 7.6m-8.2 0l8.2-7.6M200.1 889.5h11.8m-5.9-5.2v10.4m-4.1-9l8.2 7.6m-8.2 0l8.2-7.6M179.3 849.9h11.8m-5.9-5.2v10.4m-4.1-9l8.2 7.6m-8.2 0l8.2-7.6M236.0 945.0h11.8m-5.9-5.2v10.4m-4.1-9l8.2 7.6m-8.2 0l8.2-7.6M212.3 907.0h11.8m-5.9-5.2v10.4m-4.1-9l8.2 7.6m-8.2 0l8.2-7.6M211.1 907.5h11.8m-5.9-5.2v10.4m-4.1-9l8.2 7.6m-8.2 0l8.2-7.6M230.9 936.1h11.8m-5.9-5.2v10.4m-4.1-9l8.2 7.6m-8.2 0l8.2-7.6M185.4 858.7h11.8m-5.9-5.2v10.4m-4.1-9l8.2 7.6m-8.2 0l8.2-7.6M217.5 914.0h11.8m-5.9-5.2v10.4m-4.1-9l8.2 7.6m-8.2 0l8.2-7.6M198.1 883.2h11.8m-5.9-5.2v10.4m-4.1-9l8.2 7.6m-8.2 0l8.2-7.6M186.7 861.4h11.8m-5.9-5.2v10.4m-4.1-9l8.2 7.6m-8.2 0l8.2-7.6M235.9 945.5h11.8m-5.9-5.2v10.4m-4.1-9l8.2 7.6m-8.2 0l8.2-7.6M217.0 917.3h11.8m-5.9-5.2v10.4m-4.1-9l8.2 7.6m-8.2 0l8.2-7.6M222.7 926.3h11.8m-5.9-5.2v10.4m-4.1-9l8.2 7.6m-8.2 0l8.2-7.6M177.2 849.5h11.8m-5.9-5.2v10.4m-4.1-9l8.2 7.6m-8.2 0l8.2-7.6M222.4 922.1h11.8m-5.9-5.2v10.4m-4.1-9l8.2 7.6m-8.2 0l8.2-7.6M204.7 893.9h11.8m-5.9-5.2v10.4m-4.1-9l8.2 7.6m-8.2 0l8.2-7.6M211.2 906.8h11.8m-5.9-5.2v10.4m-4.1-9l8.2 7.6m-8.2 0l8.2-7.6M211.0 904.9h11.8m-5.9-5.2v10.4m-4.1-9l8.2 7.6m-8.2 0l8.2-7.6M204.7 892.5h11.8m-5.9-5.2v10.4m-4.1-9l8.2 7.6m-8.2 0l8.2-7.6M181.4 855.7h11.8m-5.9-5.2v10.4m-4.1-9l8.2 7.6m-8.2 0l8.2-7.6M180.8 852.5h11.8m-5.9-5.2v10.4m-4.1-9l8.2 7.6m-8.2 0l8.2-7.6M226.5 931.1h11.8m-5.9-5.2v10.4m-4.1-9l8.2 7.6m-8.2 0l8.2-7.6M209.7 907.3h11.8m-5.9-5.2v10.4m-4.1-9l8.2 7.6m-8.2 0l8.2-7.6M212.6 908.2h11.8m-5.9-5.2v10.4m-4.1-9l8.2 7.6m-8.2 0l8.2-7.6M183.5 855.1h11.8m-5.9-5.2v10.4m-4.1-9l8.2 7.6m-8.2 0l8.2-7.6M230.3 935.2h11.8m-5.9-5.2v10.4m-4.1-9l8.2 7.6m-8.2 0l8.2-7.6M227.4 929.1h11.8m-5.9-5.2v10.4m-4.1-9l8.2 7.6m-8.2 0l8.2-7.6M179.9 848.8h11.8m-5.9-5.2v10.4m-4.1-9l8.2 7.6m-8.2 0l8.2-7.6M178.7 847.7h11.8m-5.9-5.2v10.4m-4.1-9l8.2 7.6m-8.2 0l8.2-7.6M227.6 933.7h11.8m-5.9-5.2v10.4m-4.1-9l8.2 7.6m-8.2 0l8.2-7.6M182.8 856.0h11.8m-5.9-5.2v10.4m-4.1-9l8.2 7.6m-8.2 0l8.2-7.6M208.5 901.1h11.8m-5.9-5.2v10.4m-4.1-9l8.2 7.6m-8.2 0l8.2-7.6M219.7 923.8h11.8m-5.9-5.2v10.4m-4.1-9l8.2 7.6m-8.2 0l8.2-7.6M218.1 919.7h11.8m-5.9-5.2v10.4m-4.1-9l8.2 7.6m-8.2 0l8.2-7.6M203.2 889.3h11.8m-5.9-5.2v10.4m-4.1-9l8.2 7.6m-8.2 0l8.2-7.6M192.3 871.6h11.8m-5.9-5.2v10.4m-4.1-9l8.2 7.6m-8.2 0l8.2-7.6M197.5 879.6h11.8m-5.9-5.2v10.4m-4.1-9l8.2 7.6m-8.2 0l8.2-7.6M180.3 851.0h11.8m-5.9-5.2v10.4m-4.1-9l8.2 7.6m-8.2 0l8.2-7.6M200.1 887.1h11.8m-5.9-5.2v10.4m-4.1-9l8.2 7.6m-8.2 0l8.2-7.6M231.4 936.0h11.8m-5.9-5.2v10.4m-4.1-9l8.2 7.6m-8.2 0l8.2-7.6M207.6 899.3h11.8m-5.9-5.2v10.4m-4.1-9l8.2 7.6m-8.2 0l8.2-7.6M196.8 879.6h11.8m-5.9-5.2v10.4m-4.1-9l8.2 7.6m-8.2 0l8.2-7.6M209.8 905.3h11.8m-5.9-5.2v10.4m-4.1-9l8.2 7.6m-8.2 0l8.2-7.6M238.7 946.5h11.8m-5.9-5.2v10.4m-4.1-9l8.2 7.6m-8.2 0l8.2-7.6M218.1 916.3h11.8m-5.9-5.2v10.4m-4.1-9l8.2 7.6m-8.2 0l8.2-7.6M186.5 861.3h11.8m-5.9-5.2v10.4m-4.1-9l8.2 7.6m-8.2 0l8.2-7.6M195.9 880.9h11.8m-5.9-5.2v10.4m-4.1-9l8.2 7.6m-8.2 0l8.2-7.6M184.1 857.1h11.8m-5.9-5.2v10.4m-4.1-9l8.2 7.6m-8.2 0l8.2-7.6M179.0 850.6h11.8m-5.9-5.2v10.4m-4.1-9l8.2 7.6m-8.2 0l8.2-7.6M232.0 941.9h11.8m-5.9-5.2v10.4m-4.1-9l8.2 7.6m-8.2 0l8.2-7.6M226.2 931.9h11.8m-5.9-5.2v10.4m-4.1-9l8.2 7.6m-8.2 0l8.2-7.6M220.6 919.9h11.8m-5.9-5.2v10.4m-4.1-9l8.2 7.6m-8.2 0l8.2-7.6M236.8 948.3h11.8m-5.9-5.2v10.4m-4.1-9l8.2 7.6m-8.2 0l8.2-7.6M194.3 876.3h11.8m-5.9-5.2v10.4m-4.1-9l8.2 7.6m-8.2 0l8.2-7.6M234.8 941.5h11.8m-5.9-5.2v10.4m-4.1-9l8.2 7.6m-8.2 0l8.2-7.6M206.7 892.5h11.8m-5.9-5.2v10.4m-4.1-9l8.2 7.6m-8.2 0l8.2-7.6M192.7 875.9h11.8m-5.9-5.2v10.4m-4.1-9l8.2 7.6m-8.2 0l8.2-7.6M206.9 897.5h11.8m-5.9-5.2v10.4m-4.1-9l8.2 7.6m-8.2 0l8.2-7.6M176.3 843.7h11.8m-5.9-5.2v10.4m-4.1-9l8.2 7.6m-8.2 0l8.2-7.6M194.3 874.4h11.8m-5.9-5.2v10.4m-4.1-9l8.2 7.6m-8.2 0l8.2-7.6M196.9 883.0h11.8m-5.9-5.2v10.4m-4.1-9l8.2 7.6m-8.2 0l8.2-7.6M190.4 868.9h11.8m-5.9-5.2v10.4m-4.1-9l8.2 7.6m-8.2 0l8.2-7.6M178.6 848.2h11.8m-5.9-5.2v10.4m-4.1-9l8.2 7.6m-8.2 0l8.2-7.6M190.0 871.9h11.8m-5.9-5.2v10.4m-4.1-9l8.2 7.6m-8.2 0l8.2-7.6M224.3 929.1h11.8m-5.9-5.2v10.4m-4.1-9l8.2 7.6m-8.2 0l8.2-7.6M179.0 852.9h11.8m-5.9-5.2v10.4m-4.1-9l8.2 7.6m-8.2 0l8.2-7.6M229.8 934.6h11.8m-5.9-5.2v10.4m-4.1-9l8.2 7.6m-8.2 0l8.2-7.6M218.6 915.2h11.8m-5.9-5.2v10.4m-4.1-9l8.2 7.6m-8.2 0l8.2-7.6M227.1 934.4h11.8m-5.9-5.2v10.4m-4.1-9l8.2 7.6m-8.2 0l8.2-7.6M222.6 923.3h11.8m-5.9-5.2v10.4m-4.1-9l8.2 7.6m-8.2 0l8.2-7.6M177.3 846.7h11.8m-5.9-5.2v10.4m-4.1-9l8.2 7.6m-8.2 0l8.2-7.6M225.1 926.7h11.8m-5.9-5.2v10.4m-4.1-9l8.2 7.6m-8.2 0l8.2-7.6M218.8 919.7h11.8m-5.9-5.2v10.4m-4.1-9l8.2 7.6m-8.2 0l8.2-7.6M230.2 936.0h11.8m-5.9-5.2v10.4m-4.1-9l8.2 7.6m-8.2 0l8.2-7.6M239.4 947.7h11.8m-5.9-5.2v10.4m-4.1-9l8.2 7.6m-8.2 0l8.2-7.6M207.1 895.5h11.8m-5.9-5.2v10.4m-4.1-9l8.2 7.6m-8.2 0l8.2-7.6M179.3 853.1h11.8m-5.9-5.2v10.4m-4.1-9l8.2 7.6m-8.2 0l8.2-7.6M178.4 851.4h11.8m-5.9-5.2v10.4m-4.1-9l8.2 7.6m-8.2 0l8.2-7.6M230.6 939.0h11.8m-5.9-5.2v10.4m-4.1-9l8.2 7.6m-8.2 0l8.2-7.6M217.3 923.5h11.8m-5.9-5.2v10.4m-4.1-9l8.2 7.6m-8.2 0l8.2-7.6M222.0 924.8h11.8m-5.9-5.2v10.4m-4.1-9l8.2 7.6m-8.2 0l8.2-7.6M219.4 919.6h11.8m-5.9-5.2v10.4m-4.1-9l8.2 7.6m-8.2 0l8.2-7.6M230.1 936.2h11.8m-5.9-5.2v10.4m-4.1-9l8.2 7.6m-8.2 0l8.2-7.6M225.6 930.4h11.8m-5.9-5.2v10.4m-4.1-9l8.2 7.6m-8.2 0l8.2-7.6M189.6 864.9h11.8m-5.9-5.2v10.4m-4.1-9l8.2 7.6m-8.2 0l8.2-7.6M178.3 850.8h11.8m-5.9-5.2v10.4m-4.1-9l8.2 7.6m-8.2 0l8.2-7.6M231.8 936.2h11.8m-5.9-5.2v10.4m-4.1-9l8.2 7.6m-8.2 0l8.2-7.6M229.0 936.0h11.8m-5.9-5.2v10.4m-4.1-9l8.2 7.6m-8.2 0l8.2-7.6M208.0 901.8h11.8m-5.9-5.2v10.4m-4.1-9l8.2 7.6m-8.2 0l8.2-7.6M213.3 904.9h11.8m-5.9-5.2v10.4m-4.1-9l8.2 7.6m-8.2 0l8.2-7.6M222.9 923.7h11.8m-5.9-5.2v10.4m-4.1-9l8.2 7.6m-8.2 0l8.2-7.6M234.1 942.3h11.8m-5.9-5.2v10.4m-4.1-9l8.2 7.6m-8.2 0l8.2-7.6M201.6 890.6h11.8m-5.9-5.2v10.4m-4.1-9l8.2 7.6m-8.2 0l8.2-7.6M182.3 851.7h11.8m-5.9-5.2v10.4m-4.1-9l8.2 7.6m-8.2 0l8.2-7.6M216.4 915.0h11.8m-5.9-5.2v10.4m-4.1-9l8.2 7.6m-8.2 0l8.2-7.6M198.2 881.5h11.8m-5.9-5.2v10.4m-4.1-9l8.2 7.6m-8.2 0l8.2-7.6M181.7 852.4h11.8m-5.9-5.2v10.4m-4.1-9l8.2 7.6m-8.2 0l8.2-7.6M229.3 934.8h11.8m-5.9-5.2v10.4m-4.1-9l8.2 7.6m-8.2 0l8.2-7.6M215.1 912.5h11.8m-5.9-5.2v10.4m-4.1-9l8.2 7.6m-8.2 0l8.2-7.6M173.8 843.9h11.8m-5.9-5.2v10.4m-4.1-9l8.2 7.6m-8.2 0l8.2-7.6M196.0 877.1h11.8m-5.9-5.2v10.4m-4.1-9l8.2 7.6m-8.2 0l8.2-7.6M185.6 858.7h11.8m-5.9-5.2v10.4m-4.1-9l8.2 7.6m-8.2 0l8.2-7.6M196.8 885.4h11.8m-5.9-5.2v10.4m-4.1-9l8.2 7.6m-8.2 0l8.2-7.6" stroke="#00ffff" stroke-width="1.25" fill="none"/><path d="M183.9 585.4h11.8m-5.9-5.2v10.4m-4.1-9l8.2 7.6m-8.2 0l8.2-7.6M222.5 590.2h11.8m-5.9-5.2v10.4m-4.1-9l8.2 7.6m-8.2 0l8.2-7.6M228.0 592.9h11.8m-5.9-5.2v10.4m-4.1-9l8.2 7.6m-8.2 0l8.2-7.6M186.5 587.0h11.8m-5.9-5.2v10.4m-4.1-9l8.2 7.6m-8.2 0l8.2-7.6M207.9 591.6h11.8m-5.9-5.2v10.4m-4.1-9l8.2 7.6m-8.2 0l8.2-7.6M192.8 589.8h11.8m-5.9-5.2v10.4m-4.1-9l8.2 7.6m-8.2 0l8.2-7.6M185.0 582.2h11.8m-5.9-5.2v10.4m-4.1-9l8.2 7.6m-8.2 0l8.2-7.6M199.6 581.8h11.8m-5.9-5.2v10.4m-4.1-9l8.2 7.6m-8.2 0l8.2-7.6M247.2 598.8h11.8m-5.9-5.2v10.4m-4.1-9l8.2 7.6m-8.2 0l8.2-7.6M235.7 594.6h11.8m-5.9-5.2v10.4m-4.1-9l8.2 7.6m-8.2 0l8.2-7.6M228.2 600.1h11.8m-5.9-5.2v10.4m-4.1-9l8.2 7.6m-8.2 0l8.2-7.6M226.4 598.4h11.8m-5.9-5.2v10.4m-4.1-9l8.2 7.6m-8.2 0l8.2-7.6M203.0 587.3h11.8m-5.9-5.2v10.4m-4.1-9l8.2 7.6m-8.2 0l8.2-7.6M242.7 596.8h11.8m-5.9-5.2v10.4m-4.1-9l8.2 7.6m-8.2 0l8.2-7.6M224.3 591.4h11.8m-5.9-5.2v10.4m-4.1-9l8.2 7.6m-8.2 0l8.2-7.6M190.5 586.5h11.8m-5.9-5.2v10.4m-4.1-9l8.2 7.6m-8.2 0l8.2-7.6M226.9 592.2h11.8m-5.9-5.2v10.4m-4.1-9l8.2 7.6m-8.2 0l8.2-7.6M201.0 584.2h11.8m-5.9-5.2v10.4m-4.1-9l8.2 7.6m-8.2 0l8.2-7.6M236.9 597.7h11.8m-5.9-5.2v10.4m-4.1-9l8.2 7.6m-8.2 0l8.2-7.6M249.3 604.7h11.8m-5.9-5.2v10.4m-4.1-9l8.2 7.6m-8.2 0l8.2-7.6M212.4 590.5h11.8m-5.9-5.2v10.4m-4.1-9l8.2 7.6m-8.2 0l8.2-7.6M241.8 599.6h11.8m-5.9-5.2v10.4m-4.1-9l8.2 7.6m-8.2 0l8.2-7.6M223.6 591.8h11.8m-5.9-5.2v10.4m-4.1-9l8.2 7.6m-8.2 0l8.2-7.6M239.6 595.6h11.8m-5.9-5.2v10.4m-4.1-9l8.2 7.6m-8.2 0l8.2-7.6M229.0 598.6h11.8m-5.9-5.2v10.4m-4.1-9l8.2 7.6m-8.2 0l8.2-7.6M182.6 579.0h11.8m-5.9-5.2v10.4m-4.1-9l8.2 7.6m-8.2 0l8.2-7.6M239.9 596.6h11.8m-5.9-5.2v10.4m-4.1-9l8.2 7.6m-8.2 0l8.2-7.6M237.1 596.3h11.8m-5.9-5.2v10.4m-4.1-9l8.2 7.6m-8.2 0l8.2-7.6M241.8 603.7h11.8m-5.9-5.2v10.4m-4.1-9l8.2 7.6m-8.2 0l8.2-7.6M210.3 586.5h11.8m-5.9-5.2v10.4m-4.1-9l8.2 7.6m-8.2 0l8.2-7.6M188.3 584.2h11.8m-5.9-5.2v10.4m-4.1-9l8.2 7.6m-8.2 0l8.2-7.6M188.5 587.9h11.8m-5.9-5.2v10.4m-4.1-9l8.2 7.6m-8.2 0l8.2-7.6M187.8 583.5h11.8m-5.9-5.2v10.4m-4.1-9l8.2 7.6m-8.2 0l8.2-7.6M188.3 586.6h11.8m-5.9-5.2v10.4m-4.1-9l8.2 7.6m-8.2 0l8.2-7.6M196.8 583.4h11.8m-5.9-5.2v10.4m-4.1-9l8.2 7.6m-8.2 0l8.2-7.6M224.9 598.5h11.8m-5.9-5.2v10.4m-4.1-9l8.2 7.6m-8.2 0l8.2-7.6M230.0 599.9h11.8m-5.9-5.2v10.4m-4.1-9l8.2 7.6m-8.2 0l8.2-7.6M216.8 589.8h11.8m-5.9-5.2v10.4m-4.1-9l8.2 7.6m-8.2 0l8.2-7.6M177.3 583.9h11.8m-5.9-5.2v10.4m-4.1-9l8.2 7.6m-8.2 0l8.2-7.6M201.6 591.8h11.8m-5.9-5.2v10.4m-4.1-9l8.2 7.6m-8.2 0l8.2-7.6M229.1 598.5h11.8m-5.9-5.2v10.4m-4.1-9l8.2 7.6m-8.2 0l8.2-7.6M250.0 600.1h11.8m-5.9-5.2v10.4m-4.1-9l8.2 7.6m-8.2 0l8.2-7.6M223.7 591.2h11.8m-5.9-5.2v10.4m-4.1-9l8.2 7.6m-8.2 0l8.2-7.6M209.3 586.7h11.8m-5.9-5.2v10.4m-4.1-9l8.2 7.6m-8.2 0l8.2-7.6M247.9 607.9h11.8m-5.9-5.2v10.4m-4.1-9l8.2 7.6m-8.2 0l8.2-7.6M241.1 601.0h11.8m-5.9-5.2v10.4m-4.1-9l8.2 7.6m-8.2 0l8.2-7.6M204.1 585.7h11.8m-5.9-5.2v10.4m-4.1-9l8.2 7.6m-8.2 0l8.2-7.6M178.7 586.9h11.8m-5.9-5.2v10.4m-4.1-9l8.2 7.6m-8.2 0l8.2-7.6M242.2 596.6h11.8m-5.9-5.2v10.4m-4.1-9l8.2 7.6m-8.2 0l8.2-7.6M216.5 596.5h11.8m-5.9-5.2v10.4m-4.1-9l8.2 7.6m-8.2 0l8.2-7.6M219.5 597.2h11.8m-5.9-5.2v10.4m-4.1-9l8.2 7.6m-8.2 0l8.2-7.6M227.2 598.8h11.8m-5.9-5.2v10.4m-4.1-9l8.2 7.6m-8.2 0l8.2-7.6M178.1 586.4h11.8m-5.9-5.2v10.4m-4.1-9l8.2 7.6m-8.2 0l8.2-7.6M183.4 586.7h11.8m-5.9-5.2v10.4m-4.1-9l8.2 7.6m-8.2 0l8.2-7.6M239.4 602.9h11.8m-5.9-5.2v10.4m-4.1-9l8.2 7.6m-8.2 0l8.2-7.6M182.5 579.9h11.8m-5.9-5.2v10.4m-4.1-9l8.2 7.6m-8.2 0l8.2-7.6M185.6 584.7h11.8m-5.9-5.2v10.4m-4.1-9l8.2 7.6m-8.2 0l8.2-7.6M242.8 597.1h11.8m-5.9-5.2v10.4m-4.1-9l8.2 7.6m-8.2 0l8.2-7.6M223.3 597.4h11.8m-5.9-5.2v10.4m-4.1-9l8.2 7.6m-8.2 0l8.2-7.6M198.2 587.3h11.8m-5.9-5.2v10.4m-4.1-9l8.2 7.6m-8.2 0l8.2-7.6M233.4 600.3h11.8m-5.9-5.2v10.4m-4.1-9l8.2 7.6m-8.2 0l8.2-7.6M184.2 583.3h11.8m-5.9-5.2v10.4m-4.1-9l8.2 7.6m-8.2 0l8.2-7.6M203.2 589.1h11.8m-5.9-5.2v10.4m-4.1-9l8.2 7.6m-8.2 0l8.2-7.6M246.3 598.8h11.8m-5.9-5.2v10.4m-4.1-9l8.2 7.6m-8.2 0l8.2-7.6M224.1 593.8h11.8m-5.9-5.2v10.4m-4.1-9l8.2 7.6m-8.2 0l8.2-7.6M176.6 582.3h11.8m-5.9-5.2v10.4m-4.1-9l8.2 7.6m-8.2 0l8.2-7.6M178.7 587.7h11.8m-5.9-5.2v10.4m-4.1-9l8.2 7.6m-8.2 0l8.2-7.6M181.8 581.5h11.8m-5.9-5.2v10.4m-4.1-9l8.2 7.6m-8.2 0l8.2-7.6M228.4 594.9h11.8m-5.9-5.2v10.4m-4.1-9l8.2 7.6m-8.2 0l8.2-7.6M231.4 596.0h11.8m-5.9-5.2v10.4m-4.1-9l8.2 7.6m-8.2 0l8.2-7.6M180.3 581.3h11.8m-5.9-5.2v10.4m-4.1-9l8.2 7.6m-8.2 0l8.2-7.6M244.1 604.0h11.8m-5.9-5.2v10.4m-4.1-9l8.2 7.6m-8.2 0l8.2-7.6M203.4 585.0h11.8m-5.9-5.2v10.4m-4.1-9l8.2 7.6m-8.2 0l8.2-7.6M220.7 589.1h11.8m-5.9-5.2v10.4m-4.1-9l8.2 7.6m-8.2 0l8.2-7.6M215.2 590.9h11.8m-5.9-5.2v10.4m-4.1-9l8.2 7.6m-8.2 0l8.2-7.6M218.6 592.8h11.8m-5.9-5.2v10.4m-4.1-9l8.2 7.6m-8.2 0l8.2-7.6M243.6 601.2h11.8m-5.9-5.2v10.4m-4.1-9l8.2 7.6m-8.2 0l8.2-7.6M180.7 582.7h11.8m-5.9-5.2v10.4m-4.1-9l8.2 7.6m-8.2 0l8.2-7.6M190.3 586.1h11.8m-5.9-5.2v10.4m-4.1-9l8.2 7.6m-8.2 0l8.2-7.6M236.5 602.2h11.8m-5.9-5.2v10.4m-4.1-9l8.2 7.6m-8.2 0l8.2-7.6M222.5 598.2h11.8m-5.9-5.2v10.4m-4.1-9l8.2 7.6m-8.2 0l8.2-7.6M208.1 584.6h11.8m-5.9-5.2v10.4m-4.1-9l8.2 7.6m-8.2 0l8.2-7.6M212.6 595.8h11.8m-5.9-5.2v10.4m-4.1-9l8.2 7.6m-8.2 0l8.2-7.6M235.7 593.9h11.8m-5.9-5.2v10.4m-4.1-9l8.2 7.6m-8.2 0l8.2-7.6M193.3 583.2h11.8m-5.9-5.2v10.4m-4.1-9l8.2 7.6m-8.2 0l8.2-7.6M215.6 595.8h11.8m-5.9-5.2v10.4m-4.1-9l8.2 7.6m-8.2 0l8.2-7.6M241.8 599.9h11.8m-5.9-5.2v10.4m-4.1-9l8.2 7.6m-8.2 0l8.2-7.6M201.5 589.1h11.8m-5.9-5.2v10.4m-4.1-9l8.2 7.6m-8.2 0l8.2-7.6M236.7 598.6h11.8m-5.9-5.2v10.4m-4.1-9l8.2 7.6m-8.2 0l8.2-7.6M212.9 587.7h11.8m-5.9-5.2v10.4m-4.1-9l8.2 7.6m-8.2 0l8.2-7.6M246.3 604.0h11.8m-5.9-5.2v10.4m-4.1-9l8.2 7.6m-8.2 0l8.2-7.6M231.0 596.3h11.8m-5.9-5.2v10.4m-4.1-9l8.2 7.6m-8.2 0l8.2-7.6M178.4 584.9h11.8m-5.9-5.2v10.4m-4.1-9l8.2 7.6m-8.2 0l8.2-7.6M245.7 597.4h11.8m-5.9-5.2v10.4m-4.1-9l8.2 7.6m-8.2 0l8.2-7.6M186.9 586.8h11.8m-5.9-5.2v10.4m-4.1-9l8.2 7.6m-8.2 0l8.2-7.6M205.6 590.8h11.8m-5.9-5.2v10.4m-4.1-9l8.2 7.6m-8.2 0l8.2-7.6M215.4 594.2h11.8m-5.9-5.2v10.4m-4.1-9l8.2 7.6m-8.2 0l8.2-7.6M177.4 578.9h11.8m-5.9-5.2v10.4m-4.1-9l8.2 7.6m-8.2 0l8.2-7.6M208.5 585.8h11.8m-5.9-5.2v10.4m-4.1-9l8.2 7.6m-8.2 0l8.2-7.6M206.8 586.5h11.8m-5.9-5.2v10.4m-4.1-9l8.2 7.6m-8.2 0l8.2-7.6M246.1 608.1h11.8m-5.9-5.2v10.4m-4.1-9l8.2 7.6m-8.2 0l8.2-7.6M243.4 597.3h11.8m-5.9-5.2v10.4m-4.1-9l8.2 7.6m-8.2 0l8.2-7.6M246.4 600.4h11.8m-5.9-5.2v10.4m-4.1-9l8.2 7.6m-8.2 0l8.2-7.6M178.5 586.1h11.8m-5.9-5.2v10.4m-4.1-9l8.2 7.6m-8.2 0l8.2-7.6M215.0 590.3h11.8m-5.9-5.2v10.4m-4.1-9l8.2 7.6m-8.2 0l8.2-7.6M219.6 591.3h11.8m-5.9-5.2v10.4m-4.1-9l8.2 7.6m-8.2 0l8.2-7.6M191.5 588.9h11.8m-5.9-5.2v10.4m-4.1-9l8.2 7.6m-8.2 0l8.2-7.6M210.4 586.5h11.8m-5.9-5.2v10.4m-4.1-9l8.2 7.6m-8.2 0l8.2-7.6M242.1 599.2h11.8m-5.9-5.2v10.4m-4.1-9l8.2 7.6m-8.2 0l8.2-7.6M210.6 591.5h11.8m-5.9-5.2v10.4m-4.1-9l8.2 7.6m-8.2 0l8.2-7.6M243.0 596.3h11.8m-5.9-5.2v10.4m-4.1-9l8.2 7.6m-8.2 0l8.2-7.6M196.2 582.6h11.8m-5.9-5.2v10.4m-4.1-9l8.2 7.6m-8.2 0l8.2-7.6M229.4 595.1h11.8m-5.9-5.2v10.4m-4.1-9l8.2 7.6m-8.2 0l8.2-7.6M197.4 583.0h11.8m-5.9-5.2v10.4m-4.1-9l8.2 7.6m-8.2 0l8.2-7.6M201.9 592.0h11.8m-5.9-5.2v10.4m-4.1-9l8.2 7.6m-8.2 0l8.2-7.6M230.0 598.8h11.8m-5.9-5.2v10.4m-4.1-9l8.2 7.6m-8.2 0l8.2-7.6M202.7 583.8h11.8m-5.9-5.2v10.4m-4.1-9l8.2 7.6m-8.2 0l8.2-7.6M219.4 598.1h11.8m-5.9-5.2v10.4m-4.1-9l8.2 7.6m-8.2 0l8.2-7.6M204.6 591.8h11.8m-5.9-5.2v10.4m-4.1-9l8.2 7.6m-8.2 0l8.2-7.6M220.6 593.4h11.8m-5.9-5.2v10.4m-4.1-9l8.2 7.6m-8.2 0l8.2-7.6M222.5 592.0h11.8m-5.9-5.2v10.4m-4.1-9l8.2 7.6m-8.2 0l8.2-7.6M207.5 591.8h11.8m-5.9-5.2v10.4m-4.1-9l8.2 7.6m-8.2 0l8.2-7.6M177.7 584.3h11.8m-5.9-5.2v10.4m-4.1-9l8.2 7.6m-8.2 0l8.2-7.6M202.6 585.5h11.8m-5.9-5.2v10.4m-4.1-9l8.2 7.6m-8.2 0l8.2-7.6M216.2 596.2h11.8m-5.9-5.2v10.4m-4.1-9l8.2 7.6m-8.2 0l8.2-7.6M207.8 592.2h11.8m-5.9-5.2v10.4m-4.1-9l8.2 7.6m-8.2 0l8.2-7.6M248.1 603.4h11.8m-5.9-5.2v10.4m-4.1-9l8.2 7.6m-8.2 0l8.2-7.6M204.5 587.1h11.8m-5.9-5.2v10.4m-4.1-9l8.2 7.6m-8.2 0l8.2-7.6M240.8 600.6h11.8m-5.9-5.2v10.4m-4.1-9l8.2 7.6m-8.2 0l8.2-7.6M187.9 581.9h11.8m-5.9-5.2v10.4m-4.1-9l8.2 7.6m-8.2 0l8.2-7.6M228.4 596.2h11.8m-5.9-5.2v10.4m-4.1-9l8.2 7.6m-8.2 0l8.2-7.6M237.8 601.7h11.8m-5.9-5.2v10.4m-4.1-9l8.2 7.6m-8.2 0l8.2-7.6M244.2 606.6h11.8m-5.9-5.2v10.4m-4.1-9l8.2 7.6m-8.2 0l8.2-7.6M231.6 590.3h11.8m-5.9-5.2v10.4m-4.1-9l8.2 7.6m-8.2 0l8.2-7.6M192.3 586.3h11.8m-5.9-5.2v10.4m-4.1-9l8.2 7.6m-8.2 0l8.2-7.6M213.5 591.8h11.8m-5.9-5.2v10.4m-4.1-9l8.2 7.6m-8.2 0l8.2-7.6M214.3 597.1h11.8m-5.9-5.2v10.4m-4.1-9l8.2 7.6m-8.2 0l8.2-7.6M246.4 604.1h11.8m-5.9-5.2v10.4m-4.1-9l8.2 7.6m-8.2 0l8.2-7.6M182.7 580.0h11.8m-5.9-5.2v10.4m-4.1-9l8.2 7.6m-8.2 0l8.2-7.6M239.4 602.5h11.8m-5.9-5.2v10.4m-4.1-9l8.2 7.6m-8.2 0l8.2-7.6M181.4 587.5h11.8m-5.9-5.2v10.4m-4.1-9l8.2 7.6m-8.2 0l8.2-7.6M225.7 593.6h11.8m-5.9-5.2v10.4m-4.1-9l8.2 7.6m-8.2 0l8.2-7.6M246.0 608.0h11.8m-5.9-5.2v10.4m-4.1-9l8.2 7.6m-8.2 0l8.2-7.6M204.9 589.4h11.8m-5.9-5.2v10.4m-4.1-9l8.2 7.6m-8.2 0l8.2-7.6M184.4 582.4h11.8m-5.9-5.2v10.4m-4.1-9l8.2 7.6m-8.2 0l8.2-7.6M178.2 585.2h11.8m-5.9-5.2v10.4m-4.1-9l8.2 7.6m-8.2 0l8.2-7.6M243.5 600.4h11.8m-5.9-5.2v10.4m-4.1-9l8.2 7.6m-8.2 0l8.2-7.6M222.5 595.1h11.8m-5.9-5.2v10.4m-4.1-9l8.2 7.6m-8.2 0l8.2-7.6M222.3 596.8h11.8m-5.9-5.2v10.4m-4.1-9l8.2 7.6m-8.2 0l8.2-7.6M230.8 592.1h11.8m-5.9-5.2v10.4m-4.1-9l8.2 7.6m-8.2 0l8.2-7.6M237.2 599.5h11.8m-5.9-5.2v10.4m-4.1-9l8.2 7.6m-8.2 0l8.2-7.6M205.2 591.2h11.8m-5.9-5.2v10.4m-4.1-9l8.2 7.6m-8.2 0l8.2-7.6M228.1 591.9h11.8m-5.9-5.2v10.4m-4.1-9l8.2 7.6m-8.2 0l8.2-7.6M239.8 594.8h11.8m-5.9-5.2v10.4m-4.1-9l8.2 7.6m-8.2 0l8.2-7.6M211.2 589.2h11.8m-5.9-5.2v10.4m-4.1-9l8.2 7.6m-8.2 0l8.2-7.6M185.1 587.4h11.8m-5.9-5.2v10.4m-4.1-9l8.2 7.6m-8.2 0l8.2-7.6M237.9 595.5h11.8m-5.9-5.2v10.4m-4.1-9l8.2 7.6m-8.2 0l8.2-7.6M245.3 606.0h11.8m-5.9-5.2v10.4m-4.1-9l8.2 7.6m-8.2 0l8.2-7.6M193.1 582.7h11.8m-5.9-5.2v10.4m-4.1-9l8.2 7.6m-8.2 0l8.2-7.6M229.1 597.6h11.8m-5.9-5.2v10.4m-4.1-9l8.2 7.6m-8.2 0l8.2-7.6M189.3 579.5h11.8m-5.9-5.2v10.4m-4.1-9l8.2 7.6m-8.2 0l8.2-7.6M235.8 595.5h11.8m-5.9-5.2v10.4m-4.1-9l8.2 7.6m-8.2 0l8.2-7.6M176.7 580.6h11.8m-5.9-5.2v10.4m-4.1-9l8.2 7.6m-8.2 0l8.2-7.6M242.6 600.8h11.8m-5.9-5.2v10.4m-4.1-9l8.2 7.6m-8.2 0l8.2-7.6M213.7 591.9h11.8m-5.9-5.2v10.4m-4.1-9l8.2 7.6m-8.2 0l8.2-7.6M224.9 597.1h11.8m-5.9-5.2v10.4m-4.1-9l8.2 7.6m-8.2 0l8.2-7.6M235.9 592.8h11.8m-5.9-5.2v10.4m-4.1-9l8.2 7.6m-8.2 0l8.2-7.6M232.1 597.8h11.8m-5.9-5.2v10.4m-4.1-9l8.2 7.6m-8.2 0l8.2-7.6M231.6 600.8h11.8m-5.9-5.2v10.4m-4.1-9l8.2 7.6m-8.2 0l8.2-7.6M176.6 586.7h11.8m-5.9-5.2v10.4m-4.1-9l8.2 7.6m-8.2 0l8.2-7.6M207.1 593.2h11.8m-5.9-5.2v10.4m-4.1-9l8.2 7.6m-8.2 0l8.2-7.6M233.7 596.4h11.8m-5.9-5.2v10.4m-4.1-9l8.2 7.6m-8.2 0l8.2-7.6M217.0 593.4h11.8m-5.9-5.2v10.4m-4.1-9l8.2 7.6m-8.2 0l8.2-7.6M181.6 582.2h11.8m-5.9-5.2v10.4m-4.1-9l8.2 7.6m-8.2 0l8.2-7.6M205.1 591.2h11.8m-5.9-5.2v10.4m-4.1-9l8.2 7.6m-8.2 0l8.2-7.6M216.0 595.9h11.8m-5.9-5.2v10.4m-4.1-9l8.2 7.6m-8.2 0l8.2-7.6M228.4 593.4h11.8m-5.9-5.2v10.4m-4.1-9l8.2 7.6m-8.2 0l8.2-7.6M247.3 606.5h11.8m-5.9-5.2v10.4m-4.1-9l8.2 7.6m-8.2 0l8.2-7.6M190.5 587.0h11.8m-5.9-5.2v10.4m-4.1-9l8.2 7.6m-8.2 0l8.2-7.6M227.8 592.7h11.8m-5.9-5.2v10.4m-4.1-9l8.2 7.6m-8.2 0l8.2-7.6M229.4 598.8h11.8m-5.9-5.2v10.4m-4.1-9l8.2 7.6m-8.2 0l8.2-7.6M227.4 599.7h11.8m-5.9-5.2v10.4m-4.1-9l8.2 7.6m-8.2 0l8.2-7.6M230.9 599.1h11.8m-5.9-5.2v10.4m-4.1-9l8.2 7.6m-8.2 0l8.2-7.6M206.4 590.2h11.8m-5.9-5.2v10.4m-4.1-9l8.2 7.6m-8.2 0l8.2-7.6M210.7 592.6h11.8m-5.9-5.2v10.4m-4.1-9l8.2 7.6m-8.2 0l8.2-7.6M199.4 585.4h11.8m-5.9-5.2v10.4m-4.1-9l8.2 7.6m-8.2 0l8.2-7.6M208.2 591.0h11.8m-5.9-5.2v10.4m-4.1-9l8.2 7.6m-8.2 0l8.2-7.6M247.5 602.1h11.8m-5.9-5.2v10.4m-4.1-9l8.2 7.6m-8.2 0l8.2-7.6M189.1 580.5h11.8m-5.9-5.2v10.4m-4.1-9l8.2 7.6m-8.2 0l8.2-7.6M188.9 585.8h11.8m-5.9-5.2v10.4m-4.1-9l8.2 7.6m-8.2 0l8.2-7.6M186.4 588.0h11.8m-5.9-5.2v10.4m-4.1-9l8.2 7.6m-8.2 0l8.2-7.6M219.9 592.7h11.8m-5.9-5.2v10.4m-4.1-9l8.2 7.6m-8.2 0l8.2-7.6M211.0 590.2h11.8m-5.9-5.2v10.4m-4.1-9l8.2 7.6m-8.2 0l8.2-7.6M223.5 594.5h11.8m-5.9-5.2v10.4m-4.1-9l8.2 7.6m-8.2 0l8.2-7.6M196.3 587.6h11.8m-5.9-5.2v10.4m-4.1-9l8.2 7.6m-8.2 0l8.2-7.6M226.7 596.1h11.8m-5.9-5.2v10.4m-4.1-9l8.2 7.6m-8.2 0l8.2-7.6M209.6 590.8h11.8m-5.9-5.2v10.4m-4.1-9l8.2 7.6m-8.2 0l8.2-7.6M228.1 599.9h11.8m-5.9-5.2v10.4m-4.1-9l8.2 7.6m-8.2 0l8.2-7.6M195.6 587.9h11.8m-5.9-5.2v10.4m-4.1-9l8.2 7.6m-8.2 0l8.2-7.6M202.8 591.1h11.8m-5.9-5.2v10.4m-4.1-9l8.2 7.6m-8.2 0l8.2-7.6M182.0 582.5h11.8m-5.9-5.2v10.4m-4.1-9l8.2 7.6m-8.2 0l8.2-7.6M235.9 603.8h11.8m-5.9-5.2v10.4m-4.1-9l8.2 7.6m-8.2 0l8.2-7.6M182.9 587.6h11.8m-5.9-5.2v10.4m-4.1-9l8.2 7.6m-8.2 0l8.2-7.6M244.2 599.9h11.8m-5.9-5.2v10.4m-4.1-9l8.2 7.6m-8.2 0l8.2-7.6M243.3 605.5h11.8m-5.9-5.2v10.4m-4.1-9l8.2 7.6m-8.2 0l8.2-7.6M230.2 593.9h11.8m-5.9-5.2v10.4m-4.1-9l8.2 7.6m-8.2 0l8.2-7.6M220.2 590.3h11.8m-5.9-5.2v10.4m-4.1-9l8.2 7.6m-8.2 0l8.2-7.6M210.8 587.6h11.8m-5.9-5.2v10.4m-4.1-9l8.2 7.6m-8.2 0l8.2-7.6M223.9 594.2h11.8m-5.9-5.2v10.4m-4.1-9l8.2 7.6m-8.2 0l8.2-7.6M205.0 592.3h11.8m-5.9-5.2v10.4m-4.1-9l8.2 7.6m-8.2 0l8.2-7.6M245.0 597.2h11.8m-5.9-5.2v10.4m-4.1-9l8.2 7.6m-8.2 0l8.2-7.6M183.5 585.3h11.8m-5.9-5.2v10.4m-4.1-9l8.2 7.6m-8.2 0l8.2-7.6M185.7 581.6h11.8m-5.9-5.2v10.4m-4.1-9l8.2 7.6m-8.2 0l8.2-7.6M208.6 591.3h11.8m-5.9-5.2v10.4m-4.1-9l8.2 7.6m-8.2 0l8.2-7.6M215.8 587.4h11.8m-5.9-5.2v10.4m-4.1-9l8.2 7.6m-8.2 0l8.2-7.6M199.5 590.4h11.8m-5.9-5.2v10.4m-4.1-9l8.2 7.6m-8.2 0l8.2-7.6M179.6 584.6h11.8m-5.9-5.2v10.4m-4.1-9l8.2 7.6m-8.2 0l8.2-7.6M190.9 588.7h11.8m-5.9-5.2v10.4m-4.1-9l8.2 7.6m-8.2 0l8.2-7.6M212.4 594.2h11.8m-5.9-5.2v10.4m-4.1-9l8.2 7.6m-8.2 0l8.2-7.6M206.8 591.3h11.8m-5.9-5.2v10.4m-4.1-9l8.2 7.6m-8.2 0l8.2-7.6M246.5 608.4h11.8m-5.9-5.2v10.4m-4.1-9l8.2 7.6m-8.2 0l8.2-7.6M180.9 581.8h11.8m-5.9-5.2v10.4m-4.1-9l8.2 7.6m-8.2 0l8.2-7.6M176.0 587.8h11.8m-5.9-5.2v10.4m-4.1-9l8.2 7.6m-8.2 0l8.2-7.6M215.1 592.0h11.8m-5.9-5.2v10.4m-4.1-9l8.2 7.6m-8.2 0l8.2-7.6M236.1 593.9h11.8m-5.9-5.2v10.4m-4.1-9l8.2 7.6m-8.2 0l8.2-7.6M212.4 588.5h11.8m-5.9-5.2v10.4m-4.1-9l8.2 7.6m-8.2 0l8.2-7.6M242.8 596.5h11.8m-5.9-5.2v10.4m-4.1-9l8.2 7.6m-8.2 0l8.2-7.6M216.1 591.2h11.8m-5.9-5.2v10.4m-4.1-9l8.2 7.6m-8.2 0l8.2-7.6M238.1 594.8h11.8m-5.9-5.2v10.4m-4.1-9l8.2 7.6m-8.2 0l8.2-7.6M216.8 592.8h11.8m-5.9-5.2v10.4m-4.1-9l8.2 7.6m-8.2 0l8.2-7.6M244.9 607.5h11.8m-5.9-5.2v10.4m-4.1-9l8.2 7.6m-8.2 0l8.2-7.6M179.4 584.1h11.8m-5.9-5.2v10.4m-4.1-9l8.2 7.6m-8.2 0l8.2-7.6M189.0 583.9h11.8m-5.9-5.2v10.4m-4.1-9l8.2 7.6m-8.2 0l8.2-7.6M203.5 583.9h11.8m-5.9-5.2v10.4m-4.1-9l8.2 7.6m-8.2 0l8.2-7.6M221.4 591.4h11.8m-5.9-5.2v10.4m-4.1-9l8.2 7.6m-8.2 0l8.2-7.6M200.3 583.7h11.8m-5.9-5.2v10.4m-4.1-9l8.2 7.6m-8.2 0l8.2-7.6M218.8 592.8h11.8m-5.9-5.2v10.4m-4.1-9l8.2 7.6m-8.2 0l8.2-7.6M228.9 593.4h11.8m-5.9-5.2v10.4m-4.1-9l8.2 7.6m-8.2 0l8.2-7.6M184.2 580.6h11.8m-5.9-5.2v10.4m-4.1-9l8.2 7.6m-8.2 0l8.2-7.6M245.4 599.3h11.8m-5.9-5.2v10.4m-4.1-9l8.2 7.6m-8.2 0l8.2-7.6M166.1 577.9h11.8m-5.9-5.2v10.4m-4.1-9l8.2 7.6m-8.2 0l8.2-7.6" stroke="#ff00ff" stroke-width="1.25" fill="none"/><path d="M161.5 836.3h11.8m-5.9-5.2v10.4m-4.1-9l8.2 7.6m-8.2 0l8.2-7.6M181.0 858.6h11.8m-5.9-5.2v10.4m-4.1-9l8.2 7.6m-8.2 0l8.2-7.6M133.4 788.8h11.8m-5.9-5.2v10.4m-4.1-9l8.2 7.6m-8.2 0l8.2-7.6M143.9 804.3h11.8m-5.9-5.2v10.4m-4.1-9l8.2 7.6m-8.2 0l8.2-7.6M166.1 841.5h11.8m-5.9-5.2v10.4m-4.1-9l8.2 7.6m-8.2 0l8.2-7.6M130.7 785.5h11.8m-5.9-5.2v10.4m-4.1-9l8.2 7.6m-8.2 0l8.2-7.6M129.3 791.0h11.8m-5.9-5.2v10.4m-4.1-9l8.2 7.6m-8.2 0l8.2-7.6M155.7 823.9h11.8m-5.9-5.2v10.4m-4.1-9l8.2 7.6m-8.2 0l8.2-7.6M161.7 828.4h11.8m-5.9-5.2v10.4m-4.1-9l8.2 7.6m-8.2 0l8.2-7.6M163.3 831.7h11.8m-5.9-5.2v10.4m-4.1-9l8.2 7.6m-8.2 0l8.2-7.6M148.6 823.9h11.8m-5.9-5.2v10.4m-4.1-9l8.2 7.6m-8.2 0l8.2-7.6M145.1 811.5h11.8m-5.9-5.2v10.4m-4.1-9l8.2 7.6m-8.2 0l8.2-7.6M156.4 826.7h11.8m-5.9-5.2v10.4m-4.1-9l8.2 7.6m-8.2 0l8.2-7.6M167.7 844.6h11.8m-5.9-5.2v10.4m-4.1-9l8.2 7.6m-8.2 0l8.2-7.6M171.9 845.0h11.8m-5.9-5.2v10.4m-4.1-9l8.2 7.6m-8.2 0l8.2-7.6M145.3 808.4h11.8m-5.9-5.2v10.4m-4.1-9l8.2 7.6m-8.2 0l8.2-7.6M149.7 818.6h11.8m-5.9-5.2v10.4m-4.1-9l8.2 7.6m-8.2 0l8.2-7.6M180.6 862.4h11.8m-5.9-5.2v10.4m-4.1-9l8.2 7.6m-8.2 0l8.2-7.6M154.2 829.0h11.8m-5.9-5.2v10.4m-4.1-9l8.2 7.6m-8.2 0l8.2-7.6M162.4 835.1h11.8m-5.9-5.2v10.4m-4.1-9l8.2 7.6m-8.2 0l8.2-7.6M163.5 838.0h11.8m-5.9-5.2v10.4m-4.1-9l8.2 7.6m-8.2 0l8.2-7.6M173.9 851.4h11.8m-5.9-5.2v10.4m-4.1-9l8.2 7.6m-8.2 0l8.2-7.6M131.6 792.9h11.8m-5.9-5.2v10.4m-4.1-9l8.2 7.6m-8.2 0l8.2-7.6M157.6 824.7h11.8m-5.9-5.2v10.4m-4.1-9l8.2 7.6m-8.2 0l8.2-7.6M179.1 862.1h11.8m-5.9-5.2v10.4m-4.1-9l8.2 7.6m-8.2 0l8.2-7.6M175.0 852.9h11.8m-5.9-5.2v10.4m-4.1-9l8.2 7.6m-8.2 0l8.2-7.6M130.9 792.7h11.8m-5.9-5.2v10.4m-4.1-9l8.2 7.6m-8.2 0l8.2-7.6M170.9 849.4h11.8m-5.9-5.2v10.4m-4.1-9l8.2 7.6m-8.2 0l8.2-7.6M149.5 817.1h11.8m-5.9-5.2v10.4m-4.1-9l8.2 7.6m-8.2 0l8.2-7.6M166.3 843.7h11.8m-5.9-5.2v10.4m-4.1-9l8.2 7.6m-8.2 0l8.2-7.6M136.9 802.0h11.8m-5.9-5.2v10.4m-4.1-9l8.2 7.6m-8.2 0l8.2-7.6M163.7 840.8h11.8m-5.9-5.2v10.4m-4.1-9l8.2 7.6m-8.2 0l8.2-7.6M138.4 796.9h11.8m-5.9-5.2v10.4m-4.1-9l8.2 7.6m-8.2 0l8.2-7.6M159.3 828.6h11.8m-5.9-5.2v10.4m-4.1-9l8.2 7.6m-8.2 0l8.2-7.6M172.8 852.3h11.8m-5.9-5.2v10.4m-4.1-9l8.2 7.6m-8.2 0l8.2-7.6M156.5 821.3h11.8m-5.9-5.2v10.4m-4.1-9l8.2 7.6m-8.2 0l8.2-7.6M142.4 807.1h11.8m-5.9-5.2v10.4m-4.1-9l8.2 7.6m-8.2 0l8.2-7.6M173.1 847.3h11.8m-5.9-5.2v10.4m-4.1-9l8.2 7.6m-8.2 0l8.2-7.6M170.3 842.6h11.8m-5.9-5.2v10.4m-4.1-9l8.2 7.6m-8.2 0l8.2-7.6M139.5 801.3h11.8m-5.9-5.2v10.4m-4.1-9l8.2 7.6m-8.2 0l8.2-7.6M163.6 839.4h11.8m-5.9-5.2v10.4m-4.1-9l8.2 7.6m-8.2 0l8.2-7.6M143.3 803.0h11.8m-5.9-5.2v10.4m-4.1-9l8.2 7.6m-8.2 0l8.2-7.6M152.4 823.0h11.8m-5.9-5.2v10.4m-4.1-9l8.2 7.6m-8.2 0l8.2-7.6M148.2 812.9h11.8m-5.9-5.2v10.4m-4.1-9l8.2 7.6m-8.2 0l8.2-7.6M173.3 844.2h11.8m-5.9-5.2v10.4m-4.1-9l8.2 7.6m-8.2 0l8.2-7.6M144.1 814.7h11.8m-5.9-5.2v10.4m-4.1-9l8.2 7.6m-8.2 0l8.2-7.6M161.7 830.2h11.8m-5.9-5.2v10.4m-4.1-9l8.2 7.6m-8.2 0l8.2-7.6M161.1 833.9h11.8m-5.9-5.2v10.4m-4.1-9l8.2 7.6m-8.2 0l8.2-7.6M165.8 837.0h11.8m-5.9-5.2v10.4m-4.1-9l8.2 7.6m-8.2 0l8.2-7.6M143.5 806.0h11.8m-5.9-5.2v10.4m-4.1-9l8.2 7.6m-8.2 0l8.2-7.6M155.7 830.9h11.8m-5.9-5.2v10.4m-4.1-9l8.2 7.6m-8.2 0l8.2-7.6M161.9 839.6h11.8m-5.9-5.2v10.4m-4.1-9l8.2 7.6m-8.2 0l8.2-7.6M139.9 800.8h11.8m-5.9-5.2v10.4m-4.1-9l8.2 7.6m-8.2 0l8.2-7.6M138.9 797.5h11.8m-5.9-5.2v10.4m-4.1-9l8.2 7.6m-8.2 0l8.2-7.6M181.7 859.9h11.8m-5.9-5.2v10.4m-4.1-9l8.2 7.6m-8.2 0l8.2-7.6M180.9 855.1h11.8m-5.9-5.2v10.4m-4.1-9l8.2 7.6m-8.2 0l8.2-7.6M173.9 846.6h11.8m-5.9-5.2v10.4m-4.1-9l8.2 7.6m-8.2 0l8.2-7.6M143.1 807.2h11.8m-5.9-5.2v10.4m-4.1-9l8.2 7.6m-8.2 0l8.2-7.6M185.3 867.5h11.8m-5.9-5.2v10.4m-4.1-9l8.2 7.6m-8.2 0l8.2-7.6M168.9 844.9h11.8m-5.9-5.2v10.4m-4.1-9l8.2 7.6m-8.2 0l8.2-7.6M161.0 838.0h11.8m-5.9-5.2v10.4m-4.1-9l8.2 7.6m-8.2 0l8.2-7.6M160.0 832.8h11.8m-5.9-5.2v10.4m-4.1-9l8.2 7.6m-8.2 0l8.2-7.6M158.9 825.2h11.8m-5.9-5.2v10.4m-4.1-9l8.2 7.6m-8.2 0l8.2-7.6M174.6 850.5h11.8m-5.9-5.2v10.4m-4.1-9l8.2 7.6m-8.2 0l8.2-7.6M171.8 849.1h11.8m-5.9-5.2v10.4m-4.1-9l8.2 7.6m-8.2 0l8.2-7.6M136.0 793.6h11.8m-5.9-5.2v10.4m-4.1-9l8.2 7.6m-8.2 0l8.2-7.6M168.7 848.7h11.8m-5.9-5.2v10.4m-4.1-9l8.2 7.6m-8.2 0l8.2-7.6M143.5 811.1h11.8m-5.9-5.2v10.4m-4.1-9l8.2 7.6m-8.2 0l8.2-7.6M172.1 847.4h11.8m-5.9-5.2v10.4m-4.1-9l8.2 7.6m-8.2 0l8.2-7.6M155.7 821.5h11.8m-5.9-5.2v10.4m-4.1-9l8.2 7.6m-8.2 0l8.2-7.6M181.3 857.1h11.8m-5.9-5.2v10.4m-4.1-9l8.2 7.6m-8.2 0l8.2-7.6M154.1 824.7h11.8m-5.9-5.2v10.4m-4.1-9l8.2 7.6m-8.2 0l8.2-7.6M137.9 803.4h11.8m-5.9-5.2v10.4m-4.1-9l8.2 7.6m-8.2 0l8.2-7.6M186.3 867.5h11.8m-5.9-5.2v10.4m-4.1-9l8.2 7.6m-8.2 0l8.2-7.6M168.1 847.4h11.8m-5.9-5.2v10.4m-4.1-9l8.2 7.6m-8.2 0l8.2-7.6M167.0 840.4h11.8m-5.9-5.2v10.4m-4.1-9l8.2 7.6m-8.2 0l8.2-7.6M162.5 836.5h11.8m-5.9-5.2v10.4m-4.1-9l8.2 7.6m-8.2 0l8.2-7.6M160.9 837.3h11.8m-5.9-5.2v10.4m-4.1-9l8.2 7.6m-8.2 0l8.2-7.6M157.1 822.1h11.8m-5.9-5.2v10.4m-4.1-9l8.2 7.6m-8.2 0l8.2-7.6M162.8 840.7h11.8m-5.9-5.2v10.4m-4.1-9l8.2 7.6m-8.2 0l8.2-7.6M152.8 815.0h11.8m-5.9-5.2v10.4m-4.1-9l8.2 7.6m-8.2 0l8.2-7.6M142.4 804.3h11.8m-5.9-5.2v10.4m-4.1-9l8.2 7.6m-8.2 0l8.2-7.6M185.7 862.0h11.8m-5.9-5.2v10.4m-4.1-9l8.2 7.6m-8.2 0l8.2-7.6M145.7 813.4h11.8m-5.9-5.2v10.4m-4.1-9l8.2 7.6m-8.2 0l8.2-7.6M146.6 809.3h11.8m-5.9-5.2v10.4m-4.1-9l8.2 7.6m-8.2 0l8.2-7.6M141.3 802.8h11.8m-5.9-5.2v10.4m-4.1-9l8.2 7.6m-8.2 0l8.2-7.6M161.9 828.9h11.8m-5.9-5.2v10.4m-4.1-9l8.2 7.6m-8.2 0l8.2-7.6M159.5 832.0h11.8m-5.9-5.2v10.4m-4.1-9l8.2 7.6m-8.2 0l8.2-7.6M158.8 827.7h11.8m-5.9-5.2v10.4m-4.1-9l8.2 7.6m-8.2 0l8.2-7.6M154.6 818.9h11.8m-5.9-5.2v10.4m-4.1-9l8.2 7.6m-8.2 0l8.2-7.6M187.2 862.9h11.8m-5.9-5.2v10.4m-4.1-9l8.2 7.6m-8.2 0l8.2-7.6M135.4 801.3h11.8m-5.9-5.2v10.4m-4.1-9l8.2 7.6m-8.2 0l8.2-7.6M141.2 798.0h11.8m-5.9-5.2v10.4m-4.1-9l8.2 7.6m-8.2 0l8.2-7.6M128.8 787.3h11.8m-5.9-5.2v10.4m-4.1-9l8.2 7.6m-8.2 0l8.2-7.6M172.7 853.4h11.8m-5.9-5.2v10.4m-4.1-9l8.2 7.6m-8.2 0l8.2-7.6M131.1 795.6h11.8m-5.9-5.2v10.4m-4.1-9l8.2 7.6m-8.2 0l8.2-7.6M164.9 840.5h11.8m-5.9-5.2v10.4m-4.1-9l8.2 7.6m-8.2 0l8.2-7.6M173.9 846.9h11.8m-5.9-5.2v10.4m-4.1-9l8.2 7.6m-8.2 0l8.2-7.6M127.8 787.5h11.8m-5.9-5.2v10.4m-4.1-9l8.2 7.6m-8.2 0l8.2-7.6M135.4 798.8h11.8m-5.9-5.2v10.4m-4.1-9l8.2 7.6m-8.2 0l8.2-7.6M137.0 793.9h11.8m-5.9-5.2v10.4m-4.1-9l8.2 7.6m-8.2 0l8.2-7.6M158.2 825.6h11.8m-5.9-5.2v10.4m-4.1-9l8.2 7.6m-8.2 0l8.2-7.6M183.7 859.0h11.8m-5.9-5.2v10.4m-4.1-9l8.2 7.6m-8.2 0l8.2-7.6M178.1 858.9h11.8m-5.9-5.2v10.4m-4.1-9l8.2 7.6m-8.2 0l8.2-7.6M131.6 793.6h11.8m-5.9-5.2v10.4m-4.1-9l8.2 7.6m-8.2 0l8.2-7.6M151.2 813.0h11.8m-5.9-5.2v10.4m-4.1-9l8.2 7.6m-8.2 0l8.2-7.6M170.5 845.0h11.8m-5.9-5.2v10.4m-4.1-9l8.2 7.6m-8.2 0l8.2-7.6M168.1 840.9h11.8m-5.9-5.2v10.4m-4.1-9l8.2 7.6m-8.2 0l8.2-7.6M164.9 838.4h11.8m-5.9-5.2v10.4m-4.1-9l8.2 7.6m-8.2 0l8.2-7.6M153.5 827.5h11.8m-5.9-5.2v10.4m-4.1-9l8.2 7.6m-8.2 0l8.2-7.6M181.6 859.9h11.8m-5.9-5.2v10.4m-4.1-9l8.2 7.6m-8.2 0l8.2-7.6M159.7 827.9h11.8m-5.9-5.2v10.4m-4.1-9l8.2 7.6m-8.2 0l8.2-7.6M131.8 787.7h11.8m-5.9-5.2v10.4m-4.1-9l8.2 7.6m-8.2 0l8.2-7.6M167.8 844.7h11.8m-5.9-5.2v10.4m-4.1-9l8.2 7.6m-8.2 0l8.2-7.6M179.5 853.1h11.8m-5.9-5.2v10.4m-4.1-9l8.2 7.6m-8.2 0l8.2-7.6M170.5 842.0h11.8m-5.9-5.2v10.4m-4.1-9l8.2 7.6m-8.2 0l8.2-7.6M158.3 832.4h11.8m-5.9-5.2v10.4m-4.1-9l8.2 7.6m-8.2 0l8.2-7.6M145.3 807.1h11.8m-5.9-5.2v10.4m-4.1-9l8.2 7.6m-8.2 0l8.2-7.6M157.3 823.2h11.8m-5.9-5.2v10.4m-4.1-9l8.2 7.6m-8.2 0l8.2-7.6M136.3 796.3h11.8m-5.9-5.2v10.4m-4.1-9l8.2 7.6m-8.2 0l8.2-7.6M178.2 854.9h11.8m-5.9-5.2v10.4m-4.1-9l8.2 7.6m-8.2 0l8.2-7.6M162.8 831.7h11.8m-5.9-5.2v10.4m-4.1-9l8.2 7.6m-8.2 0l8.2-7.6M145.8 816.6h11.8m-5.9-5.2v10.4m-4.1-9l8.2 7.6m-8.2 0l8.2-7.6M170.7 841.7h11.8m-5.9-5.2v10.4m-4.1-9l8.2 7.6m-8.2 0l8.2-7.6M180.7 859.1h11.8m-5.9-5.2v10.4m-4.1-9l8.2 7.6m-8.2 0l8.2-7.6M179.5 854.7h11.8m-5.9-5.2v10.4m-4.1-9l8.2 7.6m-8.2 0l8.2-7.6M154.1 818.0h11.8m-5.9-5.2v10.4m-4.1-9l8.2 7.6m-8.2 0l8.2-7.6M130.9 787.2h11.8m-5.9-5.2v10.4m-4.1-9l8.2 7.6m-8.2 0l8.2-7.6M173.7 853.3h11.8m-5.9-5.2v10.4m-4.1-9l8.2 7.6m-8.2 0l8.2-7.6M150.4 818.8h11.8m-5.9-5.2v10.4m-4.1-9l8.2 7.6m-8.2 0l8.2-7.6M147.9 816.4h11.8m-5.9-5.2v10.4m-4.1-9l8.2 7.6m-8.2 0l8.2-7.6M176.1 858.7h11.8m-5.9-5.2v10.4m-4.1-9l8.2 7.6m-8.2 0l8.2-7.6M165.4 836.3h11.8m-5.9-5.2v10.4m-4.1-9l8.2 7.6m-8.2 0l8.2-7.6M187.0 863.3h11.8m-5.9-5.2v10.4m-4.1-9l8.2 7.6m-8.2 0l8.2-7.6M150.3 817.6h11.8m-5.9-5.2v10.4m-4.1-9l8.2 7.6m-8.2 0l8.2-7.6M177.5 855.1h11.8m-5.9-5.2v10.4m-4.1-9l8.2 7.6m-8.2 0l8.2-7.6M165.7 840.8h11.8m-5.9-5.2v10.4m-4.1-9l8.2 7.6m-8.2 0l8.2-7.6M177.1 858.7h11.8m-5.9-5.2v10.4m-4.1-9l8.2 7.6m-8.2 0l8.2-7.6M146.0 811.4h11.8m-5.9-5.2v10.4m-4.1-9l8.2 7.6m-8.2 0l8.2-7.6M175.5 857.6h11.8m-5.9-5.2v10.4m-4.1-9l8.2 7.6m-8.2 0l8.2-7.6M130.0 795.2h11.8m-5.9-5.2v10.4m-4.1-9l8.2 7.6m-8.2 0l8.2-7.6M130.4 798.3h11.8m-5.9-5.2v10.4m-4.1-9l8.2 7.6m-8.2 0l8.2-7.6M182.4 867.1h11.8m-5.9-5.2v10.4m-4.1-9l8.2 7.6m-8.2 0l8.2-7.6M162.5 835.3h11.8m-5.9-5.2v10.4m-4.1-9l8.2 7.6m-8.2 0l8.2-7.6M181.6 866.8h11.8m-5.9-5.2v10.4m-4.1-9l8.2 7.6m-8.2 0l8.2-7.6M157.3 822.5h11.8m-5.9-5.2v10.4m-4.1-9l8.2 7.6m-8.2 0l8.2-7.6M143.2 803.8h11.8m-5.9-5.2v10.4m-4.1-9l8.2 7.6m-8.2 0l8.2-7.6M149.1 815.0h11.8m-5.9-5.2v10.4m-4.1-9l8.2 7.6m-8.2 0l8.2-7.6M177.1 850.7h11.8m-5.9-5.2v10.4m-4.1-9l8.2 7.6m-8.2 0l8.2-7.6M127.1 795.5h11.8m-5.9-5.2v10.4m-4.1-9l8.2 7.6m-8.2 0l8.2-7.6M166.5 842.7h11.8m-5.9-5.2v10.4m-4.1-9l8.2 7.6m-8.2 0l8.2-7.6M147.9 814.9h11.8m-5.9-5.2v10.4m-4.1-9l8.2 7.6m-8.2 0l8.2-7.6M166.2 838.3h11.8m-5.9-5.2v10.4m-4.1-9l8.2 7.6m-8.2 0l8.2-7.6M160.5 834.2h11.8m-5.9-5.2v10.4m-4.1-9l8.2 7.6m-8.2 0l8.2-7.6M173.5 851.8h11.8m-5.9-5.2v10.4m-4.1-9l8.2 7.6m-8.2 0l8.2-7.6M167.7 844.4h11.8m-5.9-5.2v10.4m-4.1-9l8.2 7.6m-8.2 0l8.2-7.6M158.4 823.9h11.8m-5.9-5.2v10.4m-4.1-9l8.2 7.6m-8.2 0l8.2-7.6M166.8 844.7h11.8m-5.9-5.2v10.4m-4.1-9l8.2 7.6m-8.2 0l8.2-7.6M144.7 807.5h11.8m-5.9-5.2v10.4m-4.1-9l8.2 7.6m-8.2 0l8.2-7.6M154.8 820.0h11.8m-5.9-5.2v10.4m-4.1-9l8.2 7.6m-8.2 0l8.2-7.6M150.7 817.9h11.8m-5.9-5.2v10.4m-4.1-9l8.2 7.6m-8.2 0l8.2-7.6M164.1 836.2h11.8m-5.9-5.2v10.4m-4.1-9l8.2 7.6m-8.2 0l8.2-7.6M174.9 856.2h11.8m-5.9-5.2v10.4m-4.1-9l8.2 7.6m-8.2 0l8.2-7.6M152.8 819.7h11.8m-5.9-5.2v10.4m-4.1-9l8.2 7.6m-8.2 0l8.2-7.6M172.5 848.8h11.8m-5.9-5.2v10.4m-4.1-9l8.2 7.6m-8.2 0l8.2-7.6M177.4 850.9h11.8m-5.9-5.2v10.4m-4.1-9l8.2 7.6m-8.2 0l8.2-7.6M158.7 824.2h11.8m-5.9-5.2v10.4m-4.1-9l8.2 7.6m-8.2 0l8.2-7.6M183.1 859.2h11.8m-5.9-5.2v10.4m-4.1-9l8.2 7.6m-8.2 0l8.2-7.6M145.4 805.8h11.8m-5.9-5.2v10.4m-4.1-9l8.2 7.6m-8.2 0l8.2-7.6M138.2 800.4h11.8m-5.9-5.2v10.4m-4.1-9l8.2 7.6m-8.2 0l8.2-7.6M167.3 842.5h11.8m-5.9-5.2v10.4m-4.1-9l8.2 7.6m-8.2 0l8.2-7.6M170.4 844.7h11.8m-5.9-5.2v10.4m-4.1-9l8.2 7.6m-8.2 0l8.2-7.6M134.0 796.2h11.8m-5.9-5.2v10.4m-4.1-9l8.2 7.6m-8.2 0l8.2-7.6M183.8 861.2h11.8m-5.9-5.2v10.4m-4.1-9l8.2 7.6m-8.2 0l8.2-7.6M165.5 837.3h11.8m-5.9-5.2v10.4m-4.1-9l8.2 7.6m-8.2 0l8.2-7.6M127.9 789.1h11.8m-5.9-5.2v10.4m-4.1-9l8.2 7.6m-8.2 0l8.2-7.6M136.1 797.3h11.8m-5.9-5.2v10.4m-4.1-9l8.2 7.6m-8.2 0l8.2-7.6M170.7 841.0h11.8m-5.9-5.2v10.4m-4.1-9l8.2 7.6m-8.2 0l8.2-7.6M177.1 850.2h11.8m-5.9-5.2v10.4m-4.1-9l8.2 7.6m-8.2 0l8.2-7.6M186.1 865.8h11.8m-5.9-5.2v10.4m-4.1-9l8.2 7.6m-8.2 0l8.2-7.6M146.2 817.4h11.8m-5.9-5.2v10.4m-4.1-9l8.2 7.6m-8.2 0l8.2-7.6M142.3 809.3h11.8m-5.9-5.2v10.4m-4.1-9l8.2 7.6m-8.2 0l8.2-7.6M136.0 806.8h11.8m-5.9-5.2v10.4m-4.1-9l8.2 7.6m-8.2 0l8.2-7.6M132.2 794.5h11.8m-5.9-5.2v10.4m-4.1-9l8.2 7.6m-8.2 0l8.2-7.6M170.8 851.3h11.8m-5.9-5.2v10.4m-4.1-9l8.2 7.6m-8.2 0l8.2-7.6M165.4 836.9h11.8m-5.9-5.2v10.4m-4.1-9l8.2 7.6m-8.2 0l8.2-7.6M155.7 819.3h11.8m-5.9-5.2v10.4m-4.1-9l8.2 7.6m-8.2 0l8.2-7.6M154.7 829.3h11.8m-5.9-5.2v10.4m-4.1-9l8.2 7.6m-8.2 0l8.2-7.6M158.3 824.4h11.8m-5.9-5.2v10.4m-4.1-9l8.2 7.6m-8.2 0l8.2-7.6M144.4 808.2h11.8m-5.9-5.2v10.4m-4.1-9l8.2 7.6m-8.2 0l8.2-7.6M132.5 798.2h11.8m-5.9-5.2v10.4m-4.1-9l8.2 7.6m-8.2 0l8.2-7.6M167.4 841.1h11.8m-5.9-5.2v10.4m-4.1-9l8.2 7.6m-8.2 0l8.2-7.6M145.4 816.4h11.8m-5.9-5.2v10.4m-4.1-9l8.2 7.6m-8.2 0l8.2-7.6M162.5 838.8h11.8m-5.9-5.2v10.4m-4.1-9l8.2 7.6m-8.2 0l8.2-7.6M181.2 855.3h11.8m-5.9-5.2v10.4m-4.1-9l8.2 7.6m-8.2 0l8.2-7.6M130.3 792.3h11.8m-5.9-5.2v10.4m-4.1-9l8.2 7.6m-8.2 0l8.2-7.6M143.6 809.8h11.8m-5.9-5.2v10.4m-4.1-9l8.2 7.6m-8.2 0l8.2-7.6M143.8 811.5h11.8m-5.9-5.2v10.4m-4.1-9l8.2 7.6m-8.2 0l8.2-7.6M130.0 794.7h11.8m-5.9-5.2v10.4m-4.1-9l8.2 7.6m-8.2 0l8.2-7.6M158.5 831.2h11.8m-5.9-5.2v10.4m-4.1-9l8.2 7.6m-8.2 0l8.2-7.6M173.0 848.8h11.8m-5.9-5.2v10.4m-4.1-9l8.2 7.6m-8.2 0l8.2-7.6M156.3 818.5h11.8m-5.9-5.2v10.4m-4.1-9l8.2 7.6m-8.2 0l8.2-7.6M128.3 792.1h11.8m-5.9-5.2v10.4m-4.1-9l8.2 7.6m-8.2 0l8.2-7.6M154.8 824.8h11.8m-5.9-5.2v10.4m-4.1-9l8.2 7.6m-8.2 0l8.2-7.6M155.7 829.0h11.8m-5.9-5.2v10.4m-4.1-9l8.2 7.6m-8.2 0l8.2-7.6M143.8 804.1h11.8m-5.9-5.2v10.4m-4.1-9l8.2 7.6m-8.2 0l8.2-7.6M150.2 816.2h11.8m-5.9-5.2v10.4m-4.1-9l8.2 7.6m-8.2 0l8.2-7.6M186.2 864.3h11.8m-5.9-5.2v10.4m-4.1-9l8.2 7.6m-8.2 0l8.2-7.6M125.0 793.7h11.8m-5.9-5.2v10.4m-4.1-9l8.2 7.6m-8.2 0l8.2-7.6M160.1 835.0h11.8m-5.9-5.2v10.4m-4.1-9l8.2 7.6m-8.2 0l8.2-7.6M132.8 796.1h11.8m-5.9-5.2v10.4m-4.1-9l8.2 7.6m-8.2 0l8.2-7.6M155.2 819.5h11.8m-5.9-5.2v10.4m-4.1-9l8.2 7.6m-8.2 0l8.2-7.6M151.7 821.0h11.8m-5.9-5.2v10.4m-4.1-9l8.2 7.6m-8.2 0l8.2-7.6M171.8 847.5h11.8m-5.9-5.2v10.4m-4.1-9l8.2 7.6m-8.2 0l8.2-7.6M157.8 823.8h11.8m-5.9-5.2v10.4m-4.1-9l8.2 7.6m-8.2 0l8.2-7.6M132.3 790.9h11.8m-5.9-5.2v10.4m-4.1-9l8.2 7.6m-8.2 0l8.2-7.6M175.5 857.3h11.8m-5.9-5.2v10.4m-4.1-9l8.2 7.6m-8.2 0l8.2-7.6M165.0 837.1h11.8m-5.9-5.2v10.4m-4.1-9l8.2 7.6m-8.2 0l8.2-7.6M155.8 824.4h11.8m-5.9-5.2v10.4m-4.1-9l8.2 7.6m-8.2 0l8.2-7.6M171.4 851.1h11.8m-5.9-5.2v10.4m-4.1-9l8.2 7.6m-8.2 0l8.2-7.6M155.3 825.6h11.8m-5.9-5.2v10.4m-4.1-9l8.2 7.6m-8.2 0l8.2-7.6M183.2 864.8h11.8m-5.9-5.2v10.4m-4.1-9l8.2 7.6m-8.2 0l8.2-7.6M159.0 830.1h11.8m-5.9-5.2v10.4m-4.1-9l8.2 7.6m-8.2 0l8.2-7.6M140.0 795.8h11.8m-5.9-5.2v10.4m-4.1-9l8.2 7.6m-8.2 0l8.2-7.6M182.3 864.0h11.8m-5.9-5.2v10.4m-4.1-9l8.2 7.6m-8.2 0l8.2-7.6M180.5 848.6h11.8m-5.9-5.2v10.4m-4.1-9l8.2 7.6m-8.2 0l8.2-7.6M144.0 810.2h11.8m-5.9-5.2v10.4m-4.1-9l8.2 7.6m-8.2 0l8.2-7.6M151.5 823.2h11.8m-5.9-5.2v10.4m-4.1-9l8.2 7.6m-8.2 0l8.2-7.6M182.8 859.5h11.8m-5.9-5.2v10.4m-4.1-9l8.2 7.6m-8.2 0l8.2-7.6M166.0 842.5h11.8m-5.9-5.2v10.4m-4.1-9l8.2 7.6m-8.2 0l8.2-7.6M118.4 775.1h11.8m-5.9-5.2v10.4m-4.1-9l8.2 7.6m-8.2 0l8.2-7.6" stroke="#ffff00" stroke-width="1.25" fill="none"/><path d="M247.1 571.6h11.8m-5.9-5.2v10.4m-4.1-9l8.2 7.6m-8.2 0l8.2-7.6M210.1 569.0h11.8m-5.9-5.2v10.4m-4.1-9l8.2 7.6m-8.2 0l8.2-7.6M253.8 579.9h11.8m-5.9-5.2v10.4m-4.1-9l8.2 7.6m-8.2 0l8.2-7.6M240.7 575.6h11.8m-5.9-5.2v10.4m-4.1-9l8.2 7.6m-8.2 0l8.2-7.6M241.5 578.0h11.8m-5.9-5.2v10.4m-4.1-9l8.2 7.6m-8.2 0l8.2-7.6M294.2 594.1h11.8m-5.9-5.2v10.4m-4.1-9l8.2 7.6m-8.2 0l8.2-7.6M284.2 592.7h11.8m-5.9-5.2v10.4m-4.1-9l8.2 7.6m-8.2 0l8.2-7.6M294.0 591.0h11.8m-5.9-5.2v10.4m-4.1-9l8.2 7.6m-8.2 0l8.2-7.6M234.8 570.5h11.8m-5.9-5.2v10.4m-4.1-9l8.2 7.6m-8.2 0l8.2-7.6M279.9 592.0h11.8m-5.9-5.2v10.4m-4.1-9l8.2 7.6m-8.2 0l8.2-7.6M210.3 567.8h11.8m-5.9-5.2v10.4m-4.1-9l8.2 7.6m-8.2 0l8.2-7.6M272.3 582.9h11.8m-5.9-5.2v10.4m-4.1-9l8.2 7.6m-8.2 0l8.2-7.6M254.0 580.1h11.8m-5.9-5.2v10.4m-4.1-9l8.2 7.6m-8.2 0l8.2-7.6M245.8 574.3h11.8m-5.9-5.2v10.4m-4.1-9l8.2 7.6m-8.2 0l8.2-7.6M263.0 574.7h11.8m-5.9-5.2v10.4m-4.1-9l8.2 7.6m-8.2 0l8.2-7.6M245.7 574.6h11.8m-5.9-5.2v10.4m-4.1-9l8.2 7.6m-8.2 0l8.2-7.6M238.5 574.8h11.8m-5.9-5.2v10.4m-4.1-9l8.2 7.6m-8.2 0l8.2-7.6M228.5 570.9h11.8m-5.9-5.2v10.4m-4.1-9l8.2 7.6m-8.2 0l8.2-7.6M225.2 570.5h11.8m-5.9-5.2v10.4m-4.1-9l8.2 7.6m-8.2 0l8.2-7.6M220.2 570.9h11.8m-5.9-5.2v10.4m-4.1-9l8.2 7.6m-8.2 0l8.2-7.6M259.3 580.4h11.8m-5.9-5.2v10.4m-4.1-9l8.2 7.6m-8.2 0l8.2-7.6M251.5 578.9h11.8m-5.9-5.2v10.4m-4.1-9l8.2 7.6m-8.2 0l8.2-7.6M283.5 590.9h11.8m-5.9-5.2v10.4m-4.1-9l8.2 7.6m-8.2 0l8.2-7.6M211.3 566.0h11.8m-5.9-5.2v10.4m-4.1-9l8.2 7.6m-8.2 0l8.2-7.6M242.0 571.0h11.8m-5.9-5.2v10.4m-4.1-9l8.2 7.6m-8.2 0l8.2-7.6M285.4 589.2h11.8m-5.9-5.2v10.4m-4.1-9l8.2 7.6m-8.2 0l8.2-7.6M227.3 569.6h11.8m-5.9-5.2v10.4m-4.1-9l8.2 7.6m-8.2 0l8.2-7.6M240.8 574.8h11.8m-5.9-5.2v10.4m-4.1-9l8.2 7.6m-8.2 0l8.2-7.6M253.8 572.8h11.8m-5.9-5.2v10.4m-4.1-9l8.2 7.6m-8.2 0l8.2-7.6M224.3 571.8h11.8m-5.9-5.2v10.4m-4.1-9l8.2 7.6m-8.2 0l8.2-7.6M266.7 585.7h11.8m-5.9-5.2v10.4m-4.1-9l8.2 7.6m-8.2 0l8.2-7.6M219.5 569.4h11.8m-5.9-5.2v10.4m-4.1-9l8.2 7.6m-8.2 0l8.2-7.6M215.1 568.0h11.8m-5.9-5.2v10.4m-4.1-9l8.2 7.6m-8.2 0l8.2-7.6M265.7 582.4h11.8m-5.9-5.2v10.4m-4.1-9l8.2 7.6m-8.2 0l8.2-7.6M283.8 591.8h11.8m-5.9-5.2v10.4m-4.1-9l8.2 7.6m-8.2 0l8.2-7.6M253.0 584.3h11.8m-5.9-5.2v10.4m-4.1-9l8.2 7.6m-8.2 0l8.2-7.6M267.6 584.6h11.8m-5.9-5.2v10.4m-4.1-9l8.2 7.6m-8.2 0l8.2-7.6M213.8 568.1h11.8m-5.9-5.2v10.4m-4.1-9l8.2 7.6m-8.2 0l8.2-7.6M247.7 576.0h11.8m-5.9-5.2v10.4m-4.1-9l8.2 7.6m-8.2 0l8.2-7.6M275.4 587.4h11.8m-5.9-5.2v10.4m-4.1-9l8.2 7.6m-8.2 0l8.2-7.6M273.0 582.5h11.8m-5.9-5.2v10.4m-4.1-9l8.2 7.6m-8.2 0l8.2-7.6M258.6 580.5h11.8m-5.9-5.2v10.4m-4.1-9l8.2 7.6m-8.2 0l8.2-7.6M292.0 592.2h11.8m-5.9-5.2v10.4m-4.1-9l8.2 7.6m-8.2 0l8.2-7.6M219.2 571.0h11.8m-5.9-5.2v10.4m-4.1-9l8.2 7.6m-8.2 0l8.2-7.6M275.8 583.3h11.8m-5.9-5.2v10.4m-4.1-9l8.2 7.6m-8.2 0l8.2-7.6M255.3 582.1h11.8m-5.9-5.2v10.4m-4.1-9l8.2 7.6m-8.2 0l8.2-7.6M279.7 584.2h11.8m-5.9-5.2v10.4m-4.1-9l8.2 7.6m-8.2 0l8.2-7.6M283.1 588.6h11.8m-5.9-5.2v10.4m-4.1-9l8.2 7.6m-8.2 0l8.2-7.6M245.7 578.1h11.8m-5.9-5.2v10.4m-4.1-9l8.2 7.6m-8.2 0l8.2-7.6M266.8 582.0h11.8m-5.9-5.2v10.4m-4.1-9l8.2 7.6m-8.2 0l8.2-7.6M236.8 576.5h11.8m-5.9-5.2v10.4m-4.1-9l8.2 7.6m-8.2 0l8.2-7.6M232.5 575.1h11.8m-5.9-5.2v10.4m-4.1-9l8.2 7.6m-8.2 0l8.2-7.6M292.1 589.5h11.8m-5.9-5.2v10.4m-4.1-9l8.2 7.6m-8.2 0l8.2-7.6M220.2 569.9h11.8m-5.9-5.2v10.4m-4.1-9l8.2 7.6m-8.2 0l8.2-7.6M215.3 569.4h11.8m-5.9-5.2v10.4m-4.1-9l8.2 7.6m-8.2 0l8.2-7.6M251.2 572.9h11.8m-5.9-5.2v10.4m-4.1-9l8.2 7.6m-8.2 0l8.2-7.6M290.7 592.2h11.8m-5.9-5.2v10.4m-4.1-9l8.2 7.6m-8.2 0l8.2-7.6M267.7 582.8h11.8m-5.9-5.2v10.4m-4.1-9l8.2 7.6m-8.2 0l8.2-7.6M272.9 583.2h11.8m-5.9-5.2v10.4m-4.1-9l8.2 7.6m-8.2 0l8.2-7.6M240.0 576.0h11.8m-5.9-5.2v10.4m-4.1-9l8.2 7.6m-8.2 0l8.2-7.6M278.2 590.6h11.8m-5.9-5.2v10.4m-4.1-9l8.2 7.6m-8.2 0l8.2-7.6M228.8 572.8h11.8m-5.9-5.2v10.4m-4.1-9l8.2 7.6m-8.2 0l8.2-7.6M266.4 586.3h11.8m-5.9-5.2v10.4m-4.1-9l8.2 7.6m-8.2 0l8.2-7.6M217.5 567.2h11.8m-5.9-5.2v10.4m-4.1-9l8.2 7.6m-8.2 0l8.2-7.6M255.3 577.2h11.8m-5.9-5.2v10.4m-4.1-9l8.2 7.6m-8.2 0l8.2-7.6M275.2 584.9h11.8m-5.9-5.2v10.4m-4.1-9l8.2 7.6m-8.2 0l8.2-7.6M231.2 567.0h11.8m-5.9-5.2v10.4m-4.1-9l8.2 7.6m-8.2 0l8.2-7.6M230.7 573.2h11.8m-5.9-5.2v10.4m-4.1-9l8.2 7.6m-8.2 0l8.2-7.6M232.7 567.1h11.8m-5.9-5.2v10.4m-4.1-9l8.2 7.6m-8.2 0l8.2-7.6M282.1 586.7h11.8m-5.9-5.2v10.4m-4.1-9l8.2 7.6m-8.2 0l8.2-7.6M277.7 587.0h11.8m-5.9-5.2v10.4m-4.1-9l8.2 7.6m-8.2 0l8.2-7.6M292.4 591.3h11.8m-5.9-5.2v10.4m-4.1-9l8.2 7.6m-8.2 0l8.2-7.6M221.4 566.7h11.8m-5.9-5.2v10.4m-4.1-9l8.2 7.6m-8.2 0l8.2-7.6M278.5 586.4h11.8m-5.9-5.2v10.4m-4.1-9l8.2 7.6m-8.2 0l8.2-7.6M278.4 590.0h11.8m-5.9-5.2v10.4m-4.1-9l8.2 7.6m-8.2 0l8.2-7.6M212.0 565.4h11.8m-5.9-5.2v10.4m-4.1-9l8.2 7.6m-8.2 0l8.2-7.6M228.1 570.1h11.8m-5.9-5.2v10.4m-4.1-9l8.2 7.6m-8.2 0l8.2-7.6M255.4 579.7h11.8m-5.9-5.2v10.4m-4.1-9l8.2 7.6m-8.2 0l8.2-7.6M233.2 573.8h11.8m-5.9-5.2v10.4m-4.1-9l8.2 7.6m-8.2 0l8.2-7.6M284.6 587.5h11.8m-5.9-5.2v10.4m-4.1-9l8.2 7.6m-8.2 0l8.2-7.6M212.9 567.9h11.8m-5.9-5.2v10.4m-4.1-9l8.2 7.6m-8.2 0l8.2-7.6M257.4 576.6h11.8m-5.9-5.2v10.4m-4.1-9l8.2 7.6m-8.2 0l8.2-7.6M273.5 593.6h11.8m-5.9-5.2v10.4m-4.1-9l8.2 7.6m-8.2 0l8.2-7.6M238.5 568.3h11.8m-5.9-5.2v10.4m-4.1-9l8.2 7.6m-8.2 0l8.2-7.6M269.1 583.9h11.8m-5.9-5.2v10.4m-4.1-9l8.2 7.6m-8.2 0l8.2-7.6M233.4 567.1h11.8m-5.9-5.2v10.4m-4.1-9l8.2 7.6m-8.2 0l8.2-7.6M262.2 581.1h11.8m-5.9-5.2v10.4m-4.1-9l8.2 7.6m-8.2 0l8.2-7.6M246.0 573.4h11.8m-5.9-5.2v10.4m-4.1-9l8.2 7.6m-8.2 0l8.2-7.6M291.8 592.3h11.8m-5.9-5.2v10.4m-4.1-9l8.2 7.6m-8.2 0l8.2-7.6M292.5 597.9h11.8m-5.9-5.2v10.4m-4.1-9l8.2 7.6m-8.2 0l8.2-7.6M294.8 596.2h11.8m-5.9-5.2v10.4m-4.1-9l8.2 7.6m-8.2 0l8.2-7.6M282.1 592.9h11.8m-5.9-5.2v10.4m-4.1-9l8.2 7.6m-8.2 0l8.2-7.6M231.8 568.8h11.8m-5.9-5.2v10.4m-4.1-9l8.2 7.6m-8.2 0l8.2-7.6M277.7 584.7h11.8m-5.9-5.2v10.4m-4.1-9l8.2 7.6m-8.2 0l8.2-7.6M223.7 567.7h11.8m-5.9-5.2v10.4m-4.1-9l8.2 7.6m-8.2 0l8.2-7.6M293.3 595.1h11.8m-5.9-5.2v10.4m-4.1-9l8.2 7.6m-8.2 0l8.2-7.6M284.9 586.5h11.8m-5.9-5.2v10.4m-4.1-9l8.2 7.6m-8.2 0l8.2-7.6M220.7 565.5h11.8m-5.9-5.2v10.4m-4.1-9l8.2 7.6m-8.2 0l8.2-7.6M278.6 584.0h11.8m-5.9-5.2v10.4m-4.1-9l8.2 7.6m-8.2 0l8.2-7.6M288.7 592.7h11.8m-5.9-5.2v10.4m-4.1-9l8.2 7.6m-8.2 0l8.2-7.6M242.4 575.1h11.8m-5.9-5.2v10.4m-4.1-9l8.2 7.6m-8.2 0l8.2-7.6M232.7 572.1h11.8m-5.9-5.2v10.4m-4.1-9l8.2 7.6m-8.2 0l8.2-7.6M214.0 566.2h11.8m-5.9-5.2v10.4m-4.1-9l8.2 7.6m-8.2 0l8.2-7.6M235.4 574.0h11.8m-5.9-5.2v10.4m-4.1-9l8.2 7.6m-8.2 0l8.2-7.6M286.1 592.8h11.8m-5.9-5.2v10.4m-4.1-9l8.2 7.6m-8.2 0l8.2-7.6M221.8 567.8h11.8m-5.9-5.2v10.4m-4.1-9l8.2 7.6m-8.2 0l8.2-7.6M270.3 583.3h11.8m-5.9-5.2v10.4m-4.1-9l8.2 7.6m-8.2 0l8.2-7.6M278.4 584.8h11.8m-5.9-5.2v10.4m-4.1-9l8.2 7.6m-8.2 0l8.2-7.6M234.2 575.0h11.8m-5.9-5.2v10.4m-4.1-9l8.2 7.6m-8.2 0l8.2-7.6M293.5 591.9h11.8m-5.9-5.2v10.4m-4.1-9l8.2 7.6m-8.2 0l8.2-7.6M275.0 582.9h11.8m-5.9-5.2v10.4m-4.1-9l8.2 7.6m-8.2 0l8.2-7.6M256.4 578.8h11.8m-5.9-5.2v10.4m-4.1-9l8.2 7.6m-8.2 0l8.2-7.6M221.5 565.1h11.8m-5.9-5.2v10.4m-4.1-9l8.2 7.6m-8.2 0l8.2-7.6M289.4 601.4h11.8m-5.9-5.2v10.4m-4.1-9l8.2 7.6m-8.2 0l8.2-7.6M291.0 593.3h11.8m-5.9-5.2v10.4m-4.1-9l8.2 7.6m-8.2 0l8.2-7.6M280.7 586.5h11.8m-5.9-5.2v10.4m-4.1-9l8.2 7.6m-8.2 0l8.2-7.6M256.0 581.8h11.8m-5.9-5.2v10.4m-4.1-9l8.2 7.6m-8.2 0l8.2-7.6M269.7 585.0h11.8m-5.9-5.2v10.4m-4.1-9l8.2 7.6m-8.2 0l8.2-7.6M248.9 574.7h11.8m-5.9-5.2v10.4m-4.1-9l8.2 7.6m-8.2 0l8.2-7.6M253.8 579.0h11.8m-5.9-5.2v10.4m-4.1-9l8.2 7.6m-8.2 0l8.2-7.6M276.7 584.3h11.8m-5.9-5.2v10.4m-4.1-9l8.2 7.6m-8.2 0l8.2-7.6M258.7 580.5h11.8m-5.9-5.2v10.4m-4.1-9l8.2 7.6m-8.2 0l8.2-7.6M247.6 573.5h11.8m-5.9-5.2v10.4m-4.1-9l8.2 7.6m-8.2 0l8.2-7.6M240.6 574.0h11.8m-5.9-5.2v10.4m-4.1-9l8.2 7.6m-8.2 0l8.2-7.6M280.1 589.5h11.8m-5.9-5.2v10.4m-4.1-9l8.2 7.6m-8.2 0l8.2-7.6M225.8 572.3h11.8m-5.9-5.2v10.4m-4.1-9l8.2 7.6m-8.2 0l8.2-7.6M258.9 581.6h11.8m-5.9-5.2v10.4m-4.1-9l8.2 7.6m-8.2 0l8.2-7.6M223.9 570.6h11.8m-5.9-5.2v10.4m-4.1-9l8.2 7.6m-8.2 0l8.2-7.6M291.7 592.5h11.8m-5.9-5.2v10.4m-4.1-9l8.2 7.6m-8.2 0l8.2-7.6M231.2 569.3h11.8m-5.9-5.2v10.4m-4.1-9l8.2 7.6m-8.2 0l8.2-7.6M271.3 583.5h11.8m-5.9-5.2v10.4m-4.1-9l8.2 7.6m-8.2 0l8.2-7.6M225.3 566.0h11.8m-5.9-5.2v10.4m-4.1-9l8.2 7.6m-8.2 0l8.2-7.6M291.0 595.6h11.8m-5.9-5.2v10.4m-4.1-9l8.2 7.6m-8.2 0l8.2-7.6M251.6 579.9h11.8m-5.9-5.2v10.4m-4.1-9l8.2 7.6m-8.2 0l8.2-7.6M283.8 592.6h11.8m-5.9-5.2v10.4m-4.1-9l8.2 7.6m-8.2 0l8.2-7.6M280.9 586.3h11.8m-5.9-5.2v10.4m-4.1-9l8.2 7.6m-8.2 0l8.2-7.6M254.4 579.0h11.8m-5.9-5.2v10.4m-4.1-9l8.2 7.6m-8.2 0l8.2-7.6M225.5 567.9h11.8m-5.9-5.2v10.4m-4.1-9l8.2 7.6m-8.2 0l8.2-7.6M273.7 585.9h11.8m-5.9-5.2v10.4m-4.1-9l8.2 7.6m-8.2 0l8.2-7.6M216.1 571.8h11.8m-5.9-5.2v10.4m-4.1-9l8.2 7.6m-8.2 0l8.2-7.6M246.5 577.7h11.8m-5.9-5.2v10.4m-4.1-9l8.2 7.6m-8.2 0l8.2-7.6M279.6 584.2h11.8m-5.9-5.2v10.4m-4.1-9l8.2 7.6m-8.2 0l8.2-7.6M284.0 591.7h11.8m-5.9-5.2v10.4m-4.1-9l8.2 7.6m-8.2 0l8.2-7.6M278.1 588.7h11.8m-5.9-5.2v10.4m-4.1-9l8.2 7.6m-8.2 0l8.2-7.6M281.4 584.6h11.8m-5.9-5.2v10.4m-4.1-9l8.2 7.6m-8.2 0l8.2-7.6M287.4 589.9h11.8m-5.9-5.2v10.4m-4.1-9l8.2 7.6m-8.2 0l8.2-7.6M280.7 587.2h11.8m-5.9-5.2v10.4m-4.1-9l8.2 7.6m-8.2 0l8.2-7.6M270.5 582.0h11.8m-5.9-5.2v10.4m-4.1-9l8.2 7.6m-8.2 0l8.2-7.6M284.8 588.1h11.8m-5.9-5.2v10.4m-4.1-9l8.2 7.6m-8.2 0l8.2-7.6M279.9 589.6h11.8m-5.9-5.2v10.4m-4.1-9l8.2 7.6m-8.2 0l8.2-7.6M285.0 589.6h11.8m-5.9-5.2v10.4m-4.1-9l8.2 7.6m-8.2 0l8.2-7.6M233.8 569.9h11.8m-5.9-5.2v10.4m-4.1-9l8.2 7.6m-8.2 0l8.2-7.6M258.9 582.1h11.8m-5.9-5.2v10.4m-4.1-9l8.2 7.6m-8.2 0l8.2-7.6M260.0 577.2h11.8m-5.9-5.2v10.4m-4.1-9l8.2 7.6m-8.2 0l8.2-7.6M235.6 572.8h11.8m-5.9-5.2v10.4m-4.1-9l8.2 7.6m-8.2 0l8.2-7.6M290.5 593.9h11.8m-5.9-5.2v10.4m-4.1-9l8.2 7.6m-8.2 0l8.2-7.6M239.3 572.8h11.8m-5.9-5.2v10.4m-4.1-9l8.2 7.6m-8.2 0l8.2-7.6M287.3 589.1h11.8m-5.9-5.2v10.4m-4.1-9l8.2 7.6m-8.2 0l8.2-7.6M264.6 580.8h11.8m-5.9-5.2v10.4m-4.1-9l8.2 7.6m-8.2 0l8.2-7.6M234.8 569.8h11.8m-5.9-5.2v10.4m-4.1-9l8.2 7.6m-8.2 0l8.2-7.6M244.5 574.9h11.8m-5.9-5.2v10.4m-4.1-9l8.2 7.6m-8.2 0l8.2-7.6M269.8 588.0h11.8m-5.9-5.2v10.4m-4.1-9l8.2 7.6m-8.2 0l8.2-7.6M250.1 577.9h11.8m-5.9-5.2v10.4m-4.1-9l8.2 7.6m-8.2 0l8.2-7.6M249.1 575.3h11.8m-5.9-5.2v10.4m-4.1-9l8.2 7.6m-8.2 0l8.2-7.6M268.2 580.8h11.8m-5.9-5.2v10.4m-4.1-9l8.2 7.6m-8.2 0l8.2-7.6M286.0 586.9h11.8m-5.9-5.2v10.4m-4.1-9l8.2 7.6m-8.2 0l8.2-7.6M259.2 582.8h11.8m-5.9-5.2v10.4m-4.1-9l8.2 7.6m-8.2 0l8.2-7.6M280.5 591.8h11.8m-5.9-5.2v10.4m-4.1-9l8.2 7.6m-8.2 0l8.2-7.6M213.8 572.2h11.8m-5.9-5.2v10.4m-4.1-9l8.2 7.6m-8.2 0l8.2-7.6M227.6 568.6h11.8m-5.9-5.2v10.4m-4.1-9l8.2 7.6m-8.2 0l8.2-7.6M279.1 583.5h11.8m-5.9-5.2v10.4m-4.1-9l8.2 7.6m-8.2 0l8.2-7.6M249.4 578.7h11.8m-5.9-5.2v10.4m-4.1-9l8.2 7.6m-8.2 0l8.2-7.6M289.0 589.2h11.8m-5.9-5.2v10.4m-4.1-9l8.2 7.6m-8.2 0l8.2-7.6M252.4 575.8h11.8m-5.9-5.2v10.4m-4.1-9l8.2 7.6m-8.2 0l8.2-7.6M257.4 579.2h11.8m-5.9-5.2v10.4m-4.1-9l8.2 7.6m-8.2 0l8.2-7.6M270.9 587.9h11.8m-5.9-5.2v10.4m-4.1-9l8.2 7.6m-8.2 0l8.2-7.6M246.8 578.4h11.8m-5.9-5.2v10.4m-4.1-9l8.2 7.6m-8.2 0l8.2-7.6M246.1 574.6h11.8m-5.9-5.2v10.4m-4.1-9l8.2 7.6m-8.2 0l8.2-7.6M255.7 582.9h11.8m-5.9-5.2v10.4m-4.1-9l8.2 7.6m-8.2 0l8.2-7.6M287.9 592.4h11.8m-5.9-5.2v10.4m-4.1-9l8.2 7.6m-8.2 0l8.2-7.6M276.1 584.6h11.8m-5.9-5.2v10.4m-4.1-9l8.2 7.6m-8.2 0l8.2-7.6M228.5 566.1h11.8m-5.9-5.2v10.4m-4.1-9l8.2 7.6m-8.2 0l8.2-7.6M273.9 584.2h11.8m-5.9-5.2v10.4m-4.1-9l8.2 7.6m-8.2 0l8.2-7.6M223.6 569.0h11.8m-5.9-5.2v10.4m-4.1-9l8.2 7.6m-8.2 0l8.2-7.6M210.8 569.1h11.8m-5.9-5.2v10.4m-4.1-9l8.2 7.6m-8.2 0l8.2-7.6M293.9 592.1h11.8m-5.9-5.2v10.4m-4.1-9l8.2 7.6m-8.2 0l8.2-7.6M244.4 571.6h11.8m-5.9-5.2v10.4m-4.1-9l8.2 7.6m-8.2 0l8.2-7.6M290.3 596.9h11.8m-5.9-5.2v10.4m-4.1-9l8.2 7.6m-8.2 0l8.2-7.6M228.1 569.2h11.8m-5.9-5.2v10.4m-4.1-9l8.2 7.6m-8.2 0l8.2-7.6M210.3 571.5h11.8m-5.9-5.2v10.4m-4.1-9l8.2 7.6m-8.2 0l8.2-7.6M227.2 572.2h11.8m-5.9-5.2v10.4m-4.1-9l8.2 7.6m-8.2 0l8.2-7.6M276.9 582.4h11.8m-5.9-5.2v10.4m-4.1-9l8.2 7.6m-8.2 0l8.2-7.6M294.3 592.5h11.8m-5.9-5.2v10.4m-4.1-9l8.2 7.6m-8.2 0l8.2-7.6M242.9 574.0h11.8m-5.9-5.2v10.4m-4.1-9l8.2 7.6m-8.2 0l8.2-7.6M237.6 572.9h11.8m-5.9-5.2v10.4m-4.1-9l8.2 7.6m-8.2 0l8.2-7.6M226.2 568.9h11.8m-5.9-5.2v10.4m-4.1-9l8.2 7.6m-8.2 0l8.2-7.6M265.0 585.9h11.8m-5.9-5.2v10.4m-4.1-9l8.2 7.6m-8.2 0l8.2-7.6M218.8 573.9h11.8m-5.9-5.2v10.4m-4.1-9l8.2 7.6m-8.2 0l8.2-7.6M242.1 575.5h11.8m-5.9-5.2v10.4m-4.1-9l8.2 7.6m-8.2 0l8.2-7.6M212.3 568.7h11.8m-5.9-5.2v10.4m-4.1-9l8.2 7.6m-8.2 0l8.2-7.6M255.7 579.4h11.8m-5.9-5.2v10.4m-4.1-9l8.2 7.6m-8.2 0l8.2-7.6M296.4 591.7h11.8m-5.9-5.2v10.4m-4.1-9l8.2 7.6m-8.2 0l8.2-7.6M285.6 589.7h11.8m-5.9-5.2v10.4m-4.1-9l8.2 7.6m-8.2 0l8.2-7.6M226.3 569.6h11.8m-5.9-5.2v10.4m-4.1-9l8.2 7.6m-8.2 0l8.2-7.6M216.1 564.5h11.8m-5.9-5.2v10.4m-4.1-9l8.2 7.6m-8.2 0l8.2-7.6M243.6 571.6h11.8m-5.9-5.2v10.4m-4.1-9l8.2 7.6m-8.2 0l8.2-7.6M274.7 584.6h11.8m-5.9-5.2v10.4m-4.1-9l8.2 7.6m-8.2 0l8.2-7.6M216.6 570.1h11.8m-5.9-5.2v10.4m-4.1-9l8.2 7.6m-8.2 0l8.2-7.6M258.0 576.8h11.8m-5.9-5.2v10.4m-4.1-9l8.2 7.6m-8.2 0l8.2-7.6M259.3 583.9h11.8m-5.9-5.2v10.4m-4.1-9l8.2 7.6m-8.2 0l8.2-7.6M281.4 588.3h11.8m-5.9-5.2v10.4m-4.1-9l8.2 7.6m-8.2 0l8.2-7.6M234.2 573.2h11.8m-5.9-5.2v10.4m-4.1-9l8.2 7.6m-8.2 0l8.2-7.6M251.2 573.6h11.8m-5.9-5.2v10.4m-4.1-9l8.2 7.6m-8.2 0l8.2-7.6M236.1 573.5h11.8m-5.9-5.2v10.4m-4.1-9l8.2 7.6m-8.2 0l8.2-7.6M286.8 592.1h11.8m-5.9-5.2v10.4m-4.1-9l8.2 7.6m-8.2 0l8.2-7.6M223.4 570.3h11.8m-5.9-5.2v10.4m-4.1-9l8.2 7.6m-8.2 0l8.2-7.6M261.4 580.0h11.8m-5.9-5.2v10.4m-4.1-9l8.2 7.6m-8.2 0l8.2-7.6M272.6 587.0h11.8m-5.9-5.2v10.4m-4.1-9l8.2 7.6m-8.2 0l8.2-7.6M219.6 564.7h11.8m-5.9-5.2v10.4m-4.1-9l8.2 7.6m-8.2 0l8.2-7.6M269.5 580.4h11.8m-5.9-5.2v10.4m-4.1-9l8.2 7.6m-8.2 0l8.2-7.6M222.6 570.5h11.8m-5.9-5.2v10.4m-4.1-9l8.2 7.6m-8.2 0l8.2-7.6M244.1 578.1h11.8m-5.9-5.2v10.4m-4.1-9l8.2 7.6m-8.2 0l8.2-7.6M247.2 568.7h11.8m-5.9-5.2v10.4m-4.1-9l8.2 7.6m-8.2 0l8.2-7.6M213.5 570.5h11.8m-5.9-5.2v10.4m-4.1-9l8.2 7.6m-8.2 0l8.2-7.6M217.6 569.3h11.8m-5.9-5.2v10.4m-4.1-9l8.2 7.6m-8.2 0l8.2-7.6M253.0 577.0h11.8m-5.9-5.2v10.4m-4.1-9l8.2 7.6m-8.2 0l8.2-7.6M245.7 576.7h11.8m-5.9-5.2v10.4m-4.1-9l8.2 7.6m-8.2 0l8.2-7.6M271.8 582.5h11.8m-5.9-5.2v10.4m-4.1-9l8.2 7.6m-8.2 0l8.2-7.6M283.0 590.3h11.8m-5.9-5.2v10.4m-4.1-9l8.2 7.6m-8.2 0l8.2-7.6M283.4 587.6h11.8m-5.9-5.2v10.4m-4.1-9l8.2 7.6m-8.2 0l8.2-7.6M249.2 575.3h11.8m-5.9-5.2v10.4m-4.1-9l8.2 7.6m-8.2 0l8.2-7.6M237.0 571.1h11.8m-5.9-5.2v10.4m-4.1-9l8.2 7.6m-8.2 0l8.2-7.6M267.2 583.9h11.8m-5.9-5.2v10.4m-4.1-9l8.2 7.6m-8.2 0l8.2-7.6M230.0 566.1h11.8m-5.9-5.2v10.4m-4.1-9l8.2 7.6m-8.2 0l8.2-7.6M253.9 574.6h11.8m-5.9-5.2v10.4m-4.1-9l8.2 7.6m-8.2 0l8.2-7.6M216.7 565.1h11.8m-5.9-5.2v10.4m-4.1-9l8.2 7.6m-8.2 0l8.2-7.6M292.6 599.0h11.8m-5.9-5.2v10.4m-4.1-9l8.2 7.6m-8.2 0l8.2-7.6M263.9 583.9h11.8m-5.9-5.2v10.4m-4.1-9l8.2 7.6m-8.2 0l8.2-7.6M272.1 588.4h11.8m-5.9-5.2v10.4m-4.1-9l8.2 7.6m-8.2 0l8.2-7.6M218.1 566.2h11.8m-5.9-5.2v10.4m-4.1-9l8.2 7.6m-8.2 0l8.2-7.6M199.8 562.1h11.8m-5.9-5.2v10.4m-4.1-9l8.2 7.6m-8.2 0l8.2-7.6" stroke="#000000" stroke-width="1.25" fill="none"/><path d="M76.9 604.5h11.8m-5.9-5.2v10.4m-4.1-9l8.2 7.6m-8.2 0l8.2-7.6M61.5 600.2h11.8m-5.9-5.2v10.4m-4.1-9l8.2 7.6m-8.2 0l8.2-7.6M90.3 610.7h11.8m-5.9-5.2v10.4m-4.1-9l8.2 7.6m-8.2 0l8.2-7.6M61.6 597.4h11.8m-5.9-5.2v10.4m-4.1-9l8.2 7.6m-8.2 0l8.2-7.6M65.6 599.2h11.8m-5.9-5.2v10.4m-4.1-9l8.2 7.6m-8.2 0l8.2-7.6M74.3 602.9h11.8m-5.9-5.2v10.4m-4.1-9l8.2 7.6m-8.2 0l8.2-7.6M90.1 610.7h11.8m-5.9-5.2v10.4m-4.1-9l8.2 7.6m-8.2 0l8.2-7.6M85.6 609.8h11.8m-5.9-5.2v10.4m-4.1-9l8.2 7.6m-8.2 0l8.2-7.6M85.6 608.4h11.8m-5.9-5.2v10.4m-4.1-9l8.2 7.6m-8.2 0l8.2-7.6M80.0 605.9h11.8m-5.9-5.2v10.4m-4.1-9l8.2 7.6m-8.2 0l8.2-7.6M87.9 610.4h11.8m-5.9-5.2v10.4m-4.1-9l8.2 7.6m-8.2 0l8.2-7.6M95.5 613.8h11.8m-5.9-5.2v10.4m-4.1-9l8.2 7.6m-8.2 0l8.2-7.6M58.7 598.4h11.8m-5.9-5.2v10.4m-4.1-9l8.2 7.6m-8.2 0l8.2-7.6M75.2 605.6h11.8m-5.9-5.2v10.4m-4.1-9l8.2 7.6m-8.2 0l8.2-7.6M86.0 608.6h11.8m-5.9-5.2v10.4m-4.1-9l8.2 7.6m-8.2 0l8.2-7.6M94.6 614.3h11.8m-5.9-5.2v10.4m-4.1-9l8.2 7.6m-8.2 0l8.2-7.6M84.7 609.7h11.8m-5.9-5.2v10.4m-4.1-9l8.2 7.6m-8.2 0l8.2-7.6M94.0 612.8h11.8m-5.9-5.2v10.4m-4.1-9l8.2 7.6m-8.2 0l8.2-7.6M74.3 603.5h11.8m-5.9-5.2v10.4m-4.1-9l8.2 7.6m-8.2 0l8.2-7.6M58.6 597.1h11.8m-5.9-5.2v10.4m-4.1-9l8.2 7.6m-8.2 0l8.2-7.6M64.9 598.5h11.8m-5.9-5.2v10.4m-4.1-9l8.2 7.6m-8.2 0l8.2-7.6M82.0 607.0h11.8m-5.9-5.2v10.4m-4.1-9l8.2 7.6m-8.2 0l8.2-7.6M61.4 598.5h11.8m-5.9-5.2v10.4m-4.1-9l8.2 7.6m-8.2 0l8.2-7.6M62.6 598.5h11.8m-5.9-5.2v10.4m-4.1-9l8.2 7.6m-8.2 0l8.2-7.6M77.0 604.3h11.8m-5.9-5.2v10.4m-4.1-9l8.2 7.6m-8.2 0l8.2-7.6M69.5 600.9h11.8m-5.9-5.2v10.4m-4.1-9l8.2 7.6m-8.2 0l8.2-7.6M80.7 606.8h11.8m-5.9-5.2v10.4m-4.1-9l8.2 7.6m-8.2 0l8.2-7.6M93.1 614.6h11.8m-5.9-5.2v10.4m-4.1-9l8.2 7.6m-8.2 0l8.2-7.6M92.1 612.9h11.8m-5.9-5.2v10.4m-4.1-9l8.2 7.6m-8.2 0l8.2-7.6M96.2 614.9h11.8m-5.9-5.2v10.4m-4.1-9l8.2 7.6m-8.2 0l8.2-7.6M87.8 607.1h11.8m-5.9-5.2v10.4m-4.1-9l8.2 7.6m-8.2 0l8.2-7.6M60.1 598.5h11.8m-5.9-5.2v10.4m-4.1-9l8.2 7.6m-8.2 0l8.2-7.6M78.8 602.1h11.8m-5.9-5.2v10.4m-4.1-9l8.2 7.6m-8.2 0l8.2-7.6M79.8 607.3h11.8m-5.9-5.2v10.4m-4.1-9l8.2 7.6m-8.2 0l8.2-7.6M85.3 608.2h11.8m-5.9-5.2v10.4m-4.1-9l8.2 7.6m-8.2 0l8.2-7.6M98.8 614.3h11.8m-5.9-5.2v10.4m-4.1-9l8.2 7.6m-8.2 0l8.2-7.6M80.8 605.8h11.8m-5.9-5.2v10.4m-4.1-9l8.2 7.6m-8.2 0l8.2-7.6M69.3 600.5h11.8m-5.9-5.2v10.4m-4.1-9l8.2 7.6m-8.2 0l8.2-7.6M84.1 608.0h11.8m-5.9-5.2v10.4m-4.1-9l8.2 7.6m-8.2 0l8.2-7.6M72.3 596.8h11.8m-5.9-5.2v10.4m-4.1-9l8.2 7.6m-8.2 0l8.2-7.6M96.1 614.1h11.8m-5.9-5.2v10.4m-4.1-9l8.2 7.6m-8.2 0l8.2-7.6M80.6 607.7h11.8m-5.9-5.2v10.4m-4.1-9l8.2 7.6m-8.2 0l8.2-7.6M83.9 609.3h11.8m-5.9-5.2v10.4m-4.1-9l8.2 7.6m-8.2 0l8.2-7.6M60.5 595.6h11.8m-5.9-5.2v10.4m-4.1-9l8.2 7.6m-8.2 0l8.2-7.6M80.3 607.2h11.8m-5.9-5.2v10.4m-4.1-9l8.2 7.6m-8.2 0l8.2-7.6M77.8 605.4h11.8m-5.9-5.2v10.4m-4.1-9l8.2 7.6m-8.2 0l8.2-7.6M74.3 602.8h11.8m-5.9-5.2v10.4m-4.1-9l8.2 7.6m-8.2 0l8.2-7.6M83.9 607.3h11.8m-5.9-5.2v10.4m-4.1-9l8.2 7.6m-8.2 0l8.2-7.6M85.2 608.4h11.8m-5.9-5.2v10.4m-4.1-9l8.2 7.6m-8.2 0l8.2-7.6M57.9 598.1h11.8m-5.9-5.2v10.4m-4.1-9l8.2 7.6m-8.2 0l8.2-7.6M82.4 608.0h11.8m-5.9-5.2v10.4m-4.1-9l8.2 7.6m-8.2 0l8.2-7.6M69.7 601.8h11.8m-5.9-5.2v10.4m-4.1-9l8.2 7.6m-8.2 0l8.2-7.6M74.5 605.0h11.8m-5.9-5.2v10.4m-4.1-9l8.2 7.6m-8.2 0l8.2-7.6M80.2 607.5h11.8m-5.9-5.2v10.4m-4.1-9l8.2 7.6m-8.2 0l8.2-7.6M73.7 602.4h11.8m-5.9-5.2v10.4m-4.1-9l8.2 7.6m-8.2 0l8.2-7.6M87.4 613.8h11.8m-5.9-5.2v10.4m-4.1-9l8.2 7.6m-8.2 0l8.2-7.6M72.5 601.8h11.8m-5.9-5.2v10.4m-4.1-9l8.2 7.6m-8.2 0l8.2-7.6M89.6 610.9h11.8m-5.9-5.2v10.4m-4.1-9l8.2 7.6m-8.2 0l8.2-7.6M70.4 601.3h11.8m-5.9-5.2v10.4m-4.1-9l8.2 7.6m-8.2 0l8.2-7.6M60.4 599.9h11.8m-5.9-5.2v10.4m-4.1-9l8.2 7.6m-8.2 0l8.2-7.6M93.9 614.7h11.8m-5.9-5.2v10.4m-4.1-9l8.2 7.6m-8.2 0l8.2-7.6M78.0 606.4h11.8m-5.9-5.2v10.4m-4.1-9l8.2 7.6m-8.2 0l8.2-7.6M95.2 614.0h11.8m-5.9-5.2v10.4m-4.1-9l8.2 7.6m-8.2 0l8.2-7.6M73.2 603.5h11.8m-5.9-5.2v10.4m-4.1-9l8.2 7.6m-8.2 0l8.2-7.6M85.1 605.3h11.8m-5.9-5.2v10.4m-4.1-9l8.2 7.6m-8.2 0l8.2-7.6M67.0 600.1h11.8m-5.9-5.2v10.4m-4.1-9l8.2 7.6m-8.2 0l8.2-7.6M78.4 606.7h11.8m-5.9-5.2v10.4m-4.1-9l8.2 7.6m-8.2 0l8.2-7.6M69.7 601.3h11.8m-5.9-5.2v10.4m-4.1-9l8.2 7.6m-8.2 0l8.2-7.6M75.1 603.2h11.8m-5.9-5.2v10.4m-4.1-9l8.2 7.6m-8.2 0l8.2-7.6M71.3 603.2h11.8m-5.9-5.2v10.4m-4.1-9l8.2 7.6m-8.2 0l8.2-7.6M68.4 601.7h11.8m-5.9-5.2v10.4m-4.1-9l8.2 7.6m-8.2 0l8.2-7.6M88.3 610.9h11.8m-5.9-5.2v10.4m-4.1-9l8.2 7.6m-8.2 0l8.2-7.6M62.0 599.0h11.8m-5.9-5.2v10.4m-4.1-9l8.2 7.6m-8.2 0l8.2-7.6M76.0 604.3h11.8m-5.9-5.2v10.4m-4.1-9l8.2 7.6m-8.2 0l8.2-7.6M95.0 614.6h11.8m-5.9-5.2v10.4m-4.1-9l8.2 7.6m-8.2 0l8.2-7.6M67.5 599.8h11.8m-5.9-5.2v10.4m-4.1-9l8.2 7.6m-8.2 0l8.2-7.6M56.6 599.7h11.8m-5.9-5.2v10.4m-4.1-9l8.2 7.6m-8.2 0l8.2-7.6M69.5 602.1h11.8m-5.9-5.2v10.4m-4.1-9l8.2 7.6m-8.2 0l8.2-7.6M59.7 598.8h11.8m-5.9-5.2v10.4m-4.1-9l8.2 7.6m-8.2 0l8.2-7.6M91.8 613.2h11.8m-5.9-5.2v10.4m-4.1-9l8.2 7.6m-8.2 0l8.2-7.6M92.3 613.0h11.8m-5.9-5.2v10.4m-4.1-9l8.2 7.6m-8.2 0l8.2-7.6M82.5 607.4h11.8m-5.9-5.2v10.4m-4.1-9l8.2 7.6m-8.2 0l8.2-7.6M93.7 613.7h11.8m-5.9-5.2v10.4m-4.1-9l8.2 7.6m-8.2 0l8.2-7.6M74.1 604.0h11.8m-5.9-5.2v10.4m-4.1-9l8.2 7.6m-8.2 0l8.2-7.6M80.3 608.5h11.8m-5.9-5.2v10.4m-4.1-9l8.2 7.6m-8.2 0l8.2-7.6M96.8 616.4h11.8m-5.9-5.2v10.4m-4.1-9l8.2 7.6m-8.2 0l8.2-7.6M87.6 609.8h11.8m-5.9-5.2v10.4m-4.1-9l8.2 7.6m-8.2 0l8.2-7.6M68.9 602.2h11.8m-5.9-5.2v10.4m-4.1-9l8.2 7.6m-8.2 0l8.2-7.6M63.2 600.3h11.8m-5.9-5.2v10.4m-4.1-9l8.2 7.6m-8.2 0l8.2-7.6M77.7 603.8h11.8m-5.9-5.2v10.4m-4.1-9l8.2 7.6m-8.2 0l8.2-7.6M61.8 598.4h11.8m-5.9-5.2v10.4m-4.1-9l8.2 7.6m-8.2 0l8.2-7.6M67.9 601.5h11.8m-5.9-5.2v10.4m-4.1-9l8.2 7.6m-8.2 0l8.2-7.6M70.5 601.6h11.8m-5.9-5.2v10.4m-4.1-9l8.2 7.6m-8.2 0l8.2-7.6M82.0 606.8h11.8m-5.9-5.2v10.4m-4.1-9l8.2 7.6m-8.2 0l8.2-7.6M66.5 600.7h11.8m-5.9-5.2v10.4m-4.1-9l8.2 7.6m-8.2 0l8.2-7.6M59.0 598.5h11.8m-5.9-5.2v10.4m-4.1-9l8.2 7.6m-8.2 0l8.2-7.6M61.9 598.8h11.8m-5.9-5.2v10.4m-4.1-9l8.2 7.6m-8.2 0l8.2-7.6M61.0 598.9h11.8m-5.9-5.2v10.4m-4.1-9l8.2 7.6m-8.2 0l8.2-7.6M62.6 598.5h11.8m-5.9-5.2v10.4m-4.1-9l8.2 7.6m-8.2 0l8.2-7.6M73.4 602.8h11.8m-5.9-5.2v10.4m-4.1-9l8.2 7.6m-8.2 0l8.2-7.6M82.8 608.2h11.8m-5.9-5.2v10.4m-4.1-9l8.2 7.6m-8.2 0l8.2-7.6M95.0 614.2h11.8m-5.9-5.2v10.4m-4.1-9l8.2 7.6m-8.2 0l8.2-7.6M92.1 611.9h11.8m-5.9-5.2v10.4m-4.1-9l8.2 7.6m-8.2 0l8.2-7.6M57.7 597.1h11.8m-5.9-5.2v10.4m-4.1-9l8.2 7.6m-8.2 0l8.2-7.6M75.2 603.4h11.8m-5.9-5.2v10.4m-4.1-9l8.2 7.6m-8.2 0l8.2-7.6M58.5 598.1h11.8m-5.9-5.2v10.4m-4.1-9l8.2 7.6m-8.2 0l8.2-7.6M95.2 615.4h11.8m-5.9-5.2v10.4m-4.1-9l8.2 7.6m-8.2 0l8.2-7.6M74.8 605.4h11.8m-5.9-5.2v10.4m-4.1-9l8.2 7.6m-8.2 0l8.2-7.6M97.8 617.1h11.8m-5.9-5.2v10.4m-4.1-9l8.2 7.6m-8.2 0l8.2-7.6M65.5 600.3h11.8m-5.9-5.2v10.4m-4.1-9l8.2 7.6m-8.2 0l8.2-7.6M61.5 596.4h11.8m-5.9-5.2v10.4m-4.1-9l8.2 7.6m-8.2 0l8.2-7.6M89.2 610.4h11.8m-5.9-5.2v10.4m-4.1-9l8.2 7.6m-8.2 0l8.2-7.6M79.9 607.4h11.8m-5.9-5.2v10.4m-4.1-9l8.2 7.6m-8.2 0l8.2-7.6M65.6 600.1h11.8m-5.9-5.2v10.4m-4.1-9l8.2 7.6m-8.2 0l8.2-7.6M68.2 602.2h11.8m-5.9-5.2v10.4m-4.1-9l8.2 7.6m-8.2 0l8.2-7.6M80.0 607.1h11.8m-5.9-5.2v10.4m-4.1-9l8.2 7.6m-8.2 0l8.2-7.6M85.6 614.1h11.8m-5.9-5.2v10.4m-4.1-9l8.2 7.6m-8.2 0l8.2-7.6M60.1 597.1h11.8m-5.9-5.2v10.4m-4.1-9l8.2 7.6m-8.2 0l8.2-7.6M75.0 601.0h11.8m-5.9-5.2v10.4m-4.1-9l8.2 7.6m-8.2 0l8.2-7.6M87.8 611.2h11.8m-5.9-5.2v10.4m-4.1-9l8.2 7.6m-8.2 0l8.2-7.6M64.2 599.2h11.8m-5.9-5.2v10.4m-4.1-9l8.2 7.6m-8.2 0l8.2-7.6M96.7 618.3h11.8m-5.9-5.2v10.4m-4.1-9l8.2 7.6m-8.2 0l8.2-7.6M80.1 607.5h11.8m-5.9-5.2v10.4m-4.1-9l8.2 7.6m-8.2 0l8.2-7.6M60.3 598.6h11.8m-5.9-5.2v10.4m-4.1-9l8.2 7.6m-8.2 0l8.2-7.6M72.5 602.2h11.8m-5.9-5.2v10.4m-4.1-9l8.2 7.6m-8.2 0l8.2-7.6M64.4 598.7h11.8m-5.9-5.2v10.4m-4.1-9l8.2 7.6m-8.2 0l8.2-7.6M78.3 604.9h11.8m-5.9-5.2v10.4m-4.1-9l8.2 7.6m-8.2 0l8.2-7.6M69.0 601.0h11.8m-5.9-5.2v10.4m-4.1-9l8.2 7.6m-8.2 0l8.2-7.6M98.4 615.8h11.8m-5.9-5.2v10.4m-4.1-9l8.2 7.6m-8.2 0l8.2-7.6M85.4 608.7h11.8m-5.9-5.2v10.4m-4.1-9l8.2 7.6m-8.2 0l8.2-7.6M83.9 609.4h11.8m-5.9-5.2v10.4m-4.1-9l8.2 7.6m-8.2 0l8.2-7.6M95.9 616.0h11.8m-5.9-5.2v10.4m-4.1-9l8.2 7.6m-8.2 0l8.2-7.6M62.6 598.0h11.8m-5.9-5.2v10.4m-4.1-9l8.2 7.6m-8.2 0l8.2-7.6M63.7 599.3h11.8m-5.9-5.2v10.4m-4.1-9l8.2 7.6m-8.2 0l8.2-7.6M87.7 612.2h11.8m-5.9-5.2v10.4m-4.1-9l8.2 7.6m-8.2 0l8.2-7.6M64.9 600.3h11.8m-5.9-5.2v10.4m-4.1-9l8.2 7.6m-8.2 0l8.2-7.6M82.5 608.3h11.8m-5.9-5.2v10.4m-4.1-9l8.2 7.6m-8.2 0l8.2-7.6M75.7 605.1h11.8m-5.9-5.2v10.4m-4.1-9l8.2 7.6m-8.2 0l8.2-7.6M81.1 603.3h11.8m-5.9-5.2v10.4m-4.1-9l8.2 7.6m-8.2 0l8.2-7.6M83.8 609.0h11.8m-5.9-5.2v10.4m-4.1-9l8.2 7.6m-8.2 0l8.2-7.6M72.4 601.8h11.8m-5.9-5.2v10.4m-4.1-9l8.2 7.6m-8.2 0l8.2-7.6M75.5 603.4h11.8m-5.9-5.2v10.4m-4.1-9l8.2 7.6m-8.2 0l8.2-7.6M80.0 605.8h11.8m-5.9-5.2v10.4m-4.1-9l8.2 7.6m-8.2 0l8.2-7.6M81.2 607.7h11.8m-5.9-5.2v10.4m-4.1-9l8.2 7.6m-8.2 0l8.2-7.6M64.6 598.8h11.8m-5.9-5.2v10.4m-4.1-9l8.2 7.6m-8.2 0l8.2-7.6M66.2 599.2h11.8m-5.9-5.2v10.4m-4.1-9l8.2 7.6m-8.2 0l8.2-7.6M93.1 612.9h11.8m-5.9-5.2v10.4m-4.1-9l8.2 7.6m-8.2 0l8.2-7.6M89.4 611.6h11.8m-5.9-5.2v10.4m-4.1-9l8.2 7.6m-8.2 0l8.2-7.6M76.7 600.9h11.8m-5.9-5.2v10.4m-4.1-9l8.2 7.6m-8.2 0l8.2-7.6M72.3 601.6h11.8m-5.9-5.2v10.4m-4.1-9l8.2 7.6m-8.2 0l8.2-7.6" stroke="#0072bd" stroke-width="1.25" fill="none"/><path d="M471.9 724.8h11.8m-5.9-5.2v10.4m-4.1-9l8.2 7.6m-8.2 0l8.2-7.6M492.1 720.0h11.8m-5.9-5.2v10.4m-4.1-9l8.2 7.6m-8.2 0l8.2-7.6M527.4 749.5h11.8m-5.9-5.2v10.4m-4.1-9l8.2 7.6m-8.2 0l8.2-7.6M511.0 752.5h11.8m-5.9-5.2v10.4m-4.1-9l8.2 7.6m-8.2 0l8.2-7.6M434.1 699.0h11.8m-5.9-5.2v10.4m-4.1-9l8.2 7.6m-8.2 0l8.2-7.6M447.4 706.7h11.8m-5.9-5.2v10.4m-4.1-9l8.2 7.6m-8.2 0l8.2-7.6M501.3 746.9h11.8m-5.9-5.2v10.4m-4.1-9l8.2 7.6m-8.2 0l8.2-7.6M448.1 695.0h11.8m-5.9-5.2v10.4m-4.1-9l8.2 7.6m-8.2 0l8.2-7.6M474.6 715.5h11.8m-5.9-5.2v10.4m-4.1-9l8.2 7.6m-8.2 0l8.2-7.6M472.6 726.3h11.8m-5.9-5.2v10.4m-4.1-9l8.2 7.6m-8.2 0l8.2-7.6M462.8 701.7h11.8m-5.9-5.2v10.4m-4.1-9l8.2 7.6m-8.2 0l8.2-7.6M452.4 712.9h11.8m-5.9-5.2v10.4m-4.1-9l8.2 7.6m-8.2 0l8.2-7.6M446.9 699.5h11.8m-5.9-5.2v10.4m-4.1-9l8.2 7.6m-8.2 0l8.2-7.6M432.7 700.0h11.8m-5.9-5.2v10.4m-4.1-9l8.2 7.6m-8.2 0l8.2-7.6M426.0 688.8h11.8m-5.9-5.2v10.4m-4.1-9l8.2 7.6m-8.2 0l8.2-7.6M479.7 729.7h11.8m-5.9-5.2v10.4m-4.1-9l8.2 7.6m-8.2 0l8.2-7.6M500.1 731.0h11.8m-5.9-5.2v10.4m-4.1-9l8.2 7.6m-8.2 0l8.2-7.6M487.0 714.3h11.8m-5.9-5.2v10.4m-4.1-9l8.2 7.6m-8.2 0l8.2-7.6M548.8 767.5h11.8m-5.9-5.2v10.4m-4.1-9l8.2 7.6m-8.2 0l8.2-7.6M481.6 728.9h11.8m-5.9-5.2v10.4m-4.1-9l8.2 7.6m-8.2 0l8.2-7.6M548.9 768.2h11.8m-5.9-5.2v10.4m-4.1-9l8.2 7.6m-8.2 0l8.2-7.6M539.6 771.5h11.8m-5.9-5.2v10.4m-4.1-9l8.2 7.6m-8.2 0l8.2-7.6M539.3 760.3h11.8m-5.9-5.2v10.4m-4.1-9l8.2 7.6m-8.2 0l8.2-7.6M451.4 705.0h11.8m-5.9-5.2v10.4m-4.1-9l8.2 7.6m-8.2 0l8.2-7.6M503.5 747.3h11.8m-5.9-5.2v10.4m-4.1-9l8.2 7.6m-8.2 0l8.2-7.6M526.6 750.0h11.8m-5.9-5.2v10.4m-4.1-9l8.2 7.6m-8.2 0l8.2-7.6M486.4 721.9h11.8m-5.9-5.2v10.4m-4.1-9l8.2 7.6m-8.2 0l8.2-7.6M506.9 748.2h11.8m-5.9-5.2v10.4m-4.1-9l8.2 7.6m-8.2 0l8.2-7.6M423.4 679.2h11.8m-5.9-5.2v10.4m-4.1-9l8.2 7.6m-8.2 0l8.2-7.6M533.7 754.6h11.8m-5.9-5.2v10.4m-4.1-9l8.2 7.6m-8.2 0l8.2-7.6M421.4 683.5h11.8m-5.9-5.2v10.4m-4.1-9l8.2 7.6m-8.2 0l8.2-7.6M488.2 735.6h11.8m-5.9-5.2v10.4m-4.1-9l8.2 7.6m-8.2 0l8.2-7.6M476.8 721.5h11.8m-5.9-5.2v10.4m-4.1-9l8.2 7.6m-8.2 0l8.2-7.6M436.9 681.4h11.8m-5.9-5.2v10.4m-4.1-9l8.2 7.6m-8.2 0l8.2-7.6M422.6 687.6h11.8m-5.9-5.2v10.4m-4.1-9l8.2 7.6m-8.2 0l8.2-7.6M429.1 689.7h11.8m-5.9-5.2v10.4m-4.1-9l8.2 7.6m-8.2 0l8.2-7.6M428.7 678.8h11.8m-5.9-5.2v10.4m-4.1-9l8.2 7.6m-8.2 0l8.2-7.6M467.0 702.8h11.8m-5.9-5.2v10.4m-4.1-9l8.2 7.6m-8.2 0l8.2-7.6M530.8 746.6h11.8m-5.9-5.2v10.4m-4.1-9l8.2 7.6m-8.2 0l8.2-7.6M486.1 715.8h11.8m-5.9-5.2v10.4m-4.1-9l8.2 7.6m-8.2 0l8.2-7.6M469.3 716.9h11.8m-5.9-5.2v10.4m-4.1-9l8.2 7.6m-8.2 0l8.2-7.6M442.3 705.9h11.8m-5.9-5.2v10.4m-4.1-9l8.2 7.6m-8.2 0l8.2-7.6M428.2 677.9h11.8m-5.9-5.2v10.4m-4.1-9l8.2 7.6m-8.2 0l8.2-7.6M475.4 712.4h11.8m-5.9-5.2v10.4m-4.1-9l8.2 7.6m-8.2 0l8.2-7.6M462.0 711.3h11.8m-5.9-5.2v10.4m-4.1-9l8.2 7.6m-8.2 0l8.2-7.6M479.3 732.6h11.8m-5.9-5.2v10.4m-4.1-9l8.2 7.6m-8.2 0l8.2-7.6M426.4 680.2h11.8m-5.9-5.2v10.4m-4.1-9l8.2 7.6m-8.2 0l8.2-7.6M510.7 745.7h11.8m-5.9-5.2v10.4m-4.1-9l8.2 7.6m-8.2 0l8.2-7.6M468.9 716.2h11.8m-5.9-5.2v10.4m-4.1-9l8.2 7.6m-8.2 0l8.2-7.6M446.8 694.4h11.8m-5.9-5.2v10.4m-4.1-9l8.2 7.6m-8.2 0l8.2-7.6M508.8 748.1h11.8m-5.9-5.2v10.4m-4.1-9l8.2 7.6m-8.2 0l8.2-7.6M494.9 721.3h11.8m-5.9-5.2v10.4m-4.1-9l8.2 7.6m-8.2 0l8.2-7.6M477.0 730.4h11.8m-5.9-5.2v10.4m-4.1-9l8.2 7.6m-8.2 0l8.2-7.6M485.1 714.0h11.8m-5.9-5.2v10.4m-4.1-9l8.2 7.6m-8.2 0l8.2-7.6M440.0 689.1h11.8m-5.9-5.2v10.4m-4.1-9l8.2 7.6m-8.2 0l8.2-7.6M429.1 687.5h11.8m-5.9-5.2v10.4m-4.1-9l8.2 7.6m-8.2 0l8.2-7.6M466.1 722.4h11.8m-5.9-5.2v10.4m-4.1-9l8.2 7.6m-8.2 0l8.2-7.6M487.6 713.6h11.8m-5.9-5.2v10.4m-4.1-9l8.2 7.6m-8.2 0l8.2-7.6M427.0 689.3h11.8m-5.9-5.2v10.4m-4.1-9l8.2 7.6m-8.2 0l8.2-7.6M493.6 740.5h11.8m-5.9-5.2v10.4m-4.1-9l8.2 7.6m-8.2 0l8.2-7.6M453.9 695.9h11.8m-5.9-5.2v10.4m-4.1-9l8.2 7.6m-8.2 0l8.2-7.6M420.8 685.3h11.8m-5.9-5.2v10.4m-4.1-9l8.2 7.6m-8.2 0l8.2-7.6M532.3 758.6h11.8m-5.9-5.2v10.4m-4.1-9l8.2 7.6m-8.2 0l8.2-7.6M522.4 758.5h11.8m-5.9-5.2v10.4m-4.1-9l8.2 7.6m-8.2 0l8.2-7.6M423.9 679.2h11.8m-5.9-5.2v10.4m-4.1-9l8.2 7.6m-8.2 0l8.2-7.6M482.2 716.5h11.8m-5.9-5.2v10.4m-4.1-9l8.2 7.6m-8.2 0l8.2-7.6M477.4 713.7h11.8m-5.9-5.2v10.4m-4.1-9l8.2 7.6m-8.2 0l8.2-7.6M501.0 745.5h11.8m-5.9-5.2v10.4m-4.1-9l8.2 7.6m-8.2 0l8.2-7.6M475.5 725.6h11.8m-5.9-5.2v10.4m-4.1-9l8.2 7.6m-8.2 0l8.2-7.6M472.7 714.4h11.8m-5.9-5.2v10.4m-4.1-9l8.2 7.6m-8.2 0l8.2-7.6M531.6 753.4h11.8m-5.9-5.2v10.4m-4.1-9l8.2 7.6m-8.2 0l8.2-7.6M543.8 774.3h11.8m-5.9-5.2v10.4m-4.1-9l8.2 7.6m-8.2 0l8.2-7.6M492.4 741.2h11.8m-5.9-5.2v10.4m-4.1-9l8.2 7.6m-8.2 0l8.2-7.6M487.1 727.8h11.8m-5.9-5.2v10.4m-4.1-9l8.2 7.6m-8.2 0l8.2-7.6M537.2 754.9h11.8m-5.9-5.2v10.4m-4.1-9l8.2 7.6m-8.2 0l8.2-7.6M432.4 694.9h11.8m-5.9-5.2v10.4m-4.1-9l8.2 7.6m-8.2 0l8.2-7.6M475.0 715.3h11.8m-5.9-5.2v10.4m-4.1-9l8.2 7.6m-8.2 0l8.2-7.6M531.2 762.7h11.8m-5.9-5.2v10.4m-4.1-9l8.2 7.6m-8.2 0l8.2-7.6M453.0 711.3h11.8m-5.9-5.2v10.4m-4.1-9l8.2 7.6m-8.2 0l8.2-7.6M476.7 708.4h11.8m-5.9-5.2v10.4m-4.1-9l8.2 7.6m-8.2 0l8.2-7.6M505.3 741.3h11.8m-5.9-5.2v10.4m-4.1-9l8.2 7.6m-8.2 0l8.2-7.6M446.5 705.5h11.8m-5.9-5.2v10.4m-4.1-9l8.2 7.6m-8.2 0l8.2-7.6M490.7 734.7h11.8m-5.9-5.2v10.4m-4.1-9l8.2 7.6m-8.2 0l8.2-7.6M552.9 773.2h11.8m-5.9-5.2v10.4m-4.1-9l8.2 7.6m-8.2 0l8.2-7.6M546.8 766.4h11.8m-5.9-5.2v10.4m-4.1-9l8.2 7.6m-8.2 0l8.2-7.6M461.9 719.1h11.8m-5.9-5.2v10.4m-4.1-9l8.2 7.6m-8.2 0l8.2-7.6M485.3 712.5h11.8m-5.9-5.2v10.4m-4.1-9l8.2 7.6m-8.2 0l8.2-7.6M505.3 745.2h11.8m-5.9-5.2v10.4m-4.1-9l8.2 7.6m-8.2 0l8.2-7.6M543.2 763.1h11.8m-5.9-5.2v10.4m-4.1-9l8.2 7.6m-8.2 0l8.2-7.6M457.4 714.9h11.8m-5.9-5.2v10.4m-4.1-9l8.2 7.6m-8.2 0l8.2-7.6M509.8 737.7h11.8m-5.9-5.2v10.4m-4.1-9l8.2 7.6m-8.2 0l8.2-7.6M477.2 720.2h11.8m-5.9-5.2v10.4m-4.1-9l8.2 7.6m-8.2 0l8.2-7.6M527.0 753.4h11.8m-5.9-5.2v10.4m-4.1-9l8.2 7.6m-8.2 0l8.2-7.6M490.7 716.6h11.8m-5.9-5.2v10.4m-4.1-9l8.2 7.6m-8.2 0l8.2-7.6M534.2 752.9h11.8m-5.9-5.2v10.4m-4.1-9l8.2 7.6m-8.2 0l8.2-7.6M462.2 713.2h11.8m-5.9-5.2v10.4m-4.1-9l8.2 7.6m-8.2 0l8.2-7.6M474.0 721.7h11.8m-5.9-5.2v10.4m-4.1-9l8.2 7.6m-8.2 0l8.2-7.6M451.4 698.7h11.8m-5.9-5.2v10.4m-4.1-9l8.2 7.6m-8.2 0l8.2-7.6M492.6 719.2h11.8m-5.9-5.2v10.4m-4.1-9l8.2 7.6m-8.2 0l8.2-7.6M515.6 739.8h11.8m-5.9-5.2v10.4m-4.1-9l8.2 7.6m-8.2 0l8.2-7.6M459.0 696.7h11.8m-5.9-5.2v10.4m-4.1-9l8.2 7.6m-8.2 0l8.2-7.6M435.4 700.3h11.8m-5.9-5.2v10.4m-4.1-9l8.2 7.6m-8.2 0l8.2-7.6M509.2 746.7h11.8m-5.9-5.2v10.4m-4.1-9l8.2 7.6m-8.2 0l8.2-7.6M531.2 751.3h11.8m-5.9-5.2v10.4m-4.1-9l8.2 7.6m-8.2 0l8.2-7.6M488.3 728.3h11.8m-5.9-5.2v10.4m-4.1-9l8.2 7.6m-8.2 0l8.2-7.6M481.4 715.2h11.8m-5.9-5.2v10.4m-4.1-9l8.2 7.6m-8.2 0l8.2-7.6M491.3 715.5h11.8m-5.9-5.2v10.4m-4.1-9l8.2 7.6m-8.2 0l8.2-7.6M457.0 706.1h11.8m-5.9-5.2v10.4m-4.1-9l8.2 7.6m-8.2 0l8.2-7.6M431.8 687.7h11.8m-5.9-5.2v10.4m-4.1-9l8.2 7.6m-8.2 0l8.2-7.6M423.7 684.6h11.8m-5.9-5.2v10.4m-4.1-9l8.2 7.6m-8.2 0l8.2-7.6M514.3 749.5h11.8m-5.9-5.2v10.4m-4.1-9l8.2 7.6m-8.2 0l8.2-7.6M486.1 729.4h11.8m-5.9-5.2v10.4m-4.1-9l8.2 7.6m-8.2 0l8.2-7.6M515.3 756.4h11.8m-5.9-5.2v10.4m-4.1-9l8.2 7.6m-8.2 0l8.2-7.6M518.9 752.6h11.8m-5.9-5.2v10.4m-4.1-9l8.2 7.6m-8.2 0l8.2-7.6M535.2 749.5h11.8m-5.9-5.2v10.4m-4.1-9l8.2 7.6m-8.2 0l8.2-7.6M442.5 690.2h11.8m-5.9-5.2v10.4m-4.1-9l8.2 7.6m-8.2 0l8.2-7.6M524.7 761.4h11.8m-5.9-5.2v10.4m-4.1-9l8.2 7.6m-8.2 0l8.2-7.6M502.3 746.4h11.8m-5.9-5.2v10.4m-4.1-9l8.2 7.6m-8.2 0l8.2-7.6M455.2 712.1h11.8m-5.9-5.2v10.4m-4.1-9l8.2 7.6m-8.2 0l8.2-7.6M482.6 711.6h11.8m-5.9-5.2v10.4m-4.1-9l8.2 7.6m-8.2 0l8.2-7.6M452.0 694.2h11.8m-5.9-5.2v10.4m-4.1-9l8.2 7.6m-8.2 0l8.2-7.6M411.5 685.8h11.8m-5.9-5.2v10.4m-4.1-9l8.2 7.6m-8.2 0l8.2-7.6M542.8 773.0h11.8m-5.9-5.2v10.4m-4.1-9l8.2 7.6m-8.2 0l8.2-7.6M446.0 692.6h11.8m-5.9-5.2v10.4m-4.1-9l8.2 7.6m-8.2 0l8.2-7.6M546.9 776.0h11.8m-5.9-5.2v10.4m-4.1-9l8.2 7.6m-8.2 0l8.2-7.6M549.1 775.5h11.8m-5.9-5.2v10.4m-4.1-9l8.2 7.6m-8.2 0l8.2-7.6M458.0 705.6h11.8m-5.9-5.2v10.4m-4.1-9l8.2 7.6m-8.2 0l8.2-7.6M500.5 726.2h11.8m-5.9-5.2v10.4m-4.1-9l8.2 7.6m-8.2 0l8.2-7.6M451.6 712.4h11.8m-5.9-5.2v10.4m-4.1-9l8.2 7.6m-8.2 0l8.2-7.6M430.7 681.1h11.8m-5.9-5.2v10.4m-4.1-9l8.2 7.6m-8.2 0l8.2-7.6M522.2 746.6h11.8m-5.9-5.2v10.4m-4.1-9l8.2 7.6m-8.2 0l8.2-7.6M525.0 759.2h11.8m-5.9-5.2v10.4m-4.1-9l8.2 7.6m-8.2 0l8.2-7.6M421.3 689.3h11.8m-5.9-5.2v10.4m-4.1-9l8.2 7.6m-8.2 0l8.2-7.6M453.5 708.4h11.8m-5.9-5.2v10.4m-4.1-9l8.2 7.6m-8.2 0l8.2-7.6M541.4 757.2h11.8m-5.9-5.2v10.4m-4.1-9l8.2 7.6m-8.2 0l8.2-7.6M531.1 749.4h11.8m-5.9-5.2v10.4m-4.1-9l8.2 7.6m-8.2 0l8.2-7.6M525.4 761.3h11.8m-5.9-5.2v10.4m-4.1-9l8.2 7.6m-8.2 0l8.2-7.6M443.7 705.0h11.8m-5.9-5.2v10.4m-4.1-9l8.2 7.6m-8.2 0l8.2-7.6M519.9 747.8h11.8m-5.9-5.2v10.4m-4.1-9l8.2 7.6m-8.2 0l8.2-7.6M551.4 770.9h11.8m-5.9-5.2v10.4m-4.1-9l8.2 7.6m-8.2 0l8.2-7.6M550.6 777.5h11.8m-5.9-5.2v10.4m-4.1-9l8.2 7.6m-8.2 0l8.2-7.6M510.1 744.3h11.8m-5.9-5.2v10.4m-4.1-9l8.2 7.6m-8.2 0l8.2-7.6M436.1 697.0h11.8m-5.9-5.2v10.4m-4.1-9l8.2 7.6m-8.2 0l8.2-7.6M523.0 753.6h11.8m-5.9-5.2v10.4m-4.1-9l8.2 7.6m-8.2 0l8.2-7.6M450.5 698.8h11.8m-5.9-5.2v10.4m-4.1-9l8.2 7.6m-8.2 0l8.2-7.6M434.2 696.1h11.8m-5.9-5.2v10.4m-4.1-9l8.2 7.6m-8.2 0l8.2-7.6M511.5 737.8h11.8m-5.9-5.2v10.4m-4.1-9l8.2 7.6m-8.2 0l8.2-7.6M504.0 744.9h11.8m-5.9-5.2v10.4m-4.1-9l8.2 7.6m-8.2 0l8.2-7.6M455.2 702.4h11.8m-5.9-5.2v10.4m-4.1-9l8.2 7.6m-8.2 0l8.2-7.6M417.8 681.4h11.8m-5.9-5.2v10.4m-4.1-9l8.2 7.6m-8.2 0l8.2-7.6M476.3 725.8h11.8m-5.9-5.2v10.4m-4.1-9l8.2 7.6m-8.2 0l8.2-7.6M419.3 690.5h11.8m-5.9-5.2v10.4m-4.1-9l8.2 7.6m-8.2 0l8.2-7.6M463.4 705.7h11.8m-5.9-5.2v10.4m-4.1-9l8.2 7.6m-8.2 0l8.2-7.6M447.5 698.1h11.8m-5.9-5.2v10.4m-4.1-9l8.2 7.6m-8.2 0l8.2-7.6M411.1 680.8h11.8m-5.9-5.2v10.4m-4.1-9l8.2 7.6m-8.2 0l8.2-7.6M501.9 741.4h11.8m-5.9-5.2v10.4m-4.1-9l8.2 7.6m-8.2 0l8.2-7.6M450.1 696.6h11.8m-5.9-5.2v10.4m-4.1-9l8.2 7.6m-8.2 0l8.2-7.6M443.9 690.8h11.8m-5.9-5.2v10.4m-4.1-9l8.2 7.6m-8.2 0l8.2-7.6M499.8 738.9h11.8m-5.9-5.2v10.4m-4.1-9l8.2 7.6m-8.2 0l8.2-7.6M437.3 682.0h11.8m-5.9-5.2v10.4m-4.1-9l8.2 7.6m-8.2 0l8.2-7.6M503.0 745.6h11.8m-5.9-5.2v10.4m-4.1-9l8.2 7.6m-8.2 0l8.2-7.6M480.4 730.8h11.8m-5.9-5.2v10.4m-4.1-9l8.2 7.6m-8.2 0l8.2-7.6M506.0 739.9h11.8m-5.9-5.2v10.4m-4.1-9l8.2 7.6m-8.2 0l8.2-7.6M506.2 741.1h11.8m-5.9-5.2v10.4m-4.1-9l8.2 7.6m-8.2 0l8.2-7.6M428.6 677.6h11.8m-5.9-5.2v10.4m-4.1-9l8.2 7.6m-8.2 0l8.2-7.6M504.0 745.6h11.8m-5.9-5.2v10.4m-4.1-9l8.2 7.6m-8.2 0l8.2-7.6M430.3 679.2h11.8m-5.9-5.2v10.4m-4.1-9l8.2 7.6m-8.2 0l8.2-7.6M432.9 682.8h11.8m-5.9-5.2v10.4m-4.1-9l8.2 7.6m-8.2 0l8.2-7.6M515.2 757.3h11.8m-5.9-5.2v10.4m-4.1-9l8.2 7.6m-8.2 0l8.2-7.6M433.3 688.9h11.8m-5.9-5.2v10.4m-4.1-9l8.2 7.6m-8.2 0l8.2-7.6M538.7 763.5h11.8m-5.9-5.2v10.4m-4.1-9l8.2 7.6m-8.2 0l8.2-7.6M538.5 768.3h11.8m-5.9-5.2v10.4m-4.1-9l8.2 7.6m-8.2 0l8.2-7.6M429.4 689.9h11.8m-5.9-5.2v10.4m-4.1-9l8.2 7.6m-8.2 0l8.2-7.6M511.1 748.3h11.8m-5.9-5.2v10.4m-4.1-9l8.2 7.6m-8.2 0l8.2-7.6M479.2 717.1h11.8m-5.9-5.2v10.4m-4.1-9l8.2 7.6m-8.2 0l8.2-7.6M488.5 735.6h11.8m-5.9-5.2v10.4m-4.1-9l8.2 7.6m-8.2 0l8.2-7.6M440.8 682.7h11.8m-5.9-5.2v10.4m-4.1-9l8.2 7.6m-8.2 0l8.2-7.6M465.6 699.8h11.8m-5.9-5.2v10.4m-4.1-9l8.2 7.6m-8.2 0l8.2-7.6M455.3 713.1h11.8m-5.9-5.2v10.4m-4.1-9l8.2 7.6m-8.2 0l8.2-7.6M551.8 774.4h11.8m-5.9-5.2v10.4m-4.1-9l8.2 7.6m-8.2 0l8.2-7.6M493.0 741.6h11.8m-5.9-5.2v10.4m-4.1-9l8.2 7.6m-8.2 0l8.2-7.6M499.1 731.2h11.8m-5.9-5.2v10.4m-4.1-9l8.2 7.6m-8.2 0l8.2-7.6M488.7 712.6h11.8m-5.9-5.2v10.4m-4.1-9l8.2 7.6m-8.2 0l8.2-7.6M496.9 742.9h11.8m-5.9-5.2v10.4m-4.1-9l8.2 7.6m-8.2 0l8.2-7.6M460.3 696.7h11.8m-5.9-5.2v10.4m-4.1-9l8.2 7.6m-8.2 0l8.2-7.6M444.0 705.5h11.8m-5.9-5.2v10.4m-4.1-9l8.2 7.6m-8.2 0l8.2-7.6M440.4 688.4h11.8m-5.9-5.2v10.4m-4.1-9l8.2 7.6m-8.2 0l8.2-7.6M538.7 769.9h11.8m-5.9-5.2v10.4m-4.1-9l8.2 7.6m-8.2 0l8.2-7.6M482.9 733.7h11.8m-5.9-5.2v10.4m-4.1-9l8.2 7.6m-8.2 0l8.2-7.6M508.9 743.5h11.8m-5.9-5.2v10.4m-4.1-9l8.2 7.6m-8.2 0l8.2-7.6M450.5 701.8h11.8m-5.9-5.2v10.4m-4.1-9l8.2 7.6m-8.2 0l8.2-7.6M517.2 736.5h11.8m-5.9-5.2v10.4m-4.1-9l8.2 7.6m-8.2 0l8.2-7.6M447.5 692.4h11.8m-5.9-5.2v10.4m-4.1-9l8.2 7.6m-8.2 0l8.2-7.6M498.8 735.3h11.8m-5.9-5.2v10.4m-4.1-9l8.2 7.6m-8.2 0l8.2-7.6M506.8 744.5h11.8m-5.9-5.2v10.4m-4.1-9l8.2 7.6m-8.2 0l8.2-7.6M516.9 758.1h11.8m-5.9-5.2v10.4m-4.1-9l8.2 7.6m-8.2 0l8.2-7.6M548.3 762.8h11.8m-5.9-5.2v10.4m-4.1-9l8.2 7.6m-8.2 0l8.2-7.6M421.6 686.9h11.8m-5.9-5.2v10.4m-4.1-9l8.2 7.6m-8.2 0l8.2-7.6M508.3 751.8h11.8m-5.9-5.2v10.4m-4.1-9l8.2 7.6m-8.2 0l8.2-7.6M464.7 715.6h11.8m-5.9-5.2v10.4m-4.1-9l8.2 7.6m-8.2 0l8.2-7.6M451.7 697.0h11.8m-5.9-5.2v10.4m-4.1-9l8.2 7.6m-8.2 0l8.2-7.6M433.4 689.7h11.8m-5.9-5.2v10.4m-4.1-9l8.2 7.6m-8.2 0l8.2-7.6M426.7 690.2h11.8m-5.9-5.2v10.4m-4.1-9l8.2 7.6m-8.2 0l8.2-7.6M540.0 756.6h11.8m-5.9-5.2v10.4m-4.1-9l8.2 7.6m-8.2 0l8.2-7.6M459.9 713.3h11.8m-5.9-5.2v10.4m-4.1-9l8.2 7.6m-8.2 0l8.2-7.6M450.7 705.9h11.8m-5.9-5.2v10.4m-4.1-9l8.2 7.6m-8.2 0l8.2-7.6M549.1 775.9h11.8m-5.9-5.2v10.4m-4.1-9l8.2 7.6m-8.2 0l8.2-7.6M467.8 722.2h11.8m-5.9-5.2v10.4m-4.1-9l8.2 7.6m-8.2 0l8.2-7.6M423.3 680.4h11.8m-5.9-5.2v10.4m-4.1-9l8.2 7.6m-8.2 0l8.2-7.6M473.6 714.7h11.8m-5.9-5.2v10.4m-4.1-9l8.2 7.6m-8.2 0l8.2-7.6M525.5 759.6h11.8m-5.9-5.2v10.4m-4.1-9l8.2 7.6m-8.2 0l8.2-7.6M513.5 734.0h11.8m-5.9-5.2v10.4m-4.1-9l8.2 7.6m-8.2 0l8.2-7.6M536.4 754.7h11.8m-5.9-5.2v10.4m-4.1-9l8.2 7.6m-8.2 0l8.2-7.6M427.7 697.1h11.8m-5.9-5.2v10.4m-4.1-9l8.2 7.6m-8.2 0l8.2-7.6M441.7 688.1h11.8m-5.9-5.2v10.4m-4.1-9l8.2 7.6m-8.2 0l8.2-7.6M490.1 715.7h11.8m-5.9-5.2v10.4m-4.1-9l8.2 7.6m-8.2 0l8.2-7.6M525.3 760.6h11.8m-5.9-5.2v10.4m-4.1-9l8.2 7.6m-8.2 0l8.2-7.6M535.4 749.0h11.8m-5.9-5.2v10.4m-4.1-9l8.2 7.6m-8.2 0l8.2-7.6M489.6 715.4h11.8m-5.9-5.2v10.4m-4.1-9l8.2 7.6m-8.2 0l8.2-7.6M495.7 737.1h11.8m-5.9-5.2v10.4m-4.1-9l8.2 7.6m-8.2 0l8.2-7.6M538.5 753.4h11.8m-5.9-5.2v10.4m-4.1-9l8.2 7.6m-8.2 0l8.2-7.6M514.5 748.1h11.8m-5.9-5.2v10.4m-4.1-9l8.2 7.6m-8.2 0l8.2-7.6M442.6 688.3h11.8m-5.9-5.2v10.4m-4.1-9l8.2 7.6m-8.2 0l8.2-7.6M502.0 742.2h11.8m-5.9-5.2v10.4m-4.1-9l8.2 7.6m-8.2 0l8.2-7.6M528.6 761.9h11.8m-5.9-5.2v10.4m-4.1-9l8.2 7.6m-8.2 0l8.2-7.6M518.0 751.2h11.8m-5.9-5.2v10.4m-4.1-9l8.2 7.6m-8.2 0l8.2-7.6M453.6 713.6h11.8m-5.9-5.2v10.4m-4.1-9l8.2 7.6m-8.2 0l8.2-7.6M443.1 691.4h11.8m-5.9-5.2v10.4m-4.1-9l8.2 7.6m-8.2 0l8.2-7.6M506.8 736.0h11.8m-5.9-5.2v10.4m-4.1-9l8.2 7.6m-8.2 0l8.2-7.6M498.4 732.5h11.8m-5.9-5.2v10.4m-4.1-9l8.2 7.6m-8.2 0l8.2-7.6M487.3 717.3h11.8m-5.9-5.2v10.4m-4.1-9l8.2 7.6m-8.2 0l8.2-7.6M522.0 752.5h11.8m-5.9-5.2v10.4m-4.1-9l8.2 7.6m-8.2 0l8.2-7.6M474.3 713.4h11.8m-5.9-5.2v10.4m-4.1-9l8.2 7.6m-8.2 0l8.2-7.6M477.5 725.7h11.8m-5.9-5.2v10.4m-4.1-9l8.2 7.6m-8.2 0l8.2-7.6M550.7 762.0h11.8m-5.9-5.2v10.4m-4.1-9l8.2 7.6m-8.2 0l8.2-7.6M455.1 691.4h11.8m-5.9-5.2v10.4m-4.1-9l8.2 7.6m-8.2 0l8.2-7.6M503.9 740.3h11.8m-5.9-5.2v10.4m-4.1-9l8.2 7.6m-8.2 0l8.2-7.6M505.7 755.4h11.8m-5.9-5.2v10.4m-4.1-9l8.2 7.6m-8.2 0l8.2-7.6M419.0 691.9h11.8m-5.9-5.2v10.4m-4.1-9l8.2 7.6m-8.2 0l8.2-7.6M460.2 697.5h11.8m-5.9-5.2v10.4m-4.1-9l8.2 7.6m-8.2 0l8.2-7.6M552.6 772.6h11.8m-5.9-5.2v10.4m-4.1-9l8.2 7.6m-8.2 0l8.2-7.6M515.5 752.5h11.8m-5.9-5.2v10.4m-4.1-9l8.2 7.6m-8.2 0l8.2-7.6M410.8 680.0h11.8m-5.9-5.2v10.4m-4.1-9l8.2 7.6m-8.2 0l8.2-7.6M432.3 673.5h11.8m-5.9-5.2v10.4m-4.1-9l8.2 7.6m-8.2 0l8.2-7.6M431.9 690.1h11.8m-5.9-5.2v10.4m-4.1-9l8.2 7.6m-8.2 0l8.2-7.6M446.7 698.9h11.8m-5.9-5.2v10.4m-4.1-9l8.2 7.6m-8.2 0l8.2-7.6M557.0 776.3h11.8m-5.9-5.2v10.4m-4.1-9l8.2 7.6m-8.2 0l8.2-7.6M484.0 709.3h11.8m-5.9-5.2v10.4m-4.1-9l8.2 7.6m-8.2 0l8.2-7.6M528.2 750.1h11.8m-5.9-5.2v10.4m-4.1-9l8.2 7.6m-8.2 0l8.2-7.6M458.0 707.9h11.8m-5.9-5.2v10.4m-4.1-9l8.2 7.6m-8.2 0l8.2-7.6M498.4 723.0h11.8m-5.9-5.2v10.4m-4.1-9l8.2 7.6m-8.2 0l8.2-7.6M532.9 751.7h11.8m-5.9-5.2v10.4m-4.1-9l8.2 7.6m-8.2 0l8.2-7.6M437.9 698.2h11.8m-5.9-5.2v10.4m-4.1-9l8.2 7.6m-8.2 0l8.2-7.6M551.7 768.3h11.8m-5.9-5.2v10.4m-4.1-9l8.2 7.6m-8.2 0l8.2-7.6M452.1 703.8h11.8m-5.9-5.2v10.4m-4.1-9l8.2 7.6m-8.2 0l8.2-7.6M459.4 698.3h11.8m-5.9-5.2v10.4m-4.1-9l8.2 7.6m-8.2 0l8.2-7.6M545.7 772.3h11.8m-5.9-5.2v10.4m-4.1-9l8.2 7.6m-8.2 0l8.2-7.6M497.2 726.7h11.8m-5.9-5.2v10.4m-4.1-9l8.2 7.6m-8.2 0l8.2-7.6M500.1 730.0h11.8m-5.9-5.2v10.4m-4.1-9l8.2 7.6m-8.2 0l8.2-7.6M442.3 699.3h11.8m-5.9-5.2v10.4m-4.1-9l8.2 7.6m-8.2 0l8.2-7.6M509.5 738.1h11.8m-5.9-5.2v10.4m-4.1-9l8.2 7.6m-8.2 0l8.2-7.6M472.4 717.7h11.8m-5.9-5.2v10.4m-4.1-9l8.2 7.6m-8.2 0l8.2-7.6M532.1 747.7h11.8m-5.9-5.2v10.4m-4.1-9l8.2 7.6m-8.2 0l8.2-7.6M490.5 739.8h11.8m-5.9-5.2v10.4m-4.1-9l8.2 7.6m-8.2 0l8.2-7.6M445.8 701.4h11.8m-5.9-5.2v10.4m-4.1-9l8.2 7.6m-8.2 0l8.2-7.6M503.9 747.8h11.8m-5.9-5.2v10.4m-4.1-9l8.2 7.6m-8.2 0l8.2-7.6M510.9 748.7h11.8m-5.9-5.2v10.4m-4.1-9l8.2 7.6m-8.2 0l8.2-7.6M440.3 687.6h11.8m-5.9-5.2v10.4m-4.1-9l8.2 7.6m-8.2 0l8.2-7.6M549.6 765.0h11.8m-5.9-5.2v10.4m-4.1-9l8.2 7.6m-8.2 0l8.2-7.6M490.3 707.9h11.8m-5.9-5.2v10.4m-4.1-9l8.2 7.6m-8.2 0l8.2-7.6M543.1 762.9h11.8m-5.9-5.2v10.4m-4.1-9l8.2 7.6m-8.2 0l8.2-7.6M518.6 750.8h11.8m-5.9-5.2v10.4m-4.1-9l8.2 7.6m-8.2 0l8.2-7.6M455.5 709.2h11.8m-5.9-5.2v10.4m-4.1-9l8.2 7.6m-8.2 0l8.2-7.6M486.8 737.8h11.8m-5.9-5.2v10.4m-4.1-9l8.2 7.6m-8.2 0l8.2-7.6M474.1 729.0h11.8m-5.9-5.2v10.4m-4.1-9l8.2 7.6m-8.2 0l8.2-7.6M534.5 769.7h11.8m-5.9-5.2v10.4m-4.1-9l8.2 7.6m-8.2 0l8.2-7.6M470.4 716.1h11.8m-5.9-5.2v10.4m-4.1-9l8.2 7.6m-8.2 0l8.2-7.6M498.8 721.5h11.8m-5.9-5.2v10.4m-4.1-9l8.2 7.6m-8.2 0l8.2-7.6M451.5 694.2h11.8m-5.9-5.2v10.4m-4.1-9l8.2 7.6m-8.2 0l8.2-7.6M485.8 732.0h11.8m-5.9-5.2v10.4m-4.1-9l8.2 7.6m-8.2 0l8.2-7.6M411.1 690.1h11.8m-5.9-5.2v10.4m-4.1-9l8.2 7.6m-8.2 0l8.2-7.6M527.4 753.1h11.8m-5.9-5.2v10.4m-4.1-9l8.2 7.6m-8.2 0l8.2-7.6M472.4 724.4h11.8m-5.9-5.2v10.4m-4.1-9l8.2 7.6m-8.2 0l8.2-7.6M472.1 727.0h11.8m-5.9-5.2v10.4m-4.1-9l8.2 7.6m-8.2 0l8.2-7.6M428.6 701.3h11.8m-5.9-5.2v10.4m-4.1-9l8.2 7.6m-8.2 0l8.2-7.6M489.7 727.8h11.8m-5.9-5.2v10.4m-4.1-9l8.2 7.6m-8.2 0l8.2-7.6M460.3 702.2h11.8m-5.9-5.2v10.4m-4.1-9l8.2 7.6m-8.2 0l8.2-7.6M480.5 715.1h11.8m-5.9-5.2v10.4m-4.1-9l8.2 7.6m-8.2 0l8.2-7.6M443.9 694.6h11.8m-5.9-5.2v10.4m-4.1-9l8.2 7.6m-8.2 0l8.2-7.6M480.5 728.0h11.8m-5.9-5.2v10.4m-4.1-9l8.2 7.6m-8.2 0l8.2-7.6M422.3 695.2h11.8m-5.9-5.2v10.4m-4.1-9l8.2 7.6m-8.2 0l8.2-7.6M485.7 710.8h11.8m-5.9-5.2v10.4m-4.1-9l8.2 7.6m-8.2 0l8.2-7.6M480.4 720.6h11.8m-5.9-5.2v10.4m-4.1-9l8.2 7.6m-8.2 0l8.2-7.6M529.4 756.1h11.8m-5.9-5.2v10.4m-4.1-9l8.2 7.6m-8.2 0l8.2-7.6M442.4 706.9h11.8m-5.9-5.2v10.4m-4.1-9l8.2 7.6m-8.2 0l8.2-7.6M457.8 717.3h11.8m-5.9-5.2v10.4m-4.1-9l8.2 7.6m-8.2 0l8.2-7.6M534.6 753.5h11.8m-5.9-5.2v10.4m-4.1-9l8.2 7.6m-8.2 0l8.2-7.6M487.7 742.4h11.8m-5.9-5.2v10.4m-4.1-9l8.2 7.6m-8.2 0l8.2-7.6M515.4 742.5h11.8m-5.9-5.2v10.4m-4.1-9l8.2 7.6m-8.2 0l8.2-7.6M464.1 704.4h11.8m-5.9-5.2v10.4m-4.1-9l8.2 7.6m-8.2 0l8.2-7.6M420.9 686.9h11.8m-5.9-5.2v10.4m-4.1-9l8.2 7.6m-8.2 0l8.2-7.6M458.4 718.4h11.8m-5.9-5.2v10.4m-4.1-9l8.2 7.6m-8.2 0l8.2-7.6M456.2 712.0h11.8m-5.9-5.2v10.4m-4.1-9l8.2 7.6m-8.2 0l8.2-7.6M461.7 717.2h11.8m-5.9-5.2v10.4m-4.1-9l8.2 7.6m-8.2 0l8.2-7.6M425.6 678.4h11.8m-5.9-5.2v10.4m-4.1-9l8.2 7.6m-8.2 0l8.2-7.6M428.0 678.3h11.8m-5.9-5.2v10.4m-4.1-9l8.2 7.6m-8.2 0l8.2-7.6M498.7 738.0h11.8m-5.9-5.2v10.4m-4.1-9l8.2 7.6m-8.2 0l8.2-7.6M475.0 721.8h11.8m-5.9-5.2v10.4m-4.1-9l8.2 7.6m-8.2 0l8.2-7.6M499.0 745.2h11.8m-5.9-5.2v10.4m-4.1-9l8.2 7.6m-8.2 0l8.2-7.6M507.3 752.5h11.8m-5.9-5.2v10.4m-4.1-9l8.2 7.6m-8.2 0l8.2-7.6M389.4 667.4h11.8m-5.9-5.2v10.4m-4.1-9l8.2 7.6m-8.2 0l8.2-7.6M429.1 673.0h11.8m-5.9-5.2v10.4m-4.1-9l8.2 7.6m-8.2 0l8.2-7.6M554.1 779.0h11.8m-5.9-5.2v10.4m-4.1-9l8.2 7.6m-8.2 0l8.2-7.6M550.1 784.0h11.8m-5.9-5.2v10.4m-4.1-9l8.2 7.6m-8.2 0l8.2-7.6M555.1 785.0h11.8m-5.9-5.2v10.4m-4.1-9l8.2 7.6m-8.2 0l8.2-7.6M547.1 776.0h11.8m-5.9-5.2v10.4m-4.1-9l8.2 7.6m-8.2 0l8.2-7.6" stroke="#edb120" stroke-width="1.25" fill="none"/><g font-family="Liberation Sans, Arial, sans-serif" font-size="16" fill="#262626" stroke="#262626" stroke-width="0.35"><text x="51.3" y="517.3" text-anchor="end">1</text><text x="51.3" y="605.4" text-anchor="end">0.5</text><text x="51.3" y="693.5" text-anchor="end">0</text><text x="51.3" y="781.6" text-anchor="end">-0.5</text><text x="51.3" y="869.7" text-anchor="end">-1</text><text x="51.3" y="957.8" text-anchor="end">-1.5</text><text x="58.4" y="973.8" text-anchor="middle">-5</text><text x="244.7" y="973.8" text-anchor="middle">0</text><text x="430.3" y="973.8" text-anchor="middle">5</text><text x="615.8" y="973.8" text-anchor="middle">10</text></g><rect x="568.3" y="501.4" width="72.0" height="194.9" fill="#fff" stroke="#8e8e8e" stroke-width="2.1"/><path d="M587.4 515.0h11.8m-5.9-5.2v10.4m-4.1-9l8.2 7.6m-8.2 0l8.2-7.6" stroke="#ff0000" stroke-width="1.25" fill="none"/><path d="M587.4 536.1h11.8m-5.9-5.2v10.4m-4.1-9l8.2 7.6m-8.2 0l8.2-7.6" stroke="#00ff00" stroke-width="1.25" fill="none"/><path d="M587.4 557.3h11.8m-5.9-5.2v10.4m-4.1-9l8.2 7.6m-8.2 0l8.2-7.6" stroke="#0000ff" stroke-width="1.25" fill="none"/><path d="M587.4 578.5h11.8m-5.9-5.2v10.4m-4.1-9l8.2 7.6m-8.2 0l8.2-7.6" stroke="#00ffff" stroke-width="1.25" fill="none"/><path d="M587.4 599.6h11.8m-5.9-5.2v10.4m-4.1-9l8.2 7.6m-8.2 0l8.2-7.6" stroke="#ff00ff" stroke-width="1.25" fill="none"/><path d="M587.4 620.8h11.8m-5.9-5.2v10.4m-4.1-9l8.2 7.6m-8.2 0l8.2-7.6" stroke="#ffff00" stroke-width="1.25" fill="none"/><path d="M587.4 641.9h11.8m-5.9-5.2v10.4m-4.1-9l8.2 7.6m-8.2 0l8.2-7.6" stroke="#000000" stroke-width="1.25" fill="none"/><path d="M587.4 663.0h11.8m-5.9-5.2v10.4m-4.1-9l8.2 7.6m-8.2 0l8.2-7.6" stroke="#0072bd" stroke-width="1.25" fill="none"/><path d="M587.4 684.2h11.8m-5.9-5.2v10.4m-4.1-9l8.2 7.6m-8.2 0l8.2-7.6" stroke="#edb120" stroke-width="1.25" fill="none"/><g font-family="Liberation Sans, Arial, sans-serif" font-size="14" fill="#111" stroke="#111" stroke-width="0.3"><text x="616.2" y="520.2">F0</text><text x="616.2" y="541.4">F1</text><text x="616.2" y="562.5">F2</text><text x="616.2" y="583.7">F3</text><text x="616.2" y="604.8">F4</text><text x="616.2" y="626.0">F5</text><text x="616.2" y="647.1">F6</text><text x="616.2" y="668.2">F7</text><text x="616.2" y="689.4">F8</text></g><text transform="translate(2.2 515.0) scale(1.1 1)" font-family="Liberation Serif, Times New Roman, serif" font-weight="bold" font-size="27.5" fill="#000">(b)</text></svg></body></html>
